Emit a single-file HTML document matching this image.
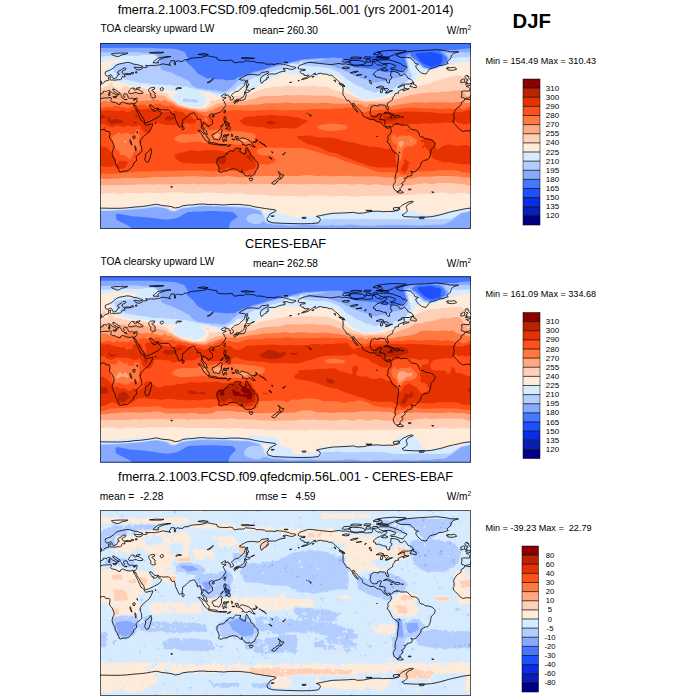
<!DOCTYPE html><html><head><meta charset="utf-8"><title>DJF TOA clearsky upward LW</title><style>html,body{margin:0;padding:0;background:#fff}svg{display:block}</style></head><body><svg width="700" height="700" viewBox="0 0 700 700" font-family="'Liberation Sans', sans-serif" fill="#000"><rect width="700" height="700" fill="#fff"/><defs><clipPath id="c0"><rect x="100" y="43.0" width="371" height="186.0"/></clipPath><clipPath id="c1"><rect x="100" y="276.3" width="371" height="186.4"/></clipPath><clipPath id="c2"><rect x="100" y="510.0" width="371" height="186.0"/></clipPath></defs><g clip-path="url(#c0)"><rect x="99" y="42.0" width="373" height="188.0" fill="#1e50ff"/><path fill="#4678ff" fill-rule="evenodd" d="M96.0,39.0 96.0,233.0 475.0,233.0 475.0,39.0ZM370.4,57.9 371.4,56.6 373.0,56.0 378.4,55.3 382.2,55.5 383.5,56.0 387.1,56.0 389.2,56.6 390.0,57.3 390.0,58.4 388.9,59.4 386.1,60.4 375.3,60.4 371.4,59.4 370.4,58.4ZM415.7,54.2 416.3,53.5 417.5,52.9 429.9,51.9 433.0,52.2 439.7,54.0 441.8,55.0 442.5,56.0 441.8,62.8 440.7,64.1 433.5,66.6 430.9,66.9 423.0,63.5 418.1,58.6Z"/><path fill="#87aaff" fill-rule="evenodd" d="M96.0,48.6 96.0,233.0 131.6,233.0 131.8,228.9 131.0,227.8 126.4,224.7 117.9,220.6 116.1,219.1 115.8,214.7 116.9,213.6 132.6,216.2 146.5,217.2 164.8,219.6 168.7,219.6 177.7,217.8 187.7,212.1 191.8,212.1 193.9,211.6 205.0,211.6 207.6,211.0 216.3,211.0 218.4,211.6 227.1,211.6 229.7,212.1 232.8,212.1 237.5,216.2 237.5,217.0 231.8,221.1 230.2,222.7 228.9,227.8 228.9,233.0 475.0,233.0 475.0,48.0 470.4,48.0 468.0,48.6 460.6,49.1 455.2,50.1 444.8,50.1 440.5,50.9 440.5,51.4 447.2,57.9 447.2,59.4 446.1,62.0 444.8,63.3 441.0,65.1 432.0,68.2 428.1,68.2 426.0,67.7 423.5,66.4 418.6,61.7 412.6,57.6 410.8,55.8 410.3,54.8 410.6,52.9 408.0,54.0 405.7,55.8 404.9,57.1 405.4,61.0 406.7,65.1 405.4,67.9 401.8,71.8 392.8,71.8 390.7,72.3 386.1,72.3 376.3,69.5 367.3,68.7 365.5,68.2 362.1,68.2 360.3,67.7 357.0,67.7 350.6,65.6 348.8,64.6 345.4,62.0 343.9,59.9 341.5,57.9 337.2,57.9 333.3,57.3 328.4,57.9 320.9,57.9 301.9,59.4 289.5,62.5 281.0,63.5 260.9,70.3 253.9,71.8 247.5,74.4 244.4,74.9 240.0,77.0 237.5,77.5 234.1,80.1 229.7,79.8 228.2,80.3 225.6,80.3 222.8,79.3 219.7,79.6 213.2,79.0 210.9,78.0 207.6,78.5 205.8,78.0 199.8,74.4 198.3,73.9 196.2,72.1 196.0,71.3 192.4,67.2 185.7,61.5 185.9,60.4 187.5,59.1 187.7,58.1 185.1,52.7 184.1,51.7 175.9,49.1 169.2,48.6 159.1,48.6 154.0,48.0 139.8,47.8 99.4,48.0Z"/><path fill="#b4cdff" fill-rule="evenodd" d="M96.0,52.4 96.0,212.3 100.1,211.0 114.3,211.0 116.6,210.5 130.0,210.0 131.8,209.5 141.9,209.0 156.0,206.9 165.6,208.5 171.8,211.6 175.4,211.6 178.2,210.0 182.3,208.5 202.9,206.1 219.4,206.4 221.7,206.9 233.1,206.9 235.4,207.4 243.9,207.4 246.0,207.9 249.8,207.9 259.3,210.8 260.6,211.8 261.7,214.4 261.4,215.2 256.5,213.4 253.4,213.4 249.8,214.4 248.3,215.4 246.7,217.2 246.5,219.8 248.3,221.9 253.7,224.0 258.3,224.0 260.9,222.9 263.5,220.9 265.0,222.9 266.3,223.4 274.0,224.7 281.2,224.7 289.0,225.8 305.5,225.0 314.7,225.0 316.5,225.5 328.4,225.5 330.5,225.0 333.0,225.0 335.9,225.5 340.2,225.5 349.8,224.5 365.0,225.8 372.5,225.8 384.3,225.0 408.5,225.0 417.8,225.5 444.6,224.5 451.0,220.9 460.8,213.6 468.6,212.1 471.1,211.0 475.0,211.0 475.0,52.4 457.2,52.2 446.4,52.7 445.6,53.5 448.5,57.3 448.5,58.9 446.7,63.0 445.9,63.8 441.8,65.6 430.9,69.2 428.6,69.2 423.5,67.7 416.5,61.5 409.0,56.3 407.7,56.3 406.5,56.8 405.9,57.6 406.5,61.0 407.7,64.3 408.0,68.2 407.7,71.0 406.7,72.8 403.9,74.4 400.5,77.0 398.5,77.7 393.3,78.5 388.7,80.6 385.6,81.1 384.8,81.6 380.2,81.6 377.1,82.7 372.7,82.4 366.3,79.6 361.6,78.5 357.8,76.5 354.4,75.9 349.5,72.8 345.1,71.3 342.6,69.7 336.1,67.7 330.2,65.1 323.5,64.1 319.6,64.1 308.3,63.0 307.5,62.5 308.3,61.7 323.8,59.7 324.5,59.4 324.3,59.1 318.6,58.9 315.8,59.4 305.0,59.9 300.3,61.0 297.7,62.5 293.6,62.5 288.7,63.5 283.3,64.1 278.2,66.1 273.8,67.2 249.8,74.9 238.5,80.1 230.5,88.3 227.1,89.9 225.3,91.2 223.3,91.7 221.5,91.7 216.1,90.4 211.9,90.4 209.9,89.6 206.8,89.6 204.2,88.9 196.7,88.1 192.1,85.5 189.3,81.6 187.5,80.1 184.1,79.0 182.1,77.5 175.4,74.9 170.7,72.3 167.9,71.8 161.7,69.5 160.4,67.4 159.9,57.9 157.3,55.5 153.2,53.5 141.4,52.7 137.5,51.9Z"/><path fill="#d7ebff" fill-rule="evenodd" d="M96.0,57.1 96.0,211.6 100.1,210.3 110.7,210.3 125.4,209.5 134.7,208.5 141.4,208.2 156.0,206.1 166.9,207.9 171.2,210.3 173.0,210.8 174.8,210.8 183.1,207.4 185.4,207.4 201.4,205.4 211.2,205.4 213.5,205.9 228.4,205.9 233.3,206.4 248.8,206.9 259.3,209.8 260.9,210.5 261.7,211.3 264.2,216.5 265.3,219.8 266.0,220.6 267.3,220.9 268.9,221.9 270.2,221.9 273.8,222.9 303.7,223.7 318.1,222.9 322.0,219.3 330.5,219.3 333.3,218.8 341.5,218.8 343.1,219.3 358.0,219.3 361.6,218.8 378.9,219.3 408.5,219.3 410.3,218.8 415.5,218.8 418.6,219.3 421.9,218.8 426.0,218.8 428.6,219.3 443.8,219.3 446.7,218.8 450.5,219.1 455.2,216.7 461.1,212.6 467.0,211.6 471.1,210.3 475.0,210.3 475.0,56.6 465.2,57.3 458.8,57.3 455.9,57.9 451.0,57.9 450.3,58.4 448.2,62.2 446.4,64.6 430.9,70.0 428.6,70.0 424.0,69.0 422.4,68.2 413.9,61.2 407.5,58.4 407.2,60.2 408.5,63.8 409.0,67.7 410.1,71.3 411.9,74.6 411.9,76.5 409.0,79.6 406.2,81.9 403.1,83.2 399.5,85.5 396.2,86.8 394.1,88.3 387.1,90.9 378.9,91.4 376.1,92.5 374.3,92.5 372.2,91.2 366.3,89.9 361.4,87.3 357.0,85.8 355.2,84.2 348.5,80.6 345.7,78.5 340.8,73.4 336.9,71.3 334.8,70.8 330.2,68.7 326.3,67.7 316.3,66.6 311.9,66.6 303.7,65.6 302.6,64.1 302.9,62.0 302.1,61.5 300.8,62.0 297.5,64.8 294.6,63.8 291.0,63.8 287.7,64.6 285.9,64.6 284.9,65.1 284.3,67.2 281.2,69.2 272.0,71.5 267.9,73.4 264.0,75.9 261.9,76.5 255.2,77.0 245.4,82.4 243.1,84.2 238.7,85.5 234.4,89.9 231.8,90.7 228.2,92.5 223.0,94.0 216.6,93.5 215.8,93.0 211.9,92.5 208.9,91.2 205.0,90.9 201.4,89.9 196.5,89.4 193.9,88.3 190.8,88.3 186.7,86.5 182.3,86.5 179.5,85.8 171.8,85.8 169.7,84.7 165.6,85.0 163.8,84.7 163.0,84.2 161.2,84.2 160.2,84.7 156.3,84.2 151.9,84.5 147.3,83.2 140.6,82.9 139.3,82.4 135.9,82.1 133.1,81.1 129.8,80.8 128.0,80.1 126.7,80.1 125.1,79.6 123.8,78.5 121.8,78.0 117.4,74.9 113.5,70.5 113.0,69.5 113.0,67.9 115.1,64.8 115.8,64.3 127.7,63.3 135.7,64.3 140.1,66.4 142.1,66.9 150.6,64.3 158.4,60.2 158.9,59.1 158.6,58.4 156.3,56.3 153.2,54.8 141.1,55.3 138.3,56.0 117.9,55.3 113.5,56.0 107.1,56.0 101.7,56.8ZM182.8,100.0 183.9,98.4 185.4,98.4 189.5,99.4 193.7,98.9 196.5,99.4 198.5,101.5 197.5,102.8 195.7,102.8 194.9,102.3 192.6,102.3 191.3,101.8 184.4,102.0 183.1,101.3ZM178.5,96.6 179.7,96.3 180.3,97.1 179.7,97.6 179.0,97.6Z"/><path fill="#ffebda" fill-rule="evenodd" d="M410.3,64.1 410.1,64.8 410.6,66.9 411.6,67.7 411.9,66.1 411.1,64.6ZM96.0,61.7 96.0,209.0 109.7,209.0 111.7,208.5 116.6,208.5 121.3,207.4 123.1,207.9 128.0,207.9 131.0,207.4 136.5,205.4 139.0,205.9 142.1,205.9 144.7,205.1 151.1,205.6 157.1,204.8 165.8,206.4 168.1,207.4 171.0,209.5 174.3,210.3 183.1,205.1 189.0,205.4 193.1,204.3 201.1,204.3 208.3,203.3 209.1,203.8 213.5,204.6 224.6,204.1 235.6,205.1 246.0,205.4 250.6,205.9 261.2,209.0 262.2,209.8 263.2,212.3 264.0,213.1 265.3,213.1 267.6,212.3 268.1,211.8 268.1,210.3 268.9,209.5 273.8,209.5 275.6,210.3 275.8,212.1 276.6,212.6 284.1,215.2 290.3,215.7 295.7,218.0 299.0,217.8 306.5,216.2 315.0,216.5 316.8,215.2 322.0,213.6 328.4,213.1 330.5,212.6 349.8,212.1 363.4,212.9 368.3,211.0 379.4,210.8 383.0,211.6 387.7,211.6 393.3,210.8 399.2,208.2 400.8,208.7 401.6,212.1 405.2,212.1 408.0,210.0 411.1,210.0 415.0,211.0 419.1,213.1 429.6,215.2 431.5,215.2 435.8,214.1 439.7,214.1 442.3,213.6 446.7,211.6 452.1,210.3 459.3,210.0 463.4,209.0 475.0,209.0 475.0,62.0 467.0,61.7 454.1,63.5 453.1,64.1 449.5,64.6 442.8,67.7 438.4,68.7 432.0,71.3 426.0,71.3 423.5,72.8 417.3,75.2 416.5,75.9 416.3,77.2 414.7,79.8 412.1,82.1 411.6,83.9 409.8,85.8 402.1,89.9 399.2,90.4 394.4,93.5 390.0,94.5 386.1,96.6 378.6,98.2 376.8,98.9 370.6,98.7 367.8,99.2 361.9,98.7 359.6,97.1 356.0,95.6 349.8,91.4 345.9,87.6 345.4,86.5 341.5,82.4 339.2,77.5 336.1,75.7 333.0,75.4 329.7,73.9 327.9,74.4 322.5,74.1 317.1,75.2 302.1,75.2 297.7,74.4 294.1,74.4 290.3,73.6 286.1,73.6 282.3,74.4 278.4,75.9 272.2,77.5 267.6,80.8 256.3,87.8 250.1,89.4 248.3,89.4 245.2,87.8 243.6,87.8 241.6,88.9 238.2,89.4 236.2,91.4 234.1,92.5 233.1,92.5 221.2,96.6 218.6,96.6 216.3,96.1 213.7,94.5 208.9,92.5 200.4,92.0 199.8,92.5 201.9,93.8 206.0,98.2 206.5,99.2 206.0,102.0 204.0,105.6 203.2,106.2 198.8,106.9 192.9,107.2 180.3,103.8 175.1,100.2 173.8,98.7 173.3,97.1 173.3,95.1 176.4,93.0 177.4,91.7 177.2,91.4 169.2,90.9 166.9,90.1 162.2,89.9 159.6,89.1 157.1,89.1 153.2,87.8 148.0,87.3 143.7,86.3 140.1,86.5 136.5,85.5 130.8,85.5 126.9,84.2 123.8,83.7 120.2,81.9 115.8,81.6 114.3,80.6 110.9,80.1 109.1,79.0 106.8,77.0 106.8,74.9 106.1,72.3 106.3,69.7 108.1,67.9 111.2,65.9 114.3,62.8 123.6,61.2 123.8,60.7 120.5,59.9 115.6,59.9 113.8,60.4 107.6,60.4 105.5,61.0 104.0,62.0Z"/><path fill="#ffd0b8" fill-rule="evenodd" d="M170.7,207.9 171.5,209.0 172.3,209.2 174.1,209.0 174.1,208.2 173.0,207.4 171.5,207.4ZM475.0,87.0 473.2,88.3 471.4,88.3 470.1,86.8 470.1,85.5 466.0,81.9 464.2,79.3 463.7,77.7 462.4,76.5 458.8,75.4 454.4,75.4 451.8,76.5 443.6,78.5 438.2,80.6 435.3,81.1 429.4,83.7 423.0,84.7 420.4,85.8 415.7,86.8 413.4,87.8 409.6,88.6 404.1,91.4 399.5,93.0 393.8,96.1 389.2,97.1 386.1,98.9 383.5,99.4 379.9,99.4 377.6,100.2 365.5,100.5 362.1,100.0 357.0,97.6 353.4,96.6 350.3,95.1 348.2,93.5 344.6,93.2 339.5,91.4 335.1,90.7 327.6,87.3 325.3,86.8 317.6,86.8 314.2,85.8 311.1,85.8 307.8,86.5 296.7,86.5 286.4,85.5 284.6,85.8 282.0,86.8 274.8,86.8 270.4,87.8 265.3,88.3 262.4,89.4 259.1,89.9 244.9,96.3 242.1,96.1 241.1,95.6 236.9,95.6 235.9,96.1 233.3,96.1 231.3,95.6 229.2,96.6 225.3,97.1 219.7,99.2 217.9,99.2 215.8,100.7 210.9,100.5 210.1,101.3 210.1,103.6 208.9,104.9 207.3,105.4 205.2,107.5 204.0,108.0 197.5,108.2 191.8,108.0 180.3,104.9 174.6,101.3 171.8,98.4 169.9,97.6 168.1,95.3 168.1,93.5 165.8,93.5 164.5,92.7 160.9,92.5 158.6,90.9 155.0,90.9 152.2,89.4 147.5,89.9 143.2,88.1 138.0,88.3 134.9,87.3 133.6,87.3 131.6,88.1 125.9,86.3 123.1,86.5 121.8,88.9 120.2,89.4 117.9,89.4 117.1,88.6 117.1,87.3 115.8,87.8 114.3,87.3 112.5,85.5 112.8,83.2 112.2,82.7 111.2,82.7 107.9,86.0 104.5,86.8 102.2,88.3 100.4,88.3 99.1,86.8 99.1,85.5 96.0,83.2 96.0,193.7 97.8,194.3 100.6,194.3 103.2,193.5 105.5,193.5 107.6,193.0 113.3,193.0 117.1,194.0 122.0,194.0 126.7,193.0 137.2,193.0 139.8,193.5 144.2,193.5 147.5,192.4 163.0,193.2 166.9,192.4 173.6,192.2 183.6,192.4 185.4,193.0 191.1,193.5 194.7,193.0 199.8,193.2 205.0,192.4 210.4,192.4 211.9,193.0 220.4,193.0 225.3,193.7 242.3,193.5 248.3,194.5 261.7,194.5 270.9,195.8 290.5,195.8 305.0,196.8 308.8,195.8 326.9,195.5 330.7,196.6 333.8,196.6 337.9,195.8 346.4,195.8 351.8,196.6 358.3,196.8 360.6,196.1 363.4,195.8 392.3,195.8 398.2,195.5 400.3,195.0 408.8,195.0 412.6,194.3 418.6,194.5 423.0,193.7 432.7,194.0 440.5,192.4 444.8,192.4 449.7,194.0 459.8,192.7 464.7,193.0 468.8,194.3 471.6,194.3 475.0,193.5Z"/><path fill="#ffa882" fill-rule="evenodd" d="M475.0,92.5 472.9,92.5 472.4,93.8 470.1,95.8 466.7,96.1 465.5,94.8 464.9,93.0 460.8,90.4 452.3,90.7 449.0,91.4 441.2,91.7 437.4,92.5 429.1,92.2 426.0,93.0 419.3,93.5 415.2,94.5 409.6,95.1 399.0,98.7 394.9,99.7 390.2,101.8 379.4,102.5 372.5,101.8 364.2,102.3 361.6,101.3 356.7,100.2 352.9,100.2 351.1,99.4 343.9,99.2 336.4,97.1 328.7,95.6 318.9,95.8 301.1,95.1 289.8,95.6 288.2,95.1 284.3,95.1 280.2,96.1 263.0,96.1 258.8,97.1 253.4,99.2 249.6,99.7 244.4,101.3 238.7,101.0 225.3,101.5 221.7,103.3 216.3,103.8 212.5,106.4 210.7,106.9 205.8,109.5 199.3,109.8 196.7,109.0 190.3,108.5 180.5,105.9 175.6,103.3 171.0,100.2 168.1,99.2 164.3,96.1 155.5,94.5 152.7,92.2 151.1,92.5 148.0,94.0 145.5,93.8 144.7,94.3 143.9,94.3 142.9,93.0 141.6,93.0 140.3,92.0 138.0,91.2 133.9,91.4 132.8,92.0 131.8,93.5 129.5,94.0 127.2,94.0 124.3,92.5 122.3,93.0 116.4,93.2 112.0,92.2 108.4,92.7 105.5,92.7 103.0,92.2 101.9,92.5 101.4,93.8 99.6,95.6 98.1,96.1 96.0,96.1 96.0,185.2 119.7,185.2 143.7,184.2 155.0,184.4 159.1,183.9 165.8,184.4 173.0,184.4 176.6,183.9 189.5,184.2 191.1,183.7 194.7,183.7 198.5,184.4 203.7,183.9 222.2,184.4 228.2,183.4 233.8,183.7 236.2,184.2 247.0,184.2 252.4,183.7 255.5,184.2 268.6,183.9 274.6,184.4 278.4,183.9 288.7,184.2 290.8,183.7 293.1,183.7 298.0,184.4 314.0,183.9 325.8,184.2 329.2,184.7 343.3,183.7 350.8,184.4 354.7,184.4 360.1,183.7 367.3,185.0 369.9,185.0 373.7,184.2 377.1,184.2 384.6,185.5 394.6,185.2 395.4,185.7 398.7,186.0 400.3,185.5 402.1,185.7 403.1,185.2 412.4,185.2 416.3,184.2 420.9,183.9 424.8,183.1 430.9,183.9 434.5,183.9 437.9,183.1 451.8,182.9 456.4,183.7 463.1,183.9 468.3,185.5 475.0,185.2Z"/><path fill="#ff7840" fill-rule="evenodd" d="M96.0,103.1 96.0,177.5 104.5,179.0 119.2,178.5 124.3,177.7 139.5,178.0 149.3,177.7 152.4,176.9 164.0,177.2 168.1,176.7 182.6,176.7 185.9,176.2 197.5,176.2 200.4,176.7 205.5,176.4 208.3,176.9 214.0,176.9 215.6,176.4 223.8,176.4 225.6,175.9 229.5,175.9 238.2,177.2 251.1,177.2 255.5,175.9 258.3,175.9 260.1,176.4 264.8,175.9 279.4,175.9 280.5,176.7 281.2,176.7 282.8,175.7 300.6,175.9 301.9,175.4 310.9,175.1 316.0,176.2 322.2,175.7 326.1,175.7 328.4,176.2 349.3,175.7 353.1,176.4 372.2,176.2 380.4,176.7 384.8,177.5 393.6,177.5 396.2,179.0 399.5,176.9 402.9,176.9 406.7,178.5 410.8,178.5 420.1,176.4 427.6,176.7 437.4,175.9 451.0,175.9 458.5,176.4 463.1,177.5 467.5,177.5 471.9,178.5 475.0,178.8 475.0,100.7 474.2,100.7 471.6,102.8 469.8,102.8 468.3,103.3 464.4,102.8 463.9,102.3 458.2,102.0 452.8,102.8 450.3,102.8 448.5,102.3 428.4,102.3 426.6,102.8 423.2,102.8 421.1,102.3 413.9,102.3 408.5,103.3 399.2,104.4 390.2,106.2 386.1,105.6 378.1,105.9 374.5,104.4 369.6,104.1 368.8,104.4 367.8,106.2 366.8,106.9 364.2,106.4 361.6,104.4 358.3,104.1 356.0,105.1 353.9,103.8 352.6,103.6 335.4,103.8 325.0,102.8 322.0,102.8 316.0,103.6 311.1,103.1 292.3,103.3 288.2,102.5 283.6,102.5 280.0,103.3 264.8,103.3 259.9,104.4 250.6,104.4 243.9,105.4 231.3,105.1 227.1,105.6 224.8,106.4 223.3,105.9 221.5,105.9 218.6,106.9 217.1,108.0 214.8,108.5 212.5,110.6 209.6,110.3 206.3,112.1 199.3,111.6 195.2,110.0 189.8,109.5 187.0,108.5 182.8,108.0 182.1,107.5 177.7,106.4 170.7,102.3 167.6,101.8 165.6,100.2 164.0,99.7 161.7,101.3 159.4,101.3 158.1,99.7 155.0,100.2 152.9,98.2 151.9,98.7 151.1,100.2 149.6,101.0 147.3,100.2 145.7,100.2 145.0,100.7 141.9,100.7 141.1,101.3 137.2,100.7 136.5,101.3 132.3,101.8 116.1,102.3 114.8,101.8 109.1,101.8 106.6,101.3 105.8,100.7 103.2,100.7 100.6,102.8 98.8,102.8 97.3,103.3ZM401.6,140.8 403.1,141.3 403.9,142.1 403.9,143.1 402.9,145.4 400.5,147.2 400.0,147.2 398.7,144.1 398.7,143.1 400.0,141.0ZM125.1,140.3 126.4,141.6 125.9,142.6 124.6,142.3 123.8,141.6ZM411.4,139.7 411.6,140.8 410.8,141.6 410.3,141.6 410.3,140.0ZM238.0,140.3 239.0,139.2 241.8,139.0 246.2,139.2 247.5,140.5 246.7,141.6 245.4,142.1 241.1,142.1 239.0,141.6ZM224.3,136.6 225.1,136.6 225.9,137.4 225.3,139.0 224.1,138.7 223.5,137.9 223.5,137.4ZM204.5,134.1 205.0,134.1 206.0,135.1 206.0,136.1 205.2,136.6 204.5,136.4 204.0,135.6ZM216.3,133.0 218.1,133.3 219.4,134.8 219.4,135.6 217.6,138.5 216.1,138.5 214.8,137.9 213.5,136.1 213.7,135.1Z"/><path fill="#ff501a" fill-rule="evenodd" d="M96.0,107.7 96.0,172.6 101.9,173.8 112.0,173.8 124.3,173.1 129.2,172.3 132.8,172.3 137.2,171.3 145.7,171.8 154.5,171.0 162.0,171.3 164.5,170.7 170.7,171.0 180.8,170.5 203.4,170.5 207.6,171.3 216.6,171.0 219.4,172.6 221.5,172.6 227.7,171.0 234.1,171.0 236.2,171.3 240.5,172.8 241.8,172.8 244.9,174.4 248.5,174.4 249.8,174.9 251.4,174.9 254.2,173.3 257.8,168.7 260.1,164.3 263.2,164.0 265.3,164.5 268.6,164.5 273.5,162.5 275.6,160.7 275.3,158.9 273.3,156.5 271.5,155.5 263.0,155.5 259.1,154.5 257.8,153.7 257.0,152.1 257.0,151.1 258.6,149.0 265.8,147.2 276.4,147.8 282.8,147.5 284.6,148.0 300.8,148.0 311.4,150.1 320.7,153.2 321.7,153.2 328.1,155.8 336.1,157.3 345.4,161.4 348.8,162.5 350.0,162.5 355.7,164.5 361.9,166.1 375.3,171.3 380.4,172.3 393.3,172.3 394.9,172.8 398.7,172.3 401.3,174.4 402.9,174.9 405.9,174.9 407.0,174.4 410.1,174.4 415.2,171.5 431.7,171.3 438.2,170.2 449.7,170.0 457.7,170.7 463.4,172.6 467.3,172.6 472.9,173.8 475.0,173.8 475.0,107.5 473.2,108.0 470.4,106.9 468.3,106.9 464.7,109.0 462.4,109.0 459.3,107.2 458.5,107.2 456.4,108.5 453.1,109.0 449.7,108.5 446.1,108.5 444.8,109.0 439.2,109.0 435.3,108.5 420.9,108.2 410.6,107.5 394.1,109.5 374.5,110.0 371.2,111.1 368.1,111.1 365.5,112.6 364.2,112.6 363.4,112.1 360.1,112.1 356.2,110.6 352.4,108.0 350.0,107.5 345.7,107.5 341.0,108.5 335.6,108.5 331.7,109.3 311.7,109.0 304.7,110.3 285.9,110.0 280.7,110.6 275.3,109.8 268.6,109.8 266.6,110.3 257.0,110.0 255.5,110.6 242.3,110.6 240.5,110.0 232.8,110.0 228.7,111.1 224.1,111.1 221.5,111.6 218.1,113.7 215.8,113.7 214.8,114.2 212.2,114.4 209.6,113.9 207.0,116.8 202.4,115.2 201.6,114.2 200.6,113.7 198.0,113.1 194.7,111.6 188.0,110.6 185.7,109.5 182.3,109.5 180.8,108.7 178.2,108.5 171.2,105.4 165.8,106.2 164.5,105.4 162.0,105.1 159.9,103.8 156.0,103.8 154.7,104.4 153.7,105.4 150.1,104.9 148.0,105.9 146.5,105.9 144.2,104.6 138.5,104.9 135.7,106.4 131.6,106.4 127.4,108.0 124.1,106.9 121.0,106.9 117.9,105.9 114.0,105.9 112.0,107.5 110.9,107.5 108.9,106.4 107.1,107.2 104.5,106.9 103.0,108.0 99.4,106.9 97.3,106.9ZM409.6,135.1 416.8,139.7 416.8,142.6 416.0,143.9 413.7,144.9 411.9,146.5 406.7,146.2 405.4,146.7 403.1,149.0 402.3,152.4 402.3,156.3 401.3,158.1 400.8,160.4 399.8,161.7 398.0,157.8 397.7,154.2 396.4,151.4 396.4,149.8 396.9,148.5 396.9,146.2 396.4,144.7 395.6,143.6 394.1,143.4 391.8,140.3 391.5,137.2 393.8,134.8 394.9,135.1 396.9,137.4 397.7,137.4 399.8,135.6 404.1,135.6 404.9,136.1 407.2,136.1 407.7,135.6ZM138.0,129.2 138.8,129.4 139.3,130.2 139.3,131.7 138.5,133.8 140.3,135.9 138.8,139.2 139.0,141.8 139.8,143.1 139.3,145.7 140.3,148.0 140.1,149.8 138.8,150.6 135.9,150.9 134.9,151.4 132.3,155.0 131.3,158.1 130.3,158.9 126.7,157.3 124.6,155.0 122.0,155.0 120.2,154.5 119.7,154.0 119.5,151.9 118.2,149.8 116.4,149.6 115.6,149.0 115.1,146.7 113.5,144.1 113.5,143.1 112.0,141.0 111.5,138.7 113.0,135.9 113.8,135.1 115.1,135.1 117.9,132.5 118.9,132.5 121.0,134.1 126.2,132.8 129.2,133.5 131.0,135.1 131.8,135.1 133.1,134.1 134.7,133.5 135.7,132.0 135.9,130.2 136.7,129.4ZM174.6,139.5 174.8,137.9 176.1,136.6 179.2,135.1 183.1,134.1 185.9,134.6 194.9,134.1 199.3,132.5 201.4,130.2 202.7,129.4 203.7,129.4 205.0,128.4 206.0,128.4 209.6,130.4 211.9,130.4 216.3,129.4 221.7,129.4 223.5,130.4 228.7,132.0 230.0,132.0 233.3,131.0 241.8,131.2 246.5,132.5 252.4,133.0 254.2,133.8 255.7,135.9 255.7,138.7 255.0,140.8 251.1,144.4 245.7,144.1 244.7,144.7 236.9,144.7 230.0,143.9 222.8,144.1 220.2,143.1 215.3,143.1 214.0,142.6 210.4,142.6 209.4,143.1 203.2,143.1 200.6,142.1 192.1,141.8 185.4,142.8 181.0,142.8 176.4,141.3ZM317.8,126.8 319.9,125.3 323.5,124.2 332.5,123.5 343.9,124.8 346.4,125.8 347.7,127.1 347.7,127.9 345.9,129.2 343.9,129.7 337.9,130.2 336.4,130.7 329.9,131.0 326.9,130.7 319.6,129.2 317.8,127.9ZM204.5,118.0 206.3,117.8 207.0,118.6 207.6,119.9 207.3,121.9 206.3,121.9 204.2,119.1Z"/><path fill="#e63200" fill-rule="evenodd" d="M405.2,159.1 404.4,159.1 403.9,159.6 404.1,162.5 402.9,164.3 402.3,166.6 400.8,168.4 400.8,169.5 401.3,170.2 404.1,172.3 405.2,172.0 407.2,170.0 407.2,169.2 408.8,166.6 408.3,165.3 408.3,163.8 409.0,163.3 410.3,163.5 410.8,163.0 410.8,162.5 410.3,162.2 408.8,162.2ZM255.7,166.6 255.7,161.2 253.7,157.1 251.1,154.2 250.1,151.4 247.2,148.3 245.7,148.8 244.9,151.4 244.1,152.4 242.6,152.4 241.1,151.1 240.5,149.3 239.0,148.5 235.4,148.8 232.6,150.6 228.9,150.9 226.4,152.1 225.1,152.1 223.3,151.4 217.6,150.3 203.2,150.3 200.4,151.1 194.9,150.9 193.4,150.3 189.5,150.3 184.6,152.1 177.9,153.2 176.4,154.0 175.1,155.2 174.6,156.5 175.6,158.6 178.7,160.9 181.8,162.5 196.7,163.8 215.0,163.5 218.4,166.4 219.7,170.2 223.5,169.7 225.1,169.2 227.4,167.6 229.2,167.4 230.5,168.2 236.4,168.2 240.0,170.2 241.8,170.2 243.9,171.8 244.9,171.8 245.4,171.3 247.5,170.7 249.8,169.2 252.9,169.2 254.7,168.2ZM96.0,145.2 96.0,164.3 98.3,164.5 104.8,167.1 109.4,167.1 112.2,166.1 113.8,166.1 118.2,168.7 124.1,168.4 127.4,164.3 128.0,163.3 127.7,162.5 126.9,161.7 125.1,161.2 124.6,160.7 119.2,160.7 118.2,161.4 117.9,163.3 117.4,163.8 116.6,163.8 116.1,163.3 116.4,160.7 115.6,158.6 113.5,155.2 111.7,153.7 110.4,150.9 108.1,148.3 104.8,146.7 100.1,146.5ZM420.6,141.0 421.4,142.6 423.5,142.6 424.2,143.4 423.7,145.4 421.9,147.0 421.9,147.8 423.7,148.0 424.2,147.0 425.3,146.5 426.6,149.0 428.4,150.6 429.1,152.9 430.7,152.9 431.2,153.4 431.2,156.5 433.5,158.9 437.4,159.9 443.0,162.5 449.0,162.2 452.3,163.0 458.2,163.5 460.6,164.3 468.3,164.3 475.0,166.9 475.0,146.7 471.1,146.5 465.7,144.9 463.1,144.9 460.1,145.7 455.9,145.9 451.0,144.4 448.2,144.4 443.6,145.7 441.0,147.2 438.7,149.3 436.9,149.6 436.1,148.5 436.1,147.5 435.3,145.7 435.3,142.6 434.8,141.6 432.2,139.5 430.7,139.0 423.7,138.5 421.9,139.5ZM297.2,136.4 297.2,137.4 298.0,138.2 305.2,142.8 309.1,144.4 317.3,146.5 327.1,151.1 331.7,152.7 337.2,153.7 344.9,157.3 351.6,159.4 357.5,162.0 363.2,163.5 369.9,166.1 378.6,167.4 395.1,167.6 396.7,167.1 397.2,166.4 395.9,161.7 395.4,154.5 394.4,151.4 393.1,149.8 391.3,148.8 385.1,148.8 377.6,147.0 370.6,146.7 364.7,145.2 360.3,144.7 354.2,142.6 348.2,142.1 347.5,141.6 342.1,140.5 337.2,138.7 332.5,137.7 316.8,137.2 310.4,135.4 298.0,135.9ZM406.7,130.2 406.7,130.7 407.7,131.2 408.8,131.2 409.6,130.4 409.0,129.4 408.0,129.4ZM105.5,127.3 105.0,126.8 104.3,127.1 103.0,128.4 103.0,128.9 103.7,129.4 105.3,129.4 105.8,128.9ZM240.0,120.4 240.0,121.1 242.1,123.7 244.9,125.3 255.2,127.1 263.5,127.3 269.1,128.9 284.6,128.1 292.3,128.4 296.4,127.9 299.0,126.8 303.1,123.7 307.0,122.4 308.0,121.1 307.8,120.4 307.0,119.9 302.6,119.6 299.5,117.8 297.7,117.3 294.6,117.3 285.9,115.7 277.6,115.7 272.0,114.7 268.4,114.7 264.8,115.5 257.0,115.7 253.7,116.5 248.5,116.5 244.1,117.8ZM475.0,110.8 473.7,110.8 471.6,110.0 469.1,110.0 467.8,110.8 464.7,111.1 463.1,111.8 461.9,111.8 459.8,112.6 455.2,112.1 453.6,112.9 444.8,113.4 436.3,113.1 433.5,112.6 417.0,111.6 405.4,111.6 399.2,112.1 397.4,112.6 386.6,112.6 382.5,113.4 378.6,113.4 372.2,115.5 370.6,115.2 368.6,116.8 366.8,116.8 366.8,118.0 367.6,119.1 369.9,120.1 373.2,120.6 376.1,121.7 379.7,121.7 384.3,124.5 385.3,124.0 398.7,124.2 402.1,126.1 403.1,125.8 402.6,124.5 404.4,123.7 407.0,123.7 407.7,124.2 410.6,124.2 411.9,123.7 420.4,124.0 423.0,123.2 427.3,123.2 430.9,123.7 434.5,123.2 441.0,123.2 444.3,122.4 453.1,122.7 455.4,121.7 456.7,121.9 458.5,123.7 461.1,123.2 463.1,124.2 465.7,124.5 470.6,123.0 473.2,123.7 475.0,123.7ZM196.0,120.1 193.7,118.8 188.8,114.4 187.7,114.4 186.7,115.2 185.9,115.2 183.6,112.6 182.6,112.6 180.5,111.6 178.2,111.6 175.4,110.6 174.3,110.6 172.8,111.6 162.0,112.1 160.2,111.6 157.3,109.3 155.3,109.8 152.7,109.8 149.3,108.5 142.6,109.3 138.5,109.0 137.2,109.8 132.3,109.8 130.8,110.6 129.5,111.8 126.7,112.6 124.9,110.6 124.1,110.3 121.0,110.6 119.7,111.3 113.5,111.1 110.4,110.0 102.7,110.8 100.6,110.0 98.1,110.0 97.6,110.6 96.0,110.8 96.0,124.0 99.6,123.0 102.2,123.7 104.3,123.7 105.5,125.5 107.6,125.8 111.7,127.6 113.0,127.3 114.0,126.3 117.9,125.5 120.0,125.8 122.8,127.3 124.9,126.8 126.9,125.5 128.5,125.5 131.8,126.8 136.7,126.6 139.3,125.5 140.6,126.6 142.6,130.2 146.2,133.0 149.1,133.0 150.1,132.3 151.1,130.2 151.1,124.5 151.7,123.5 153.5,122.2 158.1,122.7 166.3,125.0 176.4,125.0 179.0,126.8 182.8,126.6 183.6,124.5 185.4,123.2 187.7,123.2 189.3,123.7 193.9,123.5 196.0,122.2ZM150.4,119.3 151.1,118.6 151.9,119.1 151.7,119.9 150.9,119.9Z"/><path fill="#bb2200" fill-rule="evenodd" d="M226.4,155.5 223.8,156.5 220.4,157.1 218.4,158.1 217.6,159.1 217.6,159.9 218.6,162.5 221.0,163.5 222.2,164.8 224.8,163.5 225.9,162.0ZM246.7,155.2 246.7,157.3 250.3,160.2 250.8,162.0 251.6,161.7 252.1,160.7 250.1,156.5 248.0,154.7ZM133.6,122.2 133.9,123.2 134.7,124.0 135.7,124.0 136.5,123.2 136.5,122.2 135.9,121.7 134.7,121.4ZM266.0,122.4 266.8,123.5 269.1,124.2 273.0,124.2 274.8,123.7 276.1,122.7 274.3,121.4 270.2,120.6 268.1,120.9ZM384.0,118.0 384.3,119.1 387.4,120.6 393.8,120.6 396.4,119.6 396.9,118.8 395.1,116.5 388.4,116.2 385.9,116.8ZM107.6,116.5 107.9,117.5 107.1,118.8 106.8,120.6 107.6,121.7 108.9,122.2 110.2,123.7 111.2,124.2 113.0,123.7 121.0,123.2 122.5,122.4 124.3,122.2 123.3,120.9 121.5,120.6 119.2,119.3 114.6,119.1 113.0,120.1 111.7,120.1 110.9,119.6 109.9,117.3 108.9,116.2ZM175.4,116.8 170.5,116.0 167.6,116.2 165.8,117.0 165.1,117.8 165.1,119.1 166.9,120.4 170.2,120.6 173.3,119.6 174.8,118.0ZM471.6,115.5 471.9,117.3 472.7,118.0 475.0,118.3 475.0,115.5 473.7,114.9 472.4,114.9ZM100.6,115.5 100.9,117.3 101.7,118.0 104.3,118.3 105.3,117.5 105.5,116.8 104.5,115.7 102.7,114.9 101.4,114.9ZM135.7,113.7 135.2,115.2 135.4,116.5 137.5,118.3 138.0,118.3 138.3,117.0 136.7,115.2 136.5,113.7Z"/><path d="M133.5,103.8L131.9,103.5L129.9,104.1L125.8,103.3L123.7,102.3L122.2,102.0L120.6,103.0L120.1,104.6L118.0,104.1L115.8,102.6L112.9,102.1L111.3,101.6L110.5,100.6L111.3,99.3L111.3,97.8L110.3,97.5L108.2,97.9L105.2,98.0L103.1,98.0L100.0,99.0L97.9,99.7L94.5,98.9L93.8,99.0L93.0,100.9L90.4,102.4L89.9,105.0L88.7,106.3L86.6,107.4L85.1,109.1L83.5,111.4L82.5,114.3L83.2,116.4L83.0,119.5L82.0,120.8L82.7,123.1L84.5,124.8L86.3,126.7L88.1,128.8L90.7,130.8L92.3,131.5L95.4,130.6L97.9,131.0L101.0,129.9L102.6,129.5L104.6,129.5L105.7,131.4L107.2,131.5L109.1,131.4L110.0,132.9L109.8,135.0L109.3,137.0L110.3,139.1L112.2,141.0L112.6,142.2L113.7,144.8L114.2,147.4L112.9,150.0L112.2,152.5L112.2,154.6L113.4,157.7L114.9,159.8L115.5,163.4L117.0,165.6L118.0,168.0L118.9,169.8L119.0,171.3L120.6,172.0L123.2,171.1L126.3,171.1L128.3,170.4L130.9,168.0L133.0,165.8L133.9,162.9L136.4,160.8L136.6,158.7L135.9,156.7L137.6,155.1L140.2,153.1L141.9,151.5L141.7,148.9L141.6,146.9L140.5,144.3L140.0,142.4L140.5,140.7L141.7,138.6L143.3,136.8L145.3,135.0L147.4,133.4L149.5,131.4L151.3,128.2L152.6,125.2L152.8,123.8L150.5,124.3L147.9,124.8L145.9,125.3L144.5,124.1L144.3,122.9L142.3,121.0L140.9,120.2L139.8,117.4L138.4,114.8L138.1,113.3L136.8,111.3L135.6,108.6L134.5,107.1L133.6,105.1ZM504.5,103.8L502.9,103.5L500.9,104.1L496.8,103.3L494.7,102.3L493.2,102.0L491.6,103.0L491.1,104.6L489.0,104.1L486.8,102.6L483.9,102.1L482.3,101.6L481.5,100.6L482.3,99.3L482.3,97.8L481.3,97.5L479.2,97.9L476.2,98.0L474.1,98.0L471.0,99.0L468.9,99.7L465.5,98.9L464.8,99.0L464.0,100.9L461.4,102.4L460.9,105.0L459.7,106.3L457.6,107.4L456.1,109.1L454.5,111.4L453.5,114.3L454.2,116.4L454.0,119.5L453.0,120.8L453.7,123.1L455.5,124.8L457.3,126.7L459.1,128.8L461.7,130.8L463.3,131.5L466.4,130.6L468.9,131.0L472.0,129.9L473.6,129.5L475.6,129.5L476.7,131.4L478.2,131.5L480.1,131.4L481.0,132.9L480.8,135.0L480.3,137.0L481.3,139.1L483.2,141.0L483.6,142.2L484.7,144.8L485.2,147.4L483.9,150.0L483.2,152.5L483.2,154.6L484.4,157.7L485.9,159.8L486.5,163.4L488.0,165.6L489.0,168.0L489.9,169.8L490.0,171.3L491.6,172.0L494.2,171.1L497.3,171.1L499.3,170.4L501.9,168.0L504.0,165.8L504.9,162.9L507.4,160.8L507.6,158.7L506.9,156.7L508.6,155.1L511.2,153.1L512.9,151.5L512.7,148.9L512.6,146.9L511.5,144.3L511.0,142.4L511.5,140.7L512.7,138.6L514.3,136.8L516.3,135.0L518.4,133.4L520.5,131.4L522.3,128.2L523.6,125.2L523.8,123.8L521.5,124.3L518.9,124.8L516.9,125.3L515.5,124.1L515.3,122.9L513.3,121.0L511.9,120.2L510.8,117.4L509.4,114.8L509.1,113.3L507.8,111.3L506.6,108.6L505.5,107.1L504.6,105.1ZM150.8,148.4L151.8,152.0L151.0,154.1L150.3,157.2L148.6,161.7L146.6,162.4L145.0,160.3L144.8,158.2L145.7,156.2L145.6,153.6L147.7,152.2L149.5,150.3ZM133.6,105.1L136.0,105.5L136.1,107.1L138.1,110.2L139.7,112.8L140.4,114.3L142.3,116.9L144.0,119.5L144.6,122.3L145.9,122.9L149.5,121.5L153.6,119.5L156.7,117.9L159.3,116.4L160.5,114.8L161.6,112.8L160.3,111.5L158.2,110.7L158.0,108.9L155.6,111.0L153.4,111.2L153.1,109.3L152.4,110.2L151.5,108.4L150.3,107.1L149.5,105.0L151.5,104.8L152.6,106.6L154.6,108.3L156.4,108.5L158.2,108.0L159.1,109.4L161.8,109.9L163.9,110.0L167.0,109.9L168.6,109.8L169.4,110.6L170.3,111.5L171.0,113.0L172.4,114.5L174.3,114.1L175.0,116.4L175.5,119.5L176.7,122.1L177.8,124.1L178.8,126.7L179.9,127.6L180.6,126.8L181.4,126.4L182.2,125.4L182.3,123.6L182.7,122.1L182.7,120.2L184.5,119.0L186.1,117.6L187.6,115.9L189.5,114.6L189.9,113.8L191.7,113.5L193.3,112.8L194.6,113.0L195.1,114.5L196.6,116.1L197.3,117.9L197.2,119.5L198.3,119.7L200.0,118.6L200.7,120.0L201.2,122.1L201.6,124.6L201.3,126.7L201.3,127.9L203.1,129.3L203.5,130.8L204.4,133.0L206.6,134.6L207.4,134.6L206.6,132.4L206.5,130.8L205.3,129.6L204.1,128.9L203.2,127.2L202.3,126.4L203.0,124.6L203.1,122.2L204.1,122.9L205.6,123.6L206.1,124.9L208.0,125.3L208.1,127.0L210.0,125.4L211.3,124.8L212.5,123.8L212.6,122.1L212.1,120.0L210.8,118.6L209.8,117.4L209.0,116.1L210.0,114.5L211.3,113.8L212.8,113.8L213.7,115.0L213.9,114.0L215.4,113.5L217.7,113.0L220.1,112.2L221.6,110.8L223.3,109.3L224.2,107.6L225.5,105.7L225.7,104.2L224.7,103.1L224.0,101.4L222.8,100.0L224.0,98.8L226.2,97.8L224.7,97.1L222.6,97.5L221.4,96.2L221.6,95.5L223.2,94.8L224.7,93.8L225.9,94.2L224.9,95.7L225.7,95.6L228.1,94.8L229.1,96.1L228.6,96.7L230.5,97.0L230.3,98.3L230.3,100.1L231.4,100.1L233.1,99.5L233.5,97.8L232.3,96.0L231.3,95.2L232.4,94.2L233.8,93.1L234.7,92.3L236.5,91.4L238.1,91.3L239.6,90.0L241.2,88.5L242.9,86.9L244.5,85.4L244.8,83.3L245.7,81.0L244.1,80.0L241.7,80.2L239.3,79.4L241.7,77.6L244.8,75.9L247.4,74.7L250.5,74.6L253.6,74.4L257.0,75.0L259.7,74.6L261.6,72.3L264.9,72.1L268.2,71.4L268.3,73.2L266.8,73.8L264.7,74.8L262.8,76.1L261.3,77.1L260.4,79.2L260.5,81.2L261.5,83.3L263.1,82.1L263.4,81.2L264.9,80.2L266.9,79.4L266.7,77.8L268.3,77.9L268.3,76.3L267.5,75.8L268.7,74.2L271.1,74.0L275.5,74.0L277.8,73.0L279.8,72.1L282.9,71.4L284.8,71.5L285.1,69.7L282.9,69.1L284.0,68.2L287.0,68.3L289.6,69.2L292.7,69.5L296.1,67.7L294.8,66.9L291.7,66.8L289.6,65.9L285.5,64.8L283.4,64.3L279.3,63.8L275.7,63.7L275.2,64.7L272.1,64.1L265.9,64.2L264.7,63.2L259.7,62.6L256.6,62.7L254.6,61.6L250.5,61.2L245.3,60.8L243.8,62.1L239.1,62.0L235.0,62.8L233.5,62.3L232.7,60.6L229.8,60.0L227.1,60.6L222.6,60.5L217.5,59.8L216.8,58.0L217.0,57.5L210.3,56.4L207.5,55.7L203.1,57.0L200.0,57.5L193.8,57.9L189.7,58.5L189.1,59.5L184.0,59.9L182.8,61.4L179.9,61.3L177.3,60.8L175.2,62.1L175.7,64.7L174.7,65.0L174.2,62.3L174.9,60.8L171.1,60.6L170.6,62.1L169.0,64.2L170.6,65.4L167.0,64.5L162.3,63.9L158.7,65.1L155.6,65.4L154.6,65.7L151.5,65.5L147.9,65.7L145.6,65.2L147.4,67.0L145.3,67.6L143.8,67.3L141.2,69.2L139.0,70.0L135.9,69.3L134.0,67.1L139.7,67.7L142.3,67.1L142.6,65.9L141.2,65.9L137.1,64.5L134.0,64.2L131.9,63.4L129.4,62.6L126.5,62.5L122.7,63.4L119.6,63.9L116.5,65.1L114.9,66.5L113.4,67.8L111.9,69.0L109.8,70.3L107.2,71.1L105.4,71.9L105.2,73.5L105.5,74.7L106.2,75.7L107.7,76.1L109.8,75.1L110.9,74.5L111.5,75.1L112.2,76.4L113.0,77.8L113.3,78.7L114.7,78.7L114.9,78.0L116.5,77.8L117.1,76.6L117.3,75.4L119.1,74.5L119.5,74.0L117.8,73.3L117.7,71.9L119.1,70.9L121.1,70.1L122.2,69.0L123.0,68.1L124.9,68.0L126.1,68.6L125.4,69.7L123.2,70.7L122.0,71.6L122.2,73.0L123.4,74.0L125.8,73.8L128.3,73.5L129.9,74.0L131.1,74.1L128.9,74.5L125.2,74.6L124.2,75.2L125.0,75.8L125.0,76.8L123.7,76.9L122.5,76.5L121.6,77.6L121.7,78.9L120.6,79.6L119.2,79.7L117.0,79.8L114.6,80.3L112.9,79.9L111.3,80.2L110.3,79.7L110.0,78.7L110.8,77.6L110.8,76.6L109.8,77.0L108.5,77.1L108.5,78.7L109.0,80.2L107.2,80.6L105.2,81.0L104.6,82.1L103.6,82.9L102.6,83.3L101.6,83.7L101.5,84.3L100.1,84.8L98.8,85.0L98.4,85.7L96.9,85.7L95.2,86.0L95.6,86.6L97.4,87.1L98.8,88.5L98.7,90.0L98.1,91.2L95.9,91.1L92.8,90.9L90.5,91.5L90.9,93.1L90.8,95.2L90.2,96.0L90.9,97.7L92.8,97.7L93.6,98.4L94.3,98.7L95.4,98.1L97.7,98.0L99.3,97.0L100.0,96.0L99.7,95.2L100.8,93.8L103.3,92.7L103.2,91.4L104.6,91.2L106.7,91.5L107.7,90.7L109.3,90.2L110.6,91.1L111.3,92.2L112.9,93.2L114.4,93.8L116.1,94.7L116.5,95.9L116.2,96.7L117.0,96.5L117.6,95.7L117.0,95.0L117.5,94.2L119.0,94.7L119.0,94.3L117.5,93.6L116.5,93.1L116.0,92.7L114.9,92.3L114.0,91.1L112.8,90.2L112.7,89.2L114.0,88.8L114.2,89.5L115.5,90.0L117.0,91.1L118.5,92.0L120.0,92.9L120.0,94.4L120.9,95.4L122.0,96.4L121.8,97.4L122.7,98.2L123.5,98.4L123.9,97.5L124.7,97.0L124.0,96.3L123.6,95.4L123.7,94.4L124.7,93.9L126.8,93.8L127.3,94.3L127.0,95.2L127.8,96.0L128.1,97.6L129.1,98.1L130.4,98.6L131.5,98.0L133.5,98.7L135.0,98.5L137.1,98.1L137.0,99.8L136.7,101.4L136.1,102.4L135.3,103.6L133.5,103.8ZM504.6,105.1L507.0,105.5L507.1,107.1L509.1,110.2L510.7,112.8L511.4,114.3L513.3,116.9L515.0,119.5L515.6,122.3L516.9,122.9L520.5,121.5L524.6,119.5L527.7,117.9L530.3,116.4L531.5,114.8L532.6,112.8L531.3,111.5L529.2,110.7L529.0,108.9L526.6,111.0L524.4,111.2L524.1,109.3L523.4,110.2L522.5,108.4L521.3,107.1L520.5,105.0L522.5,104.8L523.6,106.6L525.6,108.3L527.4,108.5L529.2,108.0L530.1,109.4L532.8,109.9L534.9,110.0L538.0,109.9L539.6,109.8L540.4,110.6L541.3,111.5L542.0,113.0L543.4,114.5L545.3,114.1L546.0,116.4L546.5,119.5L547.7,122.1L548.8,124.1L549.8,126.7L550.9,127.6L551.6,126.8L552.4,126.4L553.2,125.4L553.3,123.6L553.7,122.1L553.7,120.2L555.5,119.0L557.1,117.6L558.6,115.9L560.5,114.6L560.9,113.8L562.7,113.5L564.3,112.8L565.6,113.0L566.1,114.5L567.6,116.1L568.3,117.9L568.2,119.5L569.3,119.7L571.0,118.6L571.7,120.0L572.2,122.1L572.6,124.6L572.3,126.7L572.3,127.9L574.1,129.3L574.5,130.8L575.4,133.0L577.6,134.6L578.4,134.6L577.6,132.4L577.5,130.8L576.3,129.6L575.1,128.9L574.2,127.2L573.3,126.4L574.0,124.6L574.1,122.2L575.1,122.9L576.6,123.6L577.1,124.9L579.0,125.3L579.1,127.0L581.0,125.4L582.3,124.8L583.5,123.8L583.6,122.1L583.1,120.0L581.8,118.6L580.8,117.4L580.0,116.1L581.0,114.5L582.3,113.8L583.8,113.8L584.7,115.0L584.9,114.0L586.4,113.5L588.7,113.0L591.1,112.2L592.6,110.8L594.3,109.3L595.2,107.6L596.5,105.7L596.7,104.2L595.7,103.1L595.0,101.4L593.8,100.0L595.0,98.8L597.2,97.8L595.7,97.1L593.6,97.5L592.4,96.2L592.6,95.5L594.2,94.8L595.7,93.8L596.9,94.2L595.9,95.7L596.7,95.6L599.1,94.8L600.1,96.1L599.6,96.7L601.5,97.0L601.3,98.3L601.3,100.1L602.4,100.1L604.1,99.5L604.5,97.8L603.3,96.0L602.3,95.2L603.4,94.2L604.8,93.1L605.7,92.3L607.5,91.4L609.1,91.3L610.6,90.0L612.2,88.5L613.9,86.9L615.5,85.4L615.8,83.3L616.7,81.0L615.1,80.0L612.7,80.2L610.3,79.4L612.7,77.6L615.8,75.9L618.4,74.7L621.5,74.6L624.6,74.4L628.0,75.0L630.7,74.6L632.6,72.3L635.9,72.1L639.2,71.4L639.3,73.2L637.8,73.8L635.7,74.8L633.8,76.1L632.3,77.1L631.4,79.2L631.5,81.2L632.5,83.3L634.1,82.1L634.4,81.2L635.9,80.2L637.9,79.4L637.7,77.8L639.3,77.9L639.3,76.3L638.5,75.8L639.7,74.2L642.1,74.0L646.5,74.0L648.8,73.0L650.8,72.1L653.9,71.4L655.8,71.5L656.1,69.7L653.9,69.1L655.0,68.2L658.0,68.3L660.6,69.2L663.7,69.5L667.1,67.7L665.8,66.9L662.7,66.8L660.6,65.9L656.5,64.8L654.4,64.3L650.3,63.8L646.7,63.7L646.2,64.7L643.1,64.1L636.9,64.2L635.7,63.2L630.7,62.6L627.6,62.7L625.6,61.6L621.5,61.2L616.3,60.8L614.8,62.1L610.1,62.0L606.0,62.8L604.5,62.3L603.7,60.6L600.8,60.0L598.1,60.6L593.6,60.5L588.5,59.8L587.8,58.0L588.0,57.5L581.3,56.4L578.5,55.7L574.1,57.0L571.0,57.5L564.8,57.9L560.7,58.5L560.1,59.5L555.0,59.9L553.8,61.4L550.9,61.3L548.3,60.8L546.2,62.1L546.7,64.7L545.7,65.0L545.2,62.3L545.9,60.8L542.1,60.6L541.6,62.1L540.0,64.2L541.6,65.4L538.0,64.5L533.3,63.9L529.7,65.1L526.6,65.4L525.6,65.7L522.5,65.5L518.9,65.7L516.6,65.2L518.4,67.0L516.3,67.6L514.8,67.3L512.2,69.2L510.0,70.0L506.9,69.3L505.0,67.1L510.7,67.7L513.3,67.1L513.6,65.9L512.2,65.9L508.1,64.5L505.0,64.2L502.9,63.4L500.4,62.6L497.5,62.5L493.7,63.4L490.6,63.9L487.5,65.1L485.9,66.5L484.4,67.8L482.9,69.0L480.8,70.3L478.2,71.1L476.4,71.9L476.2,73.5L476.5,74.7L477.2,75.7L478.7,76.1L480.8,75.1L481.9,74.5L482.5,75.1L483.2,76.4L484.0,77.8L484.3,78.7L485.7,78.7L485.9,78.0L487.5,77.8L488.1,76.6L488.3,75.4L490.1,74.5L490.5,74.0L488.8,73.3L488.7,71.9L490.1,70.9L492.1,70.1L493.2,69.0L494.0,68.1L495.9,68.0L497.1,68.6L496.4,69.7L494.2,70.7L493.0,71.6L493.2,73.0L494.4,74.0L496.8,73.8L499.3,73.5L500.9,74.0L502.1,74.1L499.9,74.5L496.2,74.6L495.2,75.2L496.0,75.8L496.0,76.8L494.7,76.9L493.5,76.5L492.6,77.6L492.7,78.9L491.6,79.6L490.2,79.7L488.0,79.8L485.6,80.3L483.9,79.9L482.3,80.2L481.3,79.7L481.0,78.7L481.8,77.6L481.8,76.6L480.8,77.0L479.5,77.1L479.5,78.7L480.0,80.2L478.2,80.6L476.2,81.0L475.6,82.1L474.6,82.9L473.6,83.3L472.6,83.7L472.5,84.3L471.1,84.8L469.8,85.0L469.4,85.7L467.9,85.7L466.2,86.0L466.6,86.6L468.4,87.1L469.8,88.5L469.7,90.0L469.1,91.2L466.9,91.1L463.8,90.9L461.5,91.5L461.9,93.1L461.8,95.2L461.2,96.0L461.9,97.7L463.8,97.7L464.6,98.4L465.3,98.7L466.4,98.1L468.7,98.0L470.3,97.0L471.0,96.0L470.7,95.2L471.8,93.8L474.3,92.7L474.2,91.4L475.6,91.2L477.7,91.5L478.7,90.7L480.3,90.2L481.6,91.1L482.3,92.2L483.9,93.2L485.4,93.8L487.1,94.7L487.5,95.9L487.2,96.7L488.0,96.5L488.6,95.7L488.0,95.0L488.5,94.2L490.0,94.7L490.0,94.3L488.5,93.6L487.5,93.1L487.0,92.7L485.9,92.3L485.0,91.1L483.8,90.2L483.7,89.2L485.0,88.8L485.2,89.5L486.5,90.0L488.0,91.1L489.5,92.0L491.0,92.9L491.0,94.4L491.9,95.4L493.0,96.4L492.8,97.4L493.7,98.2L494.5,98.4L494.9,97.5L495.7,97.0L495.0,96.3L494.6,95.4L494.7,94.4L495.7,93.9L497.8,93.8L498.3,94.3L498.0,95.2L498.8,96.0L499.1,97.6L500.1,98.1L501.4,98.6L502.5,98.0L504.5,98.7L506.0,98.5L508.1,98.1L508.0,99.8L507.7,101.4L507.1,102.4L506.3,103.6L504.5,103.8ZM128.9,93.1L129.9,93.4L132.5,93.4L134.5,92.6L136.3,92.6L137.6,93.3L139.7,93.6L142.3,93.4L143.0,93.0L142.8,92.0L141.2,91.1L139.7,90.2L138.1,89.5L139.2,88.5L140.2,87.3L138.6,87.6L136.3,88.2L136.1,89.0L137.6,89.2L136.4,89.6L134.7,90.1L133.6,89.2L134.5,88.5L132.8,88.0L131.6,88.1L130.6,89.2L129.7,90.0L128.9,91.3L128.5,92.1ZM150.5,88.0L152.6,87.4L154.6,87.6L154.6,89.2L152.8,89.5L151.8,90.1L152.8,91.4L154.1,91.9L154.4,93.1L155.6,93.6L154.6,94.7L155.1,95.5L155.4,97.5L153.6,98.0L151.8,97.5L150.5,96.4L150.8,95.2L151.0,94.2L150.0,92.8L149.1,91.6L148.7,90.3L148.2,89.8L149.2,88.9ZM160.3,88.7L161.3,87.7L162.9,87.8L163.6,89.0L162.9,90.2L161.3,90.8L160.2,90.0ZM175.7,89.2L177.3,87.6L181.4,87.8L181.4,88.3L177.8,88.5L176.5,89.6ZM207.2,82.7L209.8,81.2L212.3,79.2L213.2,78.3L212.8,79.7L211.3,81.2L208.7,82.8ZM94.3,84.2L96.4,84.0L99.0,83.6L101.3,83.1L101.8,81.5L100.3,81.2L99.8,80.2L98.5,79.2L97.7,78.1L97.9,76.6L96.1,76.4L96.7,75.4L94.8,75.4L94.0,76.6L94.3,77.9L95.1,79.0L96.7,79.3L96.9,80.4L95.4,80.9L95.6,81.8L94.6,82.5L96.6,82.9L95.4,83.2ZM465.3,84.2L467.4,84.0L470.0,83.6L472.3,83.1L472.8,81.5L471.3,81.2L470.8,80.2L469.5,79.2L468.7,78.1L468.9,76.6L467.1,76.4L467.7,75.4L465.8,75.4L465.0,76.6L465.3,77.9L466.1,79.0L467.7,79.3L467.9,80.4L466.4,80.9L466.6,81.8L465.6,82.5L467.6,82.9L466.4,83.2ZM464.8,82.1L464.6,80.7L465.0,79.4L463.5,78.9L462.2,79.7L460.7,80.2L461.2,81.2L460.4,82.3L461.2,82.8L463.3,82.3ZM447.8,67.4L450.4,67.8L454.5,67.3L456.1,68.3L456.6,69.3L452.4,70.4L449.4,70.1L447.6,69.9L448.3,68.8L446.3,68.3ZM111.3,53.9L114.4,53.3L120.6,53.0L127.8,53.1L124.7,54.4L121.6,54.9L119.6,56.1L117.5,56.7L114.9,55.9L112.4,54.9ZM153.1,62.6L155.1,62.8L158.7,62.9L157.7,61.1L159.8,59.5L162.9,58.2L167.0,57.3L170.9,56.6L168.0,56.4L161.8,57.3L157.7,58.3L155.6,60.0L153.6,61.6ZM197.9,54.4L203.1,53.5L208.2,54.4L206.1,55.2L201.0,54.9ZM241.2,58.0L246.3,57.5L250.5,58.0L254.6,58.3L249.4,58.7L244.3,58.7ZM284.0,62.4L287.0,62.1L288.1,62.6L285.5,62.8ZM149.5,52.8L156.7,52.1L163.9,52.3L161.8,53.0L153.6,53.2ZM234.9,100.9L236.0,100.7L237.6,100.6L239.1,100.2L241.0,100.4L242.9,100.1L244.1,99.8L245.1,99.1L245.3,97.8L245.8,96.2L246.3,95.2L245.8,93.3L244.6,93.4L244.3,94.9L243.8,96.2L242.2,97.6L241.2,97.8L240.9,98.5L240.2,99.1L239.1,99.2L237.1,99.3L235.5,100.2ZM234.0,101.4L235.0,101.1L235.8,101.9L235.5,103.1L234.7,103.9L234.2,102.9L233.7,101.9ZM236.5,101.0L238.6,100.7L238.3,101.3L237.1,102.1L236.3,101.6ZM244.5,93.1L245.3,92.1L247.6,92.6L249.9,91.4L249.4,90.3L247.4,90.2L246.1,89.1L245.9,90.5L245.6,91.4L244.6,91.8ZM246.3,88.5L247.7,87.6L247.4,85.4L248.9,85.2L247.6,82.8L247.7,80.9L247.1,79.9L246.3,80.9L246.3,83.3L246.5,85.4L246.3,86.9ZM224.7,110.0L225.7,110.2L225.1,112.2L224.5,113.3L223.8,112.2L224.0,111.0ZM212.0,116.1L213.7,115.2L214.4,115.7L213.7,117.0L212.3,117.1ZM182.2,126.0L183.3,126.5L184.3,128.2L183.7,129.5L182.7,129.8L182.1,128.2ZM224.2,116.9L225.9,117.0L226.0,119.0L225.3,120.0L225.7,121.3L227.8,122.6L227.8,123.0L226.2,121.9L224.7,121.8L224.3,121.0L223.7,120.0L224.0,119.0ZM225.7,128.8L227.3,127.1L229.3,126.0L230.4,127.7L230.1,129.5L229.3,130.1L228.0,129.3L227.3,128.2ZM228.1,123.1L229.3,123.4L229.5,124.6L228.8,125.7L228.3,124.8ZM225.7,123.8L227.0,124.1L227.1,125.7L226.2,126.2L225.7,125.2ZM220.8,127.4L222.1,126.4L223.3,124.4L222.8,124.2L221.6,125.7L220.6,126.9ZM224.1,122.2L225.1,122.3L225.1,123.3L224.5,123.2ZM212.3,134.4L212.8,133.9L214.4,134.2L214.8,133.2L216.5,132.7L217.5,131.4L219.0,130.3L220.4,128.8L221.3,129.5L222.8,130.6L221.6,131.6L221.4,133.1L221.6,135.0L221.1,136.8L220.1,137.9L219.8,139.6L218.2,140.1L216.5,139.3L214.9,139.4L213.6,138.9L213.4,137.3L212.3,136.5ZM198.2,130.2L200.5,130.6L203.1,133.1L204.6,134.1L206.7,136.0L207.7,137.9L209.2,139.1L209.0,142.0L207.7,142.0L205.4,140.1L204.1,138.6L202.8,136.5L201.7,134.2L200.2,132.6L198.4,130.8ZM208.4,143.0L209.8,142.2L211.8,142.9L213.9,142.7L214.4,143.0L216.1,143.2L218.0,144.1L217.9,144.9L215.4,144.7L212.3,144.1L209.8,143.6ZM223.7,135.0L224.7,134.8L226.8,135.1L228.8,134.3L228.3,135.5L225.7,135.6L224.2,136.0L224.0,137.0L225.2,137.0L227.1,136.8L225.7,138.1L226.2,139.6L226.8,140.7L226.0,141.2L225.0,140.1L224.5,138.9L224.0,139.6L224.1,141.7L223.2,141.7L222.9,139.6L222.4,138.8L223.4,136.5ZM235.0,136.8L236.5,136.4L238.1,136.8L238.4,138.6L239.3,139.4L241.0,138.3L242.2,137.7L245.3,138.7L248.9,139.9L250.3,141.5L252.0,142.2L251.7,142.9L253.0,144.9L254.6,146.5L255.3,147.0L252.5,146.5L251.0,145.1L248.9,144.0L247.9,145.1L245.8,145.5L243.8,144.4L242.2,144.6L242.9,143.4L242.0,141.7L239.6,140.5L237.6,140.0L236.9,140.1L236.0,139.0L237.3,138.5L236.0,138.1L235.0,137.4ZM253.0,141.8L254.6,141.7L256.6,140.3L257.0,141.2L255.1,142.5L253.6,142.5ZM227.4,146.5L228.8,145.3L230.9,144.7L230.4,145.4L228.3,146.4ZM218.5,144.5L222.6,144.5L226.8,144.6L226.6,145.1L222.6,145.2L218.7,145.1ZM231.4,134.1L232.4,134.4L232.6,136.0L231.9,136.8L231.5,135.5ZM231.9,139.1L234.8,139.4L234.5,139.9L232.1,139.6ZM217.2,159.2L217.7,158.5L219.5,157.5L221.6,157.0L223.7,156.6L225.9,154.6L226.0,153.6L227.4,153.9L227.8,152.8L229.3,151.0L230.9,150.5L232.2,151.4L233.5,151.4L234.0,149.7L235.0,148.6L236.7,147.9L237.6,148.3L239.6,148.4L241.0,148.6L240.2,150.0L239.6,151.3L241.2,152.3L243.6,153.9L245.1,154.1L245.9,151.5L245.8,149.4L246.5,147.2L247.9,148.9L248.2,150.8L249.7,151.5L250.5,154.1L250.8,155.5L252.3,156.4L253.6,157.2L254.3,159.0L255.4,160.3L257.5,162.0L257.9,163.9L258.3,165.7L257.7,168.0L257.0,169.6L255.9,170.9L255.1,172.7L254.6,174.4L252.8,175.1L251.0,176.3L249.2,175.5L247.9,176.1L245.8,175.6L244.3,174.8L243.8,173.2L242.4,172.7L242.2,171.1L241.9,170.1L241.2,171.1L241.7,172.4L240.2,172.0L239.6,171.8L238.3,170.1L236.0,169.1L232.9,168.7L229.8,169.4L227.8,170.1L227.3,171.0L223.7,171.0L221.6,172.2L219.5,172.0L218.5,171.4L219.2,169.1L219.1,168.0L218.5,166.5L217.7,164.4L216.8,162.9L217.0,161.3ZM249.1,178.1L251.0,178.4L252.8,178.3L252.7,179.6L252.0,180.7L250.5,181.0L249.6,179.7ZM278.0,171.5L279.6,172.7L280.9,173.7L281.4,174.9L283.4,174.9L284.0,175.0L283.2,176.5L282.4,176.8L282.2,177.9L280.7,179.0L280.0,178.7L280.6,177.3L279.1,176.6L280.0,175.3L279.6,173.7L278.3,172.2ZM278.0,177.9L279.6,179.1L278.3,180.4L278.0,181.3L276.4,181.9L275.9,183.3L274.7,184.2L273.1,184.1L271.6,183.3L273.1,181.7L275.2,180.6L276.7,179.4L277.5,178.2ZM297.9,68.2L299.4,65.4L303.0,64.2L306.1,63.0L309.7,62.3L314.4,62.8L319.5,63.5L325.7,64.1L330.8,64.7L333.9,64.2L339.1,63.4L342.2,64.2L345.3,63.9L349.4,64.7L352.5,65.4L354.5,65.9L358.7,65.9L359.7,65.2L362.8,65.5L366.4,66.0L370.0,65.7L372.1,65.4L372.6,64.2L372.1,62.1L374.1,61.8L375.7,63.7L376.7,64.2L377.7,65.2L380.3,64.9L381.3,66.2L382.9,64.7L386.5,64.2L387.0,65.2L386.0,66.8L383.4,67.8L381.3,68.8L379.3,69.9L377.2,70.4L375.7,71.9L373.6,73.5L373.4,75.0L375.2,75.3L375.7,77.1L379.3,77.3L383.4,78.9L386.2,79.1L386.5,81.2L388.0,83.0L389.6,82.8L389.6,80.2L391.6,78.1L392.0,76.6L390.1,75.3L391.1,73.5L390.6,71.6L394.7,71.6L398.9,73.0L399.4,75.0L402.0,75.8L403.5,74.2L404.5,73.7L407.1,76.6L408.1,78.3L411.2,79.4L412.3,80.7L413.6,82.3L412.3,82.9L409.2,84.1L405.0,84.1L402.5,84.1L399.9,85.9L397.8,87.5L399.9,86.9L403.0,85.3L404.7,85.6L404.0,86.9L404.5,88.3L407.6,88.8L409.2,88.5L408.1,89.3L405.6,90.0L403.3,91.1L403.0,90.0L404.5,89.0L402.0,89.5L399.9,90.5L398.3,91.4L398.1,92.6L398.9,92.9L397.3,93.2L394.9,93.8L394.7,95.2L393.7,96.2L392.7,97.8L393.0,99.3L391.6,100.4L389.6,101.7L387.5,103.2L387.2,105.0L388.0,107.1L388.5,109.1L388.0,110.0L387.0,109.3L385.8,107.3L385.7,105.8L384.4,105.0L382.9,105.2L380.8,104.7L378.8,104.8L379.0,105.8L377.2,105.8L374.6,105.3L373.1,105.8L371.0,107.3L370.7,109.1L370.3,111.7L370.2,113.3L371.6,115.9L373.1,116.8L375.7,116.8L377.2,116.4L377.7,114.5L380.3,113.8L381.5,114.0L380.8,115.9L380.3,117.4L379.8,119.0L379.6,119.7L382.4,119.6L384.9,120.2L385.2,122.6L384.7,124.6L386.0,126.4L387.5,126.9L388.9,126.2L390.6,126.4L391.3,127.2L392.7,126.2L393.5,124.8L395.8,124.1L397.1,123.2L397.3,124.6L398.9,123.8L400.4,124.9L403.0,125.0L405.6,124.9L407.1,124.9L408.1,126.0L409.2,127.2L411.7,129.5L415.3,130.0L417.7,131.2L419.2,133.9L419.5,135.7L421.0,137.0L423.6,137.2L425.1,138.8L428.2,139.0L431.3,139.9L433.4,141.2L434.9,142.7L435.1,144.3L434.4,146.3L432.4,148.4L431.0,150.0L430.8,152.5L430.3,155.1L429.0,158.2L427.7,159.8L425.1,160.1L423.1,161.1L421.0,162.9L420.8,165.2L419.0,168.0L417.1,169.6L415.6,171.7L413.3,172.1L410.9,171.2L412.3,173.2L411.7,175.3L409.2,176.2L407.1,176.3L406.8,178.1L404.0,178.4L405.4,179.9L403.8,182.0L401.4,183.5L403.2,184.8L401.4,187.2L399.9,188.7L400.5,190.0L399.4,190.3L397.8,191.6L396.3,191.1L394.7,190.0L393.7,188.2L393.2,185.6L394.2,183.5L395.5,181.5L394.9,179.4L395.3,176.8L395.6,174.4L396.8,172.2L397.3,169.6L397.4,167.0L397.8,163.9L398.4,160.3L398.7,156.7L398.4,154.9L396.8,153.6L393.7,151.9L392.4,150.3L391.1,147.9L389.9,145.3L388.8,143.2L387.3,142.2L387.3,140.4L388.6,139.3L387.7,138.3L388.0,136.5L388.6,135.2L389.8,134.4L391.1,132.4L391.2,129.8L390.7,128.5L390.1,127.2L388.6,128.4L387.0,128.0L385.5,127.4L383.4,125.7L382.6,124.6L380.8,122.6L378.8,122.1L376.7,121.5L374.6,119.7L373.1,119.3L371.0,119.6L368.5,118.7L365.9,117.4L363.3,116.2L362.3,114.8L362.5,113.3L361.2,111.7L359.2,109.9L358.2,108.6L356.6,107.1L355.1,105.5L354.5,103.8L352.8,103.2L352.8,104.8L354.5,107.1L356.1,109.1L357.3,111.0L358.2,112.0L357.4,112.2L355.6,110.4L354.0,108.4L353.0,107.3L352.5,105.5L351.5,104.2L350.3,102.4L348.9,100.9L346.7,100.4L345.5,98.3L344.8,96.9L343.5,95.7L342.9,94.2L343.0,91.6L343.2,88.5L342.5,86.0L344.2,86.1L344.8,86.9L344.4,85.4L342.7,84.3L340.1,83.3L339.1,81.8L337.0,79.7L335.5,78.7L333.4,76.6L331.4,75.2L329.3,75.3L326.7,74.2L323.1,74.0L320.5,73.2L318.0,73.7L316.4,74.7L314.7,74.7L315.4,73.0L312.8,74.5L311.8,75.6L309.2,77.1L307.1,78.3L304.0,79.1L301.5,79.6L303.0,78.5L305.6,77.8L308.2,76.1L309.2,75.2L307.1,75.4L304.0,75.3L304.0,74.1L301.5,73.5L300.4,72.5L299.9,71.6L301.5,70.7L305.1,70.4L305.1,69.3L303.0,69.3L299.4,69.1ZM395.8,55.2L400.9,53.3L406.1,51.8L414.3,51.0L424.6,50.4L437.0,49.7L446.3,50.8L450.4,51.8L458.6,51.8L453.5,53.3L451.4,55.4L450.9,57.5L450.4,59.0L448.3,60.6L446.8,62.1L448.3,63.4L445.8,64.2L443.2,65.2L439.1,65.6L436.0,67.3L432.4,68.1L429.8,68.8L428.7,70.4L427.2,72.5L426.2,74.0L424.1,73.8L421.5,73.0L419.5,71.4L417.9,69.9L416.4,67.8L415.6,65.7L418.4,64.2L414.8,63.2L414.3,61.6L412.3,59.5L410.2,57.7L406.1,57.3L400.9,57.5L397.8,56.2ZM388.6,59.8L392.7,60.8L397.8,62.6L400.9,63.7L402.0,65.2L407.1,67.0L405.6,68.8L404.0,70.4L403.0,71.9L400.4,71.4L397.3,70.4L394.7,69.3L391.1,69.6L390.6,68.3L394.7,67.5L395.8,65.7L391.6,64.0L389.6,63.4L383.4,63.7L379.8,62.6L378.2,61.1L379.3,59.8L383.4,59.8ZM350.4,62.3L348.4,62.1L349.9,60.6L353.5,60.3L359.7,60.6L362.8,61.1L365.9,63.2L362.8,64.7L357.6,65.1L354.0,65.1L350.9,64.2L350.4,63.2ZM342.2,61.6L343.7,59.7L348.4,59.3L351.5,60.3L348.4,61.9L344.2,62.4ZM378.2,57.0L382.4,55.4L381.3,53.3L377.2,52.1L383.4,51.0L393.7,50.2L406.1,50.8L404.0,52.0L398.9,53.0L394.7,54.1L392.7,55.4L389.6,56.4L387.5,57.2ZM373.1,54.1L376.2,52.3L380.3,53.3L378.2,54.9ZM376.2,57.2L379.3,58.0L388.6,58.9L388.6,57.8L384.4,57.1L378.2,56.6ZM350.4,58.3L354.5,59.0L361.2,58.5L361.8,57.5L357.6,57.0L351.5,57.2ZM365.9,62.1L371.0,61.9L371.0,60.0L366.4,59.7ZM372.6,61.6L377.7,60.9L377.7,59.5L373.1,59.4ZM363.8,58.3L370.0,58.5L371.0,57.0L364.9,56.7ZM381.3,70.4L384.4,68.3L388.0,69.9L386.5,70.9L382.9,70.7ZM409.9,86.7L412.3,82.9L413.8,82.7L413.3,84.3L415.9,85.1L416.4,86.9L416.2,87.7L413.8,87.5L412.3,86.8ZM338.8,83.6L342.2,84.3L343.7,85.9L341.7,85.6L339.6,84.3ZM383.4,113.5L386.0,112.1L388.6,112.1L391.1,113.6L393.2,114.5L394.5,115.1L391.1,115.4L390.6,114.6L388.6,113.6L386.5,112.9L384.9,113.3ZM394.3,117.0L395.8,115.4L398.9,115.5L400.5,116.8L398.9,117.2L397.3,117.7L396.3,117.2ZM390.3,117.0L392.4,117.2L391.6,117.6L390.4,117.4ZM401.7,116.9L403.3,117.0L403.2,117.4L401.8,117.4ZM310.2,115.1L311.3,115.5L310.7,116.4L310.2,115.9ZM308.0,113.7L308.5,113.9L308.2,114.1ZM306.4,113.1L306.8,113.2L306.6,113.4ZM309.5,114.4L310.2,114.5L309.8,114.7ZM376.7,136.3L377.4,136.5L376.9,137.0ZM408.1,189.2L411.2,189.1L410.7,189.9L408.7,189.9ZM431.8,191.8L433.9,192.3L433.6,192.6L431.8,192.1ZM400.4,190.5L403.5,192.4L402.0,193.0L398.9,193.0L396.8,192.1L398.3,191.3ZM170.9,186.6L172.4,186.7L172.1,187.4L171.1,187.3ZM282.7,154.1L284.0,154.2L283.7,154.8L282.8,154.7ZM284.3,153.1L285.5,152.7L285.0,153.4ZM269.0,156.9L270.6,157.7L272.1,159.0L271.6,159.1L270.0,158.3L269.0,157.3ZM271.7,151.5L272.3,151.8L272.6,153.1L272.3,152.8ZM261.3,143.0L262.8,143.8L264.7,144.7L264.4,144.9L262.3,144.1ZM264.7,145.6L265.7,146.0L266.4,146.7L265.4,146.3ZM259.4,141.7L260.5,142.4L260.7,143.0L259.7,142.5ZM255.4,138.7L256.6,139.4L257.7,140.7L257.3,140.7L256.1,139.4ZM124.2,99.3L127.1,99.5L126.8,99.8L124.3,99.6ZM133.3,99.8L135.6,99.2L135.0,99.9L133.7,100.2ZM112.9,96.7L116.0,96.5L115.7,98.1L113.0,97.2ZM108.5,93.6L110.0,93.6L109.9,95.5L108.8,95.7ZM109.0,92.0L109.8,91.6L109.7,93.1L109.1,93.0ZM154.9,123.0L156.2,123.0L156.0,123.3L155.0,123.2ZM140.4,142.0L140.7,142.2L140.6,142.6ZM250.5,90.0L252.5,89.2L254.6,88.3L254.4,88.1L252.3,88.9ZM297.9,80.9L299.4,80.3L299.1,80.7ZM289.6,82.5L291.7,82.1L291.2,82.3ZM311.8,76.9L313.8,76.1L314.0,76.7L312.5,77.3ZM333.9,80.2L335.2,80.2L335.8,82.0L334.8,81.4ZM393.7,207.8L398.9,207.3L399.9,209.4L396.8,210.9L393.2,209.9ZM365.9,210.3L372.1,210.4L371.0,211.0L366.9,210.9ZM302.0,217.4L306.1,217.3L305.6,218.5L302.5,218.5ZM271.1,215.8L274.2,215.9L273.6,216.4L271.4,216.4ZM419.5,217.2L424.6,217.1L423.6,218.7L419.5,218.7ZM376.2,87.7L380.3,85.9L383.4,86.6L383.7,87.8L381.3,88.0L378.2,87.7ZM380.5,92.6L382.1,92.6L382.9,89.5L383.4,88.7L381.3,89.0L380.5,90.5ZM383.9,88.5L387.5,88.5L388.6,89.7L386.8,91.4L386.0,91.4L384.9,90.0ZM385.2,92.8L389.6,91.8L389.6,92.1L387.5,93.0L385.5,93.1ZM388.9,91.3L392.4,90.5L392.4,91.1L389.6,91.4ZM369.2,80.5L370.5,80.4L371.8,83.8L371.0,84.0L369.5,82.3ZM350.4,73.0L353.5,71.6L358.2,71.1L356.6,72.1L353.5,73.0ZM342.2,68.0L345.3,67.0L349.4,67.3L348.9,68.5L345.3,68.8ZM132.8,136.3L135.0,135.8L135.0,138.1L134.0,138.9L133.0,138.4ZM130.2,139.6L130.7,140.7L131.7,144.3L132.2,145.0L131.4,144.8L130.2,142.2L129.9,140.1ZM135.0,145.8L135.9,147.4L136.1,150.7L135.7,150.7L135.2,148.4L134.9,146.9ZM137.1,131.4L137.4,132.4L137.6,133.4L137.1,132.9ZM131.4,74.0L133.5,73.5L133.8,72.7L131.9,72.3L130.9,73.0ZM135.6,73.0L137.1,72.7L136.6,71.4L135.6,71.7ZM398.9,151.9L399.9,152.5L400.1,153.1L399.1,152.5ZM356.1,75.4L359.7,74.8L361.8,74.6L358.7,75.1ZM364.9,77.8L366.4,76.6L365.9,76.1L364.9,76.8ZM100.0,208.1L110.3,208.3L120.6,208.3L127.8,207.8L134.0,207.1L141.2,206.6L147.4,205.8L151.5,205.0L156.7,204.2L161.8,205.5L168.0,206.1L172.1,206.8L175.2,208.0L179.4,207.3L182.4,205.9L188.6,205.0L192.8,204.9L197.9,204.2L203.1,204.0L208.2,204.5L213.4,204.4L218.5,204.7L223.7,205.0L228.8,204.5L234.0,204.4L239.1,204.4L244.3,205.0L249.4,205.4L254.6,206.8L259.7,207.6L264.9,208.5L270.0,209.2L275.2,209.8L276.2,210.9L273.1,212.5L270.0,214.0L268.5,216.6L266.9,218.7L268.0,221.3L273.1,222.8L285.5,223.4L301.0,223.8L311.3,223.6L318.5,222.8L320.5,219.7L319.5,217.6L316.4,216.4L320.5,215.6L326.7,214.3L332.9,213.3L339.1,213.1L347.3,212.8L353.5,212.3L357.6,213.3L363.8,213.0L367.9,212.0L372.1,211.4L378.2,211.2L383.4,211.7L388.6,211.4L393.7,211.6L396.8,209.9L399.9,207.3L402.0,205.2L405.0,203.7L408.1,202.1L411.2,201.3L413.3,201.6L412.3,202.7L409.2,203.7L407.1,205.2L406.1,207.3L407.1,209.4L407.1,211.4L405.0,213.5L402.0,215.1L404.0,216.6L414.3,217.1L424.6,217.2L431.8,216.6L437.0,215.6L442.1,214.3L448.3,212.5L453.5,211.2L458.6,210.2L462.8,209.2L466.9,208.5L471.0,208.1" fill="none" stroke="#000" stroke-width="0.8" stroke-linejoin="round"/></g><rect x="100.5" y="43.5" width="370" height="185.0" fill="none" stroke="#000" stroke-opacity="0.62" stroke-width="1"/><g clip-path="url(#c1)"><rect x="99" y="275.3" width="373" height="188.4" fill="#1e50ff"/><path fill="#4678ff" fill-rule="evenodd" d="M96.0,272.3 96.0,466.7 475.0,466.7 475.0,272.3ZM374.3,291.4 374.8,290.9 377.9,290.9 378.4,291.7 377.6,292.2 375.5,292.2ZM417.3,288.1 418.1,287.3 426.3,286.8 427.6,286.3 432.5,286.3 436.3,287.8 438.9,288.3 441.2,289.6 440.7,292.5 440.7,295.8 440.0,296.9 432.2,299.2 430.7,299.0 424.0,296.1 419.1,290.9Z"/><path fill="#87aaff" fill-rule="evenodd" d="M96.0,281.3 96.0,466.7 132.1,466.7 132.1,462.3 131.0,461.3 127.4,458.9 117.4,454.3 115.8,453.0 115.6,448.1 117.1,447.0 130.0,449.4 143.9,450.4 163.8,453.5 169.2,453.5 177.4,452.0 188.2,446.0 205.8,445.2 217.4,445.2 222.5,445.7 232.0,446.0 233.6,446.8 236.2,450.1 234.1,451.7 229.7,456.4 228.7,461.0 228.7,466.7 475.0,466.7 475.0,280.8 461.6,281.9 455.9,282.9 445.4,282.9 441.5,283.4 428.4,283.2 423.0,283.9 416.3,283.9 411.4,284.5 409.6,285.0 406.7,286.5 404.4,286.5 403.4,288.3 403.9,291.7 405.9,296.9 405.9,299.2 403.1,303.4 401.1,304.9 393.1,304.6 391.5,305.2 385.6,305.2 375.8,302.3 356.0,300.8 351.3,299.0 348.0,296.9 344.4,293.5 342.6,291.2 341.5,290.7 328.4,290.7 303.9,292.2 296.7,293.8 289.8,295.8 281.2,296.9 276.9,298.4 267.1,301.0 260.1,303.6 256.0,304.6 254.5,304.6 248.3,307.2 243.4,308.3 241.3,309.8 239.3,310.9 238.0,310.9 234.1,313.2 230.0,312.9 228.9,313.5 225.1,313.5 224.1,312.9 215.8,312.4 213.7,311.9 212.2,310.9 206.8,311.4 204.5,310.3 199.8,307.2 198.3,306.7 196.5,304.9 193.4,300.5 187.2,295.6 186.7,294.3 188.0,292.7 188.0,291.4 185.4,286.5 184.1,285.0 174.8,281.9 155.5,281.3 152.9,280.8 100.6,280.8ZM412.1,288.1 415.7,285.7 419.9,284.7 430.7,284.2 434.3,284.7 435.3,285.2 439.4,285.5 443.0,288.1 445.1,291.4 445.6,291.7 445.6,293.5 445.1,295.1 444.3,295.8 440.2,298.4 432.0,301.0 429.6,301.0 425.3,299.5 422.7,297.9 416.0,291.7 413.4,290.2 412.1,288.9Z"/><path fill="#b4cdff" fill-rule="evenodd" d="M96.0,285.0 96.0,445.7 98.1,445.5 99.6,444.7 110.4,444.7 141.1,442.6 146.8,441.6 156.6,440.6 166.6,442.6 170.2,445.2 173.6,445.7 175.9,445.2 178.7,443.7 182.8,442.1 199.8,440.0 229.5,440.6 234.4,441.1 249.3,441.6 259.3,444.7 260.1,445.5 259.9,446.3 257.8,445.7 252.9,445.7 249.3,446.5 247.2,447.8 245.4,449.6 244.1,451.7 244.1,454.5 245.7,456.1 250.8,458.2 255.2,459.2 259.1,459.2 260.9,458.7 263.5,457.1 265.3,457.1 272.5,458.7 279.7,458.9 290.3,460.5 310.1,459.5 314.7,459.7 316.5,460.2 341.0,460.2 347.5,459.2 352.1,459.2 364.0,460.8 371.7,460.8 373.5,460.2 390.2,460.2 392.8,459.7 417.0,460.5 419.6,460.0 430.4,459.7 435.6,458.9 443.8,458.7 446.7,457.7 451.5,454.5 461.1,447.3 466.2,446.3 470.6,444.7 475.0,444.7 475.0,286.0 472.9,286.0 468.6,285.0 444.1,285.2 443.6,285.5 443.6,286.0 447.9,291.2 447.7,293.5 446.1,296.6 441.2,299.0 431.5,302.1 428.1,302.1 424.2,301.0 417.3,294.8 411.9,291.2 409.3,288.3 408.5,288.3 406.2,289.6 405.7,290.4 405.9,293.5 407.5,297.1 407.7,298.7 407.5,303.9 407.0,305.2 405.7,306.5 403.6,307.5 399.0,310.9 393.6,311.6 387.9,314.0 386.6,314.0 384.8,314.7 379.9,315.0 376.6,316.3 372.5,316.0 370.6,315.0 368.3,314.5 365.5,312.9 364.0,312.9 360.9,311.9 357.0,309.8 355.2,309.8 353.6,309.3 350.8,307.2 345.7,305.2 342.1,303.1 339.5,302.6 329.2,298.4 326.3,297.9 318.6,297.9 316.3,297.4 308.3,296.9 307.0,296.1 308.0,295.1 326.3,292.7 325.8,292.2 317.3,292.2 304.4,293.3 301.3,293.8 297.7,295.8 294.1,295.8 282.8,297.7 279.7,299.0 266.6,302.6 263.0,304.1 254.7,306.2 246.7,309.3 240.5,313.5 238.2,314.0 234.9,317.1 233.1,318.1 230.5,321.2 226.1,323.8 224.1,324.6 221.0,324.6 217.1,323.5 211.7,323.8 210.4,323.3 207.0,323.3 204.2,322.5 197.0,321.7 192.1,318.6 188.8,314.5 184.1,312.4 182.3,310.9 174.3,307.8 170.5,305.4 168.4,305.2 162.0,302.6 161.2,301.8 160.7,300.2 160.4,291.4 159.9,290.7 157.3,288.9 153.7,287.0 151.7,286.5 142.4,286.3 138.8,285.5 118.9,285.2 115.1,285.7 101.9,286.0 99.1,285.2Z"/><path fill="#d7ebff" fill-rule="evenodd" d="M175.1,312.4 174.3,312.9 174.6,314.5 175.1,314.5 175.6,313.5ZM96.0,289.6 96.0,445.0 98.1,444.7 99.6,443.9 115.6,443.7 140.6,441.9 156.0,439.8 166.6,441.6 168.1,442.1 171.5,444.2 173.6,444.7 175.4,444.4 182.3,441.3 201.4,439.0 211.2,439.0 213.5,439.5 228.2,439.5 230.8,440.0 238.2,440.0 240.5,440.6 248.0,440.6 251.1,441.1 260.1,443.7 260.9,444.2 263.7,449.6 264.5,453.0 265.5,455.1 266.8,455.6 268.4,455.6 272.7,456.6 301.1,457.7 317.8,456.9 318.6,456.6 322.7,452.5 324.8,452.0 333.5,452.0 336.9,451.4 339.7,451.4 343.9,452.2 358.0,452.2 363.7,451.7 378.9,452.0 386.6,452.5 393.1,453.8 407.5,454.0 410.1,453.5 426.8,453.5 430.4,454.0 450.0,453.5 453.1,452.0 460.8,446.5 469.1,444.7 470.6,443.9 475.0,443.9 475.0,289.6 462.1,289.6 456.7,290.2 452.6,289.1 450.0,289.1 449.2,289.6 449.2,292.2 447.7,296.1 446.7,297.4 444.8,298.4 430.4,303.1 426.6,302.6 423.0,301.3 413.9,293.8 411.4,292.2 407.2,290.7 406.5,291.7 408.5,297.7 408.5,299.5 409.6,303.1 409.6,304.4 411.1,307.8 411.1,309.3 405.4,317.1 401.6,319.1 397.2,320.2 390.5,323.5 386.1,324.6 379.7,324.8 376.3,325.9 373.7,325.9 372.2,324.8 371.2,324.8 368.6,323.8 365.8,323.5 360.6,320.7 357.0,319.4 352.1,316.0 348.8,314.5 344.6,311.4 341.5,307.8 337.4,305.2 329.4,302.1 324.8,301.0 320.4,301.3 310.9,300.8 304.2,299.5 302.6,298.4 302.9,295.1 301.9,294.8 300.8,295.3 297.7,298.4 296.7,298.4 295.2,297.4 291.8,297.1 285.9,298.2 284.9,299.0 284.9,300.0 283.6,301.3 281.5,302.3 274.3,304.1 273.0,304.1 268.6,306.2 264.5,310.9 258.8,309.8 255.7,309.8 254.2,310.3 246.7,314.7 243.4,317.9 241.3,318.6 239.0,318.6 237.2,319.1 235.6,320.2 235.1,321.5 233.8,322.8 227.1,325.9 222.8,327.2 218.4,326.9 214.8,325.9 212.2,325.9 209.6,324.8 204.5,324.3 200.9,323.3 198.8,323.3 196.2,322.8 193.9,321.7 191.1,321.7 187.0,320.2 182.8,320.2 178.7,318.9 172.3,319.1 170.2,318.4 164.8,318.6 163.5,318.1 151.7,318.1 146.5,316.6 142.1,316.3 139.5,315.5 136.7,315.5 132.3,314.5 129.5,314.5 127.7,313.7 125.6,313.5 121.3,311.4 119.5,310.1 115.6,305.9 114.6,303.6 114.6,301.8 115.3,301.0 120.0,300.0 123.8,300.2 126.4,299.2 131.6,299.2 133.1,298.7 135.9,298.7 137.0,299.2 140.3,299.7 141.1,300.2 142.9,300.2 148.3,298.7 158.1,294.6 159.1,293.0 158.9,291.7 157.8,290.7 155.5,289.1 152.9,288.1 147.5,288.1 144.4,288.6 140.8,288.6 139.3,289.1 118.4,288.6 113.5,289.4 106.8,289.4 102.4,289.9Z"/><path fill="#ffebda" fill-rule="evenodd" d="M269.9,450.1 267.9,452.0 267.9,452.7 268.9,453.8 269.9,453.8 270.4,452.7 270.4,450.9ZM262.4,443.9 263.2,446.5 265.3,449.4 269.1,446.3 269.1,445.7 268.1,445.0 264.0,443.9ZM409.3,295.3 410.1,300.2 411.1,302.3 411.9,303.1 412.4,303.1 412.9,302.3 412.6,299.0 411.4,296.6 409.8,295.3ZM96.0,294.3 96.0,441.6 97.0,441.1 102.2,440.6 105.0,439.8 112.8,440.0 114.3,439.5 117.6,439.5 121.0,438.8 124.3,438.8 128.5,439.5 134.4,437.7 141.4,438.0 143.4,437.5 147.3,437.5 150.6,438.5 158.4,438.5 159.1,439.0 165.3,440.0 167.9,441.1 172.0,443.7 174.8,443.9 181.8,440.0 180.8,438.2 182.8,437.2 189.5,437.7 193.4,436.9 202.7,436.9 206.0,435.9 210.1,435.9 212.5,436.7 213.2,437.5 216.1,437.5 216.3,436.9 218.4,436.4 225.3,435.9 232.0,436.4 236.4,437.2 240.8,437.2 246.0,438.2 251.9,435.4 254.7,435.4 259.6,435.9 261.2,436.4 272.5,436.9 276.9,438.0 279.2,440.3 279.4,443.7 280.0,445.2 282.8,446.8 287.9,447.8 289.8,448.6 291.0,449.6 293.1,452.7 295.2,454.0 300.6,454.0 308.6,452.0 315.0,453.5 316.3,452.5 316.3,449.6 319.4,447.8 322.5,447.0 327.9,446.8 329.9,446.3 346.9,445.5 363.7,446.0 368.6,444.7 376.6,444.7 383.3,445.7 389.2,445.7 393.8,446.8 400.0,446.5 400.5,446.0 398.7,445.0 397.2,443.4 396.2,441.1 396.2,439.3 396.7,438.2 399.2,436.9 402.3,436.4 407.0,434.9 411.4,434.6 412.9,435.1 413.9,436.9 416.0,438.8 416.8,440.0 421.4,444.2 421.9,445.2 421.4,447.8 422.7,448.8 426.0,449.6 430.9,449.9 435.8,448.8 441.2,448.3 449.5,446.3 457.7,446.5 464.7,444.2 464.9,443.4 466.7,441.6 468.0,441.1 475.0,440.0 475.0,293.5 469.3,293.8 454.1,295.8 452.6,296.4 450.5,296.4 448.7,297.1 447.4,298.4 445.4,299.5 431.2,303.9 421.9,303.1 421.1,304.1 417.5,305.7 415.5,305.9 414.4,306.7 414.2,308.8 413.2,311.1 410.6,314.2 410.8,317.3 410.3,318.4 406.7,321.5 403.6,323.0 398.7,324.3 393.3,327.4 388.4,328.5 384.8,330.0 383.0,330.0 379.4,331.1 376.3,332.3 364.5,332.6 361.4,332.1 359.1,330.5 357.3,330.0 350.0,325.4 346.4,321.7 342.1,316.3 339.7,311.4 336.4,309.3 333.5,309.0 330.7,307.8 318.9,307.5 316.3,308.0 301.6,307.8 294.9,306.5 286.9,305.9 282.3,306.7 272.5,309.3 271.2,310.3 270.2,312.2 268.1,314.2 259.3,318.6 256.3,320.7 249.6,322.3 245.4,320.4 244.4,320.4 241.8,321.5 239.0,321.2 237.7,321.7 235.1,324.6 233.6,325.4 232.8,325.4 231.3,326.4 222.0,329.5 219.4,329.8 216.8,329.2 214.5,327.9 212.2,327.4 208.9,325.9 200.4,325.6 199.8,325.9 203.4,329.0 205.8,332.1 206.0,333.6 205.0,335.5 201.6,338.3 196.2,339.1 194.9,339.9 192.4,339.9 190.8,338.8 191.1,338.0 193.1,337.3 191.8,336.5 189.5,336.2 188.8,336.8 182.8,337.3 179.7,336.2 174.6,332.6 173.8,331.3 173.3,329.0 174.1,327.7 175.4,327.2 176.4,326.1 176.4,325.1 175.9,324.8 169.7,324.6 167.1,323.8 164.3,323.8 160.7,323.3 159.9,322.8 157.1,322.8 152.2,321.2 150.1,321.2 144.4,319.7 139.8,319.7 137.0,318.6 129.8,318.6 126.4,317.6 124.1,317.3 120.7,315.5 117.6,315.3 115.3,314.5 112.0,311.1 112.0,310.1 113.3,308.3 112.0,307.0 112.0,305.2 110.9,303.6 110.9,302.3 113.0,299.0 114.8,297.1 115.8,296.6 118.4,296.6 125.1,295.6 135.7,296.1 137.0,295.6 138.3,294.3 138.3,293.8 137.2,293.3 131.0,292.5 115.1,292.2 113.0,292.7 107.3,292.7 102.2,293.8 98.3,293.8Z"/><path fill="#ffd0b8" fill-rule="evenodd" d="M170.5,441.6 171.0,442.4 172.5,443.2 174.1,443.2 174.6,442.4 173.8,441.3 172.8,440.8 171.5,440.8ZM206.0,327.9 206.0,328.5 206.8,329.2 208.9,329.2 208.9,328.5 207.8,327.9ZM475.0,310.1 474.2,310.1 473.4,310.9 472.7,314.2 470.6,316.6 468.3,316.6 466.0,314.2 464.2,309.6 462.9,308.3 460.8,307.2 458.2,306.7 449.2,307.2 447.4,307.8 440.5,308.3 435.8,309.3 430.7,309.3 428.1,309.8 416.8,314.0 413.2,316.8 412.1,319.4 408.5,322.8 405.7,324.3 399.8,326.4 393.3,330.0 391.3,330.5 390.0,330.3 385.9,332.1 383.3,332.6 380.2,332.6 377.1,333.6 369.6,333.9 362.7,333.6 357.8,331.6 350.8,329.5 348.5,327.4 345.7,325.9 343.6,322.8 328.1,317.1 312.9,316.3 297.7,316.6 294.4,317.1 285.1,316.6 280.7,318.1 277.6,318.1 272.0,319.7 267.3,320.2 263.5,321.2 261.7,321.2 259.6,321.7 256.8,323.3 251.4,324.8 248.3,324.8 246.7,325.4 246.0,323.8 244.7,323.0 243.6,323.0 239.3,324.3 236.9,325.9 230.5,328.5 228.9,329.5 225.9,330.0 220.2,332.1 217.1,331.8 215.6,332.6 210.4,332.3 208.9,331.6 208.6,336.0 206.3,337.8 205.8,339.1 204.5,340.4 199.8,341.2 192.1,341.2 181.0,338.3 174.6,334.4 172.0,332.1 169.4,331.1 167.1,327.9 163.5,326.4 161.2,326.4 158.4,324.6 155.8,324.8 152.2,323.0 147.5,323.0 143.4,321.2 137.7,321.2 135.7,320.4 130.0,320.7 125.9,319.7 122.5,319.7 120.7,318.1 116.4,318.1 114.8,318.6 113.3,315.5 112.5,315.0 109.7,314.7 108.1,314.0 106.1,312.4 103.7,309.8 102.2,311.4 101.4,314.7 99.6,316.6 97.3,316.6 96.0,315.5 96.0,428.4 100.1,428.7 107.9,427.6 112.8,427.6 114.6,428.1 120.7,428.7 127.7,427.6 144.2,427.9 147.3,427.1 152.4,427.1 155.5,427.6 166.1,427.6 168.4,427.1 175.6,427.1 188.0,428.1 201.9,428.1 208.1,427.4 212.7,428.1 218.9,427.9 223.3,428.4 240.5,428.1 245.2,428.9 262.4,429.2 264.5,429.7 268.6,429.7 271.5,430.2 289.5,429.7 292.6,430.2 305.2,430.5 310.4,429.7 326.9,429.7 329.2,430.2 335.1,430.2 339.7,429.7 358.3,430.5 363.2,429.7 394.6,429.7 399.8,429.2 408.5,429.2 411.1,428.7 434.5,428.7 441.8,427.4 445.4,427.6 448.7,428.7 453.4,428.7 460.6,427.6 462.9,427.6 468.8,428.7 475.0,428.1ZM119.7,320.2 120.2,319.7 120.7,320.4 120.0,320.7ZM474.2,318.9 474.2,319.4 472.9,320.7 471.6,321.0 471.1,320.4 472.7,318.9ZM103.2,318.9 103.2,319.4 101.9,320.7 100.6,321.0 100.1,320.4 101.7,318.9ZM104.3,316.6 105.3,315.3 107.9,315.3 108.6,316.0 108.1,317.6 107.1,318.4 104.8,318.1 104.3,317.6Z"/><path fill="#ffa882" fill-rule="evenodd" d="M475.0,324.6 471.4,324.8 470.4,324.3 465.5,324.3 462.9,321.5 461.9,319.7 459.8,317.6 458.2,317.1 451.5,317.6 449.0,318.4 443.0,318.1 432.7,321.2 428.1,321.5 420.6,323.3 416.3,323.8 413.4,324.8 408.3,327.9 401.8,330.0 390.2,334.9 385.1,335.5 379.4,335.2 373.7,335.7 369.9,335.2 365.0,336.0 360.3,334.7 353.9,334.2 351.1,333.1 349.8,333.1 346.9,332.1 340.2,328.5 327.4,324.8 318.3,324.8 312.9,324.1 299.3,324.6 286.1,324.3 280.0,326.4 269.9,326.7 263.2,327.4 258.6,328.5 252.9,330.5 249.3,331.1 246.0,332.1 244.4,332.1 242.1,333.1 238.5,333.1 237.7,333.6 224.6,334.2 221.2,336.2 217.9,336.2 215.6,336.8 204.7,342.2 198.0,342.4 196.2,341.9 191.6,341.9 181.3,339.3 170.7,333.6 168.4,333.1 164.3,330.0 162.7,329.5 160.2,329.5 157.6,328.5 156.0,328.5 152.7,325.9 148.0,326.7 144.7,326.1 142.4,324.6 138.8,324.1 132.3,324.3 129.0,325.6 127.4,325.6 124.9,324.6 115.1,325.1 111.5,323.8 109.1,324.6 100.4,324.8 99.4,324.3 96.0,324.3 96.0,326.7 96.8,326.4 98.3,327.2 97.6,328.2 96.0,328.5 96.0,420.1 130.5,419.9 133.4,419.3 137.7,419.3 140.8,419.9 144.2,419.3 155.5,419.3 157.8,418.8 166.9,419.6 172.8,419.6 176.6,419.1 184.6,419.3 187.5,419.9 190.6,419.3 200.1,419.6 203.4,419.1 213.7,419.6 216.3,419.1 223.8,419.3 227.9,418.3 231.0,418.3 237.7,419.3 253.2,419.6 260.6,420.6 269.9,420.4 272.0,420.9 275.8,420.9 277.9,420.4 295.4,420.6 302.1,419.3 305.5,419.9 314.0,419.3 316.8,419.9 324.0,419.9 328.1,420.4 336.1,420.4 341.0,419.6 345.9,419.6 350.8,420.4 354.2,420.4 357.8,419.3 361.1,419.3 364.5,420.4 370.1,420.4 371.4,419.9 376.1,419.3 383.3,420.6 390.0,420.4 394.4,422.4 395.9,422.2 397.4,422.7 399.2,422.2 403.1,421.9 407.7,420.6 411.6,420.4 416.3,419.3 420.9,419.1 424.8,418.3 430.2,419.1 435.1,419.1 437.6,418.6 456.2,418.6 462.4,418.8 467.5,420.4 475.0,420.4ZM466.5,326.9 467.8,326.4 469.1,326.9 469.3,327.4 468.6,328.2 467.3,328.5 466.5,327.7Z"/><path fill="#ff7840" fill-rule="evenodd" d="M475.0,333.4 472.7,333.9 470.6,336.2 467.3,336.5 466.5,336.2 464.7,334.2 461.9,334.7 457.5,333.6 455.9,332.9 453.1,330.5 450.8,330.5 449.0,331.1 445.1,330.5 441.5,330.5 438.2,331.1 434.3,331.1 430.9,330.5 423.2,330.5 420.1,331.3 415.0,334.2 404.7,336.2 399.2,336.8 392.8,338.3 387.1,338.6 385.6,338.0 383.0,338.0 381.2,338.6 378.6,338.6 375.8,337.8 369.4,337.5 366.8,339.3 365.2,339.3 361.9,337.8 358.5,337.8 356.5,339.1 355.7,339.1 352.6,337.3 349.0,336.8 346.9,335.7 343.3,334.7 335.6,333.6 332.8,333.6 326.9,332.6 319.4,333.1 310.6,333.1 304.2,332.3 297.0,332.3 293.9,332.9 290.5,332.9 285.1,332.1 278.9,333.1 262.7,333.4 257.5,334.7 250.6,335.2 238.5,337.8 226.4,337.5 223.8,338.3 222.2,338.3 217.6,339.9 216.3,339.9 212.2,341.9 209.1,342.4 207.6,343.5 204.7,344.3 198.5,344.0 194.9,343.0 191.8,343.0 186.2,341.4 183.3,341.2 174.8,338.3 171.5,336.2 169.9,335.7 167.4,335.7 164.5,333.6 164.0,333.6 162.5,335.2 159.6,335.5 157.6,334.2 154.7,334.2 152.7,331.6 151.9,331.6 149.9,333.6 148.6,333.6 147.3,332.9 145.7,332.9 144.4,333.6 140.6,333.4 139.3,332.6 135.2,333.4 133.6,333.4 131.6,332.6 125.6,332.9 125.1,333.1 125.1,334.4 124.6,334.9 117.9,336.8 114.3,335.5 109.9,335.2 106.3,333.4 102.2,333.6 99.6,336.2 96.0,336.5 96.0,413.6 99.1,414.2 106.6,414.2 109.7,413.4 119.2,413.1 125.6,412.3 139.8,412.6 149.6,412.3 153.5,411.6 157.1,411.6 160.9,412.1 165.1,413.4 186.2,413.6 189.0,413.1 195.5,413.1 199.1,413.9 211.4,413.6 215.6,411.6 218.1,411.1 226.4,410.8 233.8,411.3 238.2,412.1 244.1,412.1 247.2,413.1 250.1,413.4 259.3,413.1 264.0,413.6 266.8,413.1 276.9,413.1 277.9,413.6 280.7,413.6 282.8,413.1 295.4,412.6 301.6,410.5 310.6,410.3 316.8,412.3 326.3,412.3 328.7,412.9 341.3,412.3 354.9,412.6 361.1,411.1 373.2,411.6 378.6,411.3 383.5,412.1 389.7,412.1 392.8,413.1 396.2,414.9 398.0,414.7 400.8,412.9 402.9,412.3 404.7,412.6 405.4,413.1 411.4,413.1 414.7,412.3 432.0,412.9 443.6,412.9 450.5,412.3 455.7,413.1 462.4,413.1 470.1,414.2 475.0,414.2ZM236.7,373.5 237.5,372.7 239.5,372.0 246.5,372.2 248.3,373.5 248.3,374.3 246.7,375.6 241.8,376.1 238.2,375.3 236.7,374.0ZM116.1,376.1 116.9,375.1 118.2,374.3 118.9,372.5 120.5,371.4 121.0,372.2 121.0,373.3 121.8,374.0 123.1,373.8 124.9,372.5 126.2,372.5 128.7,375.8 128.7,376.6 127.7,377.7 126.4,377.7 124.3,376.6 122.5,376.6 120.0,377.1 117.9,378.7 116.9,378.7 116.4,377.9ZM398.7,382.1 398.5,380.0 397.4,377.7 397.4,375.1 398.2,373.0 400.3,371.2 403.1,371.2 406.5,372.2 408.0,373.5 409.0,373.5 410.3,372.5 411.4,372.5 412.1,373.0 412.4,374.8 411.1,376.6 409.6,376.6 408.3,376.1 407.5,376.4 400.0,382.6 399.2,382.6ZM222.5,370.4 223.8,369.4 225.1,369.4 226.6,370.9 226.6,372.0 225.9,373.0 223.8,373.0 222.8,372.0ZM204.2,367.3 205.8,367.6 206.5,368.6 206.5,369.6 206.0,370.4 204.7,370.7 203.7,369.6 203.7,367.8ZM215.8,366.5 218.1,366.5 220.2,368.3 219.9,370.4 218.9,372.5 218.1,373.0 217.1,373.0 214.3,372.0 213.0,370.1 213.0,368.6Z"/><path fill="#ff501a" fill-rule="evenodd" d="M96.0,341.9 96.0,409.8 104.0,410.8 110.4,408.5 126.2,407.9 137.7,406.4 146.5,406.9 157.6,406.1 161.4,406.9 165.3,408.5 180.0,408.5 183.6,407.9 194.4,408.2 198.5,407.4 210.1,407.9 215.6,405.9 217.1,405.9 219.2,406.7 222.5,406.7 226.1,405.9 235.4,406.1 241.6,407.4 246.0,409.5 251.1,410.0 254.2,409.0 257.8,406.7 257.8,404.3 258.3,403.3 260.9,400.7 269.9,401.2 272.5,400.4 275.6,400.2 278.2,400.7 283.3,400.7 286.4,401.7 287.9,401.7 291.6,399.7 293.1,399.4 299.0,399.7 302.9,398.6 309.8,398.6 317.6,399.1 323.0,401.2 337.9,401.2 343.3,402.8 345.9,402.8 349.5,401.7 354.9,401.7 358.3,400.2 360.3,400.2 368.1,402.8 374.5,405.9 384.8,407.4 390.7,407.4 394.1,409.0 396.2,410.5 397.2,410.5 399.0,409.5 404.9,409.8 406.5,409.0 410.1,408.7 412.1,407.7 416.3,407.7 419.9,408.5 424.0,408.5 427.1,409.0 436.6,408.2 457.0,408.5 462.6,409.8 467.5,409.8 471.1,410.5 475.0,410.8 475.0,341.9 472.9,341.9 470.1,340.9 467.8,341.4 466.2,342.4 463.4,343.2 461.1,342.4 459.3,341.2 458.5,341.2 457.2,341.9 455.4,341.9 447.9,340.1 445.1,340.4 443.8,340.9 441.0,340.9 436.1,340.1 415.5,340.4 412.4,339.9 407.5,340.1 401.1,341.2 370.9,340.9 369.1,342.7 365.5,344.5 364.7,344.5 363.2,343.5 360.1,343.5 357.8,342.7 354.7,342.4 352.4,340.9 347.7,338.8 344.1,338.0 331.7,338.3 328.4,337.8 319.4,337.8 317.3,338.3 309.6,337.8 307.3,338.3 292.3,338.3 290.8,337.8 284.9,337.5 281.0,338.3 265.0,338.3 263.5,338.8 258.6,339.3 249.3,339.3 245.2,339.9 239.0,341.9 236.9,342.2 233.6,341.9 230.0,340.9 223.8,340.9 223.3,340.4 221.2,340.4 219.7,340.9 217.4,342.4 215.0,343.0 213.2,344.8 209.4,344.5 206.3,346.1 199.3,345.6 196.5,344.5 190.6,344.0 188.0,343.5 185.7,342.4 182.6,342.4 180.5,341.7 177.4,341.4 173.0,339.9 167.9,339.9 166.9,340.4 164.5,340.4 159.1,337.5 155.3,337.5 154.0,338.0 149.6,337.8 147.0,339.3 143.7,337.8 143.4,338.3 141.6,339.1 138.8,338.8 134.7,340.9 131.0,340.6 128.5,341.9 126.2,341.9 125.1,341.4 122.0,341.4 119.2,341.9 117.6,340.6 116.1,340.9 114.8,342.7 111.5,341.9 109.1,340.6 108.4,340.6 107.1,341.4 104.8,341.4 104.0,341.9 101.9,341.9 101.2,341.4 98.3,340.9ZM391.3,370.7 392.8,368.3 394.4,367.0 394.9,367.0 396.9,369.4 398.5,369.1 400.0,368.1 404.9,367.8 406.7,368.3 409.8,367.0 412.4,368.9 414.7,371.7 416.8,373.0 417.0,375.6 416.3,377.4 413.7,378.9 412.9,380.0 411.6,380.5 407.7,380.5 405.2,381.3 402.9,382.8 402.3,384.1 400.8,385.9 399.2,386.2 397.4,384.6 396.9,383.6 396.9,381.5 395.9,378.7 394.9,377.9 393.6,377.7 392.8,376.6 391.5,373.8ZM172.3,373.3 172.3,372.2 172.8,371.4 175.9,369.6 181.8,368.1 190.0,368.3 197.8,367.6 200.1,366.5 201.9,364.5 203.2,363.9 209.1,365.5 210.9,365.5 215.8,364.2 221.2,364.2 225.9,365.2 229.2,365.2 233.8,363.9 242.1,364.2 247.8,365.2 254.2,365.5 257.8,366.5 262.4,367.0 263.7,367.6 265.0,369.1 264.8,371.7 262.4,373.5 259.9,374.3 258.3,374.3 256.8,373.5 255.0,375.6 251.4,377.9 223.0,377.9 218.9,376.9 205.5,376.6 202.2,375.6 200.9,375.6 198.0,376.6 193.1,376.4 187.2,377.1 179.5,377.1 174.1,375.3 172.8,374.3ZM110.2,364.5 110.7,363.9 112.8,364.5 115.1,364.5 116.4,363.4 118.2,363.4 118.4,362.9 117.6,361.3 118.7,360.3 119.5,360.3 121.5,361.9 123.1,362.4 124.1,363.7 124.6,363.7 126.2,362.4 126.9,362.4 127.4,363.2 127.4,364.7 128.5,365.7 130.3,366.3 131.8,365.5 134.1,365.5 134.7,365.0 134.7,363.2 135.2,362.6 138.0,362.4 139.0,363.2 139.3,363.9 139.0,365.7 138.5,366.5 138.5,367.3 139.5,368.9 139.5,370.9 138.8,373.0 139.5,376.1 139.5,377.7 139.0,378.7 139.0,382.1 137.5,382.3 135.7,381.3 134.7,381.3 132.8,382.3 130.0,382.8 128.5,384.4 127.7,384.6 123.8,384.6 119.7,382.8 115.3,382.8 114.0,381.5 112.0,378.2 110.9,373.5 109.9,371.4 109.9,370.7 110.9,369.9 111.2,369.1 110.4,367.6 109.7,368.6 109.1,368.1 109.1,367.6 109.9,367.0ZM324.8,361.1 326.3,359.8 330.7,358.8 335.1,358.8 340.0,359.8 342.8,359.8 344.9,360.8 345.1,361.9 344.1,362.6 342.1,363.2 330.7,363.4 326.1,362.6 324.8,361.6Z"/><path fill="#e63200" fill-rule="evenodd" d="M261.4,393.2 262.7,394.0 267.1,394.2 268.1,393.4 267.1,392.7 262.2,392.7ZM96.0,375.6 96.0,404.8 97.6,404.8 100.9,405.9 103.5,405.9 105.0,405.4 107.6,403.8 111.5,402.2 113.0,402.2 118.2,404.3 125.1,404.8 128.0,403.0 132.1,402.8 138.3,398.4 145.0,398.1 149.1,399.1 157.1,399.1 160.7,399.9 166.3,399.1 173.8,399.1 175.6,399.7 181.5,399.7 186.4,400.4 192.6,399.9 201.1,400.2 202.7,399.7 213.5,398.9 216.1,399.7 217.9,401.5 218.9,404.1 219.7,404.8 225.3,403.8 227.9,402.8 235.6,403.0 240.0,404.8 242.3,405.4 244.7,406.7 248.5,406.7 250.1,406.1 252.1,406.1 253.2,405.6 253.7,404.6 256.0,402.8 257.8,399.7 258.6,395.3 258.3,393.2 253.7,387.8 251.6,384.1 250.1,382.6 247.5,381.0 246.0,381.0 244.4,381.8 242.3,381.8 241.3,381.3 235.4,381.3 232.0,382.6 226.6,383.1 222.5,383.1 217.4,381.8 214.8,381.8 213.0,382.3 203.4,382.1 200.1,382.8 196.2,382.8 194.4,382.3 190.0,382.1 185.7,383.4 176.1,384.4 172.8,385.4 165.1,385.4 160.7,387.5 158.4,387.5 155.3,386.5 151.1,382.3 148.8,381.3 146.5,381.3 144.7,382.8 142.9,387.2 140.8,389.0 139.3,389.6 136.2,389.6 134.9,388.5 133.6,388.5 132.3,389.0 131.0,390.6 129.8,391.1 127.4,390.1 125.4,388.3 119.5,388.5 117.9,387.0 114.3,387.0 112.2,385.4 112.0,384.4 109.9,381.8 106.8,378.9 103.0,377.1 99.1,376.6ZM96.0,345.3 96.0,356.2 100.1,355.6 101.7,356.4 104.5,356.4 106.1,358.0 109.9,359.8 112.0,359.8 114.3,358.2 115.8,358.2 117.1,357.7 127.2,357.7 131.0,358.8 132.3,359.8 136.2,359.8 137.7,359.3 139.0,358.2 139.8,358.2 140.6,359.3 140.6,360.1 141.6,362.1 142.1,365.5 143.4,366.0 144.2,367.0 145.7,367.6 147.0,369.1 150.1,368.1 152.4,366.0 153.5,362.1 154.2,360.6 155.3,359.8 161.4,359.5 164.0,360.3 169.2,360.6 170.7,361.1 172.3,362.4 174.3,362.6 177.2,361.6 183.9,361.9 185.9,360.8 187.5,360.6 193.4,360.6 200.6,356.9 202.2,357.7 204.5,357.7 207.3,359.8 210.7,361.3 216.8,361.3 221.7,360.8 224.6,361.9 228.2,361.9 231.5,359.8 234.1,357.2 236.2,357.2 241.1,359.3 247.8,360.8 264.8,361.9 270.7,363.2 289.2,362.9 291.6,363.4 296.7,363.4 302.6,362.4 306.2,360.8 311.9,359.8 317.1,357.7 324.0,356.2 331.7,355.4 349.5,355.6 352.6,354.1 354.7,353.8 359.3,356.7 367.6,358.8 368.6,359.3 371.4,362.4 375.5,363.4 377.9,364.7 379.9,366.5 385.1,367.8 387.4,367.8 388.7,367.0 390.2,365.5 390.7,363.9 392.3,362.4 393.1,360.8 397.7,359.3 402.1,359.5 405.2,358.0 407.2,358.0 409.6,358.5 413.9,358.5 418.3,359.8 421.1,360.1 424.8,358.8 427.6,359.8 429.1,361.3 429.1,362.6 427.3,364.2 423.5,364.5 422.4,365.0 421.9,365.7 421.1,368.6 421.1,369.6 421.9,371.2 419.9,372.7 419.9,375.6 421.1,377.9 420.4,380.2 420.4,381.5 421.4,382.6 424.2,382.8 425.8,383.6 427.1,384.9 428.1,387.8 429.1,388.8 429.1,389.6 426.3,391.9 424.5,391.9 421.7,392.9 420.6,392.7 419.9,391.9 417.5,388.3 414.4,385.9 411.6,384.9 409.6,383.4 408.8,383.4 406.2,384.9 404.7,385.2 403.4,386.7 401.8,390.6 400.8,391.6 398.7,392.2 398.0,391.1 397.7,388.5 396.9,387.0 395.9,386.2 394.6,383.6 391.3,381.3 385.6,380.2 381.2,377.7 376.6,378.7 372.7,378.9 369.6,378.2 366.5,376.4 360.9,376.6 357.5,375.6 356.0,374.0 356.0,373.3 357.3,371.2 357.8,369.4 357.8,366.5 356.5,365.5 353.9,365.7 352.4,367.3 352.1,369.9 352.9,372.7 351.8,373.8 349.3,373.8 344.9,372.0 341.0,371.4 336.1,368.9 334.3,368.3 329.2,368.3 325.6,368.9 316.5,368.9 314.0,369.6 302.1,369.9 299.3,370.4 298.5,370.9 298.3,372.7 294.1,376.1 294.1,377.1 294.6,377.9 298.5,379.5 306.0,380.5 313.2,382.1 328.7,387.2 337.2,388.8 342.6,391.4 343.3,391.4 348.2,393.4 350.8,394.0 357.5,396.6 360.3,397.1 371.9,401.2 375.0,401.2 380.2,402.0 390.7,401.7 392.8,402.2 397.7,404.8 399.2,405.1 402.6,407.4 405.2,407.4 408.3,405.4 412.6,404.3 414.7,402.5 416.5,402.5 417.5,403.0 432.7,403.3 439.4,402.2 443.6,402.5 446.4,402.0 450.5,402.0 457.7,402.8 463.1,404.6 468.6,404.8 471.9,405.9 475.0,405.6 475.0,377.7 474.0,377.1 466.2,375.6 460.6,373.0 456.7,373.0 455.7,372.2 454.6,368.1 453.6,367.0 452.3,367.3 450.3,370.1 450.8,372.5 449.5,373.5 448.5,373.8 446.7,373.5 446.1,372.7 446.1,371.4 445.6,370.9 443.8,370.4 434.3,370.4 432.5,369.9 430.9,368.6 430.2,367.0 430.4,363.2 432.5,361.1 434.8,359.8 445.9,358.0 451.5,358.8 453.6,356.2 455.7,354.6 456.7,354.6 458.5,356.2 462.9,355.6 464.7,356.4 466.5,356.4 471.1,355.6 472.7,356.4 475.0,356.4 475.0,344.5 469.8,344.0 468.6,345.0 465.2,345.3 462.9,346.8 458.0,346.6 455.9,345.6 439.2,345.6 426.0,344.5 411.9,344.0 401.6,344.3 387.4,343.7 383.5,344.3 375.0,344.5 371.9,345.6 369.4,345.6 367.3,346.8 358.5,347.4 355.2,348.7 353.4,348.9 351.6,348.1 348.0,343.7 346.7,343.0 345.1,342.7 340.8,343.7 336.1,343.5 332.0,344.3 325.0,344.0 323.2,344.5 319.1,344.5 317.6,344.0 312.4,344.0 306.0,345.3 293.4,345.3 289.5,344.8 285.4,345.3 280.0,345.3 274.8,344.5 268.9,344.5 264.8,345.3 256.8,345.0 255.2,345.6 248.8,345.6 246.2,346.1 244.7,346.8 243.4,348.1 241.3,349.2 239.0,349.7 235.1,349.7 233.3,348.7 231.8,346.8 229.7,346.1 223.5,346.1 218.4,348.1 216.1,348.7 210.4,348.7 209.9,348.1 208.6,348.1 206.5,349.4 201.9,349.2 200.6,348.1 199.6,347.9 197.5,348.1 196.0,349.2 194.4,348.4 190.3,347.6 188.2,346.6 186.4,347.1 185.1,345.6 182.1,345.3 180.5,344.5 177.7,344.5 176.1,346.1 174.1,347.1 170.5,347.1 166.9,346.1 164.0,346.1 160.7,345.0 157.3,341.9 157.1,341.2 156.6,341.2 154.7,342.4 147.8,342.4 146.5,343.0 144.7,344.5 144.7,345.6 146.2,348.4 146.2,352.5 145.7,353.1 142.9,349.7 141.4,345.0 139.8,343.7 138.8,343.7 137.5,344.5 133.4,344.3 132.8,344.8 132.3,347.9 131.6,348.9 128.7,348.7 127.4,350.0 126.7,350.0 124.3,347.4 124.1,346.1 122.8,347.4 121.3,347.4 112.5,345.8 109.7,344.3 101.4,344.5 100.4,344.0 98.8,344.0 97.6,345.0Z"/><path fill="#bb2200" fill-rule="evenodd" d="M411.6,391.6 410.3,391.6 409.8,392.2 410.1,392.9 411.6,393.7 411.1,394.2 407.2,394.2 405.9,393.4 404.4,393.7 404.7,396.6 402.9,397.8 402.1,400.2 400.8,401.5 400.8,402.8 401.8,403.8 403.1,404.3 404.1,404.3 404.9,403.8 407.2,400.7 407.7,398.6 408.5,397.8 410.3,398.1 411.4,397.6 413.9,395.0ZM122.5,391.6 121.3,392.7 120.0,392.9 117.9,394.2 117.9,399.9 119.7,401.5 124.6,401.7 128.0,398.6 130.0,397.8 127.7,394.2 124.9,391.9ZM187.0,391.6 188.8,393.4 191.6,394.2 198.8,393.7 203.4,394.5 205.2,393.7 205.2,392.9 204.0,391.6 201.9,391.6 198.8,392.9 196.7,392.7 193.1,391.1 190.8,390.6 188.5,390.6ZM468.0,388.5 467.8,389.8 469.3,391.9 472.4,393.4 475.0,393.7 475.0,387.0 470.4,387.5ZM96.8,389.0 97.3,390.9 98.3,391.9 102.4,393.7 106.3,393.4 107.9,392.2 108.4,390.9 107.3,388.5 106.3,387.5 105.0,387.0 99.4,387.5 97.8,388.0ZM216.3,392.2 216.3,394.0 217.4,396.8 218.4,397.8 219.7,398.4 221.0,400.7 222.8,402.0 223.8,402.0 226.4,400.2 229.5,398.6 230.5,398.6 233.3,400.7 236.9,401.2 239.5,402.8 242.6,403.0 244.1,403.8 247.5,403.5 248.8,402.8 251.6,402.5 253.2,401.7 254.5,400.2 254.7,396.8 255.2,396.0 255.2,394.5 253.2,390.6 250.6,388.3 249.0,385.4 247.2,383.6 246.5,383.6 245.2,385.7 244.4,386.2 243.4,386.2 241.1,385.2 239.8,383.6 238.5,383.1 235.4,383.6 232.3,385.4 228.2,386.2 223.5,388.5 219.7,389.0 217.9,390.1ZM326.1,379.7 326.6,381.5 327.6,382.6 329.9,383.6 333.5,383.6 334.6,382.6 334.6,381.0 333.0,379.7 329.9,378.7 327.1,378.7ZM144.2,359.5 143.9,360.6 145.2,362.1 146.8,362.4 147.3,361.9 147.3,360.8 146.2,358.8ZM117.6,354.6 118.7,354.9 118.9,354.4 118.2,354.1ZM289.5,353.6 289.5,354.1 292.6,355.1 297.0,355.1 297.7,354.4 297.5,353.3 296.4,352.8 292.1,352.8ZM107.9,353.6 108.6,354.9 111.5,356.9 114.0,355.9 115.8,355.6 116.4,355.1 116.1,354.4 115.1,353.8 113.3,354.6 111.7,354.6 110.7,354.1 109.4,352.5 108.1,352.8ZM259.6,355.9 261.4,357.2 264.5,358.2 269.9,359.3 276.9,358.8 282.3,357.2 283.6,356.4 286.1,353.8 286.1,353.1 284.9,352.0 283.1,352.0 281.2,352.8 279.2,352.8 272.7,350.2 268.9,349.7 267.1,350.2 263.7,352.8 260.9,353.8 259.6,354.9ZM181.5,348.1 180.5,347.6 179.0,347.6 176.6,349.4 174.6,350.2 165.8,349.7 163.8,350.5 163.0,351.5 163.0,352.5 164.5,354.1 167.4,355.1 172.5,354.6 175.9,353.6 176.4,353.1 176.9,351.2 177.7,350.5 180.8,349.7 181.5,348.9ZM373.0,352.5 376.6,354.4 379.9,354.4 384.0,356.7 394.4,356.7 402.6,355.1 405.7,354.1 407.7,353.1 408.8,351.5 408.3,350.0 407.5,349.2 403.4,347.6 400.5,347.1 393.8,347.1 389.5,346.6 384.3,347.6 379.2,347.6 374.0,350.0 373.0,351.2Z"/><path fill="#8b0000" fill-rule="evenodd" d="M224.1,391.1 222.2,391.1 221.2,391.6 219.4,394.0 219.7,395.0 221.2,395.8 222.5,395.8 224.3,395.0ZM232.3,390.6 232.6,392.4 233.8,395.0 234.9,396.0 239.8,396.0 240.5,396.6 243.4,396.3 244.4,397.1 246.0,397.3 247.8,399.1 250.3,399.4 251.6,398.6 251.6,397.3 252.7,395.5 252.7,394.0 251.9,392.2 249.0,389.0 247.5,388.3 242.1,388.0 241.3,388.5 241.1,391.1 242.3,391.9 243.9,392.2 244.4,392.9 242.6,395.0 240.0,393.7 239.3,392.2 238.2,391.6 236.2,391.9 235.6,391.4 235.6,390.1 235.1,389.6 232.8,389.8ZM245.2,393.7 246.2,393.2 247.2,394.0 247.2,394.5 246.5,395.3 246.0,395.3 245.2,394.5ZM238.0,387.2 236.7,387.0 235.9,388.5 236.9,388.8 237.7,388.3ZM387.1,352.0 387.4,352.5 389.2,353.1 392.3,353.1 393.6,352.5 393.6,351.8 392.5,351.2 388.2,351.2Z"/><path d="M133.5,337.2L131.9,336.9L129.9,337.5L125.8,336.8L123.7,335.7L122.2,335.4L120.6,336.5L120.1,338.0L118.0,337.5L115.8,336.1L112.9,335.5L111.3,335.0L110.5,334.0L111.3,332.7L111.3,331.2L110.3,330.9L108.2,331.3L105.2,331.4L103.1,331.4L100.0,332.4L97.9,333.2L94.5,332.3L93.8,332.4L93.0,334.3L90.4,335.8L89.9,338.4L88.7,339.8L86.6,340.8L85.1,342.6L83.5,344.9L82.5,347.8L83.2,349.8L83.0,352.9L82.0,354.3L82.7,356.6L84.5,358.3L86.3,360.2L88.1,362.3L90.7,364.3L92.3,364.9L95.4,364.1L97.9,364.5L101.0,363.4L102.6,363.0L104.6,363.0L105.7,364.8L107.2,364.9L109.1,364.8L110.0,366.4L109.8,368.5L109.3,370.5L110.3,372.6L112.2,374.5L112.6,375.7L113.7,378.3L114.2,380.9L112.9,383.5L112.2,386.1L112.2,388.1L113.4,391.2L114.9,393.3L115.5,396.9L117.0,399.1L118.0,401.6L118.9,403.4L119.0,404.9L120.6,405.5L123.2,404.7L126.3,404.7L128.3,404.0L130.9,401.6L133.0,399.3L133.9,396.4L136.4,394.4L136.6,392.3L135.9,390.2L137.6,388.7L140.2,386.6L141.9,385.0L141.7,382.4L141.6,380.4L140.5,377.8L140.0,375.9L140.5,374.2L141.7,372.1L143.3,370.3L145.3,368.5L147.4,366.9L149.5,364.8L151.3,361.7L152.6,358.6L152.8,357.3L150.5,357.8L147.9,358.3L145.9,358.7L144.5,357.6L144.3,356.3L142.3,354.5L140.9,353.7L139.8,350.9L138.4,348.3L138.1,346.7L136.8,344.8L135.6,342.1L134.5,340.5L133.6,338.5ZM504.5,337.2L502.9,336.9L500.9,337.5L496.8,336.8L494.7,335.7L493.2,335.4L491.6,336.5L491.1,338.0L489.0,337.5L486.8,336.1L483.9,335.5L482.3,335.0L481.5,334.0L482.3,332.7L482.3,331.2L481.3,330.9L479.2,331.3L476.2,331.4L474.1,331.4L471.0,332.4L468.9,333.2L465.5,332.3L464.8,332.4L464.0,334.3L461.4,335.8L460.9,338.4L459.7,339.8L457.6,340.8L456.1,342.6L454.5,344.9L453.5,347.8L454.2,349.8L454.0,352.9L453.0,354.3L453.7,356.6L455.5,358.3L457.3,360.2L459.1,362.3L461.7,364.3L463.3,364.9L466.4,364.1L468.9,364.5L472.0,363.4L473.6,363.0L475.6,363.0L476.7,364.8L478.2,364.9L480.1,364.8L481.0,366.4L480.8,368.5L480.3,370.5L481.3,372.6L483.2,374.5L483.6,375.7L484.7,378.3L485.2,380.9L483.9,383.5L483.2,386.1L483.2,388.1L484.4,391.2L485.9,393.3L486.5,396.9L488.0,399.1L489.0,401.6L489.9,403.4L490.0,404.9L491.6,405.5L494.2,404.7L497.3,404.7L499.3,404.0L501.9,401.6L504.0,399.3L504.9,396.4L507.4,394.4L507.6,392.3L506.9,390.2L508.6,388.7L511.2,386.6L512.9,385.0L512.7,382.4L512.6,380.4L511.5,377.8L511.0,375.9L511.5,374.2L512.7,372.1L514.3,370.3L516.3,368.5L518.4,366.9L520.5,364.8L522.3,361.7L523.6,358.6L523.8,357.3L521.5,357.8L518.9,358.3L516.9,358.7L515.5,357.6L515.3,356.3L513.3,354.5L511.9,353.7L510.8,350.9L509.4,348.3L509.1,346.7L507.8,344.8L506.6,342.1L505.5,340.5L504.6,338.5ZM150.8,381.9L151.8,385.6L151.0,387.6L150.3,390.7L148.6,395.3L146.6,395.9L145.0,393.8L144.8,391.8L145.7,389.7L145.6,387.1L147.7,385.8L149.5,383.8ZM133.6,338.5L136.0,339.0L136.1,340.5L138.1,343.6L139.7,346.2L140.4,347.8L142.3,350.3L144.0,352.9L144.6,355.7L145.9,356.3L149.5,355.0L153.6,352.9L156.7,351.4L159.3,349.8L160.5,348.3L161.6,346.2L160.3,345.0L158.2,344.1L158.0,342.4L155.6,344.4L153.4,344.6L153.1,342.8L152.4,343.6L151.5,341.9L150.3,340.5L149.5,338.4L151.5,338.2L152.6,340.0L154.6,341.7L156.4,342.0L158.2,341.4L159.1,342.9L161.8,343.3L163.9,343.4L167.0,343.3L168.6,343.2L169.4,344.0L170.3,345.0L171.0,346.4L172.4,348.0L174.3,347.5L175.0,349.8L175.5,352.9L176.7,355.5L177.8,357.6L178.8,360.2L179.9,361.1L180.6,360.3L181.4,359.9L182.2,358.8L182.3,357.1L182.7,355.5L182.7,353.7L184.5,352.4L186.1,351.1L187.6,349.3L189.5,348.1L189.9,347.2L191.7,346.9L193.3,346.2L194.6,346.4L195.1,348.0L196.6,349.5L197.3,351.4L197.2,352.9L198.3,353.1L200.0,352.1L200.7,353.4L201.2,355.5L201.6,358.1L201.3,360.2L201.3,361.4L203.1,362.8L203.5,364.3L204.4,366.5L206.6,368.1L207.4,368.1L206.6,365.9L206.5,364.3L205.3,363.1L204.1,362.4L203.2,360.7L202.3,359.9L203.0,358.1L203.1,355.6L204.1,356.3L205.6,357.1L206.1,358.4L208.0,358.7L208.1,360.5L210.0,358.8L211.3,358.3L212.5,357.3L212.6,355.5L212.1,353.4L210.8,352.1L209.8,350.9L209.0,349.5L210.0,348.0L211.3,347.2L212.8,347.2L213.7,348.5L213.9,347.4L215.4,346.9L217.7,346.4L220.1,345.7L221.6,344.2L223.3,342.8L224.2,341.0L225.5,339.2L225.7,337.6L224.7,336.6L224.0,334.8L222.8,333.5L224.0,332.2L226.2,331.2L224.7,330.6L222.6,330.9L221.4,329.6L221.6,328.9L223.2,328.2L224.7,327.2L225.9,327.6L224.9,329.1L225.7,329.0L228.1,328.2L229.1,329.5L228.6,330.1L230.5,330.5L230.3,331.7L230.3,333.6L231.4,333.6L233.1,332.9L233.5,331.2L232.3,329.4L231.3,328.6L232.4,327.6L233.8,326.5L234.7,325.7L236.5,324.8L238.1,324.7L239.6,323.4L241.2,321.9L242.9,320.3L244.5,318.8L244.8,316.7L245.7,314.4L244.1,313.4L241.7,313.6L239.3,312.8L241.7,311.0L244.8,309.2L247.4,308.1L250.5,308.0L253.6,307.8L257.0,308.4L259.7,308.0L261.6,305.7L264.9,305.5L268.2,304.8L268.3,306.5L266.8,307.2L264.7,308.2L262.8,309.4L261.3,310.5L260.4,312.5L260.5,314.6L261.5,316.7L263.1,315.4L263.4,314.6L264.9,313.6L266.9,312.8L266.7,311.2L268.3,311.3L268.3,309.6L267.5,309.1L268.7,307.6L271.1,307.4L275.5,307.4L277.8,306.3L279.8,305.5L282.9,304.8L284.8,304.9L285.1,303.0L282.9,302.5L284.0,301.6L287.0,301.7L289.6,302.6L292.7,302.8L296.1,301.0L294.8,300.2L291.7,300.1L289.6,299.3L285.5,298.2L283.4,297.6L279.3,297.1L275.7,297.0L275.2,298.0L272.1,297.4L265.9,297.5L264.7,296.5L259.7,296.0L256.6,296.1L254.6,294.9L250.5,294.5L245.3,294.1L243.8,295.5L239.1,295.4L235.0,296.2L233.5,295.7L232.7,293.9L229.8,293.4L227.1,293.9L222.6,293.8L217.5,293.2L216.8,291.3L217.0,290.8L210.3,289.8L207.5,289.0L203.1,290.3L200.0,290.8L193.8,291.2L189.7,291.8L189.1,292.9L184.0,293.3L182.8,294.7L179.9,294.6L177.3,294.1L175.2,295.5L175.7,298.0L174.7,298.4L174.2,295.7L174.9,294.1L171.1,293.9L170.6,295.5L169.0,297.5L170.6,298.8L167.0,297.8L162.3,297.2L158.7,298.5L155.6,298.8L154.6,299.1L151.5,298.9L147.9,299.1L145.6,298.6L147.4,300.3L145.3,300.9L143.8,300.6L141.2,302.6L139.0,303.3L135.9,302.7L134.0,300.4L139.7,301.0L142.3,300.4L142.6,299.3L141.2,299.3L137.1,297.8L134.0,297.5L131.9,296.7L129.4,296.0L126.5,295.9L122.7,296.7L119.6,297.2L116.5,298.5L114.9,299.8L113.4,301.2L111.9,302.4L109.8,303.6L107.2,304.5L105.4,305.3L105.2,306.8L105.5,308.1L106.2,309.0L107.7,309.4L109.8,308.5L110.9,307.9L111.5,308.5L112.2,309.7L113.0,311.2L113.3,312.0L114.7,312.0L114.9,311.4L116.5,311.2L117.1,310.0L117.3,308.8L119.1,307.9L119.5,307.4L117.8,306.6L117.7,305.3L119.1,304.3L121.1,303.4L122.2,302.4L123.0,301.5L124.9,301.4L126.1,302.0L125.4,303.0L123.2,304.1L122.0,305.0L122.2,306.3L123.4,307.4L125.8,307.2L128.3,306.8L129.9,307.4L131.1,307.5L128.9,307.9L125.2,308.0L124.2,308.6L125.0,309.1L125.0,310.2L123.7,310.3L122.5,309.9L121.6,311.0L121.7,312.2L120.6,313.0L119.2,313.1L117.0,313.2L114.6,313.7L112.9,313.3L111.3,313.6L110.3,313.1L110.0,312.0L110.8,311.0L110.8,310.0L109.8,310.4L108.5,310.5L108.5,312.0L109.0,313.6L107.2,314.0L105.2,314.4L104.6,315.4L103.6,316.3L102.6,316.7L101.6,317.1L101.5,317.7L100.1,318.2L98.8,318.3L98.4,319.1L96.9,319.1L95.2,319.4L95.6,320.0L97.4,320.5L98.8,321.9L98.7,323.4L98.1,324.6L95.9,324.5L92.8,324.3L90.5,324.9L90.9,326.5L90.8,328.6L90.2,329.4L90.9,331.1L92.8,331.1L93.6,331.8L94.3,332.1L95.4,331.5L97.7,331.4L99.3,330.5L100.0,329.4L99.7,328.6L100.8,327.2L103.3,326.1L103.2,324.8L104.6,324.6L106.7,324.9L107.7,324.1L109.3,323.6L110.6,324.5L111.3,325.6L112.9,326.6L114.4,327.2L116.1,328.1L116.5,329.3L116.2,330.1L117.0,329.9L117.6,329.1L117.0,328.4L117.5,327.6L119.0,328.1L119.0,327.7L117.5,327.0L116.5,326.5L116.0,326.1L114.9,325.7L114.0,324.5L112.8,323.6L112.7,322.6L114.0,322.2L114.2,322.9L115.5,323.4L117.0,324.5L118.5,325.4L120.0,326.3L120.0,327.8L120.9,328.8L122.0,329.8L121.8,330.8L122.7,331.6L123.5,331.8L123.9,330.9L124.7,330.5L124.0,329.7L123.6,328.8L123.7,327.8L124.7,327.4L126.8,327.2L127.3,327.7L127.0,328.6L127.8,329.4L128.1,331.0L129.1,331.5L130.4,332.0L131.5,331.4L133.5,332.1L135.0,331.9L137.1,331.5L137.0,333.3L136.7,334.8L136.1,335.8L135.3,337.0L133.5,337.2ZM504.6,338.5L507.0,339.0L507.1,340.5L509.1,343.6L510.7,346.2L511.4,347.8L513.3,350.3L515.0,352.9L515.6,355.7L516.9,356.3L520.5,355.0L524.6,352.9L527.7,351.4L530.3,349.8L531.5,348.3L532.6,346.2L531.3,345.0L529.2,344.1L529.0,342.4L526.6,344.4L524.4,344.6L524.1,342.8L523.4,343.6L522.5,341.9L521.3,340.5L520.5,338.4L522.5,338.2L523.6,340.0L525.6,341.7L527.4,342.0L529.2,341.4L530.1,342.9L532.8,343.3L534.9,343.4L538.0,343.3L539.6,343.2L540.4,344.0L541.3,345.0L542.0,346.4L543.4,348.0L545.3,347.5L546.0,349.8L546.5,352.9L547.7,355.5L548.8,357.6L549.8,360.2L550.9,361.1L551.6,360.3L552.4,359.9L553.2,358.8L553.3,357.1L553.7,355.5L553.7,353.7L555.5,352.4L557.1,351.1L558.6,349.3L560.5,348.1L560.9,347.2L562.7,346.9L564.3,346.2L565.6,346.4L566.1,348.0L567.6,349.5L568.3,351.4L568.2,352.9L569.3,353.1L571.0,352.1L571.7,353.4L572.2,355.5L572.6,358.1L572.3,360.2L572.3,361.4L574.1,362.8L574.5,364.3L575.4,366.5L577.6,368.1L578.4,368.1L577.6,365.9L577.5,364.3L576.3,363.1L575.1,362.4L574.2,360.7L573.3,359.9L574.0,358.1L574.1,355.6L575.1,356.3L576.6,357.1L577.1,358.4L579.0,358.7L579.1,360.5L581.0,358.8L582.3,358.3L583.5,357.3L583.6,355.5L583.1,353.4L581.8,352.1L580.8,350.9L580.0,349.5L581.0,348.0L582.3,347.2L583.8,347.2L584.7,348.5L584.9,347.4L586.4,346.9L588.7,346.4L591.1,345.7L592.6,344.2L594.3,342.8L595.2,341.0L596.5,339.2L596.7,337.6L595.7,336.6L595.0,334.8L593.8,333.5L595.0,332.2L597.2,331.2L595.7,330.6L593.6,330.9L592.4,329.6L592.6,328.9L594.2,328.2L595.7,327.2L596.9,327.6L595.9,329.1L596.7,329.0L599.1,328.2L600.1,329.5L599.6,330.1L601.5,330.5L601.3,331.7L601.3,333.6L602.4,333.6L604.1,332.9L604.5,331.2L603.3,329.4L602.3,328.6L603.4,327.6L604.8,326.5L605.7,325.7L607.5,324.8L609.1,324.7L610.6,323.4L612.2,321.9L613.9,320.3L615.5,318.8L615.8,316.7L616.7,314.4L615.1,313.4L612.7,313.6L610.3,312.8L612.7,311.0L615.8,309.2L618.4,308.1L621.5,308.0L624.6,307.8L628.0,308.4L630.7,308.0L632.6,305.7L635.9,305.5L639.2,304.8L639.3,306.5L637.8,307.2L635.7,308.2L633.8,309.4L632.3,310.5L631.4,312.5L631.5,314.6L632.5,316.7L634.1,315.4L634.4,314.6L635.9,313.6L637.9,312.8L637.7,311.2L639.3,311.3L639.3,309.6L638.5,309.1L639.7,307.6L642.1,307.4L646.5,307.4L648.8,306.3L650.8,305.5L653.9,304.8L655.8,304.9L656.1,303.0L653.9,302.5L655.0,301.6L658.0,301.7L660.6,302.6L663.7,302.8L667.1,301.0L665.8,300.2L662.7,300.1L660.6,299.3L656.5,298.2L654.4,297.6L650.3,297.1L646.7,297.0L646.2,298.0L643.1,297.4L636.9,297.5L635.7,296.5L630.7,296.0L627.6,296.1L625.6,294.9L621.5,294.5L616.3,294.1L614.8,295.5L610.1,295.4L606.0,296.2L604.5,295.7L603.7,293.9L600.8,293.4L598.1,293.9L593.6,293.8L588.5,293.2L587.8,291.3L588.0,290.8L581.3,289.8L578.5,289.0L574.1,290.3L571.0,290.8L564.8,291.2L560.7,291.8L560.1,292.9L555.0,293.3L553.8,294.7L550.9,294.6L548.3,294.1L546.2,295.5L546.7,298.0L545.7,298.4L545.2,295.7L545.9,294.1L542.1,293.9L541.6,295.5L540.0,297.5L541.6,298.8L538.0,297.8L533.3,297.2L529.7,298.5L526.6,298.8L525.6,299.1L522.5,298.9L518.9,299.1L516.6,298.6L518.4,300.3L516.3,300.9L514.8,300.6L512.2,302.6L510.0,303.3L506.9,302.7L505.0,300.4L510.7,301.0L513.3,300.4L513.6,299.3L512.2,299.3L508.1,297.8L505.0,297.5L502.9,296.7L500.4,296.0L497.5,295.9L493.7,296.7L490.6,297.2L487.5,298.5L485.9,299.8L484.4,301.2L482.9,302.4L480.8,303.6L478.2,304.5L476.4,305.3L476.2,306.8L476.5,308.1L477.2,309.0L478.7,309.4L480.8,308.5L481.9,307.9L482.5,308.5L483.2,309.7L484.0,311.2L484.3,312.0L485.7,312.0L485.9,311.4L487.5,311.2L488.1,310.0L488.3,308.8L490.1,307.9L490.5,307.4L488.8,306.6L488.7,305.3L490.1,304.3L492.1,303.4L493.2,302.4L494.0,301.5L495.9,301.4L497.1,302.0L496.4,303.0L494.2,304.1L493.0,305.0L493.2,306.3L494.4,307.4L496.8,307.2L499.3,306.8L500.9,307.4L502.1,307.5L499.9,307.9L496.2,308.0L495.2,308.6L496.0,309.1L496.0,310.2L494.7,310.3L493.5,309.9L492.6,311.0L492.7,312.2L491.6,313.0L490.2,313.1L488.0,313.2L485.6,313.7L483.9,313.3L482.3,313.6L481.3,313.1L481.0,312.0L481.8,311.0L481.8,310.0L480.8,310.4L479.5,310.5L479.5,312.0L480.0,313.6L478.2,314.0L476.2,314.4L475.6,315.4L474.6,316.3L473.6,316.7L472.6,317.1L472.5,317.7L471.1,318.2L469.8,318.3L469.4,319.1L467.9,319.1L466.2,319.4L466.6,320.0L468.4,320.5L469.8,321.9L469.7,323.4L469.1,324.6L466.9,324.5L463.8,324.3L461.5,324.9L461.9,326.5L461.8,328.6L461.2,329.4L461.9,331.1L463.8,331.1L464.6,331.8L465.3,332.1L466.4,331.5L468.7,331.4L470.3,330.5L471.0,329.4L470.7,328.6L471.8,327.2L474.3,326.1L474.2,324.8L475.6,324.6L477.7,324.9L478.7,324.1L480.3,323.6L481.6,324.5L482.3,325.6L483.9,326.6L485.4,327.2L487.1,328.1L487.5,329.3L487.2,330.1L488.0,329.9L488.6,329.1L488.0,328.4L488.5,327.6L490.0,328.1L490.0,327.7L488.5,327.0L487.5,326.5L487.0,326.1L485.9,325.7L485.0,324.5L483.8,323.6L483.7,322.6L485.0,322.2L485.2,322.9L486.5,323.4L488.0,324.5L489.5,325.4L491.0,326.3L491.0,327.8L491.9,328.8L493.0,329.8L492.8,330.8L493.7,331.6L494.5,331.8L494.9,330.9L495.7,330.5L495.0,329.7L494.6,328.8L494.7,327.8L495.7,327.4L497.8,327.2L498.3,327.7L498.0,328.6L498.8,329.4L499.1,331.0L500.1,331.5L501.4,332.0L502.5,331.4L504.5,332.1L506.0,331.9L508.1,331.5L508.0,333.3L507.7,334.8L507.1,335.8L506.3,337.0L504.5,337.2ZM128.9,326.5L129.9,326.8L132.5,326.8L134.5,326.0L136.3,326.0L137.6,326.7L139.7,327.0L142.3,326.8L143.0,326.4L142.8,325.4L141.2,324.5L139.7,323.6L138.1,322.9L139.2,321.9L140.2,320.7L138.6,321.0L136.3,321.6L136.1,322.4L137.6,322.6L136.4,323.0L134.7,323.5L133.6,322.6L134.5,321.9L132.8,321.3L131.6,321.5L130.6,322.6L129.7,323.4L128.9,324.7L128.5,325.5ZM150.5,321.3L152.6,320.8L154.6,321.0L154.6,322.6L152.8,322.9L151.8,323.5L152.8,324.8L154.1,325.3L154.4,326.5L155.6,327.0L154.6,328.1L155.1,328.9L155.4,330.9L153.6,331.4L151.8,330.9L150.5,329.8L150.8,328.6L151.0,327.6L150.0,326.2L149.1,325.0L148.7,323.7L148.2,323.2L149.2,322.3ZM160.3,322.1L161.3,321.1L162.9,321.2L163.6,322.4L162.9,323.6L161.3,324.2L160.2,323.4ZM175.7,322.6L177.3,321.0L181.4,321.2L181.4,321.7L177.8,321.9L176.5,323.0ZM207.2,316.1L209.8,314.6L212.3,312.5L213.2,311.7L212.8,313.1L211.3,314.6L208.7,316.2ZM94.3,317.6L96.4,317.4L99.0,317.0L101.3,316.5L101.8,314.9L100.3,314.6L99.8,313.6L98.5,312.5L97.7,311.5L97.9,310.0L96.1,309.7L96.7,308.8L94.8,308.8L94.0,310.0L94.3,311.3L95.1,312.3L96.7,312.6L96.9,313.8L95.4,314.3L95.6,315.1L94.6,315.9L96.6,316.3L95.4,316.6ZM465.3,317.6L467.4,317.4L470.0,317.0L472.3,316.5L472.8,314.9L471.3,314.6L470.8,313.6L469.5,312.5L468.7,311.5L468.9,310.0L467.1,309.7L467.7,308.8L465.8,308.8L465.0,310.0L465.3,311.3L466.1,312.3L467.7,312.6L467.9,313.8L466.4,314.3L466.6,315.1L465.6,315.9L467.6,316.3L466.4,316.6ZM464.8,315.4L464.6,314.1L465.0,312.8L463.5,312.2L462.2,313.1L460.7,313.6L461.2,314.6L460.4,315.7L461.2,316.2L463.3,315.7ZM447.8,300.7L450.4,301.2L454.5,300.6L456.1,301.7L456.6,302.7L452.4,303.7L449.4,303.4L447.6,303.2L448.3,302.2L446.3,301.7ZM111.3,287.2L114.4,286.7L120.6,286.3L127.8,286.4L124.7,287.7L121.6,288.2L119.6,289.5L117.5,290.1L114.9,289.2L112.4,288.2ZM153.1,296.0L155.1,296.2L158.7,296.3L157.7,294.4L159.8,292.9L162.9,291.5L167.0,290.6L170.9,290.0L168.0,289.8L161.8,290.6L157.7,291.6L155.6,293.4L153.6,294.9ZM197.9,287.7L203.1,286.9L208.2,287.7L206.1,288.5L201.0,288.2ZM241.2,291.3L246.3,290.8L250.5,291.3L254.6,291.6L249.4,292.0L244.3,292.0ZM284.0,295.8L287.0,295.5L288.1,296.0L285.5,296.2ZM149.5,286.1L156.7,285.4L163.9,285.6L161.8,286.3L153.6,286.6ZM234.9,334.3L236.0,334.1L237.6,334.0L239.1,333.7L241.0,333.8L242.9,333.6L244.1,333.3L245.1,332.5L245.3,331.2L245.8,329.6L246.3,328.6L245.8,326.7L244.6,326.8L244.3,328.3L243.8,329.6L242.2,331.0L241.2,331.2L240.9,331.9L240.2,332.5L239.1,332.6L237.1,332.7L235.5,333.7ZM234.0,334.8L235.0,334.5L235.8,335.3L235.5,336.6L234.7,337.3L234.2,336.4L233.7,335.3ZM236.5,334.4L238.6,334.1L238.3,334.7L237.1,335.5L236.3,335.0ZM244.5,326.5L245.3,325.5L247.6,326.0L249.9,324.8L249.4,323.7L247.4,323.6L246.1,322.5L245.9,323.9L245.6,324.8L244.6,325.2ZM246.3,321.9L247.7,321.0L247.4,318.8L248.9,318.6L247.6,316.2L247.7,314.3L247.1,313.3L246.3,314.3L246.3,316.7L246.5,318.8L246.3,320.3ZM224.7,343.4L225.7,343.6L225.1,345.7L224.5,346.7L223.8,345.7L224.0,344.4ZM212.0,349.5L213.7,348.7L214.4,349.2L213.7,350.4L212.3,350.5ZM182.2,359.5L183.3,360.0L184.3,361.7L183.7,363.0L182.7,363.3L182.1,361.7ZM224.2,350.3L225.9,350.4L226.0,352.4L225.3,353.4L225.7,354.8L227.8,356.0L227.8,356.5L226.2,355.4L224.7,355.3L224.3,354.5L223.7,353.4L224.0,352.4ZM225.7,362.3L227.3,360.6L229.3,359.5L230.4,361.2L230.1,363.0L229.3,363.6L228.0,362.8L227.3,361.7ZM228.1,356.6L229.3,356.9L229.5,358.1L228.8,359.1L228.3,358.3ZM225.7,357.3L227.0,357.6L227.1,359.1L226.2,359.7L225.7,358.6ZM220.8,360.9L222.1,359.9L223.3,357.9L222.8,357.7L221.6,359.1L220.6,360.4ZM224.1,355.6L225.1,355.7L225.1,356.8L224.5,356.7ZM212.3,367.9L212.8,367.4L214.4,367.7L214.8,366.7L216.5,366.2L217.5,364.8L219.0,363.8L220.4,362.3L221.3,363.0L222.8,364.1L221.6,365.0L221.4,366.6L221.6,368.5L221.1,370.3L220.1,371.4L219.8,373.1L218.2,373.6L216.5,372.8L214.9,372.9L213.6,372.4L213.4,370.8L212.3,370.0ZM198.2,363.7L200.5,364.1L203.1,366.6L204.6,367.6L206.7,369.5L207.7,371.4L209.2,372.6L209.0,375.5L207.7,375.5L205.4,373.6L204.1,372.1L202.8,370.0L201.7,367.7L200.2,366.1L198.4,364.3ZM208.4,376.5L209.8,375.7L211.8,376.4L213.9,376.2L214.4,376.5L216.1,376.7L218.0,377.6L217.9,378.4L215.4,378.2L212.3,377.6L209.8,377.2ZM223.7,368.5L224.7,368.3L226.8,368.6L228.8,367.8L228.3,369.0L225.7,369.1L224.2,369.5L224.0,370.5L225.2,370.5L227.1,370.3L225.7,371.6L226.2,373.1L226.8,374.2L226.0,374.7L225.0,373.6L224.5,372.4L224.0,373.1L224.1,375.2L223.2,375.2L222.9,373.1L222.4,372.3L223.4,370.0ZM235.0,370.3L236.5,369.9L238.1,370.3L238.4,372.1L239.3,372.9L241.0,371.8L242.2,371.2L245.3,372.2L248.9,373.4L250.3,375.0L252.0,375.7L251.7,376.4L253.0,378.4L254.6,380.1L255.3,380.5L252.5,380.1L251.0,378.6L248.9,377.5L247.9,378.6L245.8,379.0L243.8,377.9L242.2,378.1L242.9,377.0L242.0,375.2L239.6,374.1L237.6,373.5L236.9,373.6L236.0,372.5L237.3,372.0L236.0,371.6L235.0,370.9ZM253.0,375.3L254.6,375.2L256.6,373.8L257.0,374.7L255.1,376.0L253.6,376.0ZM227.4,380.1L228.8,378.8L230.9,378.2L230.4,378.9L228.3,380.0ZM218.5,378.0L222.6,378.0L226.8,378.1L226.6,378.6L222.6,378.7L218.7,378.6ZM231.4,367.6L232.4,367.9L232.6,369.5L231.9,370.3L231.5,369.0ZM231.9,372.6L234.8,372.9L234.5,373.4L232.1,373.1ZM217.2,392.8L217.7,392.1L219.5,391.0L221.6,390.5L223.7,390.1L225.9,388.1L226.0,387.1L227.4,387.4L227.8,386.4L229.3,384.5L230.9,384.0L232.2,384.9L233.5,384.9L234.0,383.3L235.0,382.1L236.7,381.4L237.6,381.8L239.6,381.9L241.0,382.1L240.2,383.5L239.6,384.8L241.2,385.9L243.6,387.4L245.1,387.6L245.9,385.0L245.8,383.0L246.5,380.7L247.9,382.4L248.2,384.3L249.7,385.0L250.5,387.6L250.8,389.1L252.3,389.9L253.6,390.7L254.3,392.6L255.4,393.8L257.5,395.6L257.9,397.5L258.3,399.2L257.7,401.6L257.0,403.2L255.9,404.5L255.1,406.3L254.6,408.0L252.8,408.6L251.0,409.9L249.2,409.1L247.9,409.7L245.8,409.2L244.3,408.3L243.8,406.8L242.4,406.3L242.2,404.7L241.9,403.7L241.2,404.7L241.7,406.0L240.2,405.5L239.6,405.3L238.3,403.7L236.0,402.6L232.9,402.2L229.8,402.9L227.8,403.7L227.3,404.6L223.7,404.6L221.6,405.7L219.5,405.5L218.5,405.0L219.2,402.6L219.1,401.6L218.5,400.0L217.7,398.0L216.8,396.4L217.0,394.9ZM249.1,411.6L251.0,412.0L252.8,411.9L252.7,413.2L252.0,414.3L250.5,414.5L249.6,413.3ZM278.0,405.1L279.6,406.3L280.9,407.3L281.4,408.4L283.4,408.4L284.0,408.5L283.2,410.1L282.4,410.4L282.2,411.4L280.7,412.6L280.0,412.3L280.6,410.9L279.1,410.2L280.0,408.9L279.6,407.3L278.3,405.7ZM278.0,411.4L279.6,412.7L278.3,414.0L278.0,414.9L276.4,415.5L275.9,416.9L274.7,417.8L273.1,417.7L271.6,416.9L273.1,415.3L275.2,414.2L276.7,413.0L277.5,411.8ZM297.9,301.6L299.4,298.8L303.0,297.5L306.1,296.4L309.7,295.7L314.4,296.2L319.5,296.8L325.7,297.4L330.8,298.0L333.9,297.5L339.1,296.7L342.2,297.5L345.3,297.2L349.4,298.0L352.5,298.8L354.5,299.3L358.7,299.3L359.7,298.6L362.8,298.9L366.4,299.4L370.0,299.1L372.1,298.8L372.6,297.5L372.1,295.5L374.1,295.1L375.7,297.0L376.7,297.5L377.7,298.6L380.3,298.3L381.3,299.6L382.9,298.0L386.5,297.5L387.0,298.6L386.0,300.1L383.4,301.2L381.3,302.2L379.3,303.2L377.2,303.7L375.7,305.3L373.6,306.8L373.4,308.4L375.2,308.7L375.7,310.5L379.3,310.7L383.4,312.2L386.2,312.4L386.5,314.6L388.0,316.4L389.6,316.2L389.6,313.6L391.6,311.5L392.0,310.0L390.1,308.7L391.1,306.8L390.6,305.0L394.7,305.0L398.9,306.3L399.4,308.4L402.0,309.1L403.5,307.6L404.5,307.1L407.1,310.0L408.1,311.7L411.2,312.8L412.3,314.1L413.6,315.7L412.3,316.3L409.2,317.5L405.0,317.5L402.5,317.5L399.9,319.3L397.8,320.9L399.9,320.3L403.0,318.7L404.7,319.0L404.0,320.3L404.5,321.7L407.6,322.2L409.2,321.9L408.1,322.7L405.6,323.4L403.3,324.5L403.0,323.4L404.5,322.4L402.0,322.9L399.9,323.9L398.3,324.8L398.1,326.0L398.9,326.3L397.3,326.6L394.9,327.2L394.7,328.6L393.7,329.6L392.7,331.2L393.0,332.7L391.6,333.8L389.6,335.1L387.5,336.7L387.2,338.4L388.0,340.5L388.5,342.6L388.0,343.4L387.0,342.8L385.8,340.7L385.7,339.3L384.4,338.4L382.9,338.6L380.8,338.1L378.8,338.2L379.0,339.3L377.2,339.3L374.6,338.7L373.1,339.3L371.0,340.7L370.7,342.6L370.3,345.2L370.2,346.7L371.6,349.3L373.1,350.2L375.7,350.2L377.2,349.8L377.7,348.0L380.3,347.2L381.5,347.4L380.8,349.3L380.3,350.9L379.8,352.4L379.6,353.1L382.4,353.0L384.9,353.7L385.2,356.0L384.7,358.1L386.0,359.9L387.5,360.4L388.9,359.7L390.6,359.9L391.3,360.7L392.7,359.7L393.5,358.3L395.8,357.6L397.1,356.7L397.3,358.1L398.9,357.3L400.4,358.4L403.0,358.5L405.6,358.4L407.1,358.4L408.1,359.5L409.2,360.7L411.7,363.0L415.3,363.5L417.7,364.7L419.2,367.4L419.5,369.2L421.0,370.5L423.6,370.7L425.1,372.3L428.2,372.5L431.3,373.4L433.4,374.7L434.9,376.2L435.1,377.8L434.4,379.9L432.4,381.9L431.0,383.5L430.8,386.1L430.3,388.7L429.0,391.8L427.7,393.3L425.1,393.6L423.1,394.7L421.0,396.4L420.8,398.8L419.0,401.6L417.1,403.2L415.6,405.2L413.3,405.6L410.9,404.8L412.3,406.8L411.7,408.9L409.2,409.8L407.1,409.9L406.8,411.6L404.0,412.0L405.4,413.5L403.8,415.6L401.4,417.1L403.2,418.4L401.4,420.8L399.9,422.3L400.5,423.7L399.4,423.9L397.8,425.2L396.3,424.7L394.7,423.7L393.7,421.8L393.2,419.2L394.2,417.1L395.5,415.1L394.9,413.0L395.3,410.4L395.6,408.0L396.8,405.7L397.3,403.2L397.4,400.6L397.8,397.5L398.4,393.8L398.7,390.2L398.4,388.5L396.8,387.1L393.7,385.4L392.4,383.8L391.1,381.4L389.9,378.8L388.8,376.7L387.3,375.7L387.3,374.0L388.6,372.8L387.7,371.8L388.0,370.0L388.6,368.7L389.8,367.9L391.1,365.9L391.2,363.3L390.7,361.9L390.1,360.7L388.6,361.8L387.0,361.5L385.5,360.9L383.4,359.1L382.6,358.1L380.8,356.0L378.8,355.5L376.7,355.0L374.6,353.1L373.1,352.7L371.0,353.0L368.5,352.2L365.9,350.9L363.3,349.6L362.3,348.3L362.5,346.7L361.2,345.2L359.2,343.3L358.2,342.1L356.6,340.5L355.1,339.0L354.5,337.2L352.8,336.7L352.8,338.2L354.5,340.5L356.1,342.6L357.3,344.4L358.2,345.5L357.4,345.7L355.6,343.8L354.0,341.9L353.0,340.7L352.5,339.0L351.5,337.6L350.3,335.8L348.9,334.3L346.7,333.8L345.5,331.7L344.8,330.4L343.5,329.1L342.9,327.6L343.0,325.0L343.2,321.9L342.5,319.4L344.2,319.5L344.8,320.3L344.4,318.8L342.7,317.7L340.1,316.7L339.1,315.1L337.0,313.1L335.5,312.0L333.4,310.0L331.4,308.6L329.3,308.7L326.7,307.6L323.1,307.4L320.5,306.5L318.0,307.1L316.4,308.1L314.7,308.1L315.4,306.3L312.8,307.9L311.8,308.9L309.2,310.5L307.1,311.7L304.0,312.4L301.5,313.0L303.0,311.9L305.6,311.2L308.2,309.4L309.2,308.6L307.1,308.8L304.0,308.7L304.0,307.5L301.5,306.8L300.4,305.8L299.9,305.0L301.5,304.1L305.1,303.7L305.1,302.7L303.0,302.7L299.4,302.5ZM395.8,288.5L400.9,286.7L406.1,285.1L414.3,284.3L424.6,283.8L437.0,283.0L446.3,284.1L450.4,285.1L458.6,285.1L453.5,286.7L451.4,288.7L450.9,290.8L450.4,292.4L448.3,293.9L446.8,295.5L448.3,296.7L445.8,297.5L443.2,298.6L439.1,299.0L436.0,300.6L432.4,301.5L429.8,302.2L428.7,303.7L427.2,305.8L426.2,307.4L424.1,307.2L421.5,306.3L419.5,304.8L417.9,303.2L416.4,301.2L415.6,299.1L418.4,297.5L414.8,296.5L414.3,294.9L412.3,292.9L410.2,291.0L406.1,290.6L400.9,290.8L397.8,289.6ZM388.6,293.2L392.7,294.1L397.8,296.0L400.9,297.0L402.0,298.6L407.1,300.3L405.6,302.2L404.0,303.7L403.0,305.3L400.4,304.8L397.3,303.7L394.7,302.7L391.1,302.9L390.6,301.7L394.7,300.8L395.8,299.1L391.6,297.3L389.6,296.7L383.4,297.0L379.8,296.0L378.2,294.4L379.3,293.2L383.4,293.2ZM350.4,295.7L348.4,295.5L349.9,293.9L353.5,293.6L359.7,293.9L362.8,294.4L365.9,296.5L362.8,298.0L357.6,298.5L354.0,298.5L350.9,297.5L350.4,296.5ZM342.2,294.9L343.7,293.1L348.4,292.7L351.5,293.6L348.4,295.3L344.2,295.8ZM378.2,290.3L382.4,288.7L381.3,286.7L377.2,285.4L383.4,284.3L393.7,283.5L406.1,284.1L404.0,285.3L398.9,286.3L394.7,287.4L392.7,288.7L389.6,289.8L387.5,290.5ZM373.1,287.4L376.2,285.6L380.3,286.7L378.2,288.2ZM376.2,290.5L379.3,291.3L388.6,292.2L388.6,291.1L384.4,290.4L378.2,290.0ZM350.4,291.6L354.5,292.4L361.2,291.8L361.8,290.8L357.6,290.3L351.5,290.5ZM365.9,295.5L371.0,295.3L371.0,293.4L366.4,293.1ZM372.6,294.9L377.7,294.2L377.7,292.9L373.1,292.8ZM363.8,291.6L370.0,291.8L371.0,290.3L364.9,290.1ZM381.3,303.7L384.4,301.7L388.0,303.2L386.5,304.3L382.9,304.1ZM409.9,320.1L412.3,316.3L413.8,316.1L413.3,317.7L415.9,318.4L416.4,320.3L416.2,321.1L413.8,320.9L412.3,320.2ZM338.8,317.0L342.2,317.7L343.7,319.3L341.7,319.0L339.6,317.7ZM383.4,346.9L386.0,345.6L388.6,345.6L391.1,347.0L393.2,348.0L394.5,348.6L391.1,348.9L390.6,348.1L388.6,347.0L386.5,346.3L384.9,346.7ZM394.3,350.4L395.8,348.9L398.9,349.0L400.5,350.2L398.9,350.7L397.3,351.2L396.3,350.7ZM390.3,350.4L392.4,350.7L391.6,351.1L390.4,350.9ZM401.7,350.3L403.3,350.4L403.2,350.9L401.8,350.9ZM310.2,348.6L311.3,349.0L310.7,349.8L310.2,349.3ZM308.0,347.1L308.5,347.3L308.2,347.5ZM306.4,346.5L306.8,346.6L306.6,346.8ZM309.5,347.9L310.2,348.0L309.8,348.2ZM376.7,369.8L377.4,370.0L376.9,370.5ZM408.1,422.8L411.2,422.7L410.7,423.6L408.7,423.6ZM431.8,425.4L433.9,425.9L433.6,426.2L431.8,425.7ZM400.4,424.1L403.5,426.0L402.0,426.7L398.9,426.7L396.8,425.7L398.3,424.9ZM170.9,420.2L172.4,420.3L172.1,421.0L171.1,420.9ZM282.7,387.6L284.0,387.7L283.7,388.3L282.8,388.2ZM284.3,386.6L285.5,386.3L285.0,386.9ZM269.0,390.4L270.6,391.2L272.1,392.6L271.6,392.7L270.0,391.9L269.0,390.8ZM271.7,385.0L272.3,385.3L272.6,386.6L272.3,386.4ZM261.3,376.5L262.8,377.3L264.7,378.2L264.4,378.4L262.3,377.6ZM264.7,379.1L265.7,379.5L266.4,380.3L265.4,379.9ZM259.4,375.2L260.5,375.9L260.7,376.5L259.7,376.0ZM255.4,372.2L256.6,372.9L257.7,374.2L257.3,374.2L256.1,372.9ZM124.2,332.7L127.1,332.9L126.8,333.3L124.3,333.0ZM133.3,333.3L135.6,332.6L135.0,333.4L133.7,333.7ZM112.9,330.1L116.0,329.9L115.7,331.5L113.0,330.7ZM108.5,327.0L110.0,327.0L109.9,328.9L108.8,329.1ZM109.0,325.4L109.8,325.0L109.7,326.5L109.1,326.4ZM154.9,356.5L156.2,356.5L156.0,356.8L155.0,356.7ZM140.4,375.5L140.7,375.7L140.6,376.1ZM250.5,323.4L252.5,322.6L254.6,321.7L254.4,321.5L252.3,322.3ZM297.9,314.3L299.4,313.7L299.1,314.1ZM289.6,315.9L291.7,315.4L291.2,315.7ZM311.8,310.3L313.8,309.4L314.0,310.1L312.5,310.7ZM333.9,313.6L335.2,313.6L335.8,315.3L334.8,314.8ZM393.7,441.5L398.9,441.0L399.9,443.0L396.8,444.6L393.2,443.5ZM365.9,444.0L372.1,444.1L371.0,444.7L366.9,444.6ZM302.0,451.1L306.1,451.0L305.6,452.1L302.5,452.1ZM271.1,449.4L274.2,449.5L273.6,450.1L271.4,450.1ZM419.5,450.9L424.6,450.8L423.6,452.3L419.5,452.3ZM376.2,321.1L380.3,319.3L383.4,320.0L383.7,321.2L381.3,321.3L378.2,321.1ZM380.5,326.0L382.1,326.0L382.9,322.9L383.4,322.1L381.3,322.4L380.5,323.9ZM383.9,321.9L387.5,321.9L388.6,323.1L386.8,324.8L386.0,324.8L384.9,323.4ZM385.2,326.2L389.6,325.2L389.6,325.5L387.5,326.4L385.5,326.5ZM388.9,324.7L392.4,323.9L392.4,324.5L389.6,324.8ZM369.2,313.9L370.5,313.8L371.8,317.2L371.0,317.4L369.5,315.7ZM350.4,306.3L353.5,305.0L358.2,304.5L356.6,305.5L353.5,306.3ZM342.2,301.4L345.3,300.3L349.4,300.6L348.9,301.9L345.3,302.2ZM132.8,369.8L135.0,369.3L135.0,371.6L134.0,372.4L133.0,371.9ZM130.2,373.1L130.7,374.2L131.7,377.8L132.2,378.5L131.4,378.3L130.2,375.7L129.9,373.6ZM135.0,379.3L135.9,380.9L136.1,384.2L135.7,384.2L135.2,381.9L134.9,380.4ZM137.1,364.8L137.4,365.9L137.6,366.9L137.1,366.4ZM131.4,307.4L133.5,306.8L133.8,306.0L131.9,305.7L130.9,306.3ZM135.6,306.3L137.1,306.0L136.6,304.8L135.6,305.1ZM398.9,385.4L399.9,386.1L400.1,386.6L399.1,386.1ZM356.1,308.8L359.7,308.2L361.8,308.0L358.7,308.5ZM364.9,311.2L366.4,310.0L365.9,309.4L364.9,310.2ZM100.0,441.8L110.3,442.0L120.6,442.0L127.8,441.5L134.0,440.7L141.2,440.2L147.4,439.4L151.5,438.7L156.7,437.8L161.8,439.2L168.0,439.7L172.1,440.4L175.2,441.7L179.4,441.0L182.4,439.5L188.6,438.7L192.8,438.6L197.9,437.8L203.1,437.6L208.2,438.2L213.4,438.1L218.5,438.4L223.7,438.7L228.8,438.2L234.0,438.1L239.1,438.1L244.3,438.7L249.4,439.1L254.6,440.4L259.7,441.3L264.9,442.2L270.0,442.8L275.2,443.4L276.2,444.6L273.1,446.1L270.0,447.7L268.5,450.3L266.9,452.3L268.0,454.9L273.1,456.5L285.5,457.1L301.0,457.5L311.3,457.3L318.5,456.5L320.5,453.4L319.5,451.3L316.4,450.1L320.5,449.2L326.7,448.0L332.9,447.0L339.1,446.8L347.3,446.4L353.5,445.9L357.6,447.0L363.8,446.6L367.9,445.6L372.1,445.1L378.2,444.9L383.4,445.4L388.6,445.1L393.7,445.3L396.8,443.5L399.9,441.0L402.0,438.9L405.0,437.3L408.1,435.8L411.2,434.9L413.3,435.3L412.3,436.3L409.2,437.3L407.1,438.9L406.1,441.0L407.1,443.0L407.1,445.1L405.0,447.2L402.0,448.7L404.0,450.3L414.3,450.8L424.6,450.9L431.8,450.3L437.0,449.2L442.1,448.0L448.3,446.1L453.5,444.9L458.6,443.9L462.8,442.8L466.9,442.2L471.0,441.8" fill="none" stroke="#000" stroke-width="0.8" stroke-linejoin="round"/></g><rect x="100.5" y="276.8" width="370" height="185.4" fill="none" stroke="#000" stroke-opacity="0.62" stroke-width="1"/><g clip-path="url(#c2)"><rect x="99" y="509.0" width="373" height="188.0" fill="#87aaff"/><path fill="#b4cdff" fill-rule="evenodd" d="M96.0,506.0 96.0,700.0 475.0,700.0 475.0,506.0ZM454.6,646.3 455.7,645.8 455.9,646.8 454.9,647.0ZM459.5,645.2 460.6,646.0 460.6,646.8 459.8,647.3 459.3,647.3 458.5,646.5ZM395.4,645.5 396.2,645.0 397.4,645.5 397.7,646.3 396.7,646.5ZM464.2,644.7 464.7,644.2 465.2,644.5 466.0,645.8 465.2,645.8ZM470.1,643.4 470.1,646.8 469.1,647.3 468.6,646.5 468.3,644.2 469.3,643.4ZM435.6,643.4 435.8,644.2 435.1,644.7 435.1,645.5 434.5,645.8 434.5,644.2ZM99.1,643.4 99.1,646.8 98.1,647.3 97.6,646.5 97.3,644.2 98.3,643.4ZM347.2,636.2 347.7,636.7 347.7,637.5 346.7,638.3 346.2,637.7ZM464.9,635.4 465.7,635.2 466.0,635.9 465.5,636.5ZM460.1,634.4 460.8,634.1 461.1,634.6 460.3,634.9ZM435.1,630.8 435.6,630.3 436.1,630.5 435.6,631.3ZM300.8,628.7 301.1,628.4 301.9,629.0 301.1,629.2ZM289.0,624.8 289.5,623.8 290.0,623.8 290.8,624.6 289.5,625.3ZM305.2,623.5 306.0,623.0 306.5,624.1 305.7,624.3ZM417.5,622.8 417.8,625.6 418.8,627.4 418.6,629.5 414.7,631.8 411.9,632.6 411.1,633.4 409.0,633.1 407.5,631.0 407.2,629.0 406.7,628.2 406.7,625.6 406.2,625.1 406.2,623.8 406.7,623.3ZM116.1,622.8 118.7,621.7 123.3,621.5 123.8,620.4 125.1,621.0 127.7,620.7 130.5,621.5 133.6,623.3 135.7,623.8 136.2,624.8 135.2,626.9 133.9,627.9 134.1,629.0 133.4,629.5 134.1,631.0 131.8,633.9 129.8,634.4 128.7,635.2 127.4,635.2 125.9,636.5 124.3,636.5 123.6,635.9 122.3,635.9 120.2,634.4 118.2,633.6 117.9,631.8 117.1,630.3 117.1,628.7 116.4,626.4 115.3,624.8 115.6,623.3ZM396.9,618.6 401.1,619.4 402.1,620.2 401.8,621.7 403.6,637.0 403.1,637.5 399.0,637.2 398.2,636.2 397.7,633.4 398.0,627.7 397.2,624.8 397.2,623.3 396.4,621.7 396.4,619.1ZM228.4,622.5 230.8,621.0 236.2,619.1 237.2,619.1 237.7,618.6 241.6,618.1 242.6,619.1 244.4,619.1 245.4,620.7 246.2,621.2 247.2,621.2 248.3,622.2 250.6,623.3 252.4,625.3 253.2,625.3 253.9,626.1 254.2,628.2 253.4,630.3 253.9,631.8 253.2,633.9 251.4,635.4 247.8,635.4 246.7,636.2 242.3,636.5 241.3,635.2 240.0,634.9 238.2,632.8 237.5,632.8 236.2,631.8 234.9,631.5 232.3,629.5 231.5,628.4 231.5,627.7 230.0,626.1 229.5,624.1 228.4,623.3ZM397.2,590.2 397.2,591.8 396.4,592.5 395.9,592.5 395.1,591.5 395.4,590.7 396.2,590.2ZM382.8,590.7 383.3,590.0 385.1,590.0 386.9,591.2 387.7,592.5 387.1,593.1 384.8,593.1 384.0,592.0 382.8,591.2ZM382.8,588.7 383.3,588.1 384.0,588.4 383.5,589.2ZM393.8,585.8 394.1,586.9 393.6,587.1 393.6,587.9 393.1,588.4 392.3,588.4 391.8,587.9 391.8,586.6ZM382.0,585.3 382.8,585.6 383.3,586.6 382.5,587.4 381.5,586.9 381.5,585.8ZM376.3,584.0 376.8,584.5 376.6,585.6 375.8,585.0ZM313.2,584.3 313.5,584.0 314.2,584.5 313.7,585.0ZM321.2,583.8 322.0,584.5 321.4,585.6 320.7,585.6 320.4,584.5ZM226.1,583.8 227.7,584.5 228.7,584.3 229.2,584.8 230.5,590.0 230.0,591.5 230.2,594.9 229.7,595.4 226.6,596.4 225.1,596.4 224.8,594.1 224.1,593.1 223.8,590.0 224.8,589.2 224.8,587.9 225.3,586.9 224.1,587.4 223.3,586.1 223.3,585.0 223.8,584.5 225.1,584.5ZM398.0,583.2 398.2,582.5 399.0,582.5 399.5,583.0 399.0,583.5ZM273.3,582.5 274.0,582.2 274.6,582.7 273.5,583.0ZM199.1,581.9 199.8,581.4 200.6,582.5 199.8,582.7ZM208.9,580.4 209.9,581.7 210.9,586.1 211.7,587.4 208.1,591.0 206.3,592.0 205.8,591.5 205.8,590.5 205.2,589.7 205.2,588.1 204.2,587.4 204.2,585.6 202.7,585.0 202.2,583.2 203.4,581.9 207.3,581.2ZM226.1,580.7 226.6,580.1 227.1,580.4 226.9,580.9ZM224.1,580.7 224.6,579.9 225.3,579.9 225.9,580.4 225.3,580.9ZM359.3,578.8 360.3,579.4 360.3,579.9 359.6,580.7 359.1,580.7 358.5,579.9ZM258.8,579.1 259.6,578.8 260.1,579.4 259.1,579.6ZM254.2,579.1 254.5,578.8 255.2,579.6 254.7,580.1ZM309.6,578.6 310.1,579.6 309.1,580.4 308.6,579.9 308.6,579.1ZM200.1,578.3 200.4,579.1 198.5,580.7 198.3,579.6 199.6,578.3ZM389.2,577.8 389.7,577.6 390.0,578.1 389.5,578.3ZM314.2,577.0 315.0,577.6 314.5,579.1 313.7,579.1 313.5,577.8ZM396.7,576.8 397.2,577.3 397.2,578.1 395.6,579.1 395.4,577.3ZM299.0,576.3 298.8,577.3 297.7,577.0 297.0,578.1 296.2,577.8 297.0,576.0 298.5,575.7ZM312.2,575.5 312.9,575.7 312.9,576.5 312.4,577.0 311.7,576.8 311.7,576.0ZM244.9,576.8 244.9,576.0 245.4,575.5 247.2,576.0 245.4,577.0ZM229.5,575.2 230.2,574.7 230.8,575.5 230.2,576.0ZM317.1,574.7 317.8,574.2 318.6,575.2 317.6,575.5ZM293.1,572.9 293.6,573.9 292.3,574.7 292.3,573.4ZM225.1,572.9 226.1,573.2 227.9,575.7 227.9,576.3 226.1,578.6 224.3,578.6 223.8,578.1 223.5,576.0 223.0,575.2 223.0,574.5 224.1,574.2 224.6,574.7 225.1,576.5 225.6,577.0 226.4,577.0 226.1,575.2 224.6,573.4ZM285.9,571.6 286.9,571.6 287.4,572.6 286.4,572.9 285.9,572.4ZM259.3,571.1 259.9,571.6 259.3,572.4ZM247.0,569.5 247.8,569.3 248.0,569.8 247.5,570.1ZM427.6,569.5 428.4,569.0 428.9,569.8 428.1,570.3ZM328.7,568.8 329.2,567.7 329.9,568.3 329.4,569.0ZM256.5,567.2 257.3,567.0 257.5,567.5 256.8,567.7ZM286.7,566.7 287.2,567.2 285.9,568.5 285.6,569.5 284.9,569.8 284.6,568.5 285.6,568.0ZM434.8,566.2 435.1,567.0 433.8,567.7 433.5,567.2ZM264.0,565.9 264.0,567.0 263.2,567.2 263.0,567.0ZM444.8,566.2 445.4,565.7 445.9,565.9 445.4,566.7ZM309.1,566.7 309.6,565.7 310.6,566.2 309.8,567.0ZM269.4,565.4 269.7,566.2 268.6,567.5 268.1,566.7ZM180.5,566.2 182.6,565.4 186.4,565.4 187.7,565.9 192.4,565.7 194.4,566.7 196.0,568.3 197.3,568.5 198.0,569.8 196.7,570.6 192.9,570.8 192.1,571.6 190.8,571.1 189.5,571.9 187.2,571.6 185.9,570.1 181.3,567.7 180.5,567.0ZM285.9,565.7 286.4,565.2 286.9,565.4 286.7,566.2ZM420.6,565.7 420.9,564.9 421.7,565.4 421.1,565.9ZM264.5,564.6 265.3,564.9 265.0,566.2 264.2,565.7ZM272.5,563.9 273.0,564.4 273.0,565.2 272.2,566.2 271.7,566.2 270.9,565.2 271.5,564.4ZM426.8,563.6 427.1,564.4 425.0,566.7 424.0,564.6 425.5,564.6 426.3,563.6ZM339.2,563.1 339.7,562.8 340.0,563.3 339.5,563.9ZM450.5,562.3 450.8,562.8 450.3,563.3 450.0,562.8ZM453.9,561.3 454.6,562.1 454.1,563.6 453.4,563.6 452.8,563.1 452.8,562.3ZM424.5,561.3 425.0,561.0 425.5,561.8 424.8,562.1ZM450.8,560.8 451.8,560.5 452.1,561.5 451.3,561.8ZM414.7,560.8 415.2,560.5 415.5,561.0 415.0,561.3ZM338.7,559.7 339.5,559.2 340.5,559.2 341.3,559.7 341.3,560.2 340.2,561.3 339.5,561.3 338.7,560.5ZM452.3,559.7 452.8,559.2 454.1,559.0 454.6,559.5 454.6,560.2 454.1,561.0 453.6,561.0ZM294.9,558.2 295.4,557.7 296.2,557.9 295.7,558.7ZM419.3,556.4 419.9,555.3 420.9,555.6 419.9,556.9ZM424.5,554.0 425.8,554.3 426.6,556.1 426.3,556.9 425.3,556.9 424.0,555.1ZM430.2,554.0 430.7,553.5 431.2,553.8 430.9,554.6ZM316.8,553.5 317.3,554.0 317.1,555.1 316.3,554.0ZM437.4,553.5 437.9,553.3 438.2,553.8 437.6,554.0ZM442.5,553.3 442.5,554.0 440.2,555.3 439.4,555.1 442.0,552.8ZM418.6,552.0 419.3,552.5 419.3,553.3 418.3,554.3 417.5,552.8ZM428.9,550.9 429.4,550.7 430.2,551.7 429.4,552.2 428.9,551.7ZM452.1,550.4 452.6,550.2 452.8,550.7 452.3,551.2ZM442.3,550.7 442.8,550.2 443.3,550.4 443.0,551.2 442.5,551.2ZM441.5,549.9 442.0,550.4 441.8,552.0 439.4,553.3 439.2,552.0 440.0,551.5 440.0,550.9 438.9,550.4 439.4,549.9 440.0,550.4ZM415.7,549.9 417.3,551.2 417.3,553.0 416.8,553.5 416.3,553.5 414.2,552.0ZM427.6,549.7 427.8,548.9 428.6,549.1 428.1,549.9ZM411.9,547.6 411.9,547.1 412.6,546.3 413.4,546.3 413.9,546.8 412.6,547.8ZM453.9,544.7 454.6,545.8 453.6,546.6 453.4,545.3ZM413.7,543.2 414.7,543.5 414.4,545.0 413.9,545.0 413.4,544.2ZM420.4,542.7 421.4,542.4 421.9,542.9 420.9,543.5ZM418.8,542.7 419.6,542.4 419.9,542.9 419.1,543.2ZM450.0,542.2 451.0,543.5 451.0,544.5 450.5,545.0 449.5,544.2 449.2,542.9ZM433.8,531.6 434.0,533.1 433.5,533.9 433.0,533.9 432.5,532.9ZM439.2,527.4 439.7,526.7 440.7,526.7 441.5,527.2 440.5,528.2 439.7,528.2ZM441.2,523.6 443.3,523.3 443.8,524.1 442.0,524.3ZM449.7,522.3 451.0,523.0 451.3,524.9 450.8,525.4 450.3,525.1 450.3,523.6 449.2,522.8ZM377.3,522.3 377.9,522.0 378.4,522.8 377.9,523.0ZM423.7,521.8 424.0,521.5 424.8,522.5 424.2,522.8ZM414.2,521.5 415.2,521.2 415.7,521.8 415.0,522.3ZM424.5,518.7 424.8,519.2 423.5,521.5 422.7,521.0 422.7,520.2 423.5,518.9Z"/><path fill="#d7ebff" fill-rule="evenodd" d="M220.2,685.0 220.4,685.5 221.7,685.3 221.5,684.5 220.7,684.5ZM286.9,650.7 287.4,651.2 288.5,651.2 287.9,650.1ZM194.4,646.5 194.2,647.0 194.9,648.1ZM350.8,645.0 351.1,645.5 352.1,645.2ZM266.0,644.2 266.8,646.0 266.0,647.0 264.2,645.8 263.5,646.5 262.4,646.8 262.4,647.3 263.0,647.6 263.5,647.0 264.2,647.6 263.5,648.6 264.0,651.4 267.3,652.0 267.6,650.9 268.4,650.1 268.1,647.8 267.6,647.6 268.1,645.2 266.8,644.2ZM264.5,649.4 264.8,648.3 266.6,648.3 266.6,648.9 265.5,649.9ZM347.5,643.7 347.5,645.5 348.8,645.8 349.0,645.2 348.2,645.0ZM209.9,643.2 208.3,643.7 208.9,645.0 209.4,645.0 210.1,644.2ZM193.4,643.2 193.1,643.9 193.9,644.2 194.2,643.2ZM182.3,642.4 181.0,642.7 181.5,644.2 182.6,643.4ZM249.3,642.1 250.1,643.7 251.1,643.2 250.6,642.1ZM329.4,641.4 329.2,641.9 329.9,642.1 329.9,641.6ZM166.6,640.8 166.3,641.6 167.4,643.4 167.9,642.1ZM282.0,640.6 282.3,641.1 283.1,641.1ZM258.6,640.3 258.3,640.8 260.1,642.9 258.8,644.2 256.8,645.2 256.5,645.8 257.5,647.0 258.1,646.0 259.3,646.0 259.3,645.2 260.4,644.5 260.4,643.2 261.2,642.7 261.2,641.9 259.9,642.1ZM348.5,638.5 349.8,639.3 350.6,640.8 351.3,640.8 351.6,639.0 351.1,638.5ZM102.2,638.3 101.7,638.3 101.2,639.3ZM247.0,638.0 247.8,638.8 247.5,640.6 248.0,640.8 248.5,638.8 247.8,637.7ZM456.2,635.7 455.9,636.5 456.7,636.7 456.7,635.7ZM345.4,635.4 344.1,635.9 343.1,637.2 342.1,636.5 340.0,636.7 339.2,637.2 336.9,637.0 336.9,638.8 338.4,638.5 339.5,639.0 340.8,637.7 342.3,637.2 344.4,637.2 345.4,636.5ZM280.5,634.9 280.5,635.4 281.2,636.2 281.2,635.4ZM282.8,633.1 281.2,634.1 282.0,634.9 283.1,634.6ZM450.0,632.8 450.0,634.1 451.0,634.1 451.5,635.2 452.6,635.4 452.6,634.6 451.8,633.9 452.1,633.4 451.3,633.9ZM235.1,632.8 234.9,633.6 235.6,633.6 235.6,633.1ZM219.9,632.8 220.4,633.4 221.2,633.4 220.7,632.8ZM406.5,629.7 404.9,631.3 404.4,632.3 404.7,632.6 406.7,631.5ZM279.2,634.9 277.9,634.1 274.8,633.4 272.7,633.6 272.0,633.1 271.7,631.8 270.4,631.3 270.2,630.8 268.9,630.8 267.6,629.7 266.6,630.8 265.8,630.8 265.3,630.3 264.0,631.8 262.7,631.8 261.2,631.0 257.8,631.0 257.0,631.3 257.3,632.3 256.5,633.4 257.0,635.2 256.0,637.2 255.0,637.7 254.2,637.0 255.0,634.6 255.0,633.9 254.5,633.6 253.4,637.7 252.4,638.5 251.4,638.3 250.1,638.8 250.3,641.1 250.8,641.6 252.4,639.8 253.9,638.8 255.7,639.8 256.5,638.5 257.3,638.5 258.6,639.6 259.6,638.3 259.9,639.0 261.2,639.6 262.7,641.6 262.7,642.4 261.9,643.4 262.2,643.9 263.2,643.9 264.8,642.4 264.5,641.6 263.5,641.4 263.5,640.1 265.0,640.1 265.0,638.8 266.8,637.5 268.1,637.2 268.9,638.0 270.2,637.7 271.2,638.3 271.7,637.2 274.3,637.5 275.8,636.5 277.6,636.7 279.2,635.7ZM260.4,633.1 261.2,632.8 261.7,633.9 260.6,634.4ZM268.1,631.3 268.9,631.8 269.4,633.1 268.6,634.1 267.9,634.1 267.3,633.6 267.6,631.8ZM307.0,628.7 306.8,629.2 307.5,629.5 307.8,629.2ZM145.5,628.4 145.5,629.0 146.0,629.2 146.2,628.7ZM176.1,628.4 175.4,628.2 173.8,630.0 173.0,630.0 172.5,630.5 173.0,630.8 174.1,629.7 175.4,629.7ZM218.6,627.9 218.9,629.7 219.7,630.5 220.2,630.5 220.7,630.0 219.4,627.9ZM403.4,627.9 403.9,629.2 405.2,628.4 404.4,627.7ZM229.5,627.4 229.5,627.9 230.0,628.2 230.2,627.7ZM170.5,627.4 169.9,627.9 170.5,629.5 171.0,629.7 171.8,628.4 171.2,627.7ZM282.3,627.2 281.5,627.9 282.0,628.7 282.5,628.4ZM332.5,626.6 332.0,627.4 332.8,627.9 333.0,626.9ZM275.8,626.6 277.4,627.2 277.6,626.1 276.6,626.1ZM155.0,626.6 154.2,626.1 153.2,626.1 152.4,626.6 150.9,626.4 150.6,627.2 151.4,627.9 152.9,627.7 154.0,628.7 155.0,627.4ZM177.2,625.9 177.4,626.4 179.2,626.4 178.7,625.3ZM162.2,625.6 160.2,625.3 160.4,627.2 159.4,627.9 159.6,629.0 160.2,628.4 160.4,627.2 162.5,627.4 162.7,626.4ZM186.7,624.8 185.9,626.1 184.6,627.2 184.9,627.4 186.7,627.2ZM147.3,624.6 146.8,624.6 146.5,625.3 145.2,626.4 145.5,627.4 146.8,626.6 146.8,625.3ZM326.6,625.3 327.9,625.3 328.4,624.6 326.9,624.3ZM227.9,624.3 227.9,625.1 228.7,625.3ZM262.4,624.1 261.7,624.8 261.9,625.3 262.4,625.3ZM175.4,623.5 174.8,624.3 174.8,624.8 175.4,625.1 175.9,624.6 175.9,623.8ZM155.5,622.8 155.5,625.1 156.3,625.3 157.3,624.3 156.6,623.8 156.0,622.8ZM286.1,622.5 286.4,623.8 286.9,623.0ZM315.5,622.0 314.5,623.5 313.2,624.1 313.2,624.8 312.2,625.6 312.4,625.9 315.5,623.0ZM284.6,621.2 283.6,621.2 283.3,622.5 284.1,622.5 284.6,622.0ZM324.3,621.5 325.0,622.5 325.8,622.0 327.6,622.2 328.4,623.3 330.2,623.3 330.7,622.8 329.4,622.8 328.9,622.0 326.3,621.5 325.6,620.7 324.8,620.7ZM402.9,620.4 402.6,621.2 403.4,622.2 403.1,623.5 403.9,623.5 404.4,624.1 404.4,624.8 405.2,625.3 404.7,623.8 404.7,621.2ZM322.2,620.7 322.0,620.4 321.2,621.0 319.9,621.0 319.6,621.7 320.7,622.2ZM261.2,620.4 260.9,621.2 261.4,621.5 261.7,620.7ZM126.9,618.9 126.4,618.9 125.6,619.7 126.9,619.7ZM312.4,618.6 311.9,619.9 313.7,621.2 314.5,621.2 315.0,619.4ZM125.6,617.3 124.6,617.3 124.1,618.6 125.1,618.9 125.9,617.9ZM308.0,618.9 306.8,618.4 305.5,617.1 304.4,618.6 303.4,618.9 303.4,619.4 303.9,619.7 304.7,618.4 307.3,619.4ZM311.9,616.6 312.2,617.9 312.7,617.1ZM318.6,615.8 317.6,615.8 317.1,616.3 317.1,617.9 316.5,618.6 317.1,620.2 316.0,621.0 316.0,621.5 317.1,622.2 317.8,622.2 318.3,621.2 318.1,619.9 320.2,618.6 319.1,617.9 318.3,617.9 318.9,616.6ZM318.9,614.0 318.9,614.8 319.4,615.3 320.2,615.3 321.4,616.8 321.4,615.8 320.2,614.8 319.9,614.0ZM324.3,613.5 323.5,614.0 323.5,614.5 324.3,614.2ZM300.8,611.9 301.6,612.9 301.6,612.2ZM301.1,614.0 301.3,614.5 303.1,614.0 305.2,616.0 305.7,615.5 305.7,614.8 306.5,614.2 306.2,613.2 306.8,612.7 306.8,611.9 306.0,612.2 306.0,613.5 305.5,614.0 304.4,613.5 305.2,612.7 304.7,611.7 303.4,612.4 302.6,613.7ZM324.8,610.9 324.0,611.1 324.0,611.7 324.5,611.7ZM311.7,610.4 310.6,611.4 310.6,612.4 311.7,611.4ZM313.2,590.5 312.2,591.2 312.4,592.0 313.5,591.8ZM202.9,589.4 203.4,590.0 204.2,590.0 204.2,588.9ZM305.2,588.7 305.0,589.7 305.7,590.7 306.2,590.7 306.0,588.7ZM202.7,586.3 201.4,587.9 201.6,588.1 202.7,588.1 203.2,587.6 203.2,586.9ZM211.9,584.5 212.2,585.3 213.5,585.8 215.8,585.6 216.6,585.0 216.6,584.5 215.0,585.0 213.7,585.0 212.7,584.3ZM346.2,583.8 346.9,585.3 347.5,584.8 347.5,584.0ZM230.0,582.2 230.0,583.0 230.8,583.2 230.8,582.5ZM363.4,581.4 363.4,583.8 364.2,583.8 364.2,583.0 363.7,582.5 364.0,581.7ZM370.6,581.2 370.4,581.9 371.4,582.2ZM290.5,578.6 290.0,578.3 289.5,579.4 290.3,579.4ZM201.9,577.8 202.2,578.6 202.7,578.1ZM333.5,577.6 333.5,578.3 334.3,577.8ZM342.3,572.1 342.3,572.9 342.8,573.2 343.1,572.4ZM262.4,572.1 261.9,572.9 262.7,573.9 263.2,573.9 263.7,573.4 263.7,572.6ZM317.6,570.1 317.1,571.1 317.6,571.1ZM183.1,569.8 183.1,570.3 183.9,571.1 184.4,570.3 183.9,569.8ZM258.8,568.3 258.3,568.3 257.8,569.0 258.6,569.3ZM343.3,567.2 343.6,567.7 344.4,567.7 344.1,567.2ZM316.0,567.5 316.0,568.3 317.3,569.3 317.6,568.8 319.6,569.0 319.6,568.3 319.1,567.7 318.6,567.7 317.6,568.8 316.3,567.2ZM303.1,565.9 300.3,565.9 300.8,566.7 300.3,567.7 302.6,567.5ZM316.8,564.4 316.3,564.6 316.3,565.9 317.3,565.4ZM115.1,561.0 113.8,561.5 114.6,561.8 115.1,561.5ZM310.6,560.5 310.1,560.5 309.6,561.3 310.4,561.3ZM301.3,559.0 300.3,560.0 299.3,559.7 298.5,562.6 299.8,563.9 300.6,562.3 300.6,561.0ZM288.7,556.9 289.8,557.1 289.5,556.6ZM238.7,555.6 238.2,557.1 239.3,557.9 239.5,555.9ZM448.2,555.1 447.7,555.3 447.7,556.4 448.7,557.7 449.0,555.6ZM424.2,542.7 424.0,545.3 425.5,546.8 426.3,546.8 426.8,545.8 425.0,544.2 424.8,542.9ZM425.5,538.8 425.5,539.3 427.3,539.3 427.8,539.8 429.9,539.6 429.6,538.8 428.1,538.8 427.3,539.3 426.0,538.5ZM105.8,538.5 105.3,538.5 105.8,539.6 104.5,540.4 104.5,541.1 105.0,541.4 106.3,539.8 105.8,539.3ZM103.2,537.5 102.4,538.0 102.7,538.5 103.2,538.5ZM105.5,536.7 106.1,537.8 107.1,537.5 107.9,538.3 108.1,539.6 108.9,540.4 110.9,540.1 111.5,539.6 111.5,538.8 110.7,538.8 109.9,539.6 109.1,539.6 108.1,538.8 109.1,537.5 109.1,536.2ZM424.8,525.6 423.5,526.7 423.5,527.4 425.0,528.0 425.3,525.9ZM380.7,523.3 380.4,523.8 381.5,524.3 381.5,523.8ZM259.1,506.0 259.1,510.1 260.1,510.6 260.4,506.0ZM96.0,506.0 96.0,534.2 96.8,534.7 96.5,535.2 96.0,534.9 96.0,614.5 97.0,613.5 97.6,613.5 98.6,616.0 98.3,616.6 97.6,616.6 96.0,615.8 96.0,631.0 98.1,631.5 99.6,632.6 102.7,632.6 103.7,632.3 104.3,631.5 105.3,631.5 106.6,632.8 107.3,632.8 107.9,633.4 107.9,634.1 106.1,636.7 106.1,637.7 107.3,638.5 107.3,639.3 108.1,640.1 107.6,640.6 106.3,640.6 105.5,641.9 106.8,644.7 106.8,645.8 104.5,647.8 103.5,647.8 102.4,646.8 101.4,646.8 99.9,647.3 98.6,648.3 96.8,648.3 96.0,649.1 96.0,700.0 103.5,700.0 103.7,695.1 105.3,695.9 105.0,700.0 152.4,700.0 152.7,695.6 153.2,695.9 153.2,700.0 204.2,700.0 204.0,695.9 204.7,695.4 205.8,695.9 205.5,700.0 221.5,700.0 221.5,695.9 220.7,695.1 221.2,694.3 222.8,695.6 222.8,700.0 239.8,700.0 239.8,695.9 240.5,694.1 241.3,694.1 242.3,695.4 242.3,700.0 251.1,700.0 251.4,695.6 252.4,695.9 252.1,700.0 255.7,700.0 255.5,695.9 256.3,695.4 256.8,695.9 256.8,700.0 258.1,700.0 258.1,695.9 258.6,695.4 259.6,695.9 259.6,700.0 282.3,700.0 282.3,695.6 283.1,695.1 284.1,695.9 284.1,700.0 285.4,700.0 285.6,695.6 286.1,695.9 286.1,700.0 332.3,700.0 332.3,695.9 333.0,695.1 333.5,695.6 333.5,700.0 349.5,700.0 349.5,695.6 350.8,694.1 351.6,694.1 352.4,695.1 352.9,695.1 353.6,695.9 353.6,700.0 376.3,700.0 376.6,695.4 377.6,695.4 378.1,695.9 378.1,700.0 414.2,700.0 414.2,695.9 414.7,695.4 415.5,695.9 415.2,700.0 421.9,700.0 421.9,695.9 422.4,695.4 423.2,695.9 423.2,700.0 474.5,700.0 474.5,695.4 475.0,694.8 475.0,647.8 474.0,647.6 473.4,646.8 472.4,646.8 470.9,647.3 469.6,648.3 467.8,648.3 467.3,648.9 466.7,648.9 466.0,647.8 462.1,647.8 461.3,648.6 461.3,649.9 460.6,649.6 460.8,648.3 460.3,648.1 458.2,648.3 457.5,649.4 457.0,649.4 456.2,648.6 452.8,648.3 452.1,647.3 451.3,647.3 451.0,648.1 450.0,648.9 448.5,648.3 447.7,649.1 443.3,649.4 442.0,649.1 440.7,648.1 438.9,647.8 437.9,648.3 436.6,647.8 435.6,648.9 434.5,648.9 433.5,647.8 430.7,647.8 428.4,646.5 426.3,647.0 424.8,646.5 423.7,645.5 423.0,646.0 422.2,646.0 421.7,645.5 419.9,646.0 417.3,643.7 417.5,642.4 416.0,640.3 416.0,638.5 415.0,638.3 414.4,637.7 414.4,637.0 413.7,636.5 412.6,636.5 411.1,638.0 407.7,637.2 406.7,638.3 405.7,638.5 405.4,640.1 404.4,640.8 404.9,641.6 404.9,642.7 403.4,643.7 404.4,644.7 404.4,646.5 404.9,647.6 404.9,648.3 404.1,649.4 405.2,650.1 403.6,650.4 403.6,653.2 402.1,655.1 401.3,655.1 401.3,656.3 400.8,656.9 398.2,657.6 393.6,657.6 393.1,655.8 393.1,653.0 393.8,651.7 394.4,651.7 395.4,652.7 395.4,651.7 394.6,651.2 393.3,651.4 392.8,650.9 392.8,647.8 392.3,646.8 392.5,641.9 392.3,640.1 391.8,639.6 391.3,637.7 391.8,637.0 393.3,637.7 394.4,636.5 395.6,636.7 396.4,635.7 396.4,635.2 395.4,634.4 395.4,633.6 396.4,632.3 395.9,629.5 396.9,627.9 396.9,627.2 396.4,626.6 395.9,623.5 394.9,622.8 394.9,619.9 396.7,618.1 401.3,618.9 402.1,619.4 402.9,619.4 403.6,618.6 405.4,620.2 406.2,622.5 408.3,622.2 409.3,620.7 410.6,621.0 410.8,619.9 412.6,619.7 413.4,618.1 414.7,619.1 416.0,618.9 417.3,619.4 418.6,618.9 421.7,622.0 421.7,623.0 423.2,623.8 425.0,625.6 425.0,627.7 424.2,628.4 423.7,628.4 423.0,627.7 422.4,627.9 422.4,628.4 423.5,629.5 423.0,630.5 424.2,631.5 425.3,630.8 427.1,631.0 427.8,630.5 429.4,630.5 430.2,629.7 430.9,630.0 432.5,628.4 433.5,629.7 435.8,629.0 437.6,630.0 441.0,630.0 442.0,630.8 443.3,630.8 445.9,629.2 447.4,631.5 448.2,631.3 449.7,632.3 450.8,631.3 452.3,631.5 452.8,630.5 453.6,630.5 454.1,631.0 454.6,632.8 455.9,631.5 459.0,630.5 460.1,631.0 460.3,632.3 461.3,632.1 461.3,631.0 461.9,630.5 462.9,631.5 463.7,630.8 464.4,631.8 465.7,631.0 467.0,631.0 469.1,631.5 470.6,632.6 475.0,632.3 475.0,549.1 472.7,547.1 472.4,546.0 471.1,545.0 471.1,542.7 470.6,542.2 471.1,539.1 470.9,537.0 471.4,535.4 470.4,534.7 471.9,533.6 471.4,532.3 471.9,531.8 473.7,531.6 474.2,530.8 474.0,530.0 475.0,529.2 475.0,506.0 466.7,506.0 466.7,511.9 466.2,511.9 465.2,510.4 465.2,506.0 463.9,506.0 463.7,510.4 463.4,506.0 442.8,506.0 442.8,510.4 442.3,510.9 440.7,510.4 440.7,506.0 437.1,506.0 437.1,510.1 436.6,510.6 433.5,510.9 432.5,510.1 432.7,506.0 432.2,506.0 432.2,510.6 430.7,511.9 429.6,511.4 429.4,510.1 429.6,506.0 428.9,506.0 429.1,510.6 428.1,511.9 427.3,511.7 427.6,506.0 425.3,506.0 425.0,510.9 424.2,510.4 424.2,506.0 422.4,506.0 422.4,510.4 421.9,510.9 420.9,510.9 419.6,510.1 419.9,506.0 399.8,506.0 399.8,510.4 399.5,511.9 399.0,512.5 398.2,512.5 397.4,511.7 398.2,510.4 398.2,506.0 390.7,506.0 390.5,510.4 390.0,510.1 390.0,506.0 385.1,506.0 384.8,510.4 384.0,510.1 384.0,506.0 345.4,506.0 345.4,510.1 345.1,510.9 344.4,511.4 342.3,510.6 342.3,506.0 334.1,506.0 334.1,510.4 333.5,510.1 333.5,506.0 328.7,506.0 328.4,510.4 327.9,510.1 327.9,506.0 315.0,506.0 315.0,510.6 315.8,511.7 315.5,512.5 314.7,512.5 314.2,511.4 314.2,506.0 313.2,506.0 313.2,511.2 312.7,511.7 311.7,511.2 311.9,506.0 261.9,506.0 261.9,510.1 261.4,510.9 259.6,511.7 258.8,511.2 257.0,511.7 256.0,510.9 253.7,510.6 253.4,506.0 246.0,506.0 246.0,510.4 246.7,511.4 246.2,511.9 245.2,510.9 244.4,511.4 243.6,510.9 243.9,506.0 206.8,506.0 206.8,510.1 205.0,511.7 204.0,511.2 204.0,506.0 175.9,506.0 175.9,510.1 176.9,512.2 175.4,513.2 174.3,513.2 173.8,512.2 173.0,511.7 173.3,511.2 174.6,510.9 174.3,506.0 116.6,506.0 116.6,510.4 117.1,510.9 115.8,511.4 115.1,510.9 115.3,506.0ZM325.3,694.8 326.1,694.6 326.6,695.1 325.8,695.4ZM425.0,694.3 425.8,694.1 426.0,694.8 425.5,695.4ZM367.6,694.8 368.3,694.1 369.1,694.3 368.8,695.4 367.8,695.4ZM155.8,694.3 156.8,693.8 157.6,695.1 156.8,695.6 155.8,694.8ZM304.4,693.8 305.2,693.5 305.5,694.1 304.7,694.3ZM256.3,693.8 256.8,693.5 257.3,694.1 256.8,694.6ZM154.5,693.5 155.0,694.1 155.0,694.8 154.5,695.4 154.0,694.6ZM429.4,693.8 430.7,693.3 431.2,694.1 430.2,694.6ZM308.0,693.0 308.6,692.5 309.1,692.8 308.8,693.5 308.3,693.5ZM236.7,691.7 237.5,691.5 238.0,692.3 236.9,692.8ZM206.3,691.2 206.5,692.3 205.5,692.8 205.2,691.7ZM156.0,691.2 156.8,690.7 157.6,691.2 157.6,692.0 157.1,692.3ZM368.1,690.7 368.6,690.4 369.1,691.0 368.3,691.2ZM266.3,690.4 266.3,691.5 265.8,691.0ZM237.2,689.7 238.0,689.4 238.5,690.2 237.7,690.7ZM433.8,689.7 434.8,689.2 435.3,690.4 434.3,690.7ZM401.6,688.9 402.9,689.4 402.6,691.0 401.6,690.4 401.1,689.4ZM190.3,688.9 191.1,689.9 190.8,690.4 189.8,689.4ZM176.4,688.6 177.2,689.2 176.9,691.0 176.4,690.7ZM440.7,688.6 441.5,688.4 442.0,689.2 441.2,689.7ZM400.0,687.9 400.5,687.3 401.3,687.6 400.8,688.6ZM309.1,687.9 310.6,687.1 311.1,687.6 310.6,688.9 309.6,688.6ZM192.1,686.8 190.8,688.9 190.3,688.6 190.3,688.1 188.8,688.1 188.8,687.6 189.5,686.8ZM443.3,686.8 445.6,686.1 446.1,686.6 445.6,688.1 446.4,688.9 445.9,689.2ZM247.0,686.6 247.5,686.1 248.0,686.8 247.5,687.1ZM398.7,685.3 399.5,684.8 400.0,685.8 399.2,686.1ZM399.8,684.0 400.5,683.5 401.3,684.0 401.3,684.5 400.3,684.8ZM443.3,683.0 443.6,684.2 443.0,684.5 442.8,683.5ZM164.8,683.2 164.8,683.7 164.0,684.5 162.2,684.5 163.8,683.0ZM271.5,687.6 270.7,688.1 264.8,687.6 263.0,687.9 262.2,688.6 258.8,688.6 257.8,687.9 257.5,686.1 257.0,685.8 257.0,687.3 255.2,688.4 253.9,687.3 253.2,687.6 251.9,686.3 251.4,683.7 251.9,683.2 252.9,683.7 255.5,683.2 258.1,683.7 260.9,683.7 261.9,683.2 264.2,683.2 265.3,682.7 266.0,683.0 266.8,681.9 267.9,683.2 269.7,683.0 270.4,683.5 270.4,685.0ZM399.5,680.9 400.5,680.6 401.8,681.7 400.0,682.4ZM172.0,681.1 172.5,680.6 173.0,681.1 172.5,681.7ZM443.8,679.9 444.3,680.9 442.8,682.2 442.5,680.1ZM208.1,680.9 209.4,679.6 209.9,679.6 212.2,682.4 213.2,682.7 214.0,683.5 214.3,684.2 215.0,684.2 216.3,682.7 217.1,682.7 217.9,683.5 218.9,683.0 221.2,683.5 222.2,682.4 226.6,683.2 228.9,683.2 229.5,682.7 232.3,683.0 235.1,682.7 235.9,682.2 236.9,683.0 238.5,683.0 239.0,684.2 239.3,683.5 240.0,684.2 239.3,684.8 239.0,686.3 238.2,687.1 236.4,687.1 235.9,686.6 236.2,685.0 235.4,685.0 234.9,687.3 233.3,686.6 232.3,685.3 232.3,686.6 231.8,687.1 230.5,686.8 229.2,687.6 226.1,687.9 225.1,688.6 224.6,687.6 220.2,687.6 218.6,685.5 218.1,686.1 216.8,686.1 216.3,686.8 214.8,686.6 214.8,687.3 214.3,687.9 213.2,687.9 213.0,686.8 213.7,686.1 213.2,685.5 211.9,685.5 211.7,684.0 210.4,681.9 209.4,681.4 208.3,681.7ZM190.6,679.9 191.3,679.3 191.8,680.4 191.1,680.6ZM454.4,678.3 454.9,678.8 454.9,679.6 454.1,680.1 453.6,679.3ZM322.5,678.3 323.2,677.5 324.0,678.0 323.5,678.8ZM292.3,677.5 292.8,677.3 293.1,677.8 292.6,678.0ZM222.8,674.4 222.8,676.0 221.2,676.2 220.7,675.7 220.7,675.2 221.5,674.4ZM250.8,662.3 251.4,662.0 251.9,663.1 251.1,663.3ZM199.1,662.0 199.6,662.3 199.3,663.3 198.8,663.1ZM290.3,661.5 290.5,662.3 290.0,662.5 289.8,662.0ZM155.8,661.8 156.6,661.5 156.8,662.0 156.0,662.3ZM171.5,661.3 172.0,661.0 172.5,661.5 172.0,662.0ZM201.4,660.5 202.2,661.0 202.2,661.8 201.6,662.3 200.9,661.8 200.9,661.0ZM276.6,660.2 277.6,660.0 278.2,660.7 277.4,661.3ZM247.2,660.7 247.5,660.0 248.3,660.2 247.8,661.0ZM457.0,658.9 457.7,658.7 458.2,659.2 458.2,660.0 457.5,660.2 457.0,659.7ZM172.8,658.7 173.6,658.9 173.3,660.2 172.3,659.2ZM109.7,658.4 110.7,658.9 110.7,659.7 109.9,660.5 109.1,660.0 109.1,658.9ZM471.6,658.4 472.2,658.2 472.7,659.2 471.9,659.2ZM129.2,658.4 130.0,658.2 130.5,658.9 129.8,659.2ZM100.6,658.4 101.2,658.2 101.7,659.2 100.9,659.2ZM267.9,658.2 268.9,657.6 269.4,658.4 268.4,658.9ZM459.3,657.6 460.3,657.4 460.6,657.9 459.8,658.4ZM264.5,657.4 265.3,656.6 267.1,658.2 266.6,658.7 265.8,658.7ZM113.0,656.6 113.5,656.3 113.8,656.9 113.3,657.4ZM252.7,656.3 253.4,656.1 254.2,656.6 254.2,657.1 252.9,657.6ZM239.0,656.1 239.8,656.3 239.5,657.9 238.7,657.1ZM360.1,655.6 360.9,655.3 361.1,656.1 360.3,656.6ZM129.5,655.6 130.5,655.3 130.8,656.1 129.8,656.6ZM120.0,655.8 120.5,655.1 121.3,655.6 120.7,656.3ZM365.0,655.1 365.8,654.8 366.3,655.3 366.3,656.1 365.5,656.3 365.0,655.8ZM208.1,654.0 208.9,653.8 209.1,654.3 208.3,654.5ZM107.6,653.8 108.1,654.3 107.9,655.1 107.1,654.5ZM316.0,653.8 316.5,653.5 316.8,654.0 316.3,654.3ZM388.2,653.8 389.2,653.2 389.7,654.0 388.7,654.5ZM129.2,652.7 129.8,652.5 130.5,653.2 129.8,653.8ZM332.5,652.2 333.0,652.0 333.3,652.5 332.8,653.0ZM369.1,652.0 370.4,652.0 369.6,652.5ZM197.5,651.7 198.0,652.0 197.8,653.5 196.7,653.0ZM194.2,651.7 194.9,651.4 195.5,652.2 194.9,652.5ZM238.5,651.2 239.3,652.2 238.7,652.7 238.0,652.7 237.7,652.0ZM342.6,650.1 343.3,650.4 343.3,651.2 342.8,651.7 342.1,651.2ZM252.1,650.7 252.7,650.1 253.4,650.7ZM139.8,650.1 141.1,651.7 140.1,652.7 139.3,652.7 138.8,652.2 138.8,651.2ZM218.1,650.7 218.9,649.9 219.7,649.9 220.4,650.9 219.9,651.4 218.9,651.4ZM338.4,648.6 339.2,649.1 338.7,650.1 337.9,649.4ZM235.6,648.9 236.7,648.3 237.5,648.9 238.2,648.6 238.7,649.1 237.7,649.9 236.9,649.4 235.9,649.4ZM333.5,648.9 335.1,648.1 336.1,649.1 336.1,649.6 335.1,649.9 333.8,649.4ZM159.4,648.1 158.9,648.9 157.3,649.6 156.6,649.4 157.1,648.3 158.4,648.3 158.9,647.8ZM415.7,648.3 416.3,647.6 416.8,647.8 416.0,648.6ZM412.6,647.6 413.4,648.6 414.4,649.1 413.7,650.4 412.9,650.4 411.6,649.1 411.6,648.6ZM339.0,646.5 339.5,646.0 340.0,646.8 339.5,647.0ZM144.7,645.8 145.2,646.3 144.4,647.3 143.9,647.3 143.4,646.8 143.9,646.0ZM223.5,646.8 223.0,647.3 222.2,647.3 221.5,648.3 221.0,648.3 219.7,646.5 218.4,647.3 217.6,646.5 217.6,646.0 219.2,646.0 220.2,645.5 220.7,646.3 221.7,646.3 221.7,645.5 222.5,645.2ZM370.6,644.7 371.9,645.5 371.9,646.3 371.4,647.6 369.9,648.3 369.9,645.5ZM367.6,643.9 368.3,644.5 368.6,645.8 369.6,646.5 369.1,647.6 368.1,646.8 368.1,645.8 367.3,645.8 366.8,645.2 366.8,644.7ZM217.4,643.9 217.4,645.5 215.8,646.3 215.0,645.2 216.6,643.9ZM386.4,643.4 387.1,642.9 387.4,643.2 387.1,643.7ZM365.8,642.9 366.0,642.4 366.8,642.7 366.3,643.2ZM242.6,642.4 243.4,642.7 242.9,643.7 242.3,643.2ZM379.9,642.7 380.7,642.1 381.2,642.9 380.4,643.4ZM387.4,641.9 387.9,641.4 388.7,641.6 388.2,642.7ZM384.8,641.1 385.6,641.6 385.6,642.4 386.1,642.9 386.1,643.4 385.3,643.9 384.8,643.4 384.6,642.1ZM121.0,641.4 121.8,641.1 122.0,641.6 121.3,641.9ZM356.7,639.8 357.3,640.3 357.0,641.1 356.5,640.3ZM115.8,639.8 116.6,640.6 116.6,641.6 116.1,642.1 114.6,641.9 115.1,643.7 114.6,645.5 114.0,644.7 113.0,645.2 112.8,643.2 112.0,642.1 113.8,641.6 114.0,640.6ZM112.5,640.1 113.3,639.8 113.8,640.3 113.0,640.6ZM326.9,645.2 326.6,646.3 325.6,647.3 325.6,647.8 326.9,648.6 324.5,649.9 323.5,649.1 322.7,646.8 321.2,647.0 320.7,647.8 319.9,647.8 318.6,646.5 317.8,647.0 316.8,647.0 315.8,648.3 315.0,648.3 314.5,646.8 314.7,645.5 314.0,644.7 314.0,642.4 314.7,641.4 315.3,641.4 315.5,641.9 318.1,641.9 318.3,641.4 318.6,641.9 319.1,641.9 319.6,640.3 321.2,640.3 322.2,639.3 322.7,639.3 323.0,640.6 324.5,641.4 324.5,643.2 323.5,643.7 323.5,644.2 324.3,645.0 326.3,644.7ZM221.5,639.6 222.0,639.0 222.5,639.3 222.0,639.8ZM365.2,639.6 365.8,638.8 366.3,639.0 365.8,639.8ZM315.0,638.5 315.5,638.0 316.5,638.0 317.3,638.5 317.6,639.6 317.1,640.1 315.5,640.1 315.0,639.6ZM223.3,637.7 223.8,638.5 222.5,639.3 222.2,638.5ZM318.6,637.5 318.9,638.3 318.3,638.8 317.8,638.0ZM234.6,637.2 235.9,638.3 235.9,639.3 235.4,639.8 234.4,639.6 233.6,638.8ZM162.7,641.4 164.0,640.6 164.5,641.1 164.5,641.9 165.3,641.9 165.3,640.6 166.6,640.3 168.1,638.8 169.2,639.0 170.2,638.3 171.5,638.0 173.8,638.8 174.8,638.3 175.4,637.2 177.2,638.3 179.0,638.0 179.2,638.8 180.8,640.3 182.1,640.3 183.1,641.4 183.6,641.1 183.6,640.6 182.6,639.8 182.6,639.0 183.1,638.5 184.4,638.3 185.4,639.3 185.9,638.5 187.5,638.3 189.3,639.6 189.8,638.5 192.1,637.7 192.9,638.5 193.1,640.1 193.7,639.8 192.9,638.8 193.1,638.3 195.5,638.3 196.0,638.8 199.1,638.5 200.1,640.6 200.1,641.9 200.9,639.6 202.7,639.8 206.3,639.3 208.1,640.6 210.9,640.3 211.4,640.8 211.2,642.1 213.0,643.7 212.5,645.5 213.7,646.0 215.0,647.6 214.5,650.1 214.0,650.7 213.0,649.9 209.6,649.9 207.6,652.2 206.8,651.7 207.3,650.9 207.0,650.7 204.7,650.4 202.9,651.2 201.9,650.7 199.6,651.2 198.5,650.4 196.2,650.9 194.2,650.4 193.7,651.2 192.1,651.4 190.8,650.7 187.0,650.9 185.9,650.4 183.6,650.4 181.8,651.4 179.7,649.9 177.2,649.6 176.6,648.9 175.4,649.1 174.8,648.6 174.6,647.0 173.3,648.3 172.5,649.9 171.2,649.4 167.9,649.1 166.3,650.1 165.1,648.6 164.0,649.1 163.3,648.6 164.0,647.0 162.5,645.0ZM391.8,635.4 392.0,636.2 391.3,636.7 391.0,635.9ZM213.2,635.9 213.7,635.4 214.3,636.2 213.5,636.5ZM186.4,634.9 186.7,634.4 187.5,634.6 187.0,635.2ZM307.5,634.1 307.8,633.9 308.3,634.6 307.8,634.9ZM211.9,632.8 212.5,633.9 211.4,634.6 210.7,634.6 210.4,634.1 210.9,633.4ZM211.4,631.8 212.2,631.5 212.5,632.3 211.9,632.6ZM107.9,629.7 108.6,629.2 109.1,630.0 108.1,630.3ZM456.2,628.4 456.7,627.7 457.2,627.9 457.0,628.7ZM436.1,626.6 436.3,627.2 435.8,627.7 435.3,627.2ZM471.4,623.5 471.6,624.3 471.1,624.8 470.6,624.1ZM100.4,623.5 100.6,624.3 100.1,624.8 99.6,624.1ZM368.6,623.3 369.6,623.0 370.4,624.1 369.9,624.6 368.8,624.6ZM364.5,623.0 365.5,622.8 366.0,623.5 364.7,623.8ZM336.4,622.8 337.4,622.2 337.9,623.0 336.9,623.5ZM168.4,621.7 169.4,622.2 169.2,623.5 167.9,622.5ZM196.2,621.0 197.5,619.9 198.3,620.2 197.8,621.5 196.7,621.5ZM198.8,619.7 199.3,619.1 199.8,619.4 199.6,620.2ZM280.0,619.7 280.5,618.9 281.0,618.9 281.8,619.9 281.2,620.4 280.5,620.4ZM175.6,618.9 176.1,619.1 175.9,620.2 175.4,619.7ZM427.8,617.9 428.9,618.1 428.9,619.1 428.4,619.7 427.3,619.1 427.3,618.4ZM192.4,617.1 193.1,617.9 192.9,618.9 192.4,618.9 191.6,618.1ZM139.5,617.3 140.1,617.1 140.3,617.6 139.8,617.9ZM282.3,616.3 283.3,617.1 283.1,618.1 281.8,617.1ZM188.0,616.6 188.8,616.3 189.3,617.1 188.5,617.6ZM234.6,616.6 235.1,616.0 236.9,616.3 236.4,617.3 235.4,617.3ZM290.3,615.5 290.8,616.0 290.8,617.1 290.0,617.6 289.5,616.6ZM427.8,615.3 428.9,615.8 428.6,617.1 428.1,617.1 427.3,616.0ZM112.2,618.1 112.8,617.6 114.8,617.6 115.6,616.8 117.6,616.8 121.0,615.5 123.8,616.0 124.9,615.0 126.2,615.8 127.4,615.5 128.2,616.8 127.4,617.6 126.4,617.6 126.9,618.1 127.4,618.1 128.2,617.1 130.5,615.8 132.8,616.0 135.4,617.3 137.0,617.3 137.5,617.9 139.0,621.5 139.0,622.5 138.5,623.3 139.0,624.1 140.1,624.3 141.9,622.5 145.0,622.2 143.7,620.4 143.4,617.3 143.9,616.8 145.0,617.1 147.5,615.3 149.3,615.5 150.4,615.0 151.7,615.0 152.2,620.2 151.9,621.2 153.5,622.0 155.0,621.5 158.4,621.5 161.2,622.0 162.2,621.5 163.8,621.5 165.1,622.0 165.6,621.2 166.3,621.0 168.1,623.8 169.2,623.5 169.9,624.1 171.2,624.1 172.8,622.0 173.8,622.8 174.6,622.8 174.6,621.5 175.1,621.0 176.6,621.0 177.7,622.5 179.2,622.8 180.3,624.3 180.3,623.3 179.2,622.5 180.0,621.7 180.8,621.7 182.8,622.8 185.1,622.5 185.9,623.8 190.0,622.2 191.1,623.3 192.1,622.5 193.4,622.2 195.5,622.5 196.7,623.5 198.8,623.5 200.1,623.0 200.9,624.1 200.9,625.6 202.2,626.1 202.9,625.9 201.9,624.8 202.7,624.1 204.5,624.3 205.0,625.1 206.5,624.8 206.8,626.1 205.8,627.9 207.0,628.7 207.0,631.5 206.3,632.3 203.7,631.8 203.2,632.6 201.9,632.6 201.4,631.8 202.4,630.8 201.6,630.8 199.6,632.6 198.8,632.1 197.3,632.6 196.0,631.8 195.2,631.8 194.4,630.8 193.9,630.8 192.6,632.3 190.0,632.3 188.0,633.1 187.2,633.1 186.7,632.3 185.7,632.3 184.6,632.8 182.1,632.8 181.5,633.4 180.3,633.6 176.9,632.3 175.6,632.3 174.8,633.6 173.0,633.1 172.5,633.4 171.2,632.3 168.9,632.3 167.9,633.4 167.1,633.4 166.1,632.3 164.0,632.3 163.3,631.0 159.6,631.0 159.1,631.8 156.6,631.3 155.5,632.3 154.0,631.8 152.2,631.8 150.4,632.6 147.8,632.3 147.0,631.5 144.7,631.5 142.6,630.3 140.3,630.8 139.8,630.3 139.8,628.7 140.3,627.4 139.5,626.6 138.3,627.9 137.5,629.5 137.0,629.2 136.2,627.7 135.4,627.7 137.0,632.1 134.9,633.4 134.7,635.2 133.9,635.2 132.8,635.9 131.8,635.9 129.0,638.8 128.0,638.8 127.2,637.7 126.4,637.5 126.4,638.3 127.2,639.0 126.7,639.8 125.9,639.8 124.3,638.8 121.8,639.0 121.3,638.5 119.5,638.5 118.4,638.0 117.6,635.9 116.1,634.6 115.6,632.3 114.0,631.0 114.0,630.3 113.5,630.0 113.0,627.2 112.2,625.6 112.8,624.8 112.8,622.5 112.0,621.5 112.0,620.4 112.5,619.7ZM351.1,615.0 351.6,614.8 351.8,615.3 351.3,615.5ZM462.4,614.8 462.9,613.7 463.9,614.0 463.4,614.8ZM468.0,613.5 468.6,613.5 469.1,614.2 469.6,616.0 469.3,616.6 468.6,616.6 466.5,615.3ZM429.9,614.0 430.7,613.5 431.2,614.2 430.4,614.5ZM224.6,614.0 225.3,613.5 226.6,614.2 226.6,615.0 225.3,615.3 224.6,614.5ZM285.6,612.2 287.7,613.7 287.9,614.8 287.4,615.3 286.4,615.0 286.4,613.5 285.4,612.7ZM466.2,612.4 466.5,611.9 467.3,612.2 466.7,612.7ZM353.9,612.7 354.4,611.9 355.2,611.9 356.7,612.9 356.2,613.7 355.4,613.7 355.2,613.2ZM427.1,609.6 427.8,609.1 428.4,610.1 427.6,610.4ZM314.5,609.3 315.0,608.8 315.5,609.1 315.3,609.8ZM438.9,608.3 440.0,609.1 439.4,610.1 438.7,609.3ZM455.2,608.3 455.9,607.8 457.5,607.8 458.2,608.6 458.2,609.1 459.5,608.3 460.1,608.3 460.6,609.1 459.3,610.6 457.7,610.1 456.4,611.1 455.4,610.4 455.7,609.3ZM357.5,644.5 355.4,644.7 356.5,647.6 356.5,648.6 355.7,649.4 354.9,649.1 355.4,647.6 354.2,646.5 353.1,646.3 352.6,647.6 351.6,647.8 350.8,646.3 349.8,646.0 349.0,647.8 351.1,650.4 351.1,651.4 350.3,652.0 349.8,650.9 349.0,650.7 348.5,651.2 348.8,652.5 347.7,653.0 347.5,652.5 345.1,651.2 343.9,649.6 344.6,648.9 345.9,648.6 346.7,649.9 347.5,649.9 347.5,648.3 345.9,647.6 345.1,647.6 344.4,648.3 343.3,648.3 342.8,647.6 343.1,647.0 344.4,646.5 344.6,646.0 343.9,645.5 341.3,645.0 340.8,644.5 341.0,642.9 340.5,642.4 339.2,642.7 338.4,641.6 337.7,641.6 337.4,642.4 337.9,642.9 339.2,642.9 340.5,643.9 339.5,644.7 337.9,645.0 337.2,644.2 335.6,644.2 334.3,643.4 333.0,643.4 332.0,642.4 332.3,640.8 331.5,640.6 331.5,642.1 331.0,643.2 332.0,643.4 332.3,643.9 330.7,645.5 330.7,646.3 331.7,646.5 333.0,645.0 334.1,644.7 334.8,645.5 334.8,646.0 333.8,646.8 333.3,647.8 333.5,648.9 333.0,649.4 331.5,648.9 331.2,648.3 330.5,648.3 329.4,649.9 328.7,649.9 327.9,649.4 327.9,646.5 329.4,645.8 329.7,644.2 328.9,643.2 327.6,643.2 327.1,642.7 327.4,640.6 325.0,639.3 324.8,638.3 325.3,637.2 327.1,637.5 328.7,636.7 330.2,636.7 328.9,636.7 327.4,635.4 325.8,635.4 324.8,635.9 323.5,634.6 323.5,634.1 324.3,633.6 322.2,634.9 320.9,634.9 318.6,633.4 318.3,632.1 317.1,633.6 316.0,633.9 315.0,632.6 313.5,631.5 313.7,631.0 313.2,631.0 311.7,633.1 310.6,632.6 310.1,631.0 308.0,631.3 306.8,633.4 305.2,632.6 303.7,633.4 302.4,632.8 301.6,632.8 301.1,633.4 300.3,632.8 299.3,633.1 298.8,632.6 298.5,631.3 296.4,632.8 295.7,632.8 294.9,631.5 291.8,632.6 290.8,632.6 290.0,631.5 289.2,632.8 286.9,632.8 285.1,632.3 284.3,634.9 285.4,634.4 289.2,634.6 290.0,635.2 295.7,634.6 297.0,636.5 295.9,638.0 298.3,639.0 297.2,640.8 297.2,645.0 296.7,647.6 295.4,648.6 297.5,650.7 297.5,651.4 295.4,653.5 295.7,654.5 295.2,655.1 293.1,653.8 292.8,652.5 290.8,652.7 290.3,652.2 290.3,651.4 289.0,651.7 288.5,652.7 286.7,651.7 285.9,651.7 285.6,651.2 286.4,650.4 285.9,649.9 285.1,649.9 284.3,650.4 283.8,652.2 283.3,652.7 279.7,652.5 278.9,653.0 277.1,653.0 275.1,652.2 273.3,653.8 272.5,653.8 271.5,653.0 269.9,653.0 269.1,653.5 267.1,653.2 266.3,655.1 265.5,655.1 264.8,653.5 263.7,653.2 263.0,654.0 262.7,656.1 261.9,656.6 261.4,655.8 261.4,653.0 257.5,653.0 255.5,652.5 254.2,651.4 253.4,650.1 253.7,646.8 253.2,646.3 252.9,647.3 249.8,649.6 248.3,650.1 247.2,649.9 244.9,647.8 244.9,644.7 244.4,643.7 245.4,642.9 245.4,642.4 244.4,642.7 243.9,641.6 245.2,640.8 245.7,639.8 244.7,638.8 244.1,637.2 243.1,638.5 242.6,638.5 238.7,636.5 237.7,636.5 236.9,635.9 233.6,635.9 233.1,636.5 230.8,636.7 228.9,637.7 224.3,637.7 223.5,636.7 222.5,636.7 220.7,635.9 219.9,634.6 217.9,634.6 217.4,634.1 218.4,633.4 218.4,631.8 216.8,631.5 216.6,629.5 215.0,627.9 215.0,627.2 217.1,625.1 217.9,624.8 217.6,624.1 218.9,622.5 221.5,622.0 223.8,620.4 224.8,620.2 225.6,617.9 228.7,617.3 231.5,617.6 232.3,616.8 233.3,617.6 232.0,618.1 232.3,618.9 233.1,619.1 235.6,618.4 236.4,617.3 238.7,617.6 238.7,616.3 239.3,615.8 239.8,615.8 241.3,617.1 242.1,617.1 242.1,616.6 242.9,616.0 242.9,617.3 243.4,617.9 243.6,616.8 244.7,616.0 246.0,616.8 246.0,617.9 247.5,616.3 248.3,616.3 249.8,618.4 251.9,619.1 251.9,620.2 256.0,624.3 256.3,623.0 255.5,622.2 255.5,621.5 256.5,621.0 256.5,620.4 255.0,619.9 255.0,618.1 254.5,618.1 254.2,617.3 257.0,617.3 257.5,617.9 258.1,620.2 258.6,620.4 258.8,619.9 258.1,618.6 258.1,617.3 259.6,616.6 261.7,616.8 262.7,615.8 264.2,616.0 263.2,617.1 263.5,617.6 264.2,617.6 266.3,616.3 268.4,618.4 268.1,619.1 267.3,618.4 266.3,618.6 266.3,619.1 267.3,619.7 267.1,620.4 266.3,620.4 264.0,618.9 262.4,620.2 262.4,620.7 264.0,621.7 263.7,623.8 264.5,624.1 266.6,623.0 267.1,623.8 268.1,624.1 268.9,624.8 270.2,624.8 270.4,624.3 270.4,622.2 269.7,621.7 267.9,621.7 269.4,617.3 270.2,616.6 270.9,616.6 271.2,617.9 271.7,618.4 272.5,617.6 274.8,617.6 275.3,616.6 274.6,615.5 275.1,615.0 275.8,616.0 277.6,616.0 278.7,617.6 280.0,617.9 280.0,618.4 278.9,619.4 279.2,621.0 280.7,621.7 282.5,621.0 283.3,619.4 284.9,620.4 284.1,618.4 285.6,617.3 286.7,618.1 286.4,620.2 288.2,620.4 288.2,619.1 288.7,618.6 292.1,618.6 292.8,619.4 294.4,619.7 295.2,620.7 295.9,620.7 295.9,618.6 296.7,618.1 297.2,618.6 297.2,620.2 301.1,621.2 301.9,620.4 301.9,619.1 302.6,618.6 302.6,618.1 301.6,617.3 300.3,618.4 299.0,617.9 299.3,618.1 298.5,618.6 297.2,617.6 297.2,617.1 298.5,616.6 298.8,615.3 296.2,614.8 294.4,612.9 293.9,610.1 295.2,607.3 296.7,607.3 297.7,608.0 300.8,607.5 301.9,608.3 303.1,608.3 303.7,608.8 304.4,608.8 305.2,608.0 309.1,607.8 309.8,608.8 310.9,608.3 312.4,608.8 313.7,608.3 314.5,609.3 313.7,610.4 314.0,611.1 314.7,610.6 315.8,610.6 316.3,609.3 319.4,609.3 320.2,610.4 320.7,610.4 320.7,609.1 321.7,608.3 322.5,608.3 323.5,609.3 325.0,609.8 325.6,609.3 326.9,609.3 327.4,610.4 329.4,609.8 330.2,610.1 331.2,611.4 335.6,611.9 337.2,614.0 337.2,612.9 338.2,611.9 339.2,613.7 340.8,612.4 341.3,612.7 341.3,613.7 340.8,614.2 337.9,615.0 337.9,616.6 334.8,618.4 335.1,618.9 336.4,619.1 337.2,619.9 337.2,620.4 336.1,621.0 335.4,619.9 334.8,619.9 333.5,621.0 331.7,621.2 331.7,623.0 334.6,624.8 334.8,624.1 335.9,623.3 336.4,624.6 338.4,625.9 339.2,625.3 340.2,625.3 340.8,625.9 340.8,626.6 340.0,627.4 340.5,627.4 341.5,626.4 342.3,626.4 343.3,627.4 345.1,627.4 346.2,628.4 346.2,629.5 344.9,630.8 342.3,631.3 343.6,633.4 344.1,633.4 344.4,632.1 345.1,631.5 346.4,632.1 346.7,633.4 347.7,633.1 346.7,631.0 346.9,629.0 347.7,627.9 348.2,627.9 349.0,628.7 350.3,628.4 350.6,629.0 351.8,629.0 353.6,630.0 354.4,632.1 353.4,632.8 353.4,633.4 354.7,634.1 356.5,633.9 357.8,634.4 358.0,635.2 357.3,635.9 358.0,637.2 358.0,638.0 357.5,638.5 356.7,638.0 355.7,638.0 355.2,639.0 353.6,638.8 352.4,640.1 352.4,640.8 352.9,641.9 354.4,642.9 356.0,642.7 356.7,643.4 357.3,643.2ZM363.7,607.0 364.5,606.7 364.7,607.8 364.2,608.0ZM319.9,606.5 320.7,606.2 321.2,606.7 321.2,607.5 320.4,607.8 319.9,607.3ZM144.4,604.9 144.7,605.7 143.2,606.5 143.2,605.7 143.9,604.9ZM321.7,601.8 322.2,600.8 323.2,601.3 322.5,602.4ZM162.0,600.8 162.5,600.3 163.3,600.5 162.7,601.6ZM338.2,599.8 338.7,599.8 339.5,600.5 339.2,602.1 337.9,600.3ZM141.1,598.7 142.1,598.5 142.6,599.0 142.9,600.8 142.4,601.3 140.8,600.3 140.6,599.3ZM323.0,598.0 322.5,598.7 320.7,599.8 319.6,599.0 319.9,598.0ZM324.0,596.9 324.5,597.2 324.3,599.3 323.8,599.0 323.2,597.7ZM196.2,596.9 196.7,598.0 196.0,598.7 195.5,598.7 194.9,598.0ZM160.7,596.2 162.0,595.4 163.0,595.6 163.0,596.4 162.2,596.9 161.2,596.9ZM301.9,595.6 302.4,595.1 302.9,595.4 302.6,596.2ZM321.7,594.3 322.2,593.8 322.7,594.1 322.2,594.9ZM235.4,590.7 235.4,591.8 234.4,592.3 233.8,591.8 234.1,591.2ZM157.8,590.7 159.4,591.5 159.6,592.3 159.1,593.1 158.6,593.1 157.6,592.0ZM263.0,590.0 263.0,591.0 262.4,590.5ZM265.3,589.7 265.8,590.2 265.8,591.0 264.8,591.5 264.2,590.7ZM342.8,589.7 343.6,589.4 344.4,590.7 343.9,591.2ZM442.8,588.4 443.3,589.2 442.8,590.0 442.0,590.2 441.5,589.7 441.8,588.9ZM256.0,588.4 256.8,589.2 255.2,591.0 254.7,590.5 255.7,589.7ZM410.1,587.9 410.6,587.6 410.8,588.1 410.3,588.4ZM234.4,586.9 235.1,587.9 233.6,588.4 233.3,587.4ZM438.7,587.1 439.2,586.6 440.2,586.6 441.0,587.6 439.7,588.7 438.9,588.1ZM414.4,586.3 415.0,586.1 415.2,586.6 414.7,586.9ZM181.5,586.1 182.1,585.6 182.6,586.3 182.1,586.6ZM437.1,582.7 438.2,582.5 438.4,583.2 437.4,583.5ZM413.2,583.5 413.7,582.5 414.4,582.5 415.2,583.2 414.4,584.3 413.7,584.3ZM181.3,580.9 182.1,580.4 182.6,581.2 182.1,581.7ZM450.5,577.8 451.5,577.3 452.8,577.6 453.4,578.3 452.6,579.1 451.5,578.3 450.8,578.3ZM436.1,577.3 434.5,578.6 433.8,578.3 435.3,576.8ZM365.5,576.5 366.0,576.3 366.3,577.0 365.8,577.3ZM416.0,574.5 416.5,574.2 416.8,574.7 416.3,575.0ZM415.2,573.7 415.7,573.4 416.3,574.2 415.7,574.5ZM357.3,577.0 358.0,575.7 358.8,576.5 360.9,577.3 363.7,577.3 365.5,577.8 367.0,579.4 367.8,579.4 368.8,577.6 368.6,575.5 368.1,574.7 368.1,573.9 368.6,573.4 370.9,573.7 371.9,572.6 375.3,573.4 378.4,572.4 380.4,573.2 382.2,571.6 384.0,571.6 384.6,572.1 386.4,572.4 387.7,573.2 388.7,572.9 392.3,573.7 393.1,574.7 394.6,575.0 395.4,575.7 399.2,576.3 400.5,578.3 402.1,578.6 403.4,579.9 404.7,579.6 405.7,581.7 408.0,584.3 408.0,584.8 406.5,586.3 406.2,587.6 404.1,591.0 403.1,591.5 400.5,591.5 399.0,592.5 397.7,592.8 396.2,594.1 394.4,593.8 391.3,594.6 390.5,595.1 390.5,595.6 392.5,597.4 392.5,598.2 391.5,599.3 390.7,599.3 389.7,600.0 386.4,600.0 384.3,600.5 381.5,598.2 382.0,596.7 381.5,596.2 381.0,596.2 380.2,597.7 379.7,598.0 378.9,597.2 376.6,597.2 375.3,596.4 374.5,596.7 373.0,595.4 368.6,594.6 367.6,593.3 366.3,594.6 365.5,593.8 365.5,593.1 364.7,592.0 362.7,591.5 360.3,590.0 359.3,590.0 358.0,588.4 358.0,587.1 357.5,586.3 357.8,584.8 356.5,582.5 357.3,580.9ZM408.8,570.3 409.6,571.1 408.5,572.1 408.0,572.1 407.7,571.4ZM402.6,568.0 403.4,568.8 403.4,569.8 402.1,570.6 401.1,569.5ZM457.7,567.5 458.8,567.5 459.3,568.5 459.0,568.8ZM135.2,567.2 135.9,567.0 136.5,567.7 135.4,568.0ZM410.1,564.6 410.3,565.4 409.8,565.7 409.6,565.2ZM408.0,563.9 408.0,565.2 407.5,565.7 406.7,565.7 406.5,565.2ZM146.5,564.1 147.0,563.9 147.3,564.4 146.8,564.9ZM174.6,563.1 175.1,563.1 175.9,563.9 175.9,564.6 175.4,565.2 174.6,564.6 174.1,563.6ZM378.1,562.8 378.4,564.4 377.9,564.9 377.3,564.1ZM176.9,563.1 177.7,562.8 177.9,563.6 177.2,564.1ZM175.9,566.7 177.7,564.6 178.5,564.6 178.7,563.1 190.8,562.3 192.6,563.9 194.2,563.6 194.9,564.6 194.9,565.9 195.5,566.4 196.0,566.4 195.2,564.6 196.0,563.9 197.3,563.6 198.3,564.9 200.6,564.9 201.4,565.7 200.9,566.4 201.1,567.0 202.7,567.0 205.5,569.5 205.0,571.4 203.2,573.2 201.9,572.9 202.4,573.9 204.7,573.7 205.2,574.2 206.0,574.2 207.0,573.2 209.4,573.7 210.1,572.9 211.9,573.2 213.0,573.9 215.3,573.4 217.4,574.2 218.4,573.4 218.4,572.4 218.9,571.6 219.7,571.6 219.9,572.1 220.4,572.1 221.5,571.1 224.8,571.1 225.9,571.6 226.9,570.1 227.7,570.1 228.2,571.4 231.3,573.7 232.8,576.5 232.8,580.4 232.0,582.7 230.8,584.3 230.2,585.8 231.3,587.1 230.8,588.7 231.8,589.4 231.8,590.2 230.8,591.0 230.8,595.1 230.0,595.9 228.2,596.2 225.6,597.2 223.3,596.9 220.2,597.4 218.6,597.2 218.1,596.7 218.1,595.4 216.6,594.6 216.3,595.6 217.1,596.4 215.0,597.4 213.0,597.2 211.4,598.2 206.3,598.2 204.2,595.9 204.7,594.9 202.7,592.3 202.7,591.5 201.9,591.2 199.8,589.2 199.6,587.9 197.3,587.1 194.9,585.3 195.7,583.8 195.5,582.5 194.9,581.9 195.7,580.1 194.7,578.6 194.7,577.3 196.7,575.2 193.7,574.7 192.9,574.2 191.1,574.7 190.0,573.7 188.2,574.5 186.4,574.5 185.9,573.9 185.9,572.6 183.9,572.1 182.3,572.4 181.3,571.6 179.5,572.6 178.5,570.8 177.9,571.1 178.2,572.6 177.7,572.9 176.6,571.9 176.6,570.8 176.1,570.3 176.4,568.5 175.9,567.7ZM242.1,560.2 242.6,561.0 241.1,562.6 240.8,561.5ZM143.2,560.8 143.7,560.2 145.5,560.2 146.0,561.3 144.2,561.5ZM219.7,560.0 220.2,561.3 219.2,562.1 218.4,561.3ZM269.4,559.5 270.4,559.2 270.7,560.0 269.9,560.2ZM146.0,559.5 146.2,558.7 146.8,559.2 146.2,559.7ZM136.2,558.4 136.5,559.2 135.9,560.8 135.4,561.0 134.9,559.0 135.4,558.4ZM120.2,556.9 120.7,556.6 121.0,557.1 120.5,557.4ZM104.8,561.5 105.8,560.2 105.3,559.2 105.8,558.4 106.6,558.4 107.6,559.7 108.9,560.2 109.9,559.5 109.9,557.9 110.7,557.1 111.5,557.4 112.5,556.6 114.3,556.6 115.3,557.4 117.1,556.6 118.4,558.7 119.5,558.2 120.7,558.2 122.0,559.2 123.1,557.9 124.1,557.7 124.9,558.7 126.2,559.2 128.0,559.2 128.7,560.0 128.7,560.8 130.0,561.3 131.0,562.3 131.3,561.3 132.6,560.2 133.1,559.2 134.9,562.1 134.7,563.6 135.7,565.7 134.9,566.7 132.1,566.7 131.3,565.9 129.8,567.7 127.7,567.2 124.9,567.5 121.5,565.2 121.8,564.4 121.0,563.3 122.5,561.8 122.0,561.0 121.5,561.0 121.5,562.1 120.0,563.1 120.0,565.4 119.5,565.9 118.2,565.4 117.6,563.1 117.9,562.1 118.9,561.3 116.9,561.5 116.9,562.1 117.6,562.8 117.6,564.1 116.9,564.6 115.1,563.9 113.0,564.4 112.0,563.6 112.0,562.8 112.0,563.9 110.4,564.6 109.7,563.9 109.9,562.3 107.9,563.9 105.8,563.9 105.0,563.1ZM262.2,556.4 264.0,556.1 264.8,556.6 262.7,556.9ZM135.7,554.8 136.2,554.3 137.0,555.1 136.2,555.6ZM175.9,551.7 176.4,551.5 176.9,552.2 176.4,552.8ZM283.6,552.0 283.8,551.2 284.6,551.7 284.1,552.2ZM220.2,551.2 220.4,552.5 219.7,553.3 219.4,551.7ZM247.2,552.2 248.5,555.1 248.3,555.6 247.5,555.6 246.0,556.9 245.2,556.9 243.4,559.2 242.6,558.7 242.9,557.4 241.3,557.1 241.1,557.9 242.1,558.7 242.1,559.5 241.6,560.0 240.0,560.0 240.5,561.3 240.0,561.8 239.0,561.8 236.7,559.7 235.6,560.0 234.9,561.5 236.7,561.0 237.5,562.6 237.2,563.6 234.4,562.8 233.8,562.3 233.3,561.0 233.6,559.0 233.1,558.4 232.8,556.4 233.6,554.6 232.6,553.5 232.6,552.5 233.8,552.5 235.1,553.5 236.2,553.5 238.0,552.8 239.0,553.5 239.8,553.3 242.3,554.6 243.4,554.6 244.1,554.0 244.1,552.2 244.7,550.9 245.4,550.9ZM336.4,550.9 336.9,550.7 337.2,551.2 336.6,551.5ZM224.3,551.2 224.8,550.7 225.3,551.5 224.8,551.7ZM226.4,551.2 226.9,550.4 227.4,550.4 228.2,551.5 226.9,551.7ZM348.5,586.3 347.5,588.7 346.2,590.2 345.1,589.2 343.3,588.4 342.8,588.9 341.8,588.9 341.0,590.5 340.2,590.0 339.7,588.7 337.4,589.2 335.6,590.5 335.1,590.0 335.1,588.7 334.3,588.4 334.1,589.7 332.8,590.5 329.2,590.5 327.9,592.0 325.3,592.3 324.5,592.8 322.7,591.2 320.4,592.8 319.6,592.8 318.9,591.5 317.8,593.6 315.5,593.1 313.5,594.3 312.4,593.1 310.1,593.3 309.6,592.5 308.3,593.1 307.5,591.8 306.8,592.5 305.7,592.0 303.7,592.8 300.6,592.3 299.0,593.8 299.0,592.3 298.5,591.5 295.9,591.5 295.4,591.0 296.2,589.4 295.9,588.7 294.9,589.7 294.4,589.7 293.6,588.9 292.1,589.2 291.3,588.7 291.0,587.9 290.3,587.9 289.5,587.1 286.1,585.8 276.4,585.8 275.3,585.3 273.3,585.8 270.9,585.3 270.4,585.8 269.7,585.8 269.1,585.0 267.3,584.5 266.0,584.5 265.3,585.0 264.0,583.8 262.7,583.2 261.7,584.0 260.9,583.8 260.1,582.7 251.9,582.7 250.8,581.9 249.6,582.7 248.5,582.2 247.5,582.7 245.7,582.7 244.7,580.7 242.9,579.4 242.9,577.6 242.1,576.8 242.1,575.7 241.3,574.5 240.5,574.5 239.8,573.7 239.8,572.6 240.3,572.1 240.3,571.1 241.3,569.0 243.4,566.2 243.1,564.1 243.6,563.3 246.0,563.3 246.2,562.8 247.2,562.8 249.0,563.9 250.1,563.9 251.4,562.8 253.2,562.8 253.7,563.3 256.8,562.8 257.8,564.4 258.6,564.4 259.3,563.6 261.2,563.9 261.2,562.1 263.0,561.8 263.7,561.0 264.8,562.3 265.3,562.3 266.0,561.5 266.8,561.5 268.4,562.6 269.4,562.6 270.4,561.5 271.5,561.5 272.2,562.1 271.7,561.3 272.0,559.7 272.7,559.7 274.3,561.5 276.4,560.8 278.7,560.8 279.7,559.5 280.2,559.5 281.5,557.7 283.3,557.7 285.1,558.4 284.6,557.4 284.9,556.4 287.2,555.9 289.0,554.3 290.5,554.3 293.4,552.5 295.9,552.5 297.0,552.0 298.0,552.8 298.5,551.7 299.3,551.2 301.1,551.5 302.6,550.9 303.4,550.2 304.2,550.7 304.2,551.2 305.7,551.5 307.3,550.7 308.8,550.9 308.3,549.9 308.6,549.1 309.6,549.1 311.1,550.4 312.7,549.7 314.2,550.9 316.0,550.9 317.8,550.2 319.9,551.2 321.2,550.9 322.5,552.0 322.5,552.5 322.5,551.5 323.5,550.9 325.3,552.8 327.6,551.7 328.7,552.5 328.9,553.5 331.0,553.8 331.7,554.6 334.6,554.0 335.4,554.8 335.4,555.6 333.8,556.1 334.1,557.1 335.4,556.4 336.4,556.9 337.2,556.9 337.7,556.1 339.7,556.4 340.2,555.3 341.0,555.3 342.1,556.4 341.5,556.6 341.8,557.1 342.6,557.1 342.6,556.6 342.1,556.4 342.3,556.1 344.1,556.1 343.9,557.1 344.6,558.4 344.9,560.0 344.6,562.1 345.9,563.9 345.9,565.2 347.5,566.4 347.7,567.5 349.0,568.8 348.5,570.3 348.8,572.1 347.5,575.0 348.5,575.7 348.0,578.6 349.0,579.4 349.0,580.4 348.5,580.9 348.8,582.5 348.2,583.8ZM294.4,550.4 294.9,549.1 295.7,549.1 296.2,549.7 296.2,550.2 295.4,550.9ZM329.4,549.1 329.4,548.6 330.2,548.1 331.0,548.9 330.5,549.4ZM225.1,547.8 225.3,548.9 224.6,549.7 224.3,548.1ZM331.2,548.9 331.7,547.6 332.5,547.6 333.0,548.1 332.5,549.1ZM209.6,546.8 210.4,546.6 210.7,547.1 209.9,547.3ZM465.2,546.0 465.7,545.8 466.2,546.8 465.7,547.1ZM273.8,545.3 274.8,545.0 275.6,545.5 275.6,546.0 275.1,546.6 274.3,546.6 273.8,546.0ZM298.8,544.2 299.3,545.3 298.3,546.6 297.5,546.6 297.2,545.5 297.7,544.5ZM270.4,543.2 271.2,542.2 272.2,542.7 271.2,543.5ZM147.3,542.7 148.0,542.2 149.1,542.9 147.8,543.2ZM379.9,541.6 380.2,542.4 379.2,543.2 378.9,542.2ZM152.2,540.6 152.4,541.6 151.7,542.4 151.1,542.4 151.1,541.4ZM268.1,539.8 268.9,539.8 269.7,540.9 268.9,542.2 268.1,541.6ZM412.9,538.3 413.2,537.8 413.9,538.0 413.4,538.5ZM445.4,537.5 445.9,537.3 446.1,537.8 445.6,538.0ZM283.1,537.5 282.5,538.5 281.0,539.3 280.0,539.1 281.5,537.8 281.8,537.0ZM278.2,536.5 278.7,536.2 278.9,536.7 278.4,537.3ZM451.0,535.7 451.8,536.2 451.5,537.5 450.5,536.5ZM268.1,535.4 268.6,534.9 269.1,535.2 268.9,536.0ZM466.5,534.4 467.0,534.2 467.8,534.9 466.7,534.9ZM400.0,533.9 400.3,534.9 399.5,535.4 399.0,534.7ZM128.5,534.4 129.0,533.9 129.5,534.2 129.2,534.7ZM217.1,533.9 217.9,533.4 218.4,534.4 217.4,534.9ZM378.9,531.6 379.7,532.6 379.4,533.4 378.6,532.9ZM235.4,531.6 235.9,531.3 236.2,531.8 235.6,532.1ZM350.0,529.5 350.6,529.0 351.3,529.2 351.1,530.0 350.3,530.0ZM340.8,529.0 341.8,528.5 342.6,530.0 341.3,530.0ZM368.1,527.4 368.8,527.2 369.1,527.7 368.3,528.0ZM348.0,527.7 348.8,527.2 350.0,529.0 349.0,529.2 348.0,528.5ZM184.6,527.4 185.1,527.2 185.4,528.0 184.9,528.2ZM158.4,526.1 159.9,528.2 158.9,529.0 157.6,528.5 157.1,527.7 157.3,526.9ZM298.3,525.9 299.3,525.6 300.1,526.7 299.0,526.9ZM186.7,525.4 187.5,524.6 188.5,525.9 187.0,526.4ZM100.1,545.0 100.1,542.7 99.6,542.2 100.1,539.1 99.9,537.0 100.4,535.4 99.4,534.7 100.9,533.6 100.4,532.3 100.9,531.8 102.7,531.6 103.2,530.8 103.0,530.0 104.5,528.7 106.6,528.7 108.9,527.2 110.4,527.7 112.8,525.9 113.3,524.6 114.3,524.1 114.8,524.3 115.6,526.1 116.1,526.1 115.8,525.1 116.6,524.1 117.6,525.6 118.7,525.9 121.8,524.9 122.5,525.6 123.1,527.4 124.3,528.2 124.9,528.0 124.9,527.2 124.1,525.9 124.6,525.4 125.9,525.9 129.5,524.6 131.6,524.6 131.6,525.9 132.3,526.7 132.8,526.7 133.9,525.9 133.9,524.9 134.9,524.1 136.2,524.9 139.8,524.9 140.8,524.1 142.4,524.1 143.7,525.1 143.7,526.7 144.2,526.7 143.7,525.4 143.9,524.9 147.5,524.3 148.8,524.6 149.9,524.1 151.1,525.1 152.4,524.6 154.7,524.6 156.6,526.1 156.6,528.0 155.5,529.0 152.2,529.0 151.4,529.5 148.3,529.0 147.0,530.0 143.9,529.8 143.4,529.2 143.4,527.4 142.4,527.4 141.9,528.0 141.9,528.7 142.6,529.8 141.9,530.3 139.3,530.0 138.8,529.2 138.8,528.0 138.0,528.0 137.7,528.5 138.3,529.5 134.9,532.6 134.9,534.2 131.0,533.9 131.0,532.9 132.6,532.6 133.6,530.5 132.6,530.5 131.3,531.3 130.5,530.3 128.7,530.5 127.4,529.8 127.7,532.1 127.2,532.6 127.2,533.9 126.7,534.4 125.1,534.7 123.8,535.7 122.0,535.7 121.3,536.2 118.9,535.7 117.9,534.9 116.9,535.7 115.6,535.7 115.3,537.8 114.6,538.8 114.8,541.1 115.3,541.9 114.8,543.5 114.8,545.5 112.5,547.6 110.2,547.8 109.4,548.9 107.6,548.4 106.3,549.7 104.3,549.4 101.7,547.1 101.4,546.0ZM257.8,522.3 258.3,521.8 259.6,522.0 258.8,522.5ZM264.2,521.8 265.0,521.5 265.5,522.3 265.0,522.8ZM253.9,521.2 255.0,521.5 255.0,523.3 254.5,523.8 253.4,523.6 253.4,521.8ZM359.3,520.7 359.8,521.0 359.6,522.0 358.8,521.5ZM236.2,521.0 236.9,520.7 237.5,521.8 236.4,522.0ZM347.7,520.2 348.2,519.9 348.8,520.7 348.2,521.0ZM460.8,519.7 461.6,520.2 461.3,521.2 460.6,521.2 460.1,520.7ZM373.5,520.2 374.0,519.7 377.9,519.2 379.7,519.9 380.4,519.7 382.0,520.2 386.9,519.9 390.2,521.2 391.0,520.7 396.4,520.5 399.0,518.9 401.6,519.4 402.3,518.7 407.2,519.2 408.5,518.1 410.6,518.4 412.1,517.6 413.2,518.1 415.0,517.9 415.7,518.4 417.3,518.4 418.3,519.4 419.1,519.4 419.6,518.4 422.2,518.4 424.5,517.4 425.3,517.4 426.3,518.4 427.6,518.4 428.6,519.2 433.3,518.4 434.5,519.4 436.1,518.7 438.4,519.2 439.4,518.7 443.6,518.9 444.3,519.4 446.1,518.4 446.9,518.4 447.7,519.2 454.4,518.9 455.2,519.7 454.9,520.7 454.1,521.8 453.1,522.3 452.1,525.9 451.0,527.2 449.2,526.7 449.2,527.4 448.5,528.2 447.4,528.2 446.9,529.0 445.9,529.2 445.1,530.0 442.0,531.1 441.2,532.1 440.0,532.1 437.6,534.2 436.6,534.2 434.5,536.7 431.7,538.3 431.5,539.1 433.8,539.3 436.3,540.6 437.1,539.8 438.7,539.3 441.0,541.1 442.3,541.1 443.0,541.6 443.8,541.4 444.8,541.9 445.6,541.9 446.7,540.9 448.7,541.1 449.0,540.6 450.0,540.6 451.8,542.7 454.9,543.7 455.9,545.5 458.0,547.3 459.0,548.9 459.8,549.4 460.3,549.4 460.6,548.9 462.4,549.9 461.6,550.9 461.6,553.0 459.8,555.1 461.1,557.1 459.8,557.4 459.3,558.7 459.5,560.0 458.0,563.3 456.2,564.6 455.4,565.9 453.9,566.2 453.6,567.7 449.7,567.7 449.2,568.3 449.2,569.5 448.2,570.6 446.4,570.6 445.4,571.6 444.1,571.9 443.3,572.9 442.8,572.6 442.8,571.6 443.8,571.4 443.8,570.8 442.0,571.1 441.5,572.1 440.7,572.6 440.0,572.1 438.9,572.1 438.2,571.4 435.6,571.4 433.8,571.9 432.2,571.6 428.1,572.4 427.3,571.9 426.0,571.9 423.7,570.6 422.7,570.6 421.4,569.3 419.3,568.8 418.8,567.5 417.0,566.7 416.0,565.2 413.4,563.9 413.2,563.3 413.9,562.6 413.9,562.1 412.6,560.0 412.9,559.2 411.4,558.2 411.4,557.4 411.9,556.9 413.4,557.1 413.7,556.1 412.9,555.9 411.9,556.4 411.1,555.9 409.8,553.0 409.8,546.3 410.6,544.7 410.6,544.0 409.8,543.5 410.1,541.6 411.6,541.6 413.7,539.8 414.7,539.8 416.0,540.6 417.0,539.6 417.0,538.8 418.1,538.8 419.1,540.4 422.7,540.4 423.7,539.3 423.0,538.5 423.0,537.3 421.7,536.7 418.6,533.6 418.6,532.3 417.5,531.3 416.5,529.2 415.2,528.5 410.8,528.0 408.8,526.9 408.0,527.2 407.0,526.1 404.9,526.4 401.8,524.3 399.8,523.8 398.5,522.3 397.2,522.3 395.9,523.0 395.6,522.3 395.1,522.3 395.4,523.0 394.1,524.1 392.3,523.8 391.8,522.5 391.5,523.6 392.3,523.8 392.3,525.1 391.3,526.1 391.3,526.7 391.8,526.9 392.8,526.1 395.4,526.4 397.2,525.6 397.7,524.6 398.7,524.3 399.2,525.1 398.2,527.2 398.2,528.0 399.0,530.3 400.5,530.3 400.5,529.5 401.3,528.7 400.5,526.9 401.8,526.1 403.4,527.4 404.4,530.0 404.4,531.1 405.4,532.3 405.4,533.1 404.7,533.6 401.6,533.1 400.5,534.2 399.2,533.1 396.7,532.6 393.1,533.1 391.8,532.1 390.7,532.1 388.7,530.5 386.9,530.3 385.9,529.0 384.8,529.0 383.8,528.0 383.0,528.0 379.7,525.9 378.4,525.6 374.8,521.8 374.0,521.8 373.5,522.5 373.0,522.5 372.5,522.0 373.5,521.2ZM455.9,517.1 456.7,517.4 457.2,518.7 456.7,519.2 455.7,517.9ZM239.5,516.6 240.3,516.3 240.8,517.1 240.0,517.4ZM300.8,516.1 301.3,517.1 299.5,518.9 298.8,517.9ZM457.2,516.1 457.7,515.8 458.2,516.3 457.5,516.6ZM451.0,516.1 451.5,515.8 452.6,516.3 453.6,515.8 453.9,516.3 452.8,517.4 452.1,517.4ZM398.5,516.1 399.0,515.6 399.5,516.3 399.0,516.6ZM122.3,515.3 123.6,515.8 123.3,516.8 122.5,517.6 121.3,516.6 121.3,515.8ZM399.5,514.5 400.5,514.3 401.1,514.8 399.8,515.0ZM120.7,514.5 121.5,514.3 121.8,515.3 121.3,515.6ZM185.1,514.0 185.9,513.7 186.4,514.3 185.4,514.5ZM440.0,513.5 441.5,513.2 441.8,513.7 441.0,514.3ZM115.8,513.2 116.4,512.7 117.1,513.5 116.4,513.7ZM432.2,513.0 433.3,511.9 434.3,512.2 434.3,512.7 433.0,513.5ZM317.6,512.7 318.1,511.9 318.6,512.5 318.1,513.0ZM454.4,511.9 454.9,511.7 455.2,512.2 454.6,512.5ZM437.9,510.9 438.2,510.6 439.7,511.2 440.0,511.7 438.7,511.9Z"/><path fill="#ffebda" fill-rule="evenodd" d="M381.5,695.9 382.0,700.0 382.0,695.9ZM398.0,695.6 397.7,700.0 398.2,700.0ZM380.4,695.6 380.7,700.0 381.0,695.9ZM319.6,695.6 319.1,695.9 319.4,700.0 319.9,700.0 320.2,696.1ZM313.2,695.6 312.9,696.1 313.5,700.0ZM399.5,695.4 399.2,700.0 400.5,700.0 400.5,695.9ZM391.0,695.4 388.9,695.9 388.9,700.0 391.3,700.0ZM339.0,695.4 337.9,695.6 337.9,700.0 339.0,700.0ZM277.9,695.4 277.6,700.0 280.0,700.0 280.0,695.9ZM121.5,695.9 121.8,700.0 125.9,700.0 125.6,695.4 122.3,695.4ZM466.5,695.1 465.7,695.4 465.7,700.0 466.0,695.9ZM459.0,695.1 459.3,700.0 460.1,700.0 460.3,695.9 460.6,700.0 463.4,700.0 463.4,695.6 462.9,695.1 460.1,695.9ZM289.0,695.1 288.7,700.0 291.8,700.0 291.8,695.9 291.0,695.4ZM186.7,695.1 186.4,700.0 187.5,700.0 187.7,695.9 188.5,696.1 188.5,700.0 190.3,700.0 190.3,695.9 187.5,695.9ZM295.7,695.4 295.4,700.0 299.0,700.0 299.0,695.6 298.0,694.8 296.7,694.8ZM168.4,695.4 168.4,700.0 174.6,700.0 174.3,694.8 171.0,694.8 169.9,695.6ZM148.8,694.6 148.3,695.4 149.1,695.6 149.3,694.8ZM344.6,694.3 344.1,694.3 343.3,695.1 341.5,695.4 341.8,700.0 343.3,700.0 343.3,695.9 343.9,695.4 344.6,695.4ZM201.9,694.3 200.9,694.1 199.6,695.4 198.5,695.6 198.5,700.0 201.4,700.0 201.4,695.6ZM227.7,693.8 226.9,694.1 227.1,694.6 226.6,695.1 226.6,700.0 227.4,700.0 227.1,694.6ZM196.7,695.6 194.2,693.8 193.1,695.1 191.1,695.4 190.8,700.0 196.7,700.0ZM300.1,693.3 299.8,695.1 301.6,694.8 301.6,694.3 300.6,693.3ZM211.4,693.3 210.7,693.3 210.4,693.8 210.7,694.1ZM218.1,692.3 217.9,693.0 218.6,694.6 219.4,692.5ZM280.0,692.0 279.7,692.8 280.2,693.0 280.5,692.3ZM147.5,691.7 146.5,692.3 147.5,692.5ZM413.7,690.4 413.2,691.0 413.2,692.0 414.7,692.8 413.7,691.2ZM321.4,690.4 320.9,691.7 321.4,692.3 322.2,692.3 322.2,690.7ZM164.8,690.2 163.8,691.5 162.0,691.0 162.2,692.3 163.5,692.5 164.0,693.0 163.5,694.8 162.0,694.8 161.2,695.4 159.6,695.1 158.6,695.9 158.6,700.0 165.6,700.0 165.6,695.4 165.1,694.6 165.8,693.8ZM455.9,689.9 454.9,691.0 455.9,691.7ZM457.2,689.9 457.5,690.7 458.5,691.5 459.5,691.5 460.3,691.0 459.5,689.9 458.5,689.9 458.0,689.4 457.5,689.4ZM163.0,689.4 162.5,689.2 162.2,690.2ZM316.5,688.9 316.8,689.4 317.8,689.2 317.6,688.6ZM220.4,688.6 220.4,689.4 221.5,689.2 221.5,688.6ZM301.1,688.4 300.1,688.9 298.8,688.9 298.8,689.4 300.6,689.4ZM416.0,688.1 415.2,688.4 415.2,688.9 417.0,690.7 416.5,691.7 416.8,693.5 417.3,693.0 417.3,691.0 419.1,690.7 419.1,690.2 418.1,688.6ZM231.0,688.9 231.5,688.9 232.0,688.1 231.0,688.1ZM457.2,688.1 456.4,687.9 454.6,688.4 456.2,688.6ZM205.2,687.6 204.5,688.4 205.2,690.2ZM303.1,686.6 302.4,686.6 301.9,687.3 302.9,687.1ZM198.3,685.5 197.8,686.6 198.8,686.8 199.1,686.1ZM297.5,684.2 297.0,684.0 296.7,684.8 297.2,684.8ZM458.5,683.7 458.5,684.5 459.3,684.0ZM179.0,681.9 178.5,681.9 178.2,682.7 179.5,684.0 179.2,685.3 177.9,686.1 178.2,686.8 178.7,686.8 179.0,686.1 180.5,685.0 180.5,684.0ZM176.6,681.7 176.1,682.2 176.9,682.7 177.2,681.9ZM435.3,680.4 434.8,680.6 434.8,681.4 435.6,681.1ZM182.8,681.7 182.1,680.4 180.5,681.4 182.1,681.9ZM446.7,680.1 446.1,680.1 445.4,681.1 445.6,681.9 446.4,681.9 446.9,681.1ZM170.5,679.3 170.2,680.1 170.7,680.4 171.0,679.6ZM176.9,678.8 176.1,680.4 176.6,681.1 177.9,681.1 178.5,679.3 177.4,679.3ZM313.5,680.6 313.7,681.9 315.3,682.2 316.0,683.0 317.3,683.0 318.1,683.5 317.8,686.3 319.6,686.3 322.2,688.1 325.3,688.1 326.1,689.2 326.9,689.4 328.4,687.9 330.2,688.1 331.5,687.1 332.3,687.1 332.5,688.1 331.7,688.9 332.8,688.4 334.3,688.9 335.9,688.6 336.6,689.2 340.0,688.9 341.5,689.7 341.5,691.5 342.3,691.5 342.6,691.0 342.1,690.2 342.8,689.4 346.4,688.9 347.5,689.9 348.0,689.4 350.3,689.7 352.1,688.9 353.1,689.9 354.7,688.4 355.7,689.2 357.5,689.4 357.8,690.4 359.6,691.5 359.6,689.9 362.4,689.9 364.5,688.9 366.5,687.1 366.5,684.2 365.0,683.5 365.5,682.4 366.5,683.2 367.6,685.5 368.6,686.1 368.1,687.6 368.3,688.1 370.1,688.9 369.6,687.1 370.6,686.6 372.2,688.4 376.1,689.2 376.6,689.7 376.6,691.0 377.3,690.7 377.3,689.4 377.9,689.9 377.9,690.7 378.6,691.0 379.4,690.2 380.4,690.4 381.7,689.4 383.5,689.4 384.8,687.9 385.9,687.9 386.6,688.9 387.1,688.9 386.6,687.3 387.7,686.3 387.7,685.5 388.4,684.8 390.0,684.8 389.7,682.2 392.0,681.4 391.8,680.6 390.0,680.6 389.5,681.4 388.9,680.4 387.7,679.9 386.6,678.8 382.5,679.1 381.5,677.8 380.7,678.0 380.7,679.1 379.9,679.9 376.6,679.6 375.8,680.4 374.3,680.4 373.7,680.9 372.7,680.1 371.7,680.4 371.2,679.9 371.2,678.8 369.4,678.8 368.6,678.3 366.0,678.8 363.7,678.6 362.4,679.3 358.3,678.0 356.5,678.3 355.4,677.5 352.6,677.8 351.8,678.8 349.5,678.8 348.2,678.0 345.9,680.1 344.6,679.3 341.3,679.1 340.8,678.3 340.0,679.1 338.2,678.6 336.9,679.9 335.9,680.1 335.1,681.4 334.3,681.4 333.0,680.1 332.3,680.9 331.0,680.9 329.9,681.9 329.4,681.9 329.2,680.9 327.9,680.9 326.6,679.9 325.3,679.9 324.5,680.9 323.0,680.4 322.2,680.9 321.2,680.6 319.9,681.1 318.9,679.9 318.9,678.6 317.6,678.6 317.6,677.3 317.1,676.8 316.3,677.0 316.0,677.8 316.3,678.8 317.3,679.6 316.0,680.9 315.5,680.9 314.5,679.9 313.7,679.9ZM378.9,689.2 379.4,688.9 379.7,689.7 379.2,689.9ZM337.7,687.1 338.2,686.8 338.4,687.3 337.9,687.6ZM329.2,686.8 329.4,686.3 330.2,686.6 329.7,687.1ZM332.5,685.0 333.3,684.8 333.5,685.5 333.0,685.8ZM371.4,685.0 373.0,684.5 373.5,685.3 375.0,685.5 374.3,686.3 373.5,686.1 372.5,686.6 371.4,685.5ZM381.2,684.0 382.0,683.7 382.2,684.5 381.7,684.8ZM361.1,682.7 361.6,683.2 361.1,684.2ZM326.6,681.9 327.9,683.0 327.4,684.0 326.9,684.0 326.1,683.0ZM379.7,681.7 380.2,682.2 379.7,683.0 379.2,683.0 378.4,683.7 377.6,683.2 379.2,681.7ZM343.6,681.7 343.6,682.4 342.3,683.0 341.0,684.2 339.5,683.5 340.5,682.4 342.3,682.2 343.1,681.4ZM359.3,681.4 359.8,680.9 360.3,681.7 359.8,681.9ZM337.9,680.9 338.4,679.9 339.7,680.1 338.7,681.1ZM365.5,679.9 366.5,679.6 366.8,680.4 366.0,680.9ZM315.0,676.8 314.7,676.5 314.2,677.3 314.7,677.3ZM250.8,676.0 250.6,676.8 251.4,677.0 251.4,676.2ZM383.5,675.7 383.0,676.8 383.8,677.8 384.3,677.8 384.6,677.3ZM96.0,662.8 96.0,670.6 96.5,670.8 96.5,671.3 96.0,671.6 96.0,678.0 97.0,677.8 97.6,678.3 97.6,678.8 96.0,679.9 96.0,689.9 97.0,690.7 97.3,691.5 98.3,692.0 100.1,691.7 100.9,692.5 102.7,692.3 103.7,692.8 105.8,692.8 106.6,692.0 108.4,692.3 109.7,691.7 111.5,691.7 112.2,691.0 116.6,691.7 120.2,691.5 120.2,690.7 119.2,690.7 118.4,689.9 118.2,687.9 118.9,687.6 120.0,688.9 121.8,689.7 122.3,689.4 122.3,687.6 123.3,686.3 124.1,686.3 124.9,687.1 124.9,687.9 123.6,689.2 123.6,689.9 124.1,690.2 125.4,689.7 125.6,691.0 126.2,691.5 127.2,691.0 128.7,692.0 130.0,691.7 131.6,693.0 133.1,693.0 134.7,692.3 134.1,691.7 134.7,690.7 135.7,691.2 136.2,692.8 136.7,692.8 137.0,691.5 137.5,691.0 138.5,691.7 139.5,691.0 141.9,690.7 142.4,691.2 142.4,692.3 143.4,692.5 143.4,692.0 142.6,691.2 142.4,689.7 142.9,689.2 145.2,689.4 147.0,688.4 148.3,686.8 149.9,687.1 150.6,685.5 150.6,684.5 151.1,684.0 151.9,685.3 153.2,685.3 154.2,684.8 155.5,683.0 157.3,682.7 157.8,682.2 157.1,679.6 158.6,678.6 159.9,678.6 160.4,678.0 159.9,677.3 158.1,678.3 157.1,677.3 155.8,677.3 154.7,676.8 154.2,675.5 154.2,673.7 154.7,673.1 156.3,673.7 157.8,673.1 159.1,673.7 161.2,673.4 161.2,672.1 162.2,671.6 163.0,672.1 164.3,672.1 165.6,673.7 166.1,673.4 166.1,672.6 164.5,671.8 165.1,670.3 163.8,669.3 164.5,668.5 168.1,669.3 168.7,670.3 167.6,672.9 169.4,673.1 170.7,673.9 172.0,673.9 173.8,672.4 175.4,673.1 177.2,672.6 179.0,672.9 179.5,673.4 180.8,673.4 182.3,671.8 183.1,672.4 185.1,672.4 185.9,671.3 186.4,671.6 186.7,673.1 191.1,672.9 191.8,673.4 192.9,673.1 193.9,673.7 197.0,673.4 200.1,671.1 200.9,671.1 201.4,671.6 201.4,672.4 201.9,672.6 205.2,672.9 205.8,672.4 206.0,670.6 207.8,670.0 208.9,670.8 208.9,671.3 208.1,671.8 206.8,671.8 206.5,672.6 208.6,673.4 214.5,673.4 215.3,671.8 216.1,671.8 218.6,673.1 219.7,671.6 220.4,671.8 220.2,673.4 221.2,673.4 222.0,671.8 224.1,672.1 224.6,671.6 225.3,671.6 226.9,672.4 227.4,670.6 228.4,670.3 229.5,670.8 229.7,672.1 231.0,672.6 235.9,672.1 236.9,673.1 237.7,673.1 238.7,672.4 240.0,672.1 240.0,673.7 243.4,672.4 244.4,673.4 247.0,673.1 247.8,672.4 252.4,673.9 252.9,674.4 252.7,676.0 253.2,676.2 255.2,675.2 256.8,675.2 259.1,676.2 260.6,675.7 262.2,676.0 265.3,677.3 267.3,677.0 268.1,676.5 270.7,677.0 273.0,676.5 274.0,677.0 275.6,677.0 276.1,677.8 275.1,678.6 273.3,678.0 272.2,678.3 271.2,677.8 270.4,678.6 270.4,679.9 271.2,680.9 271.2,682.2 272.2,683.5 271.7,685.0 272.2,686.8 272.7,687.3 274.3,687.3 274.8,687.9 276.9,687.9 278.4,686.8 279.2,687.9 282.5,688.1 284.3,687.1 285.4,688.1 286.1,687.6 287.9,687.6 288.5,685.5 289.5,685.8 290.3,686.6 290.5,687.6 291.6,687.3 292.1,685.8 291.3,684.5 291.3,683.2 290.8,682.2 291.3,681.1 291.3,678.6 290.5,678.3 289.5,679.6 287.9,678.0 286.1,677.8 286.9,677.3 290.8,676.8 292.6,674.9 295.4,675.7 297.2,675.2 300.1,675.2 301.6,676.0 302.6,675.2 307.5,675.2 308.3,674.7 311.4,674.7 311.9,675.7 312.9,674.9 314.0,674.9 314.5,675.5 316.5,675.2 317.3,675.7 320.2,674.9 324.3,675.2 325.3,674.7 331.0,674.9 333.3,675.7 336.6,674.9 340.8,675.2 341.5,676.0 344.1,675.2 346.7,675.2 348.0,675.7 350.0,675.5 351.8,673.9 352.9,673.9 353.6,674.9 353.1,675.7 352.4,675.7 352.1,676.5 353.4,676.5 354.4,677.3 354.7,676.0 356.0,673.9 357.8,673.4 358.3,672.9 360.1,673.7 362.1,673.1 362.9,673.9 363.7,672.9 365.0,672.9 366.0,671.8 366.8,673.4 367.3,673.4 367.8,672.9 367.6,671.8 368.3,670.6 368.8,670.8 369.1,672.4 371.9,672.9 373.7,673.7 375.3,673.7 376.1,674.2 376.1,674.9 376.1,673.7 377.1,673.1 377.9,672.1 378.4,672.1 379.4,673.1 381.0,671.8 381.5,671.8 382.2,672.9 383.5,672.9 384.3,674.4 384.6,673.9 385.6,673.7 386.1,672.9 387.1,672.4 388.9,672.4 387.9,670.8 388.4,670.3 389.5,670.6 390.2,669.8 391.8,671.1 391.8,672.4 393.6,672.4 393.6,672.9 396.4,673.4 397.2,674.9 398.2,674.9 400.8,678.0 401.6,678.0 402.9,679.6 405.7,679.3 407.0,679.9 407.7,679.3 412.1,679.6 413.2,680.4 416.8,679.3 418.8,679.3 419.9,679.9 420.6,679.9 421.1,679.3 426.3,679.3 428.6,679.9 429.6,681.4 428.9,682.2 427.8,681.9 429.1,683.0 428.1,685.5 428.9,685.8 430.4,684.2 432.2,685.3 433.5,685.3 433.5,684.0 432.7,684.0 432.2,683.2 432.5,683.0 430.9,681.9 430.9,681.1 430.2,679.9 430.4,677.8 433.8,674.4 436.9,673.1 437.4,672.1 440.7,673.9 442.3,674.2 442.8,674.9 443.6,673.9 444.8,673.9 446.4,673.1 447.9,673.7 449.2,672.9 452.1,672.9 453.6,672.4 457.5,672.9 458.0,673.7 459.5,673.1 461.9,673.4 462.9,674.7 465.5,674.4 466.2,673.7 466.5,674.4 465.5,675.5 466.7,676.5 466.5,677.8 468.0,677.8 468.6,678.8 466.7,680.1 465.7,680.4 465.5,682.2 466.0,683.2 465.5,683.7 464.2,684.0 463.7,683.5 462.6,683.5 462.9,684.5 463.9,684.2 465.2,686.1 466.2,686.6 466.2,687.1 465.5,687.9 464.7,687.9 464.2,688.4 464.2,689.7 466.0,690.7 467.3,689.9 468.3,691.5 469.3,692.0 471.1,691.7 471.9,692.5 473.7,692.3 475.0,692.8 475.0,662.8 472.2,662.8 471.6,663.3 470.9,663.3 468.8,662.3 467.8,662.3 466.5,663.1 462.9,662.8 461.3,662.3 459.5,662.3 459.3,662.8 456.4,663.1 454.9,662.3 453.6,663.1 451.5,663.6 450.8,662.0 449.2,662.0 447.2,663.1 446.1,662.8 444.8,664.1 443.8,664.1 443.8,664.9 443.0,665.9 442.3,665.4 443.0,663.8 442.0,662.8 441.2,662.8 440.7,663.8 440.2,663.3 436.6,663.6 433.3,662.8 432.2,661.5 431.7,662.5 432.5,663.1 432.5,663.8 431.2,664.6 430.2,663.8 430.4,662.8 429.6,664.1 427.8,663.8 427.1,664.4 426.6,664.4 425.5,662.8 424.5,663.1 423.7,663.8 420.4,663.6 418.8,662.3 418.1,662.3 416.8,663.1 410.3,662.8 409.3,664.1 407.7,663.6 406.7,664.6 405.9,664.6 405.2,663.3 401.1,663.3 399.5,662.5 398.2,662.5 397.2,663.8 395.4,663.8 393.6,662.8 390.0,662.3 389.5,662.8 386.6,662.8 385.3,664.4 385.3,665.1 384.3,666.2 384.0,665.4 384.8,664.1 383.5,662.8 382.2,662.8 381.7,663.6 380.2,663.3 379.4,664.4 378.1,664.9 377.3,664.9 376.3,663.8 372.7,664.1 371.9,663.3 368.8,664.9 368.1,663.3 366.3,663.8 361.6,663.3 360.9,664.1 360.1,664.1 359.8,663.6 360.3,663.1 360.3,662.3 359.6,661.3 358.0,663.6 355.2,663.3 353.6,663.8 353.1,663.3 352.4,664.1 351.1,664.1 350.0,663.1 345.9,663.3 345.9,665.4 345.4,665.9 343.1,663.6 341.8,663.3 338.7,665.9 339.0,667.2 338.2,668.0 336.9,667.7 337.7,666.9 337.2,665.4 336.6,664.9 335.9,665.1 335.1,664.4 333.3,664.6 332.5,663.8 328.7,663.3 327.4,664.6 325.6,663.8 324.5,662.8 323.8,662.8 323.2,663.3 323.2,664.6 322.2,665.1 318.9,662.5 318.1,662.8 317.6,662.0 316.5,662.0 315.3,664.4 314.5,663.3 313.2,663.3 312.7,664.9 311.4,664.4 309.8,664.4 309.3,663.8 307.8,664.4 306.0,664.4 302.6,663.6 302.1,664.1 302.9,664.9 302.9,665.9 302.4,666.4 301.6,666.4 300.3,665.1 300.1,663.8 298.3,663.8 296.7,663.1 295.4,663.8 293.6,663.6 292.1,664.4 291.0,664.4 290.8,664.9 291.3,665.9 290.8,666.4 290.0,666.2 290.0,664.9 288.5,663.1 286.9,664.1 286.1,663.6 285.9,662.8 284.9,662.8 284.6,663.3 283.3,663.8 282.5,663.3 282.3,662.5 281.2,662.8 279.2,664.4 277.9,664.6 276.9,664.1 276.1,664.9 274.8,664.9 274.0,665.6 273.0,665.6 272.0,666.4 271.7,665.1 271.2,664.6 269.4,664.4 268.4,663.6 269.4,662.5 267.9,662.3 267.3,663.3 265.8,663.3 263.5,665.4 262.2,664.6 261.2,663.3 258.1,663.3 257.0,662.8 256.3,664.4 254.5,664.9 253.2,666.4 250.8,665.9 249.3,666.7 248.8,666.2 249.0,664.9 248.0,664.9 246.5,666.2 245.4,664.4 241.8,664.9 240.3,663.6 237.2,664.1 233.6,663.8 232.8,664.1 232.0,665.1 231.5,665.1 228.7,662.8 228.4,665.1 227.9,665.4 226.9,664.6 226.1,665.4 226.4,666.4 228.2,666.2 229.2,667.7 228.4,668.5 227.7,668.5 226.6,667.2 226.1,667.2 225.6,667.7 226.4,668.5 225.9,669.3 224.8,668.2 224.6,666.4 225.1,664.6 224.6,664.1 223.0,663.6 221.7,664.9 221.0,664.9 220.2,664.1 216.8,663.8 216.1,662.8 216.3,661.3 215.8,661.0 214.3,661.3 214.3,661.8 215.0,662.3 214.5,663.3 213.7,662.8 213.7,662.0 212.2,662.3 210.9,665.4 210.1,666.2 209.1,665.4 209.1,664.1 205.2,663.8 201.6,666.4 201.1,666.4 200.1,664.9 198.8,664.9 198.0,666.2 197.0,666.7 194.9,663.8 192.4,663.3 191.1,664.1 190.8,663.3 191.3,662.5 190.6,662.3 189.8,663.3 187.7,664.6 186.7,663.8 185.1,664.4 184.1,663.8 183.9,664.6 184.4,665.1 183.3,665.6 183.1,666.4 184.6,666.4 184.9,667.2 183.6,668.2 183.1,668.2 182.6,666.9 181.8,666.4 181.8,665.9 182.6,665.4 182.3,663.3 183.1,662.5 183.1,662.0 182.3,662.3 182.3,663.1 181.8,663.6 180.3,663.6 179.5,664.1 179.0,664.1 177.9,662.8 177.2,663.8 177.4,664.9 176.9,665.4 175.9,665.4 175.1,663.8 174.6,663.8 173.6,664.9 172.8,663.6 171.0,663.3 169.7,662.5 168.9,662.5 168.1,663.3 167.4,663.3 166.6,662.5 162.7,663.3 160.4,661.3 159.4,662.3 156.6,663.8 156.6,665.1 154.7,666.9 154.0,666.9 154.0,668.7 151.9,667.7 151.1,668.0 150.6,667.5 151.7,666.2 152.2,664.1 153.5,662.8 153.2,662.3 147.8,663.3 147.3,662.3 146.5,661.8 144.7,663.1 142.6,662.0 140.6,662.0 139.8,662.5 138.3,662.5 137.2,663.6 134.7,663.3 133.9,662.5 132.8,662.8 132.3,662.3 130.8,663.1 129.0,662.5 126.4,663.6 125.1,662.8 118.7,663.3 117.9,662.8 116.4,662.8 115.8,662.3 115.1,662.8 112.2,662.5 112.2,663.1 111.5,663.6 110.7,663.6 109.9,662.5 108.6,663.3 106.6,663.3 105.8,662.8 105.0,663.8 104.0,662.8 101.2,662.8 100.6,663.3 99.9,663.3 97.8,662.3 96.8,662.3ZM138.3,689.7 139.0,689.4 139.3,690.2 138.5,690.4ZM102.7,687.9 103.0,688.4 101.7,689.9 101.2,689.4 101.2,688.6ZM133.1,685.5 134.1,686.1 134.1,686.8 133.6,687.3 132.6,686.8ZM280.0,684.0 280.5,684.0 281.2,684.8 281.0,686.1 280.2,685.8 279.7,684.5ZM123.3,684.0 123.6,684.8 123.1,685.0 122.8,684.5ZM283.3,683.5 283.6,682.7 284.3,683.0 283.8,683.7ZM280.0,682.2 281.5,682.2 281.8,683.0 280.5,683.7 280.0,683.2ZM122.3,681.4 122.3,682.2 121.3,684.2 118.7,683.2 118.9,682.7 119.7,683.2 120.5,683.0 121.5,680.9ZM126.7,680.6 127.4,679.9 128.7,680.1 128.7,681.1 128.2,681.7 127.2,681.4ZM279.4,679.6 279.7,679.9 277.9,681.9 277.4,681.4 277.6,680.4ZM153.5,679.1 154.0,678.8 154.5,679.3 154.0,679.9ZM130.3,677.3 131.0,677.3 131.8,678.0 131.6,679.6 129.5,678.3ZM137.2,675.7 138.3,675.5 138.5,676.2 137.7,676.8ZM111.2,675.5 111.7,676.0 111.5,676.8 110.4,676.2ZM116.6,675.5 117.6,674.7 118.4,675.2 117.9,676.0 117.1,676.0ZM113.8,674.7 114.6,675.2 114.6,676.2 113.3,677.8 112.8,676.8 113.0,675.2ZM105.8,674.4 106.6,674.2 107.1,675.2 106.3,675.7 105.8,675.2ZM104.0,673.7 104.8,673.4 105.0,673.9 104.5,674.2ZM117.4,673.7 117.6,672.9 119.7,673.1 119.2,674.2 117.9,674.2ZM471.6,672.6 472.7,673.4 471.9,674.4 471.1,673.7ZM100.6,672.6 101.7,673.4 100.9,674.4 100.1,673.7ZM151.9,672.4 152.4,672.1 152.7,672.9 152.2,673.1ZM122.0,672.9 122.5,671.8 123.3,672.4 122.8,673.1ZM212.2,671.1 212.5,671.3 211.7,672.4 211.2,671.6ZM127.7,670.8 128.5,671.6 128.5,672.6 128.0,672.6 127.4,671.8ZM464.4,671.1 464.9,670.6 467.5,670.8 467.3,671.6 464.9,671.6ZM446.4,671.3 447.2,670.6 447.7,670.8 447.2,671.6ZM231.8,670.8 232.6,670.6 233.1,671.6 232.6,672.1 231.8,671.3ZM107.1,670.3 108.4,671.1 109.7,671.1 108.6,671.6 107.6,673.7 107.1,673.1 106.6,671.3ZM379.7,670.8 380.2,670.0 381.5,670.0 382.0,670.6 381.0,671.8ZM453.1,669.5 453.6,670.3 453.1,671.3 452.3,671.8 451.8,671.1 452.3,669.8ZM243.6,670.0 244.1,669.5 244.9,670.0 244.4,670.6ZM163.5,669.5 163.8,670.3 162.7,671.3 162.2,670.6ZM125.4,670.3 126.2,669.5 126.9,670.0 126.2,670.8ZM150.6,668.7 151.1,669.8 150.6,670.3 149.9,670.3 150.4,671.3 149.1,672.9 148.8,672.4 149.3,669.3ZM148.6,669.3 148.6,670.3 147.8,671.1 145.7,671.1 145.7,670.3 147.0,669.0 147.8,668.7ZM119.5,668.7 119.7,670.0 118.9,670.6 118.7,669.8ZM208.3,668.5 208.9,669.0 208.6,669.8 208.1,669.5ZM376.8,668.5 377.3,668.2 378.1,669.0 378.1,669.5 377.3,669.5ZM196.7,668.5 197.3,668.2 199.3,670.3 198.8,670.8 197.8,670.6 197.0,669.8ZM115.1,668.7 115.6,668.2 116.4,668.2 116.9,668.7 116.9,669.5 115.8,670.0 115.1,669.3ZM235.9,668.5 236.4,668.0 237.2,668.2 236.9,669.0ZM378.6,668.5 378.9,667.7 380.7,668.0 379.7,669.0ZM222.8,667.7 223.3,668.2 223.0,669.0 222.5,668.5ZM127.7,668.2 128.5,667.7 129.0,668.5 128.2,668.7ZM334.1,667.7 334.6,667.5 335.1,668.2 334.6,668.5ZM202.2,667.7 203.4,667.5 204.0,668.5 202.4,668.5ZM426.8,667.7 427.6,667.2 430.2,668.7 429.4,669.8 428.1,669.8 426.8,668.5ZM366.5,667.7 367.0,667.2 368.8,667.5 368.3,668.7 367.0,668.5ZM328.4,667.7 328.9,667.2 329.7,667.5 329.4,668.0ZM391.5,667.2 392.0,666.9 393.3,667.5 394.1,669.0 392.0,669.0 391.3,668.0ZM332.5,666.9 333.0,667.7 332.0,668.2 331.5,667.7ZM205.0,666.9 205.5,666.9 206.0,667.7 205.5,668.5 204.7,668.0ZM230.2,668.0 232.0,666.7 233.8,666.9 233.8,668.7 233.1,669.5 232.3,669.5 231.3,668.2ZM178.7,667.7 179.5,666.7 180.8,666.9 179.5,668.2ZM370.6,666.4 370.9,667.7 370.4,668.2 369.6,667.5ZM147.5,666.9 147.5,667.5 146.8,668.2 145.2,668.2 144.7,668.7 144.2,668.5 146.8,666.4ZM344.4,667.7 344.4,666.9 345.1,666.2 346.4,667.2 345.9,667.7ZM333.3,666.4 333.8,666.2 334.1,666.7 333.5,666.9ZM282.8,666.2 283.6,666.4 283.6,667.2 283.1,667.7 282.0,667.2ZM149.9,666.2 150.1,666.9 149.6,667.5 149.3,668.7 148.3,669.0 148.0,667.5ZM190.6,665.9 190.8,666.9 190.3,667.5 189.8,666.7ZM346.9,665.9 347.5,665.6 347.7,666.2 347.2,666.4ZM327.4,665.9 328.4,665.6 328.9,666.2 328.9,667.2 327.9,667.5 327.1,666.7ZM309.8,665.9 310.4,665.6 310.6,666.2 310.1,666.4ZM395.6,665.6 394.6,666.9 393.6,666.7 394.4,665.6ZM292.8,665.4 293.4,666.4 292.3,667.2 292.1,665.9ZM443.8,665.6 444.8,665.1 447.4,665.4 447.9,665.9 446.9,667.2 444.8,667.2ZM424.8,665.6 423.0,666.2 422.7,665.9 423.0,665.4 424.0,665.1ZM319.9,665.6 320.4,665.1 321.4,665.4 320.9,666.4 320.4,666.4ZM187.5,664.9 188.0,664.6 188.5,665.6 187.7,665.9ZM165.3,664.9 165.6,664.6 166.6,665.4 168.4,665.4 169.2,665.9 170.7,665.1 172.0,666.9 172.0,668.0 171.5,668.5 170.7,668.5 169.2,666.9 165.8,666.9 165.3,666.2ZM132.3,664.9 133.1,664.6 133.4,665.6 132.8,665.9ZM392.3,663.6 392.5,664.1 391.8,664.9 390.7,664.4ZM159.1,663.1 159.9,662.8 160.7,663.8 159.6,664.4ZM274.0,660.7 273.8,661.0 274.6,661.5 274.6,661.0ZM116.4,660.5 116.4,661.5 117.6,661.5 117.4,660.7ZM421.4,659.2 420.4,659.7 421.1,660.0ZM300.3,659.2 300.1,660.0 300.6,660.2 300.8,659.4ZM315.5,658.9 316.0,659.7 317.3,660.2 315.8,658.7ZM388.4,657.9 388.4,658.9 387.9,659.4 388.2,660.5 390.0,659.4 390.5,658.4 391.0,658.7 391.0,659.4 391.5,660.0 392.0,660.0 392.5,658.9 392.5,658.2 392.0,657.6 391.0,657.9 390.2,657.4 388.9,657.4ZM146.0,657.4 146.0,657.9 146.8,658.2 146.8,657.6ZM279.7,657.1 278.7,657.1 278.7,657.9 279.4,657.9ZM308.0,657.1 309.8,656.6 308.3,656.6ZM300.3,656.1 300.3,656.6 300.8,656.9 300.8,656.1ZM160.4,656.3 159.6,656.1 158.4,656.6 157.1,658.2ZM285.9,656.1 286.1,656.9 286.9,656.9 287.9,657.9 287.9,659.2 288.5,659.7 289.2,659.7 290.3,658.9 290.8,659.2 289.2,658.4 288.7,657.4 288.7,655.8 287.4,656.6 286.4,655.8ZM404.9,655.6 402.3,658.2 404.1,658.2 404.7,657.4ZM440.2,655.3 440.2,657.4 440.7,657.6 441.2,656.6 441.0,655.8ZM340.2,655.3 341.0,657.6 341.8,657.6 341.3,655.6ZM427.3,654.3 426.8,654.5 427.1,655.3 427.6,654.8ZM335.6,655.3 336.4,655.8 337.2,655.1 338.7,655.6 339.7,654.8 339.7,654.0 337.2,654.0ZM303.7,654.0 303.4,654.8 304.2,655.1 304.2,654.3ZM341.8,653.2 342.3,654.5 343.3,654.5 344.1,655.1 342.8,653.0ZM190.3,653.2 189.8,653.0 189.3,654.0 190.0,654.0ZM458.5,651.7 458.2,652.5 458.8,653.0ZM247.5,651.7 246.5,651.7 246.0,652.7 246.5,653.0ZM377.3,650.1 378.6,651.4 380.7,651.2 378.1,649.6ZM470.9,649.1 470.6,649.6 470.9,650.1 471.4,650.1 471.6,649.4ZM99.9,649.1 99.6,649.6 99.9,650.1 100.4,650.1 100.6,649.4ZM363.4,648.3 362.4,649.4 362.7,649.9ZM423.0,648.1 422.7,648.6 423.2,649.6 424.0,648.6ZM233.3,645.2 233.3,646.0 233.8,646.0 234.1,645.2ZM230.5,645.0 230.2,644.7 228.9,645.8 227.7,645.8 227.7,646.8 228.9,646.3 230.5,646.5ZM133.9,641.1 133.6,642.9 134.1,643.2 134.9,641.9ZM230.8,640.1 230.0,640.1 229.7,641.1 230.5,641.9 229.7,643.2 230.0,643.9 230.8,643.2 230.5,642.1 231.3,641.6ZM379.2,635.9 379.7,636.5 380.4,636.2ZM265.8,635.2 266.0,636.5 266.6,636.5 266.6,635.4ZM360.1,632.1 359.6,632.1 359.1,633.1ZM366.5,628.7 365.8,629.5 366.3,629.7 366.8,629.2ZM468.6,627.4 467.3,628.4 468.3,628.2ZM369.4,627.4 369.1,627.7 370.1,629.2 370.1,627.7ZM371.9,625.6 371.7,626.9 372.2,627.7 372.2,629.2 373.0,629.2 373.7,628.4 374.3,628.7 374.5,630.3 375.3,631.3 375.3,632.6 377.3,632.1 377.9,633.1 378.6,633.4 379.7,632.1 380.2,632.1 381.0,633.4 384.0,633.6 384.6,634.4 384.3,635.7 385.3,636.5 386.1,636.5 386.4,635.9 385.6,635.4 385.6,634.6 386.1,634.1 387.4,634.1 387.9,635.2 388.7,634.9 388.9,633.6 389.7,633.6 391.0,634.4 392.5,634.1 393.6,632.8 394.4,632.6 395.4,631.0 395.4,626.9 394.4,624.3 392.3,624.1 391.8,623.5 389.2,623.8 387.1,625.1 385.9,623.5 385.3,623.5 384.6,624.6 383.8,624.6 383.0,623.0 382.0,622.5 381.0,624.1 379.2,624.6 378.6,625.6 378.6,627.2 377.9,627.9 377.1,627.9 375.8,627.2 374.3,625.1 373.0,625.1ZM376.1,630.0 376.8,629.7 377.3,630.3 376.6,630.8ZM385.6,628.4 386.1,628.2 386.6,629.0 385.9,629.2ZM386.9,625.6 387.4,626.6 386.9,627.2 386.1,627.2 385.9,626.6ZM389.2,625.9 390.0,625.1 390.5,625.3 390.0,626.1ZM432.2,623.0 433.5,623.3 434.0,622.5 432.5,622.2ZM347.5,621.0 346.9,621.2 346.9,622.0 347.7,621.7ZM375.8,620.7 376.1,622.2 376.6,622.2 377.6,621.2 376.8,620.7ZM215.3,619.4 214.8,621.0 215.6,621.2 216.6,622.5 217.9,621.7 216.1,621.5 215.6,621.0ZM169.7,619.4 169.4,619.9 170.2,620.2 170.5,619.7ZM342.3,618.9 342.3,620.2 343.1,620.4 342.8,618.9ZM164.0,618.9 163.0,619.1 162.7,619.7 163.8,619.9ZM389.5,618.4 390.2,619.1 391.8,619.1 391.5,618.1ZM423.7,617.9 422.7,617.9 422.4,618.6 421.1,619.7 421.1,620.2 423.7,619.1ZM215.8,618.4 215.8,619.1 216.3,619.4 217.6,619.1 217.6,618.4 217.1,617.9ZM109.7,616.8 108.9,617.9 108.1,617.3 106.3,617.3 106.3,618.1 106.8,618.9 108.9,618.6 109.7,618.1ZM448.7,616.3 448.2,617.9 449.2,618.1ZM182.6,614.8 182.6,615.5 183.1,615.5 183.1,614.8ZM103.2,614.5 103.0,615.0 103.7,615.3 104.0,614.8ZM348.5,613.5 346.9,613.2 345.9,613.7 346.9,616.0 347.2,615.3 348.5,614.2ZM385.9,611.1 385.1,611.9 384.8,614.0 386.4,613.5 386.4,612.2ZM380.7,610.4 380.4,611.1 381.5,611.4 381.5,610.6ZM146.5,609.6 147.3,610.1 147.8,609.8 147.0,609.3ZM368.8,606.5 368.8,608.3 369.4,608.3 369.9,607.8 369.6,606.5ZM379.7,605.7 379.4,604.9 378.1,605.7 376.1,605.2 375.8,605.5 377.1,606.2 378.1,605.7ZM369.9,603.1 369.4,603.1 369.1,603.9 369.6,603.9ZM350.0,602.1 349.3,602.4 348.2,605.2 349.3,604.9 350.3,602.6ZM187.5,602.4 188.8,603.4 189.0,604.7 189.8,602.4ZM367.3,601.3 366.3,602.9 367.6,602.1ZM348.2,601.1 347.5,601.1 347.2,601.8 347.7,601.8ZM148.6,607.3 148.6,607.8 150.9,610.1 150.9,611.9 151.7,612.7 151.7,613.5 153.5,615.5 154.7,615.0 155.0,612.9 155.5,612.4 157.1,614.2 159.6,614.2 163.0,612.9 165.1,615.0 165.1,613.5 166.6,610.9 168.1,612.2 168.1,613.2 169.4,612.9 169.7,613.5 170.7,613.5 171.5,612.9 172.5,612.9 173.3,613.7 174.3,613.2 174.1,611.7 175.1,611.1 176.1,612.9 178.7,613.7 179.5,614.5 180.0,614.5 182.1,612.9 182.8,613.7 185.7,614.2 187.5,613.5 190.8,613.7 193.4,613.5 193.9,612.9 195.7,613.5 195.5,611.7 196.0,611.1 197.3,613.5 198.5,613.5 199.1,612.9 200.6,613.5 201.4,612.4 201.1,608.6 200.1,607.5 200.6,606.5 200.4,605.5 201.1,603.6 201.1,602.6 200.4,602.1 198.8,602.4 198.0,601.8 196.2,601.8 194.4,602.9 192.9,602.1 192.6,602.4 192.1,601.8 190.8,602.4 191.1,604.7 190.0,605.5 190.0,606.5 190.6,607.3 189.5,608.0 188.2,607.5 187.2,606.5 187.5,605.7 187.0,605.2 185.4,605.2 185.4,601.8 184.9,601.6 183.9,602.1 181.5,601.6 180.8,603.1 180.3,603.1 179.7,602.4 175.9,602.4 174.8,602.9 172.8,602.9 171.8,602.1 171.8,601.6 172.5,600.8 171.2,600.8 170.7,601.6 168.9,601.3 168.1,602.4 167.4,602.4 166.1,603.1 164.3,602.9 163.8,603.4 163.0,603.4 161.2,602.1 160.2,602.6 156.8,602.1 155.5,603.1 155.3,604.4 154.5,604.2 153.5,602.4 152.7,602.4 151.9,603.4 150.4,603.9 150.6,605.5 149.6,607.0ZM152.7,611.1 153.5,611.7 152.9,612.9 152.2,612.7 152.2,611.7ZM183.3,610.9 184.4,610.4 184.9,611.4 183.9,611.9ZM161.4,610.1 162.2,610.1 162.7,610.6 162.5,611.9 162.0,612.4 161.2,611.9 161.4,611.7 160.9,610.6ZM180.8,609.8 181.5,609.6 181.8,610.1 181.0,610.4ZM169.7,605.7 170.5,606.2 170.7,607.0 170.2,608.3 168.9,609.1 168.1,608.6 168.4,606.5 168.9,605.7ZM162.2,605.7 164.3,607.8 163.8,608.6 163.3,608.6 162.0,607.3ZM192.9,605.5 193.4,606.0 193.4,607.3 192.9,607.8 191.1,607.8 190.6,607.3 191.3,607.0ZM172.0,605.2 172.8,605.2 173.0,606.7 174.3,607.3 175.1,608.6 175.9,608.6 176.4,609.1 175.4,610.4 173.6,609.3 173.0,609.6 172.3,611.1 171.2,610.6 171.2,610.1 172.3,609.3 172.3,607.0 171.5,606.0ZM181.5,603.4 182.3,603.1 182.8,603.9 182.1,604.4ZM420.4,600.3 419.1,600.5 418.6,601.6 419.6,601.6ZM146.8,599.8 146.5,600.8 147.8,601.1 147.5,600.3ZM155.8,599.0 155.5,599.8 156.3,600.5 156.8,599.8ZM314.2,597.2 314.0,597.7 314.7,598.0 315.0,597.4ZM174.1,596.9 174.1,597.7 174.8,598.5 175.1,598.0ZM147.0,596.2 146.5,596.7 146.5,597.4 147.5,597.4 148.6,598.5 148.3,597.4ZM184.4,596.4 185.7,597.2 186.2,596.9 186.2,596.4 185.4,595.9 184.6,595.9ZM450.0,599.8 448.7,597.2 449.0,596.4 447.9,595.6 446.9,596.2 435.8,596.2 434.8,596.7 434.8,598.7 435.3,599.5 435.3,600.5 437.4,601.6 441.8,601.3 442.8,601.8 443.6,601.1 444.8,600.8 447.4,601.1 449.5,600.5ZM350.3,596.9 349.3,596.2 347.7,596.2 346.9,595.1 346.2,595.1 345.7,595.6 344.1,595.6 342.3,596.4 338.4,596.2 338.4,598.0 339.7,598.0 340.8,596.9 341.3,598.0 342.8,599.0 346.7,598.5 347.7,599.0 348.5,598.5 349.8,598.7 350.3,598.2ZM333.3,595.1 333.5,596.4 334.1,596.4 334.3,595.9ZM234.6,593.6 235.1,594.9 235.1,593.6ZM147.0,593.6 148.0,594.9 148.3,595.9 149.3,596.2 149.3,594.1ZM238.2,593.1 236.9,593.8 237.2,594.6 238.0,594.6 238.5,594.1ZM361.9,592.8 361.6,594.3 362.4,594.9 362.9,594.1 362.9,593.1ZM314.7,606.2 313.5,603.4 313.5,600.0 312.7,599.5 310.6,600.0 309.6,599.3 308.8,599.3 307.8,598.0 307.0,599.5 303.9,599.3 303.1,598.2 301.3,599.0 299.3,599.0 298.5,598.5 296.7,598.7 296.2,599.3 294.4,598.7 292.6,599.0 291.8,598.2 291.6,597.2 290.0,597.7 289.5,598.7 287.7,598.7 286.7,597.7 284.6,597.7 284.1,597.2 283.6,595.1 285.4,595.1 284.9,594.3 284.1,594.3 284.3,593.8 285.4,593.6 284.1,592.0 281.0,594.1 281.5,595.6 280.7,596.7 279.7,595.6 278.7,595.9 277.1,597.4 267.9,597.4 266.0,596.4 265.0,597.2 263.5,596.7 261.2,596.9 259.6,595.6 259.1,595.6 258.8,596.4 257.8,597.2 256.5,596.7 255.7,597.2 250.8,597.4 249.6,596.9 248.5,597.4 247.2,596.7 246.2,596.7 244.7,597.4 240.8,597.4 240.3,598.0 240.5,599.8 239.0,601.3 238.2,601.3 238.0,600.3 239.3,598.7 239.3,598.0 237.7,597.2 236.2,595.4 235.6,595.6 235.1,596.9 234.4,596.9 233.3,595.1 232.6,595.1 232.6,595.6 233.3,596.4 232.0,597.7 229.7,596.9 226.6,597.4 226.1,598.0 226.4,599.0 225.3,600.0 224.8,599.8 224.8,598.7 224.3,598.2 223.8,598.2 223.5,599.3 222.8,599.8 221.0,598.2 219.2,598.2 218.4,598.7 215.8,598.2 213.2,598.5 212.5,599.0 209.4,598.7 208.9,599.3 207.3,599.3 206.3,600.0 205.5,600.0 204.0,599.0 202.4,599.0 200.9,600.3 202.4,601.1 202.9,602.1 202.7,603.6 203.2,604.4 204.5,603.9 205.5,604.4 204.2,606.0 204.5,606.7 205.5,606.2 206.5,606.7 206.5,607.3 206.0,607.8 205.2,607.8 205.0,608.3 205.2,610.1 207.6,611.9 209.1,611.7 209.6,613.5 210.1,613.5 210.7,614.2 211.9,614.0 213.7,611.7 214.8,611.9 216.6,609.3 217.6,609.8 218.9,611.4 220.2,611.1 221.0,612.4 223.0,612.4 223.8,611.4 224.8,612.2 226.4,611.7 227.7,612.7 229.7,611.9 232.0,612.4 233.1,611.7 235.4,612.7 236.7,612.4 238.2,614.0 238.2,612.9 238.7,612.4 240.5,612.9 241.1,611.9 241.8,611.9 242.1,611.1 243.6,610.4 244.9,612.7 246.7,612.2 247.8,612.9 249.3,609.1 250.1,610.1 250.6,611.9 251.6,612.4 252.4,611.9 253.9,611.9 254.5,611.4 254.5,610.6 257.5,611.4 258.1,610.6 257.8,609.8 256.3,609.1 257.5,607.8 258.1,607.8 258.6,608.8 259.6,609.6 259.6,610.9 260.1,611.4 260.9,611.4 262.2,609.6 263.0,609.6 263.7,610.9 264.5,610.9 265.8,609.6 267.1,609.6 268.1,610.9 269.7,611.4 271.2,610.9 271.7,610.1 277.4,610.9 279.4,609.1 282.5,610.4 283.1,610.1 282.5,608.3 283.3,607.5 284.1,608.0 284.3,609.6 285.1,609.1 285.9,609.1 286.9,609.8 291.3,609.3 293.1,608.3 292.8,606.7 293.9,606.5 294.6,605.7 297.2,605.7 297.7,606.2 299.3,606.5 301.3,606.0 303.1,606.7 305.0,606.7 305.7,606.2 308.3,606.7 311.9,606.7ZM213.7,609.3 214.3,608.6 214.8,609.1 214.3,609.6ZM287.4,608.0 287.9,607.8 288.2,608.6 287.7,608.8ZM244.9,607.8 245.7,608.8 244.9,609.6 243.6,609.8 243.1,608.8ZM230.8,607.3 230.8,607.8 230.0,608.6 229.5,608.6 228.4,609.8 227.4,609.6 227.4,608.0 228.9,606.7 230.0,606.7ZM225.9,606.7 226.4,606.2 226.9,606.7 226.4,607.3ZM286.7,606.0 287.4,606.5 287.2,607.8 285.9,607.0ZM261.7,606.0 262.4,606.5 261.9,607.5 260.9,607.0 260.9,606.5ZM238.5,605.5 239.0,606.2 238.2,607.0 238.0,606.0ZM249.0,605.7 249.6,605.2 250.1,605.7ZM224.3,604.9 224.6,606.2 225.9,607.3 225.3,608.0 224.1,608.6 223.5,609.6 223.0,609.6 222.0,608.6 222.0,608.0 222.5,607.3 223.8,607.5 223.8,606.7 223.0,606.7 222.2,605.7ZM273.3,604.4 273.5,605.2 273.0,605.5 272.7,605.2ZM244.4,605.5 244.7,604.4 245.7,604.9 245.2,605.7ZM270.2,604.4 271.2,604.2 272.0,605.2 270.9,605.5ZM259.9,604.2 260.9,603.9 261.2,604.9 260.4,605.5 259.9,604.9ZM265.5,604.2 266.0,603.4 266.8,603.6 266.3,604.4ZM263.7,603.4 264.8,603.9 264.2,605.7 262.7,604.7 263.0,603.9ZM255.0,603.1 254.2,603.9 254.2,605.5 253.2,604.9 251.9,605.7 250.8,605.5 251.1,604.7 251.9,603.9 252.7,603.9 253.4,602.9ZM306.0,602.4 306.0,603.6 304.7,604.2 304.4,603.1ZM269.7,602.6 270.2,602.4 270.7,603.1 269.9,603.6ZM240.5,601.6 241.6,602.4 240.8,604.4 242.1,605.5 241.8,606.0 241.3,606.0 239.3,603.6 239.8,602.1ZM308.6,600.8 308.8,601.3 307.5,602.6 307.3,601.8ZM305.7,600.5 306.5,601.1 306.0,602.1 305.2,601.3ZM270.4,599.8 272.5,599.8 273.0,600.3 272.2,601.1 272.2,601.6 273.8,602.6 273.3,603.9 272.5,603.9 271.7,603.1 271.7,601.3 270.2,600.3ZM224.8,599.8 225.1,600.3 224.1,601.8 223.3,601.8 222.8,601.3 223.5,600.0ZM242.1,598.2 242.9,598.7 242.6,599.8 241.8,599.8 241.3,599.3ZM337.7,591.8 337.4,592.3 338.4,592.8 338.4,592.0ZM393.6,594.9 393.1,595.4 393.1,596.2 394.1,597.2 394.1,598.2 393.1,600.0 391.3,601.8 389.7,602.4 389.7,604.4 389.2,605.5 390.2,606.0 390.0,607.5 391.8,610.4 391.5,611.4 394.1,614.0 395.4,614.2 396.9,615.5 399.5,616.0 400.3,617.1 401.3,617.1 402.3,615.0 402.9,615.0 403.9,616.0 403.9,617.1 407.7,616.8 408.5,617.3 410.6,617.1 414.7,615.5 417.3,611.9 418.1,610.4 418.3,608.0 413.9,605.5 414.2,604.2 415.2,603.9 415.7,603.1 416.8,603.1 416.0,601.8 415.0,601.3 416.5,598.7 417.3,599.3 418.6,599.3 418.8,598.7 418.8,596.7 417.5,595.1 416.5,595.1 415.2,594.1 413.7,594.3 412.9,593.6 407.2,592.8 405.9,591.5 405.4,591.5 404.4,593.1 403.4,592.3 399.2,593.1 398.5,593.6 399.2,594.1 399.2,594.6 397.7,595.1 397.7,595.9 396.9,596.7 396.2,596.2 395.9,594.9ZM394.4,606.5 394.4,608.6 394.9,609.6 393.6,610.4 393.1,609.8 393.1,608.3 393.6,607.8 393.6,607.0ZM409.8,603.4 410.3,603.1 410.6,603.9 410.1,604.2ZM394.6,601.8 395.6,601.6 395.9,602.4 395.4,602.9 394.6,602.4ZM404.1,601.3 406.2,601.1 406.5,601.8 405.9,602.4 404.4,602.4ZM246.7,591.5 246.7,592.5 248.0,592.5 248.0,592.0 247.2,591.2ZM199.6,590.5 198.8,590.7 198.8,592.0 199.3,592.3 199.8,591.5ZM188.2,589.7 189.3,590.5 189.3,590.0ZM244.9,589.4 244.4,590.2 244.9,591.2 245.4,591.2 245.7,590.0 245.4,589.4ZM248.0,588.4 247.8,588.9 248.5,589.2 248.8,588.4ZM156.8,586.6 155.3,587.4 155.5,588.1 156.3,588.1ZM167.9,585.8 167.9,586.3 168.7,586.6 169.2,587.6 170.7,587.4 171.2,586.9 169.9,586.9 169.2,585.6ZM190.8,584.3 190.3,584.3 190.0,584.8 190.3,585.0ZM427.8,582.7 427.8,584.5 428.4,584.5 429.1,584.0 429.1,583.2ZM234.6,580.9 234.4,581.7 234.9,582.5 234.9,583.8 235.9,582.7 235.9,581.9ZM238.7,576.5 237.5,576.8 237.5,577.3 238.0,577.8 238.5,577.6ZM350.8,576.0 350.0,576.5 350.0,577.0 351.3,578.1 351.8,577.0ZM237.7,574.5 235.9,575.0 235.1,576.3 234.6,576.0 234.6,575.2 233.8,575.2 233.8,577.8 234.4,579.4 235.1,578.3 235.9,576.0 236.7,575.2 237.7,575.0ZM424.8,572.6 424.0,572.9 424.0,573.7 423.0,575.2 423.2,575.5 424.0,575.0 424.0,573.9 424.8,573.4ZM232.0,570.8 232.0,572.1 232.6,572.6 233.3,572.6 233.6,572.4ZM474.5,569.3 472.7,570.3 470.1,569.8 467.8,571.6 468.3,572.1 469.8,572.4 468.0,574.2 468.0,575.2 468.6,576.0 468.3,576.3 467.3,576.0 466.5,575.2 467.0,573.2 466.5,572.6 464.9,572.9 464.2,572.1 464.9,571.1 466.0,571.4 466.5,570.3 464.4,570.3 463.9,569.5 461.6,570.3 460.3,572.6 459.3,571.4 456.7,571.6 455.9,572.4 455.2,572.4 454.9,573.7 453.9,574.5 453.9,575.0 455.7,575.5 455.9,577.8 454.1,579.9 455.2,581.4 454.9,584.0 453.6,585.0 453.6,586.9 453.1,587.6 452.6,587.6 453.4,587.6 453.9,588.1 453.6,592.0 454.4,593.1 455.4,593.6 456.4,595.1 455.9,596.7 457.5,598.2 457.5,599.5 459.0,600.8 458.8,602.6 460.3,603.9 461.9,603.9 463.1,603.1 464.9,603.1 465.7,604.2 466.7,604.2 468.0,603.4 468.8,603.4 469.8,604.2 470.6,604.2 471.9,603.4 473.2,603.9 475.0,603.6 475.0,577.3 474.5,576.8 474.5,576.3 475.0,576.0 475.0,569.5ZM466.5,599.3 467.8,600.3 467.8,601.1 467.3,601.6 466.2,601.1 466.0,599.8ZM465.5,598.2 465.7,598.0 466.2,598.7 466.0,599.0ZM459.5,594.6 460.3,595.9 459.3,596.7 459.3,598.0 458.8,598.2 458.2,597.7 458.2,596.9ZM462.9,591.0 463.4,590.5 463.9,590.7 463.7,591.5ZM466.0,588.7 467.0,588.1 467.8,589.4 469.1,588.7 469.8,588.7 470.1,589.2 469.1,590.7 468.3,590.7 467.5,590.0 467.0,590.0ZM457.2,581.4 457.5,582.7 457.0,583.2 456.4,582.2ZM463.9,578.8 464.2,579.6 463.1,580.1 462.9,579.6ZM470.4,577.8 471.1,577.6 471.9,578.8 471.1,579.1ZM464.4,575.7 464.7,575.5 466.0,576.3 467.5,578.1 466.0,579.1 464.4,577.3ZM131.8,569.0 130.8,568.8 130.0,570.1 130.8,569.3ZM206.5,568.0 206.3,568.8 207.8,571.1 208.1,572.4 208.6,572.6 209.4,571.9 209.4,571.1 208.6,570.6 209.1,568.8 208.3,568.0ZM141.4,567.2 141.4,567.7 142.1,568.5 142.6,568.5ZM96.8,571.6 97.3,572.1 98.8,572.4 97.0,574.2 97.0,575.2 97.6,576.0 96.8,576.3 96.0,575.7 96.0,577.6 96.5,578.1 96.0,578.6 96.0,588.1 96.8,589.4 98.1,588.7 98.8,588.7 99.1,589.2 98.1,590.7 97.3,590.7 96.5,590.0 96.0,590.0 96.0,599.5 96.8,600.3 96.8,601.1 96.0,601.8 96.0,603.9 97.0,603.4 97.8,603.4 98.8,604.2 99.6,604.2 100.9,603.4 103.0,603.9 104.5,603.6 105.3,602.6 106.1,602.6 106.8,603.6 106.8,604.4 107.6,605.2 107.6,608.3 108.9,609.3 109.9,609.6 110.4,609.1 110.2,607.8 110.7,607.3 111.5,608.0 112.2,610.9 112.5,614.0 113.0,616.0 113.5,616.6 119.7,615.5 121.0,614.5 123.3,614.8 124.1,614.0 125.4,614.0 126.4,614.8 129.5,614.8 130.5,614.0 132.3,614.8 133.4,613.5 134.4,614.0 136.7,614.0 138.3,613.2 139.0,614.0 139.5,614.0 139.5,610.4 139.3,609.6 138.3,608.8 138.3,608.3 139.5,608.0 139.3,606.7 140.3,606.0 140.3,604.9 138.8,603.4 139.3,602.6 139.3,601.3 137.5,599.5 137.5,598.5 139.3,597.2 138.0,596.2 139.8,594.1 141.6,594.3 142.9,592.8 143.9,592.3 144.2,591.2 147.0,592.3 147.5,591.8 147.3,590.5 149.9,588.7 149.9,587.6 151.1,585.6 150.4,583.8 152.2,582.5 152.2,581.7 151.7,581.7 151.1,580.7 152.9,578.8 153.7,576.8 153.7,575.7 152.2,575.0 151.7,573.4 149.3,574.2 146.2,571.6 144.4,571.6 142.9,570.6 141.9,570.6 141.4,571.4 140.8,571.4 140.3,570.1 139.0,570.8 137.2,569.5 135.7,569.5 134.9,570.3 134.4,570.3 133.6,569.3 133.1,570.1 131.3,570.6 130.0,571.6 129.0,571.6 128.5,571.1 128.2,569.5 127.4,570.3 125.6,570.6 124.9,570.1 124.3,568.3 122.8,568.3 118.9,567.2 116.4,568.0 114.6,566.7 113.8,567.2 113.0,568.8 109.7,568.8 108.9,569.3 106.6,569.0 104.8,569.8 103.0,569.3 101.7,570.3 99.1,569.8ZM121.0,610.9 121.5,610.6 121.8,611.1 121.3,611.4ZM128.0,607.0 128.2,607.8 127.7,608.3 126.9,608.3 126.9,607.5ZM131.3,605.5 131.8,605.7 131.8,607.5 131.3,607.3ZM113.5,606.7 114.3,605.2 115.1,605.2 115.3,605.7 117.1,605.2 117.9,606.0 117.9,606.5 116.6,607.5 114.8,607.5ZM131.0,601.8 131.6,601.6 131.8,602.1 131.3,602.4ZM110.7,599.5 112.0,598.0 113.8,599.3 113.3,599.8 112.5,599.5 111.5,600.3ZM133.6,593.8 134.1,593.6 134.4,594.3 133.9,594.6ZM145.5,591.0 146.0,590.5 146.8,590.7 146.2,591.5ZM109.9,589.7 110.2,588.9 110.7,589.4 110.2,590.0ZM126.9,589.2 127.7,588.9 128.7,589.4 129.8,588.1 130.8,588.1 132.6,589.7 132.1,590.2 130.0,590.0 129.5,590.5 127.7,591.0 126.9,590.0ZM130.5,586.9 131.6,586.6 132.1,587.4 131.3,587.6ZM125.6,586.6 126.9,586.9 126.4,588.4 125.9,588.4 125.1,587.6ZM119.5,585.8 120.0,585.3 120.7,585.6 121.5,586.6 120.0,587.1ZM115.3,582.7 116.1,583.5 115.6,584.3 114.6,584.3 114.3,583.5ZM116.1,580.7 117.1,581.2 116.4,582.7 115.6,581.9 115.6,581.2ZM104.5,581.4 105.5,579.6 106.1,579.6 106.8,580.7 106.6,581.4ZM99.4,577.8 100.1,577.6 100.9,578.8 100.1,579.1ZM103.7,576.0 104.8,577.6 104.5,578.1 103.5,576.8ZM144.2,576.3 145.0,575.7 145.7,576.8 144.7,577.0ZM126.2,575.0 126.7,574.7 127.4,576.0 126.4,576.5 125.9,576.0ZM108.9,575.5 109.4,574.7 110.4,575.0 109.4,576.0ZM146.0,573.7 146.5,573.4 147.0,574.2 146.2,574.7ZM123.1,569.0 123.6,569.3 123.3,570.3 122.5,570.1ZM237.2,565.7 236.2,565.9 236.2,566.7 235.4,567.7 236.2,567.0 237.7,567.5ZM232.0,565.7 233.1,566.2 234.4,565.7 234.4,565.2 233.8,564.6 233.1,564.6ZM210.4,564.4 209.6,564.9 209.9,565.4 210.7,564.9ZM460.8,561.8 460.3,562.3 460.6,563.1 461.3,562.8ZM259.3,560.2 258.6,560.5 258.6,561.8 259.6,561.3ZM231.5,559.5 231.5,560.0 232.0,560.2 232.3,559.7ZM461.1,559.5 461.6,560.5 463.1,560.0 461.9,559.2ZM227.7,557.4 227.4,557.9 228.2,558.2 228.2,557.4ZM253.9,556.4 252.4,557.4 252.1,558.7 253.7,557.9ZM112.2,549.1 113.0,549.9 113.8,549.7 113.3,549.1ZM193.4,549.1 193.7,549.9 192.9,550.9 192.9,551.7 193.4,552.8 193.4,554.0 194.4,555.3 194.4,556.6 195.2,557.9 194.9,559.2 196.0,560.8 196.7,560.8 198.0,559.0 200.6,560.2 202.2,559.0 203.2,559.7 207.3,559.2 207.8,558.7 207.6,558.2 205.2,558.7 204.2,557.7 205.2,556.9 205.0,555.9 205.5,555.3 206.5,555.9 206.5,556.9 207.3,557.7 207.8,556.4 208.6,555.9 209.9,557.4 209.1,558.2 209.1,558.7 210.1,559.5 210.9,559.5 211.4,558.7 212.5,559.2 213.7,559.2 214.5,558.2 214.5,557.4 213.7,556.9 213.5,556.1 215.0,554.3 213.0,553.3 213.0,551.5 211.7,549.1 210.1,549.7 209.1,548.9 207.6,548.9 206.5,549.7 204.5,549.9 202.7,549.1 201.9,549.7 200.9,549.7 200.4,549.1 198.8,549.1 197.5,549.7 196.7,548.6 195.2,548.1 194.7,549.1ZM210.7,556.9 211.4,556.6 211.7,557.4 211.2,557.9ZM198.3,556.9 198.8,556.1 199.3,556.1 200.1,557.1 198.8,557.9ZM200.4,552.8 200.9,552.2 201.4,552.8ZM207.0,550.7 207.0,551.7 206.3,552.0 206.0,551.5ZM232.8,547.1 232.6,547.8 233.6,548.1 233.8,547.3ZM194.4,546.0 194.4,546.8 194.9,547.1 195.2,546.0ZM244.4,542.9 244.4,544.0 245.4,544.2 245.4,543.5ZM255.5,540.4 255.7,541.1 256.5,540.9 256.3,540.4ZM399.5,539.1 399.8,540.1 400.3,539.8ZM291.0,538.5 290.8,539.6 291.3,539.6ZM265.8,538.5 264.8,539.3 263.2,539.6 260.6,540.9 259.3,541.9 259.3,542.9 261.2,546.8 261.2,548.1 262.2,549.4 262.4,550.4 263.5,550.4 265.0,549.7 266.0,548.4 268.4,547.3 269.7,546.0 268.6,544.5 266.6,539.3ZM253.7,538.0 252.9,538.8 253.9,539.8 253.7,542.2 252.9,542.9 252.4,542.9 252.4,543.7 253.4,543.7 255.0,542.4 254.5,540.6 255.0,540.4 254.5,538.5ZM247.8,538.0 248.5,539.1 249.3,538.8 249.3,538.3ZM442.5,537.3 442.0,537.3 441.0,538.3 441.0,539.1 442.3,538.5ZM248.5,536.0 247.8,536.5 248.0,537.0 248.5,536.7ZM212.2,536.5 212.7,538.5 214.0,539.1 214.8,539.8 214.8,540.4 215.8,541.1 218.1,539.8 218.9,540.4 218.9,541.4 218.1,542.2 218.6,542.9 218.6,545.0 219.2,546.8 222.8,547.3 224.6,546.3 224.6,544.7 225.1,544.2 225.9,544.2 226.6,546.3 227.9,547.8 228.9,546.8 230.0,547.1 230.8,546.0 233.8,545.8 235.1,545.0 236.7,544.7 237.2,544.0 237.7,544.0 238.0,547.6 238.5,548.4 238.2,550.4 238.7,552.5 242.9,554.0 243.6,553.5 243.6,552.2 244.9,548.4 245.2,546.3 243.9,545.3 242.1,545.0 239.0,542.9 237.7,542.9 236.2,539.8 232.6,536.2 231.0,535.7 230.8,536.2 229.5,535.7 227.1,535.7 225.6,536.5 223.5,536.2 222.5,536.7 221.0,535.7 218.9,537.8 217.9,536.7 216.8,537.3 216.1,536.5 214.5,537.0 213.5,536.2ZM221.2,542.7 222.0,542.4 222.5,543.5 222.0,544.0 221.2,543.2ZM228.4,540.6 229.2,541.4 228.9,542.2 228.2,541.9ZM222.5,539.8 223.5,540.4 223.5,541.9 222.8,541.9 222.2,541.4 222.0,540.4ZM215.0,539.1 215.6,538.3 216.3,538.3 216.8,538.8 216.1,539.3ZM228.2,536.2 229.5,538.3 228.7,538.8 227.4,537.5 227.4,537.0ZM388.2,535.7 387.1,535.4 386.6,537.0 388.2,536.5ZM264.5,535.2 263.2,535.7 263.5,536.7 264.8,536.0ZM190.0,530.3 189.0,530.5 188.8,531.1 189.8,531.3ZM116.4,537.8 116.4,540.6 115.8,541.1 116.4,542.9 115.8,544.0 115.8,546.0 115.3,546.6 115.3,548.9 114.3,549.7 114.6,553.3 115.1,553.0 114.8,551.5 115.3,551.2 115.3,550.2 115.8,549.9 116.4,550.4 115.8,551.7 116.9,552.8 117.6,552.0 117.6,551.2 118.9,550.7 121.8,551.5 124.1,553.0 123.3,551.2 124.3,550.7 126.4,553.8 131.6,552.0 133.6,550.2 134.4,550.2 135.2,551.2 135.7,550.9 136.5,549.7 135.7,548.6 137.5,546.8 141.9,548.4 142.6,549.4 143.9,550.2 144.2,551.5 143.7,552.0 145.2,551.5 145.5,550.7 146.2,550.2 146.8,551.5 145.7,552.2 146.0,552.5 145.5,553.5 146.0,553.5 146.8,552.5 146.8,551.7 147.5,551.5 149.3,554.3 148.6,556.1 151.1,559.0 150.6,560.0 151.1,560.8 150.9,562.3 151.9,563.6 152.2,564.9 153.2,565.2 154.0,565.9 153.7,569.0 154.5,570.6 154.5,572.4 157.1,574.2 156.6,576.8 157.8,577.8 158.9,577.6 160.2,579.1 161.4,579.9 163.0,579.9 164.5,582.2 168.4,582.5 168.7,581.9 169.2,583.0 170.5,583.8 170.2,585.0 170.7,584.8 171.0,583.8 174.8,582.7 175.9,581.9 176.4,580.9 176.4,578.1 177.2,576.5 176.9,575.7 174.3,574.7 173.6,573.2 174.8,572.4 174.8,571.6 173.6,571.4 173.6,568.8 172.8,567.0 169.7,564.4 169.9,563.3 170.7,563.3 171.2,563.9 171.8,563.6 171.2,560.8 172.0,560.2 172.8,561.8 173.3,561.8 173.8,560.0 175.1,559.0 174.8,557.7 175.9,557.4 177.7,560.0 177.7,561.5 178.2,562.1 184.6,562.1 186.7,561.5 191.3,561.3 191.3,559.0 190.8,557.1 188.0,555.9 188.0,555.3 189.0,554.3 188.2,553.0 189.0,551.7 188.0,550.7 188.0,550.2 189.3,548.1 191.3,548.4 191.8,547.8 190.6,546.3 189.3,546.0 188.5,545.3 189.0,544.2 190.0,543.7 191.3,543.7 190.6,542.2 190.6,541.4 191.3,540.6 191.3,540.1 190.8,539.6 190.6,538.0 190.8,536.7 189.5,536.5 187.7,534.4 188.5,533.6 188.2,532.1 187.5,531.3 185.1,531.6 184.6,531.1 183.9,531.1 183.1,532.1 181.5,531.3 180.3,532.1 177.2,532.6 174.8,532.1 173.8,533.1 172.5,532.1 170.7,533.1 168.7,532.9 167.9,533.4 167.4,532.9 167.6,531.8 165.8,531.1 165.1,529.5 164.0,530.0 161.7,529.5 160.4,530.5 159.9,530.5 159.6,530.0 157.1,530.0 155.8,530.5 154.7,530.3 154.0,530.8 151.4,530.0 150.1,531.1 149.3,531.1 148.8,530.5 147.0,531.3 143.2,530.8 141.6,531.6 137.7,531.8 137.5,533.6 137.0,534.2 137.2,535.7 136.7,536.5 136.7,537.8 137.7,539.6 137.2,540.4 135.7,540.1 135.2,539.1 135.4,536.7 134.1,535.4 132.8,535.7 132.3,536.2 132.3,537.3 131.3,538.3 130.5,537.8 131.6,536.0 131.0,535.4 129.0,536.0 127.2,535.7 125.9,536.5 123.1,536.5 121.8,537.3 121.8,538.3 120.7,538.3 118.4,536.5 117.9,536.5ZM167.6,574.2 168.1,573.7 169.7,573.7 170.2,575.2 168.4,575.5ZM169.9,572.6 170.7,571.9 171.8,571.9 173.3,573.2 172.3,574.2 171.5,573.4 170.5,573.4ZM164.3,570.6 164.5,570.1 165.3,570.1 165.8,569.3 166.9,569.3 167.6,568.0 171.2,568.0 171.8,568.8 171.8,569.8 171.2,570.3 170.2,569.8 169.7,570.3 168.9,570.1 167.1,571.4 165.6,570.6ZM164.5,565.9 165.6,566.4 165.6,567.2 164.8,568.0 163.8,567.2 163.8,566.7ZM166.6,565.4 168.4,565.4 168.9,566.7 167.9,567.7 167.4,567.7 166.3,565.7ZM165.8,557.1 166.6,557.9 166.3,558.7 165.3,557.9ZM152.7,555.3 153.5,555.9 153.2,556.9 152.2,556.6 152.2,555.9ZM173.8,555.3 174.3,554.8 175.1,555.1 174.6,556.1ZM157.8,550.2 158.4,550.7 158.1,551.5 157.6,550.9ZM167.4,549.4 167.9,549.4 168.7,550.4 168.4,552.0 168.9,553.5 168.1,554.3 167.4,554.0 167.6,553.0 166.9,550.9 166.9,549.9ZM161.2,548.6 161.2,549.9 160.7,549.4ZM157.8,548.1 158.6,548.4 158.4,549.7 157.3,548.9ZM144.2,547.8 145.0,547.6 146.2,548.4 147.8,547.8 148.0,548.4 146.0,549.4 145.2,549.1ZM167.1,546.8 168.1,546.6 168.4,547.3 167.6,547.6ZM166.1,546.3 166.6,547.1 165.1,548.6 165.1,546.8ZM159.9,545.0 160.9,545.5 160.9,546.3 160.4,546.8 159.9,546.8 159.1,546.0ZM164.5,544.2 166.1,544.2 166.9,545.0 165.3,545.3ZM137.7,543.7 138.5,544.7 137.7,546.0 137.0,546.0 136.7,544.7ZM167.4,542.9 167.9,542.7 168.4,543.5 167.9,543.7ZM185.7,541.6 185.9,542.7 185.1,543.5 184.4,543.5 184.1,542.4ZM178.7,540.1 179.2,541.1 178.5,541.6 177.9,540.9ZM180.8,540.1 181.3,539.6 181.8,539.8 181.5,540.4ZM172.3,538.5 173.0,539.1 172.5,540.1 172.8,541.1 174.1,541.1 174.6,542.9 180.3,542.9 182.1,543.2 182.8,544.0 183.1,547.8 184.4,549.4 184.4,549.9 183.1,551.2 183.3,551.7 181.5,553.0 180.5,552.5 180.3,553.3 179.2,554.0 177.4,553.5 177.2,555.3 176.6,555.3 175.6,553.8 174.1,553.8 172.8,554.8 171.5,555.1 170.2,554.0 170.2,553.3 169.4,552.8 170.5,551.7 170.5,550.7 169.7,549.7 169.7,544.2 171.8,544.0 173.0,543.2 173.0,542.2 172.0,541.1 170.7,540.9 170.2,539.8ZM169.7,537.8 170.2,537.3 171.2,537.3 171.5,538.3 170.2,538.8ZM141.9,536.5 142.9,538.5 142.6,539.8 141.1,539.6 141.6,538.0 140.8,537.3ZM138.3,536.0 138.8,535.7 139.3,536.7 138.5,537.0ZM169.2,535.2 168.9,536.0 167.9,536.7 165.8,535.7 165.8,534.9 166.3,534.4 167.6,534.9 168.4,534.2ZM181.0,534.7 181.5,533.6 182.8,533.9 182.8,534.4 182.1,535.2ZM173.8,533.6 174.3,534.7 172.8,536.0 172.0,536.0 171.8,535.2 172.8,534.9ZM164.8,542.2 163.5,543.2 160.7,543.2 158.9,544.5 156.6,543.7 156.0,544.7 155.5,544.2 153.2,544.7 152.9,545.5 153.5,546.8 152.2,547.1 149.1,544.7 147.5,544.7 146.5,545.5 145.7,545.5 145.0,543.7 145.0,542.9 145.7,542.2 145.7,541.6 143.9,541.6 143.2,540.9 143.2,540.4 145.0,538.8 145.0,536.0 150.6,536.0 151.9,537.3 152.4,536.2 151.7,534.7 153.2,534.7 155.0,533.4 156.0,533.1 156.3,533.9 155.8,534.9 156.8,536.2 157.8,536.2 158.9,535.4 159.9,535.4 160.7,534.9 161.4,535.2 162.2,537.0 162.2,538.0 163.3,539.1 163.3,540.1ZM164.0,532.9 164.5,532.3 165.3,533.1 164.3,533.4ZM147.3,532.1 148.0,531.8 148.8,532.6 148.8,533.4 148.0,533.6ZM157.6,531.3 158.1,531.6 157.8,532.6 157.1,532.1ZM457.2,526.9 456.2,527.4 456.7,528.2 457.5,528.2ZM239.5,526.4 242.3,530.5 243.9,531.1 245.2,530.3 246.0,530.3 246.5,530.8 246.7,532.1 247.5,531.1 249.8,530.8 250.3,529.8 251.9,529.0 252.7,530.8 253.7,530.8 255.0,531.8 256.3,530.8 256.5,530.0 257.8,530.0 258.8,530.8 260.1,530.5 260.6,531.1 260.6,531.8 261.9,531.1 263.5,531.1 264.5,532.1 266.3,532.1 267.3,531.6 268.1,532.1 271.2,532.1 272.2,532.6 274.3,531.3 274.0,529.0 275.3,528.5 275.3,528.0 274.3,528.0 273.8,528.5 272.0,528.2 271.5,528.7 270.9,528.2 271.2,526.1 270.7,526.1 268.6,528.0 267.9,528.0 266.6,526.9 265.8,526.9 265.0,527.7 264.5,527.7 263.2,526.7 263.0,525.9 261.7,525.9 261.2,526.9 259.9,527.4 257.8,526.9 257.8,527.7 257.0,528.5 255.7,527.7 254.5,529.0 253.2,527.2 252.4,527.2 251.1,526.1 249.8,526.7 247.5,525.9 246.2,526.1 244.4,525.4 243.6,525.4 243.1,525.9 240.3,525.4ZM242.9,527.2 244.1,526.1 244.9,526.7 244.4,527.7 243.4,527.7ZM278.4,530.5 278.7,531.8 281.0,532.1 281.5,534.4 283.1,536.0 286.1,535.4 286.9,536.2 288.7,536.0 289.8,536.7 291.3,536.7 292.3,536.0 293.9,536.0 295.2,537.0 297.5,537.0 298.0,536.2 298.5,536.2 299.5,537.5 300.6,537.3 302.9,538.0 307.3,537.5 308.3,538.5 309.8,538.3 310.6,539.1 310.6,539.6 312.4,538.8 314.2,539.1 315.5,540.4 316.0,540.4 317.3,539.3 318.1,540.4 318.1,542.4 318.9,541.9 320.4,542.2 320.9,540.9 322.0,540.4 323.8,541.1 324.5,542.2 327.1,541.4 330.5,542.4 331.0,542.2 331.0,540.4 331.7,540.9 333.0,540.9 334.1,539.1 334.6,539.1 336.1,541.1 335.4,542.2 334.3,541.4 333.8,541.6 335.1,543.7 336.6,542.9 338.7,543.7 342.6,544.0 343.6,542.7 343.3,541.6 344.6,541.4 345.1,541.9 345.4,543.2 346.4,544.0 346.4,544.7 345.9,545.3 344.1,545.8 343.1,547.1 343.1,551.7 344.4,552.8 344.4,554.0 345.7,555.3 345.7,556.4 346.7,555.9 347.7,556.1 346.4,557.9 346.7,559.2 345.9,560.2 346.7,563.9 348.5,564.9 349.3,565.7 349.3,566.4 350.0,565.9 351.3,567.0 351.6,568.0 350.8,569.3 351.3,570.6 350.6,571.4 350.8,573.7 351.8,573.9 353.4,575.7 354.7,575.2 356.5,572.9 358.0,572.9 358.8,573.4 360.9,572.9 362.1,571.9 362.1,571.1 362.7,570.6 362.9,572.1 363.7,572.4 364.0,571.1 365.2,570.1 367.0,570.6 367.6,571.9 368.6,571.9 369.6,571.1 369.9,570.1 372.2,570.6 373.5,571.6 374.8,571.6 375.3,572.1 376.8,572.1 378.1,571.6 380.4,571.9 382.5,570.8 385.3,570.8 386.6,571.6 388.2,571.1 388.7,570.6 388.7,569.5 387.1,568.8 382.8,568.8 381.5,569.3 378.9,569.3 378.4,568.5 377.3,568.0 377.3,566.7 375.3,565.2 375.3,563.9 374.3,562.1 372.5,561.8 372.5,563.6 369.9,563.3 369.6,562.8 370.1,562.3 370.1,561.5 371.2,560.5 372.7,560.5 373.5,559.2 374.0,559.2 374.8,560.0 375.5,560.0 375.8,559.0 377.6,559.7 379.4,559.0 381.0,559.5 381.5,558.7 382.0,558.7 382.8,559.2 387.1,559.7 388.9,558.7 389.5,559.2 389.2,560.2 390.0,560.5 390.0,562.8 390.5,563.6 390.5,564.6 389.5,565.4 389.5,566.7 390.5,567.0 391.0,568.0 392.5,568.0 393.8,568.5 393.3,567.7 392.3,567.2 392.3,565.9 392.8,565.4 394.1,565.7 394.9,564.6 393.3,563.1 392.0,563.6 391.3,562.8 391.3,562.1 392.5,560.5 393.3,561.5 394.9,562.1 395.9,563.1 395.9,563.6 398.0,562.8 397.7,560.8 398.2,560.2 399.5,560.8 399.8,560.2 401.8,560.0 402.6,559.2 404.9,559.5 407.5,556.9 409.3,557.7 410.1,556.6 409.0,553.8 409.3,549.4 408.3,548.1 407.7,548.1 407.0,547.3 404.9,547.3 403.9,546.3 402.1,546.8 400.5,546.0 399.8,546.3 395.9,545.0 395.6,546.3 393.3,548.1 393.6,549.4 393.1,549.9 392.8,551.2 392.3,551.2 391.5,550.2 388.2,548.4 387.1,548.9 386.1,548.4 383.8,548.6 382.2,549.7 381.2,549.4 379.9,549.9 377.3,547.8 377.3,546.8 376.3,545.8 375.0,546.8 374.3,546.0 374.8,545.3 375.5,545.3 376.1,544.7 375.5,541.6 376.3,540.1 374.5,538.3 376.3,537.8 376.8,537.3 376.1,536.7 374.8,536.7 374.0,537.8 371.7,536.2 367.6,537.0 367.0,536.5 367.8,535.4 367.6,534.9 366.5,535.2 366.5,536.2 366.0,536.7 364.5,536.7 363.4,535.2 361.4,536.5 359.6,535.7 357.8,534.2 356.5,534.7 352.9,534.2 352.1,536.0 351.1,535.2 345.7,535.7 342.8,533.1 340.8,532.1 339.5,532.3 338.7,531.1 337.9,531.3 338.2,533.1 337.7,533.6 336.1,533.6 335.6,532.1 333.0,528.2 333.0,527.4 332.3,527.4 331.2,528.5 330.7,528.5 329.9,527.4 327.4,527.2 327.1,528.7 325.3,529.0 326.1,529.5 325.8,531.3 324.8,532.1 323.5,531.1 324.8,529.2 323.5,528.0 322.7,529.8 323.2,530.5 321.7,531.1 320.7,531.1 320.2,530.5 320.2,529.8 320.7,529.2 320.4,528.7 318.6,529.2 317.8,527.7 316.5,527.7 316.0,529.0 312.2,528.2 309.3,528.2 309.1,530.0 308.6,530.5 308.0,530.5 307.5,530.0 307.5,529.0 306.8,528.7 304.2,529.5 301.1,529.2 300.3,530.0 298.5,528.2 297.7,528.2 296.7,529.0 295.4,529.0 294.6,530.0 292.6,530.0 291.8,530.5 290.8,530.5 290.3,529.8 291.8,528.7 292.3,527.2 291.6,526.9 289.8,528.5 289.0,527.4 287.2,527.4 286.4,526.7 286.7,525.4 285.9,525.1 285.6,526.4 285.1,526.9 282.5,527.2 281.2,528.2 279.4,528.0 278.9,528.5 279.2,529.8ZM353.6,571.4 354.4,570.6 355.2,570.6 356.0,571.6 355.4,572.1 354.7,572.1ZM352.9,568.3 353.4,568.5 353.4,569.5 352.4,569.8 352.1,569.0ZM354.2,565.9 354.4,567.0 353.9,567.2 353.6,567.0ZM373.2,564.9 374.0,565.7 374.0,566.7 373.5,567.2 372.7,567.0 372.7,565.4ZM357.0,564.1 357.5,563.6 358.0,563.9 357.8,564.6 357.3,564.6ZM361.6,563.1 363.2,562.3 364.0,563.1 365.2,562.6 366.0,563.6 364.5,564.1 363.4,565.2 362.4,565.2ZM396.2,559.7 396.7,559.0 397.7,559.5 396.7,560.2ZM352.6,559.0 353.1,557.9 353.6,557.9 354.7,559.0 353.9,559.7 353.1,559.7ZM398.5,556.6 399.8,556.1 400.5,556.9 400.5,557.4 399.2,557.7 398.5,557.1ZM356.7,555.6 357.5,555.6 358.0,556.9 358.8,557.4 359.3,560.2 358.8,561.0 358.0,560.8 357.3,557.1 356.2,556.9ZM381.0,555.3 383.0,555.1 383.8,555.9 383.8,556.4 382.8,557.4 382.0,557.4ZM377.3,555.1 378.1,554.3 378.9,554.6 378.4,555.3ZM395.1,553.8 396.2,554.6 396.2,555.6 397.7,556.1 398.2,556.9 397.4,557.7 396.9,557.7 396.2,556.6 395.6,556.6 395.6,557.9 394.1,559.5 394.6,560.5 393.6,561.0 393.1,560.2 393.3,558.4 392.8,557.1 394.4,555.3 394.4,554.3ZM361.1,551.2 361.6,550.9 361.9,551.5 361.4,551.7ZM357.3,550.7 357.8,550.2 358.3,550.9 357.5,551.2ZM362.4,549.1 362.9,548.9 363.7,549.9 362.9,550.2ZM375.5,547.1 376.1,547.8 376.8,548.1 376.8,550.4 374.0,550.7 373.7,550.2ZM362.7,544.7 363.7,545.3 363.7,546.6 363.2,547.1 361.9,546.8ZM340.8,542.9 341.3,542.7 341.5,543.2 341.0,543.5ZM341.5,541.1 342.1,540.6 342.8,540.6 343.3,541.4 341.8,541.6ZM344.1,540.4 344.6,539.8 345.4,540.1 344.9,540.9ZM339.0,539.6 340.0,540.9 339.7,541.9 338.7,541.4ZM358.0,538.8 359.1,539.6 358.5,540.6 357.8,539.8ZM314.0,538.5 314.5,538.0 315.3,538.8 314.2,539.1ZM360.3,537.5 361.1,537.8 361.1,539.1 360.6,539.6 359.6,539.1ZM346.7,537.0 347.5,536.7 348.8,537.8 348.0,538.0ZM337.4,536.5 337.9,536.0 338.4,536.2 338.2,537.0 337.7,537.0ZM300.8,531.3 301.6,531.1 302.4,532.6 301.6,533.1 300.8,532.3ZM303.4,532.3 303.4,531.3 304.2,530.5 305.0,530.5 307.0,531.8 305.0,532.9 303.9,532.9ZM310.4,530.8 310.9,530.3 311.9,530.3 312.4,531.3 311.4,531.8 310.6,531.6ZM315.0,529.5 315.3,529.2 316.8,530.3 317.6,529.5 318.1,529.5 319.1,530.8 317.1,531.8 315.8,531.8 315.0,531.3ZM283.8,530.0 284.3,529.2 285.4,530.0 284.9,530.5ZM280.2,529.5 280.7,529.0 281.2,529.8 280.5,530.0ZM466.2,522.8 465.2,523.3 464.7,524.6 466.0,524.9 466.7,525.9 468.0,524.9 466.5,524.3ZM289.2,522.8 290.3,524.6 292.3,525.1 292.3,522.8 291.3,522.8 290.5,522.3 289.8,522.3ZM189.8,526.1 190.0,527.2 191.8,527.2 192.9,526.1 193.9,527.7 195.7,527.7 196.5,528.2 198.0,527.7 198.5,528.7 199.6,529.2 199.8,530.5 200.6,529.0 202.2,528.2 203.2,528.2 204.0,529.0 203.7,529.5 205.0,530.0 206.3,529.5 207.0,528.0 207.8,528.7 209.1,528.7 210.1,527.7 211.4,527.7 213.2,529.5 215.3,529.2 216.3,529.8 217.6,528.0 219.9,528.2 220.7,527.4 221.2,527.4 221.7,529.0 223.3,529.2 224.6,530.3 228.9,530.3 230.2,529.5 232.8,530.5 233.8,530.5 234.6,530.0 237.2,530.3 239.0,529.0 238.0,528.5 236.9,529.0 235.6,527.7 236.2,526.9 237.7,526.4 237.5,525.6 235.9,525.6 233.3,524.6 231.3,525.1 229.7,524.1 230.0,522.5 228.4,524.1 228.7,524.9 230.0,525.1 230.0,525.6 229.2,526.1 228.7,525.6 225.1,524.6 223.8,523.8 222.2,524.9 221.0,524.9 220.2,524.1 218.4,524.9 217.6,523.3 211.2,523.3 209.4,524.3 207.8,524.3 207.0,523.3 202.9,523.8 201.1,522.5 199.8,523.3 197.0,522.8 196.0,523.8 194.9,522.3 194.2,522.3 192.9,523.3 191.3,523.8ZM200.9,527.2 201.1,528.0 200.4,528.7 199.8,528.7 199.6,528.2ZM221.0,526.4 221.5,526.1 221.7,526.9 221.2,527.2ZM191.3,522.8 190.6,522.3 189.5,523.3 190.6,523.6 191.3,523.3ZM455.2,522.0 455.2,522.5 457.0,522.5 456.4,521.5 455.7,521.5ZM309.8,521.2 309.6,521.8 310.6,523.0 311.4,523.0 311.4,521.8ZM216.6,521.0 217.9,522.5 217.9,521.2ZM271.2,520.7 270.9,521.5 272.0,522.0 272.0,521.2ZM294.9,519.4 292.6,520.2 292.6,520.7 293.1,521.2 294.4,521.5 294.4,519.9ZM301.3,519.7 301.3,520.5 302.9,520.2 304.4,522.0 305.2,521.8 304.7,521.0 303.1,520.2 302.6,519.2 301.9,519.2ZM205.0,518.7 205.0,519.4 205.5,519.4 205.8,518.9ZM468.0,517.4 467.5,518.9 468.6,519.4 469.3,518.4 468.8,517.4ZM383.5,516.6 383.3,517.1 384.3,518.4 384.3,516.8ZM291.8,516.6 291.3,516.6 290.8,517.6 291.6,517.6ZM464.9,516.3 463.7,517.1 464.9,517.4ZM222.8,516.6 223.3,517.6 224.1,517.4 223.8,516.3ZM447.2,515.6 447.2,516.1 449.0,516.1ZM383.5,515.6 383.0,515.3 382.0,515.8 383.0,516.1ZM474.0,515.0 473.4,515.3 472.9,516.8 472.2,517.6 470.9,517.4 470.4,517.9 470.9,520.2 471.6,521.0 471.1,522.5 471.4,523.3 473.7,523.6 474.5,522.8 475.0,522.8 475.0,517.4 474.2,516.8ZM428.1,515.0 427.6,515.6 427.6,516.3 429.1,517.9 429.9,517.9 429.9,516.3 429.1,516.8 428.9,515.0ZM261.4,515.0 260.9,515.8 261.9,516.1 262.4,515.3ZM413.7,514.8 413.7,516.1 414.4,515.8 415.2,516.8 417.0,516.6 418.1,515.8 417.0,515.0 414.7,515.8 414.2,514.8ZM469.3,514.5 468.6,514.8 468.0,516.3 469.1,516.1ZM421.4,514.5 420.4,515.6 420.4,516.1 421.4,515.8ZM99.4,517.9 99.9,520.2 100.6,521.0 100.1,522.5 100.4,523.3 102.7,523.6 103.7,522.8 105.0,523.6 105.8,523.6 106.6,524.6 110.2,523.0 112.2,523.0 113.0,522.3 113.5,522.8 114.6,522.8 115.6,522.0 116.4,522.5 117.4,522.5 118.4,521.2 119.5,520.7 120.2,521.0 120.2,522.5 121.5,522.5 122.5,523.8 124.3,523.8 126.2,523.0 128.7,523.3 129.8,522.8 132.1,522.8 133.1,523.6 134.1,523.6 134.9,523.0 136.2,523.6 137.7,523.6 139.3,522.5 143.2,522.5 145.2,523.6 151.1,523.0 151.9,523.6 155.3,523.3 156.3,524.1 157.3,523.8 158.6,524.3 159.9,522.8 161.7,522.8 162.5,523.6 164.0,523.0 164.8,524.1 166.6,523.0 167.9,523.6 168.4,522.5 168.9,522.5 169.9,523.6 171.0,523.6 172.0,522.0 173.0,523.6 174.8,524.1 175.6,524.9 177.4,524.1 180.0,525.4 180.0,523.6 182.6,523.8 183.9,523.0 184.4,523.6 187.0,523.6 188.8,522.8 187.7,521.2 188.8,520.2 188.0,519.4 188.0,517.1 185.4,517.6 185.1,518.1 183.9,518.1 182.3,515.8 181.0,517.6 175.4,517.6 173.8,516.8 171.8,517.6 169.9,517.6 167.1,518.9 165.8,518.1 163.8,518.4 162.7,517.4 162.0,517.4 161.4,517.9 158.1,517.4 156.8,518.1 154.5,518.1 154.5,519.7 153.7,520.7 153.2,520.5 153.5,518.9 151.4,517.6 148.3,517.6 147.3,518.7 146.0,518.7 145.5,518.1 143.9,517.9 143.4,518.1 143.2,519.7 142.6,519.7 141.4,518.1 138.3,518.1 136.2,518.9 135.2,517.6 132.8,518.4 132.3,517.6 129.2,517.6 128.2,518.1 126.9,517.4 126.4,518.9 124.3,518.1 123.1,518.7 121.5,518.1 119.2,518.7 116.6,516.6 115.3,517.1 114.6,518.1 113.3,518.1 112.2,517.6 111.2,518.4 110.2,518.1 108.4,516.8 106.8,517.1 106.1,516.3 106.8,514.3 105.5,514.5 105.5,516.1 104.5,517.4 103.7,517.4 103.2,516.8 103.0,515.0 102.4,515.3 101.9,516.8 101.2,517.6 99.9,517.4ZM166.9,522.0 167.4,521.5 167.9,522.3 167.4,522.5ZM129.2,520.5 130.0,521.2 129.8,522.5 129.2,522.5 128.5,521.8 128.5,521.2ZM158.1,520.2 158.4,519.4 159.1,519.7 158.6,520.5ZM470.4,514.0 470.6,514.8 471.4,514.8 471.4,514.0ZM99.4,514.0 99.6,514.8 100.4,514.8 100.4,514.0ZM164.3,513.7 164.0,514.5 164.8,514.5 164.8,513.7ZM386.9,513.5 385.9,516.3 387.7,516.6 388.2,516.1 388.2,515.3ZM133.1,513.2 132.6,514.3 133.1,514.3ZM449.2,513.0 449.2,513.5 449.7,513.7 450.0,513.0ZM444.8,513.0 444.1,513.7 444.3,514.5 445.1,513.7ZM158.1,513.0 157.3,513.5 157.6,514.3 158.4,513.5ZM320.9,522.0 322.5,520.5 322.7,519.2 325.6,518.9 326.1,518.4 327.9,518.9 329.7,518.1 332.0,518.7 332.8,518.1 336.4,518.4 337.7,517.9 338.4,518.9 341.3,518.9 342.6,518.1 345.4,518.9 346.4,518.4 347.2,517.4 347.5,518.1 348.8,518.9 350.8,518.7 353.6,519.4 356.0,518.1 356.0,517.6 355.2,517.1 355.2,516.3 356.2,515.6 357.0,516.1 357.0,517.4 357.8,518.1 358.5,517.9 359.3,518.4 359.6,517.9 359.1,517.1 360.9,516.8 361.9,517.4 362.4,518.1 364.2,517.9 365.0,519.4 365.5,519.4 367.3,518.1 368.8,518.4 369.4,517.9 370.1,517.9 370.9,517.1 370.6,515.6 371.2,514.8 370.6,514.0 369.6,513.5 368.3,513.5 368.3,514.3 367.8,514.8 367.3,513.5 365.8,513.0 364.2,513.0 363.4,513.5 360.9,513.0 358.0,513.5 353.9,513.5 351.8,513.0 351.3,513.5 347.7,513.2 343.9,513.7 342.6,513.5 341.5,512.7 339.2,512.7 338.2,513.7 337.2,513.7 335.6,513.2 332.5,513.5 331.7,512.7 331.2,512.7 330.5,513.5 326.3,512.7 325.6,513.5 322.0,513.5 321.4,514.0 320.9,515.3 320.9,517.6 321.7,519.4ZM321.7,515.8 322.7,515.3 323.5,516.3 322.7,516.8ZM470.6,511.9 472.2,513.0 472.9,513.0 473.4,512.5 472.9,511.9ZM99.6,511.9 101.2,513.0 101.9,513.0 102.4,512.5 101.9,511.9ZM297.0,511.4 296.4,512.2 297.5,512.5ZM106.3,511.2 107.1,513.0 107.6,513.0 107.9,512.2ZM470.4,506.0 470.4,510.4 470.9,510.6 471.1,506.0ZM443.6,506.0 443.8,510.6 444.8,510.9 445.6,511.7 446.9,511.4 447.4,511.9 447.4,512.7 447.9,512.7 448.5,511.2 449.7,510.1 449.7,506.0ZM407.7,506.0 407.7,512.7 409.8,511.7 410.8,512.5 411.6,512.5 412.1,513.2 415.5,513.5 414.7,513.5 413.7,512.7 412.4,513.0 411.9,512.5 411.9,510.6 409.8,510.9 409.3,510.4 409.3,506.0ZM404.9,506.0 404.9,510.1 406.2,510.4 406.2,506.0ZM379.9,506.0 379.9,510.1 380.7,510.6 381.0,506.0ZM374.0,506.0 374.3,510.6 377.3,510.6 377.9,510.1 377.9,506.0ZM370.6,506.0 370.6,510.6 371.2,511.7 372.2,511.7 373.2,510.4 373.2,506.0ZM363.7,506.0 363.7,510.1 364.2,510.1ZM358.0,506.0 358.0,510.1 359.3,510.1 360.6,511.2 361.6,510.1 361.6,506.0ZM353.9,506.0 353.6,510.1 356.0,510.4 356.2,506.0ZM319.1,506.0 319.1,510.6 319.6,511.2 319.9,506.0ZM307.3,506.0 307.3,511.2 307.8,511.2 308.3,510.6 308.0,506.0ZM304.4,506.0 304.4,510.4 305.2,511.2 305.2,506.0ZM302.4,506.0 302.1,510.1 302.6,510.4 302.9,510.1ZM294.4,506.0 294.4,510.6 295.2,511.2 295.2,506.0ZM280.7,506.0 280.7,510.4 282.8,510.4 283.1,506.0ZM269.4,506.0 269.4,510.4 270.4,510.9 270.9,510.1 270.9,506.0ZM238.7,506.0 238.7,510.1 241.1,510.6 241.3,506.0ZM236.9,506.0 236.9,510.1 237.5,510.1ZM229.7,506.0 229.7,510.4 230.2,510.4 230.2,506.0ZM227.4,506.0 227.4,510.6 227.9,510.6 227.9,506.0ZM215.0,506.0 214.8,511.2 215.6,511.9 216.3,511.9 216.8,511.4 215.6,510.1 215.6,506.0ZM187.5,506.0 187.7,510.4 191.1,510.4 193.1,511.7 194.7,511.4 196.5,513.0 196.7,514.8 197.8,514.3 198.0,512.2 198.5,511.7 200.9,512.5 201.9,512.5 202.4,511.7 202.4,506.0 201.1,506.0 201.1,510.1 200.6,510.6 199.6,510.1 199.8,506.0 195.7,506.0 195.5,510.9 194.4,510.1 194.4,506.0ZM163.3,506.0 163.3,510.1 163.8,511.4 167.1,511.4 167.4,506.0ZM155.0,506.0 155.0,510.4 156.0,511.2 156.8,511.2 157.6,511.9 158.6,511.4 159.4,511.7 160.2,513.5 160.7,514.0 161.7,514.0 161.7,511.7 160.9,510.9 161.2,506.0 158.6,506.0 158.4,510.6 157.8,510.4 157.8,506.0ZM141.9,506.0 141.9,510.1 143.2,510.4 143.2,506.0ZM108.9,506.0 108.9,510.4 110.9,510.9 111.5,510.4 111.5,506.0ZM104.8,506.0 104.8,510.4 105.5,510.6 105.8,506.0ZM99.4,506.0 99.4,510.4 99.9,510.6 100.1,506.0Z"/><path fill="#ffd0b8" fill-rule="evenodd" d="M141.6,683.5 141.4,684.5 142.1,685.5 142.1,686.8 143.4,687.3 143.7,686.6 142.6,686.1 142.1,685.3 142.1,684.5 143.2,683.5ZM133.9,671.6 133.6,672.4 134.7,672.6 134.7,672.1ZM394.1,670.3 394.1,671.1 395.4,671.8 395.4,671.1 394.6,670.3ZM396.4,671.8 397.7,673.7 398.7,674.2 401.1,676.5 401.3,677.3 403.6,678.6 408.5,678.6 409.0,678.0 409.6,678.0 409.8,678.6 412.4,678.6 413.4,678.0 414.2,678.8 416.5,678.8 417.0,678.6 416.5,676.5 415.5,676.8 415.2,676.0 416.3,676.0 416.8,675.5 418.1,675.7 418.3,678.0 418.8,678.6 421.7,678.0 422.2,677.5 424.0,678.8 429.4,678.6 429.9,676.8 430.7,675.7 432.0,674.9 434.5,672.1 431.7,671.1 431.5,670.6 430.7,670.6 429.9,671.3 428.6,671.1 428.1,672.1 427.3,671.1 425.8,670.6 425.3,671.1 425.5,672.9 424.5,673.1 423.5,671.6 423.5,670.0 422.4,670.8 421.1,670.0 419.1,670.0 417.5,669.0 414.4,669.0 413.7,668.5 409.8,669.0 408.5,668.5 408.3,668.0 406.2,668.7 404.4,668.2 403.9,669.3 401.1,669.5 400.0,670.3 399.2,670.3 399.0,669.3 398.2,669.3 396.7,670.0ZM409.0,677.8 409.3,677.0 410.1,677.3 409.6,678.0ZM411.4,676.5 412.1,676.0 412.9,676.8 411.9,677.3ZM426.6,673.9 428.1,675.2 427.3,676.2 426.3,675.7ZM421.9,673.7 423.0,674.2 422.4,675.5 421.4,674.9ZM424.0,672.9 424.5,673.1 424.2,674.2 423.5,673.7ZM428.6,672.6 429.6,673.7 429.4,674.7 428.9,674.7 428.4,673.9ZM411.6,672.6 412.1,673.4 411.1,674.2 410.8,673.1ZM248.8,668.0 248.8,669.3 250.3,670.6 251.4,672.9 253.7,673.7 258.6,674.4 259.1,674.9 261.7,674.7 264.8,676.0 267.6,676.0 270.2,675.5 272.0,676.0 272.7,674.7 273.8,674.2 274.0,676.0 275.3,676.0 276.4,676.5 279.7,676.2 282.3,676.8 284.3,676.2 287.7,676.2 289.0,675.5 290.5,675.5 291.8,674.2 295.9,674.7 299.8,674.2 301.6,674.7 302.4,673.9 306.2,674.4 308.0,673.7 312.2,673.7 314.2,674.4 319.6,674.4 320.2,673.9 322.5,673.7 323.8,674.4 324.5,674.4 325.0,673.9 328.1,673.9 333.0,674.7 335.4,674.4 336.4,673.7 337.2,673.7 339.0,674.4 341.0,674.2 341.5,674.7 342.6,674.7 343.3,674.2 349.0,674.7 351.1,673.1 351.6,671.8 352.6,670.8 352.1,669.5 351.1,669.3 347.2,670.3 346.2,671.6 345.1,670.8 345.1,670.0 344.4,670.3 341.8,669.3 335.9,669.3 334.8,669.8 334.8,671.1 333.8,672.1 333.3,672.1 330.7,670.0 330.5,668.7 328.4,669.0 326.6,668.2 325.0,668.2 323.2,670.6 322.2,669.5 321.2,669.5 320.4,669.0 311.9,669.0 310.4,668.0 308.8,668.0 308.3,668.5 307.5,668.5 306.0,667.2 303.7,668.7 302.4,668.7 301.1,668.0 298.0,669.0 297.0,669.0 296.2,668.5 294.6,669.3 293.1,668.7 289.5,669.0 288.7,669.5 287.9,669.5 286.7,668.7 285.1,669.5 284.6,669.0 283.6,669.0 283.1,669.5 282.0,669.0 280.7,669.3 280.7,666.9 279.2,667.5 276.6,667.5 275.6,668.0 274.8,668.0 273.5,667.2 272.7,667.5 273.3,668.5 272.7,669.8 272.0,669.3 270.7,669.3 268.6,667.5 266.8,668.0 264.2,668.0 263.0,667.5 261.4,668.2 260.4,668.2 259.6,669.5 256.8,667.7 255.7,668.0 254.7,669.0 254.2,668.5 254.5,667.7 252.9,667.7 251.6,667.2ZM283.6,673.7 285.1,673.4 286.7,674.4 286.9,675.2 286.4,675.7 285.6,675.7 283.8,674.7ZM293.4,672.4 294.1,672.6 293.9,673.9 293.1,673.1ZM271.2,672.9 271.7,672.1 272.2,672.6 271.7,673.1ZM312.7,671.8 312.9,672.6 312.4,673.1 311.9,672.4ZM321.4,671.6 321.7,672.4 321.2,672.9 320.2,672.4 320.4,671.8ZM335.9,671.3 336.9,670.8 337.4,671.8 336.1,672.4ZM296.7,670.8 297.5,671.1 297.5,671.8 297.0,672.4 296.4,671.8ZM283.1,670.8 283.6,670.0 285.4,670.8 286.7,670.3 287.2,670.8 287.2,671.6 286.7,672.1 283.8,672.1 283.1,671.3ZM300.8,670.0 301.3,669.8 302.6,671.3 301.9,671.6ZM280.5,669.3 281.5,671.1 281.2,672.4 280.5,673.1 279.4,671.6 279.4,670.6ZM316.3,669.5 316.8,669.0 317.8,669.3 318.1,670.0 317.6,670.6 316.8,670.6ZM275.8,669.3 276.6,669.0 277.4,670.3 276.6,670.8 275.8,670.0ZM213.5,666.4 213.5,666.9 214.0,667.2 214.3,666.9ZM387.7,631.5 384.8,631.5 384.8,632.3 385.9,632.8 386.4,632.3 387.1,632.3ZM409.3,612.7 410.8,614.0 411.4,614.0 411.4,613.2 410.6,612.7ZM118.4,608.0 115.6,608.8 114.3,608.3 112.8,609.6 112.8,611.1 113.8,612.9 113.8,615.5 115.8,615.3 116.9,614.0 117.4,614.5 117.4,615.3 119.5,615.0 119.5,614.5 118.7,614.0 118.7,613.2 119.2,612.7 119.2,610.1ZM116.4,611.9 116.9,611.7 117.1,612.2 116.6,612.4ZM395.6,605.2 395.6,607.5 396.9,607.5 397.7,608.0 397.4,611.9 398.0,613.2 403.9,613.2 404.7,614.0 405.2,614.0 406.5,612.4 408.3,612.7 407.5,611.4 407.2,609.1 406.2,607.8 406.2,606.0 405.4,604.9 404.7,604.9 403.6,606.7 402.6,605.7 402.6,604.9 401.6,605.5 398.7,604.4 398.0,605.2ZM279.2,600.3 279.2,600.8 280.0,601.1 280.0,600.3ZM449.0,600.0 449.0,599.0 447.9,596.7 446.4,597.4 444.6,596.4 441.0,597.2 435.8,596.9 435.3,597.4 436.3,600.5 442.8,600.8 443.8,600.3ZM400.8,596.2 401.1,599.5 401.8,600.5 403.9,600.0 405.7,600.3 406.5,599.3 407.7,599.3 410.1,600.3 411.4,600.3 412.1,599.5 411.1,596.4 412.4,595.9 412.4,595.4 411.4,595.9 409.8,594.9 409.0,595.9 408.5,595.9 406.5,594.9 404.1,595.1 403.4,596.2 402.9,596.2 402.1,595.4 401.3,595.4ZM112.8,589.4 113.8,591.2 113.5,593.8 114.3,595.1 114.3,598.2 114.8,600.8 118.7,601.1 119.5,600.3 120.5,600.8 122.0,600.8 123.1,600.3 125.4,600.5 126.2,600.0 127.4,600.0 128.0,599.5 127.4,597.7 128.5,596.7 127.7,596.2 126.4,592.5 125.4,592.0 125.4,591.2 126.2,590.2 125.9,590.0 125.4,591.0 124.6,591.0 122.5,589.4 118.7,589.7 117.1,589.2 115.6,590.0 114.0,589.2ZM122.0,596.2 122.5,595.4 123.1,595.6 122.5,596.4ZM121.0,593.3 121.5,592.8 122.5,593.1 122.0,594.1 121.5,594.1ZM469.3,579.6 467.3,579.9 466.2,580.7 464.9,580.1 463.9,581.2 462.9,580.7 460.1,580.9 460.3,583.5 461.1,584.8 461.1,586.6 461.9,588.1 464.2,588.1 466.7,586.6 468.0,587.6 470.4,587.1 469.8,580.4ZM464.2,584.0 464.9,584.5 464.4,585.6 463.7,585.0ZM98.3,579.6 96.0,580.1 96.0,586.9 97.0,587.6 99.4,587.1 98.8,580.4ZM135.9,579.1 133.9,578.8 131.6,580.1 129.2,580.1 128.5,581.2 127.2,581.2 127.2,582.2 129.8,582.5 130.5,583.2 135.2,583.2 136.2,581.4ZM130.3,580.9 130.8,580.4 131.6,580.4 131.8,581.7 130.8,581.9ZM139.8,577.0 139.8,583.8 142.6,585.3 146.2,585.6 146.2,583.2 147.3,581.2 147.0,578.1 143.9,578.1 142.4,577.0ZM143.4,582.7 144.2,582.5 144.7,583.2 143.7,583.8ZM175.9,576.5 174.3,576.3 173.3,577.0 169.9,576.8 169.4,577.3 169.4,579.1 170.5,582.5 172.0,582.7 172.8,582.2 174.1,582.2 175.4,580.9 175.9,579.4ZM111.2,576.0 112.5,579.4 114.6,580.4 117.6,579.6 121.0,579.6 122.0,579.4 122.8,578.6 122.3,576.0 121.3,574.5 115.8,574.2 113.8,575.2 111.5,575.5ZM157.3,564.9 157.1,565.7 157.8,565.9 157.8,564.9ZM190.8,559.5 190.0,557.7 189.3,557.1 187.0,557.1 186.4,558.2 181.5,557.4 179.5,558.4 177.7,557.4 178.5,558.4 178.2,560.0 178.7,561.3 182.1,561.5 188.0,561.0 190.6,560.2ZM204.5,553.8 204.0,554.3 204.2,554.8 205.0,554.3ZM345.7,550.2 346.2,551.2 346.9,550.9 346.9,550.2ZM398.0,547.1 397.7,547.8 398.2,548.6 398.5,551.5 399.0,553.5 399.5,554.0 401.8,555.1 404.4,554.8 404.9,554.3 408.0,555.1 408.3,553.3 407.7,552.0 408.5,550.9 408.3,549.4 407.5,549.4 405.4,548.1 404.4,548.1 403.6,547.6 402.3,547.8 401.6,548.9 400.3,547.1ZM238.5,543.7 238.7,547.6 239.3,548.9 239.0,552.0 239.5,552.5 242.9,553.5 243.4,553.0 243.9,549.1 244.7,547.3 244.4,546.0 242.9,545.5 242.1,546.0 240.8,544.7ZM231.0,540.6 230.5,540.9 230.8,541.6 231.3,541.4ZM266.0,539.6 263.7,540.1 260.1,542.2 260.1,542.9 260.9,543.7 260.9,544.7 261.7,546.0 261.9,548.1 263.2,549.7 264.5,549.1 265.5,547.8 266.0,547.8 268.6,545.8 267.1,541.1ZM331.2,533.4 330.7,533.6 329.7,535.7 329.9,536.5 331.5,534.9ZM322.0,532.1 320.4,532.1 319.1,533.1 317.8,532.9 317.3,533.9 317.3,535.4 316.5,536.5 314.5,535.2 313.2,534.9 313.7,533.9 315.5,533.6 315.5,532.6 314.2,532.6 313.2,533.4 311.1,532.9 308.6,532.9 307.8,533.4 308.3,534.7 307.8,536.5 308.6,537.5 309.3,537.3 310.4,536.0 311.4,537.3 313.7,537.0 314.2,536.5 317.1,536.5 319.1,537.3 321.4,534.7 322.2,534.4Z"/><path fill="#ffa882" fill-rule="evenodd" d="M400.5,552.2 400.3,553.5 401.1,553.5 401.1,552.2Z"/><path d="M133.5,570.8L131.9,570.5L129.9,571.1L125.8,570.3L123.7,569.3L122.2,569.0L120.6,570.0L120.1,571.6L118.0,571.1L115.8,569.6L112.9,569.1L111.3,568.6L110.5,567.6L111.3,566.3L111.3,564.8L110.3,564.5L108.2,564.9L105.2,565.0L103.1,565.0L100.0,566.0L97.9,566.7L94.5,565.9L93.8,566.0L93.0,567.9L90.4,569.4L89.9,572.0L88.7,573.3L86.6,574.4L85.1,576.1L83.5,578.4L82.5,581.3L83.2,583.4L83.0,586.5L82.0,587.8L82.7,590.1L84.5,591.8L86.3,593.7L88.1,595.8L90.7,597.8L92.3,598.5L95.4,597.6L97.9,598.0L101.0,596.9L102.6,596.5L104.6,596.5L105.7,598.4L107.2,598.5L109.1,598.4L110.0,599.9L109.8,602.0L109.3,604.0L110.3,606.1L112.2,608.0L112.6,609.2L113.7,611.8L114.2,614.4L112.9,617.0L112.2,619.5L112.2,621.6L113.4,624.7L114.9,626.8L115.5,630.4L117.0,632.6L118.0,635.0L118.9,636.8L119.0,638.3L120.6,639.0L123.2,638.1L126.3,638.1L128.3,637.4L130.9,635.0L133.0,632.8L133.9,629.9L136.4,627.8L136.6,625.7L135.9,623.7L137.6,622.1L140.2,620.0L141.9,618.5L141.7,615.9L141.6,613.9L140.5,611.3L140.0,609.4L140.5,607.6L141.7,605.6L143.3,603.8L145.3,602.0L147.4,600.4L149.5,598.4L151.3,595.2L152.6,592.1L152.8,590.8L150.5,591.3L147.9,591.8L145.9,592.3L144.5,591.1L144.3,589.9L142.3,588.0L140.9,587.2L139.8,584.4L138.4,581.8L138.1,580.3L136.8,578.3L135.6,575.6L134.5,574.1L133.6,572.1ZM504.5,570.8L502.9,570.5L500.9,571.1L496.8,570.3L494.7,569.3L493.2,569.0L491.6,570.0L491.1,571.6L489.0,571.1L486.8,569.6L483.9,569.1L482.3,568.6L481.5,567.6L482.3,566.3L482.3,564.8L481.3,564.5L479.2,564.9L476.2,565.0L474.1,565.0L471.0,566.0L468.9,566.7L465.5,565.9L464.8,566.0L464.0,567.9L461.4,569.4L460.9,572.0L459.7,573.3L457.6,574.4L456.1,576.1L454.5,578.4L453.5,581.3L454.2,583.4L454.0,586.5L453.0,587.8L453.7,590.1L455.5,591.8L457.3,593.7L459.1,595.8L461.7,597.8L463.3,598.5L466.4,597.6L468.9,598.0L472.0,596.9L473.6,596.5L475.6,596.5L476.7,598.4L478.2,598.5L480.1,598.4L481.0,599.9L480.8,602.0L480.3,604.0L481.3,606.1L483.2,608.0L483.6,609.2L484.7,611.8L485.2,614.4L483.9,617.0L483.2,619.5L483.2,621.6L484.4,624.7L485.9,626.8L486.5,630.4L488.0,632.6L489.0,635.0L489.9,636.8L490.0,638.3L491.6,639.0L494.2,638.1L497.3,638.1L499.3,637.4L501.9,635.0L504.0,632.8L504.9,629.9L507.4,627.8L507.6,625.7L506.9,623.7L508.6,622.1L511.2,620.0L512.9,618.5L512.7,615.9L512.6,613.9L511.5,611.3L511.0,609.4L511.5,607.6L512.7,605.6L514.3,603.8L516.3,602.0L518.4,600.4L520.5,598.4L522.3,595.2L523.6,592.1L523.8,590.8L521.5,591.3L518.9,591.8L516.9,592.3L515.5,591.1L515.3,589.9L513.3,588.0L511.9,587.2L510.8,584.4L509.4,581.8L509.1,580.3L507.8,578.3L506.6,575.6L505.5,574.1L504.6,572.1ZM150.8,615.4L151.8,619.0L151.0,621.1L150.3,624.2L148.6,628.7L146.6,629.4L145.0,627.3L144.8,625.2L145.7,623.1L145.6,620.6L147.7,619.2L149.5,617.3ZM133.6,572.1L136.0,572.5L136.1,574.1L138.1,577.2L139.7,579.8L140.4,581.3L142.3,583.9L144.0,586.5L144.6,589.3L145.9,589.9L149.5,588.5L153.6,586.5L156.7,584.9L159.3,583.4L160.5,581.8L161.6,579.8L160.3,578.5L158.2,577.7L158.0,575.9L155.6,578.0L153.4,578.2L153.1,576.3L152.4,577.2L151.5,575.4L150.3,574.1L149.5,572.0L151.5,571.8L152.6,573.5L154.6,575.3L156.4,575.5L158.2,575.0L159.1,576.4L161.8,576.9L163.9,577.0L167.0,576.9L168.6,576.8L169.4,577.6L170.3,578.5L171.0,580.0L172.4,581.5L174.3,581.1L175.0,583.4L175.5,586.5L176.7,589.0L177.8,591.1L178.8,593.7L179.9,594.6L180.6,593.8L181.4,593.4L182.2,592.4L182.3,590.6L182.7,589.0L182.7,587.2L184.5,586.0L186.1,584.6L187.6,582.9L189.5,581.6L189.9,580.8L191.7,580.5L193.3,579.8L194.6,580.0L195.1,581.5L196.6,583.1L197.3,584.9L197.2,586.5L198.3,586.7L200.0,585.6L200.7,587.0L201.2,589.0L201.6,591.6L201.3,593.7L201.3,594.9L203.1,596.3L203.5,597.8L204.4,600.0L206.6,601.6L207.4,601.6L206.6,599.4L206.5,597.8L205.3,596.6L204.1,595.9L203.2,594.2L202.3,593.4L203.0,591.6L203.1,589.2L204.1,589.9L205.6,590.6L206.1,591.9L208.0,592.3L208.1,594.0L210.0,592.4L211.3,591.8L212.5,590.8L212.6,589.0L212.1,587.0L210.8,585.6L209.8,584.4L209.0,583.1L210.0,581.5L211.3,580.8L212.8,580.8L213.7,582.0L213.9,581.0L215.4,580.5L217.7,580.0L220.1,579.2L221.6,577.8L223.3,576.3L224.2,574.6L225.5,572.7L225.7,571.2L224.7,570.1L224.0,568.4L222.8,567.0L224.0,565.8L226.2,564.8L224.7,564.1L222.6,564.5L221.4,563.2L221.6,562.5L223.2,561.8L224.7,560.8L225.9,561.1L224.9,562.7L225.7,562.6L228.1,561.8L229.1,563.1L228.6,563.7L230.5,564.0L230.3,565.3L230.3,567.1L231.4,567.1L233.1,566.5L233.5,564.8L232.3,563.0L231.3,562.2L232.4,561.1L233.8,560.1L234.7,559.3L236.5,558.4L238.1,558.3L239.6,557.0L241.2,555.5L242.9,553.9L244.5,552.4L244.8,550.3L245.7,548.0L244.1,547.0L241.7,547.2L239.3,546.4L241.7,544.6L244.8,542.9L247.4,541.7L250.5,541.6L253.6,541.4L257.0,542.0L259.7,541.6L261.6,539.3L264.9,539.1L268.2,538.4L268.3,540.2L266.8,540.8L264.7,541.8L262.8,543.1L261.3,544.1L260.4,546.2L260.5,548.2L261.5,550.3L263.1,549.1L263.4,548.2L264.9,547.2L266.9,546.4L266.7,544.8L268.3,544.9L268.3,543.3L267.5,542.8L268.7,541.2L271.1,541.0L275.5,541.0L277.8,540.0L279.8,539.1L282.9,538.4L284.8,538.5L285.1,536.7L282.9,536.1L284.0,535.2L287.0,535.3L289.6,536.2L292.7,536.5L296.1,534.7L294.8,533.9L291.7,533.8L289.6,532.9L285.5,531.8L283.4,531.3L279.3,530.8L275.7,530.7L275.2,531.7L272.1,531.1L265.9,531.2L264.7,530.1L259.7,529.6L256.6,529.7L254.6,528.6L250.5,528.2L245.3,527.8L243.8,529.1L239.1,529.0L235.0,529.8L233.5,529.3L232.7,527.6L229.8,527.0L227.1,527.6L222.6,527.5L217.5,526.8L216.8,525.0L217.0,524.5L210.3,523.4L207.5,522.7L203.1,524.0L200.0,524.5L193.8,524.9L189.7,525.5L189.1,526.5L184.0,526.9L182.8,528.4L179.9,528.3L177.3,527.8L175.2,529.1L175.7,531.7L174.7,532.0L174.2,529.3L174.9,527.8L171.1,527.6L170.6,529.1L169.0,531.2L170.6,532.4L167.0,531.5L162.3,530.9L158.7,532.1L155.6,532.4L154.6,532.7L151.5,532.5L147.9,532.7L145.6,532.2L147.4,534.0L145.3,534.6L143.8,534.3L141.2,536.2L139.0,537.0L135.9,536.4L134.0,534.1L139.7,534.7L142.3,534.1L142.6,532.9L141.2,532.9L137.1,531.5L134.0,531.2L131.9,530.4L129.4,529.6L126.5,529.5L122.7,530.4L119.6,530.9L116.5,532.1L114.9,533.5L113.4,534.8L111.9,536.0L109.8,537.3L107.2,538.1L105.4,538.9L105.2,540.5L105.5,541.7L106.2,542.7L107.7,543.1L109.8,542.1L110.9,541.5L111.5,542.1L112.2,543.4L113.0,544.8L113.3,545.6L114.7,545.6L114.9,545.0L116.5,544.8L117.1,543.6L117.3,542.4L119.1,541.5L119.5,541.0L117.8,540.3L117.7,538.9L119.1,537.9L121.1,537.1L122.2,536.0L123.0,535.1L124.9,535.0L126.1,535.6L125.4,536.7L123.2,537.7L122.0,538.6L122.2,540.0L123.4,541.0L125.8,540.8L128.3,540.5L129.9,541.0L131.1,541.1L128.9,541.5L125.2,541.6L124.2,542.2L125.0,542.8L125.0,543.8L123.7,543.9L122.5,543.5L121.6,544.6L121.7,545.9L120.6,546.6L119.2,546.7L117.0,546.8L114.6,547.3L112.9,546.9L111.3,547.2L110.3,546.7L110.0,545.6L110.8,544.6L110.8,543.6L109.8,544.0L108.5,544.1L108.5,545.6L109.0,547.2L107.2,547.6L105.2,548.0L104.6,549.1L103.6,549.9L102.6,550.3L101.6,550.7L101.5,551.3L100.1,551.9L98.8,552.0L98.4,552.7L96.9,552.7L95.2,553.0L95.6,553.6L97.4,554.1L98.8,555.5L98.7,557.0L98.1,558.2L95.9,558.0L92.8,557.9L90.5,558.5L90.9,560.1L90.8,562.2L90.2,563.0L90.9,564.7L92.8,564.7L93.6,565.4L94.3,565.7L95.4,565.1L97.7,565.0L99.3,564.0L100.0,563.0L99.7,562.2L100.8,560.8L103.3,559.7L103.2,558.4L104.6,558.2L106.7,558.5L107.7,557.7L109.3,557.2L110.6,558.0L111.3,559.2L112.9,560.2L114.4,560.8L116.1,561.7L116.5,562.9L116.2,563.7L117.0,563.5L117.6,562.7L117.0,562.0L117.5,561.1L119.0,561.7L119.0,561.3L117.5,560.6L116.5,560.1L116.0,559.7L114.9,559.3L114.0,558.0L112.8,557.2L112.7,556.2L114.0,555.8L114.2,556.5L115.5,557.0L117.0,558.0L118.5,559.0L120.0,559.9L120.0,561.4L120.9,562.4L122.0,563.4L121.8,564.4L122.7,565.2L123.5,565.4L123.9,564.5L124.7,564.0L124.0,563.3L123.6,562.4L123.7,561.4L124.7,560.9L126.8,560.8L127.3,561.3L127.0,562.2L127.8,563.0L128.1,564.6L129.1,565.1L130.4,565.6L131.5,565.0L133.5,565.7L135.0,565.5L137.1,565.1L137.0,566.8L136.7,568.4L136.1,569.4L135.3,570.6L133.5,570.8ZM504.6,572.1L507.0,572.5L507.1,574.1L509.1,577.2L510.7,579.8L511.4,581.3L513.3,583.9L515.0,586.5L515.6,589.3L516.9,589.9L520.5,588.5L524.6,586.5L527.7,584.9L530.3,583.4L531.5,581.8L532.6,579.8L531.3,578.5L529.2,577.7L529.0,575.9L526.6,578.0L524.4,578.2L524.1,576.3L523.4,577.2L522.5,575.4L521.3,574.1L520.5,572.0L522.5,571.8L523.6,573.5L525.6,575.3L527.4,575.5L529.2,575.0L530.1,576.4L532.8,576.9L534.9,577.0L538.0,576.9L539.6,576.8L540.4,577.6L541.3,578.5L542.0,580.0L543.4,581.5L545.3,581.1L546.0,583.4L546.5,586.5L547.7,589.0L548.8,591.1L549.8,593.7L550.9,594.6L551.6,593.8L552.4,593.4L553.2,592.4L553.3,590.6L553.7,589.0L553.7,587.2L555.5,586.0L557.1,584.6L558.6,582.9L560.5,581.6L560.9,580.8L562.7,580.5L564.3,579.8L565.6,580.0L566.1,581.5L567.6,583.1L568.3,584.9L568.2,586.5L569.3,586.7L571.0,585.6L571.7,587.0L572.2,589.0L572.6,591.6L572.3,593.7L572.3,594.9L574.1,596.3L574.5,597.8L575.4,600.0L577.6,601.6L578.4,601.6L577.6,599.4L577.5,597.8L576.3,596.6L575.1,595.9L574.2,594.2L573.3,593.4L574.0,591.6L574.1,589.2L575.1,589.9L576.6,590.6L577.1,591.9L579.0,592.3L579.1,594.0L581.0,592.4L582.3,591.8L583.5,590.8L583.6,589.0L583.1,587.0L581.8,585.6L580.8,584.4L580.0,583.1L581.0,581.5L582.3,580.8L583.8,580.8L584.7,582.0L584.9,581.0L586.4,580.5L588.7,580.0L591.1,579.2L592.6,577.8L594.3,576.3L595.2,574.6L596.5,572.7L596.7,571.2L595.7,570.1L595.0,568.4L593.8,567.0L595.0,565.8L597.2,564.8L595.7,564.1L593.6,564.5L592.4,563.2L592.6,562.5L594.2,561.8L595.7,560.8L596.9,561.1L595.9,562.7L596.7,562.6L599.1,561.8L600.1,563.1L599.6,563.7L601.5,564.0L601.3,565.3L601.3,567.1L602.4,567.1L604.1,566.5L604.5,564.8L603.3,563.0L602.3,562.2L603.4,561.1L604.8,560.1L605.7,559.3L607.5,558.4L609.1,558.3L610.6,557.0L612.2,555.5L613.9,553.9L615.5,552.4L615.8,550.3L616.7,548.0L615.1,547.0L612.7,547.2L610.3,546.4L612.7,544.6L615.8,542.9L618.4,541.7L621.5,541.6L624.6,541.4L628.0,542.0L630.7,541.6L632.6,539.3L635.9,539.1L639.2,538.4L639.3,540.2L637.8,540.8L635.7,541.8L633.8,543.1L632.3,544.1L631.4,546.2L631.5,548.2L632.5,550.3L634.1,549.1L634.4,548.2L635.9,547.2L637.9,546.4L637.7,544.8L639.3,544.9L639.3,543.3L638.5,542.8L639.7,541.2L642.1,541.0L646.5,541.0L648.8,540.0L650.8,539.1L653.9,538.4L655.8,538.5L656.1,536.7L653.9,536.1L655.0,535.2L658.0,535.3L660.6,536.2L663.7,536.5L667.1,534.7L665.8,533.9L662.7,533.8L660.6,532.9L656.5,531.8L654.4,531.3L650.3,530.8L646.7,530.7L646.2,531.7L643.1,531.1L636.9,531.2L635.7,530.1L630.7,529.6L627.6,529.7L625.6,528.6L621.5,528.2L616.3,527.8L614.8,529.1L610.1,529.0L606.0,529.8L604.5,529.3L603.7,527.6L600.8,527.0L598.1,527.6L593.6,527.5L588.5,526.8L587.8,525.0L588.0,524.5L581.3,523.4L578.5,522.7L574.1,524.0L571.0,524.5L564.8,524.9L560.7,525.5L560.1,526.5L555.0,526.9L553.8,528.4L550.9,528.3L548.3,527.8L546.2,529.1L546.7,531.7L545.7,532.0L545.2,529.3L545.9,527.8L542.1,527.6L541.6,529.1L540.0,531.2L541.6,532.4L538.0,531.5L533.3,530.9L529.7,532.1L526.6,532.4L525.6,532.7L522.5,532.5L518.9,532.7L516.6,532.2L518.4,534.0L516.3,534.6L514.8,534.3L512.2,536.2L510.0,537.0L506.9,536.4L505.0,534.1L510.7,534.7L513.3,534.1L513.6,532.9L512.2,532.9L508.1,531.5L505.0,531.2L502.9,530.4L500.4,529.6L497.5,529.5L493.7,530.4L490.6,530.9L487.5,532.1L485.9,533.5L484.4,534.8L482.9,536.0L480.8,537.3L478.2,538.1L476.4,538.9L476.2,540.5L476.5,541.7L477.2,542.7L478.7,543.1L480.8,542.1L481.9,541.5L482.5,542.1L483.2,543.4L484.0,544.8L484.3,545.6L485.7,545.6L485.9,545.0L487.5,544.8L488.1,543.6L488.3,542.4L490.1,541.5L490.5,541.0L488.8,540.3L488.7,538.9L490.1,537.9L492.1,537.1L493.2,536.0L494.0,535.1L495.9,535.0L497.1,535.6L496.4,536.7L494.2,537.7L493.0,538.6L493.2,540.0L494.4,541.0L496.8,540.8L499.3,540.5L500.9,541.0L502.1,541.1L499.9,541.5L496.2,541.6L495.2,542.2L496.0,542.8L496.0,543.8L494.7,543.9L493.5,543.5L492.6,544.6L492.7,545.9L491.6,546.6L490.2,546.7L488.0,546.8L485.6,547.3L483.9,546.9L482.3,547.2L481.3,546.7L481.0,545.6L481.8,544.6L481.8,543.6L480.8,544.0L479.5,544.1L479.5,545.6L480.0,547.2L478.2,547.6L476.2,548.0L475.6,549.1L474.6,549.9L473.6,550.3L472.6,550.7L472.5,551.3L471.1,551.9L469.8,552.0L469.4,552.7L467.9,552.7L466.2,553.0L466.6,553.6L468.4,554.1L469.8,555.5L469.7,557.0L469.1,558.2L466.9,558.0L463.8,557.9L461.5,558.5L461.9,560.1L461.8,562.2L461.2,563.0L461.9,564.7L463.8,564.7L464.6,565.4L465.3,565.7L466.4,565.1L468.7,565.0L470.3,564.0L471.0,563.0L470.7,562.2L471.8,560.8L474.3,559.7L474.2,558.4L475.6,558.2L477.7,558.5L478.7,557.7L480.3,557.2L481.6,558.0L482.3,559.2L483.9,560.2L485.4,560.8L487.1,561.7L487.5,562.9L487.2,563.7L488.0,563.5L488.6,562.7L488.0,562.0L488.5,561.1L490.0,561.7L490.0,561.3L488.5,560.6L487.5,560.1L487.0,559.7L485.9,559.3L485.0,558.0L483.8,557.2L483.7,556.2L485.0,555.8L485.2,556.5L486.5,557.0L488.0,558.0L489.5,559.0L491.0,559.9L491.0,561.4L491.9,562.4L493.0,563.4L492.8,564.4L493.7,565.2L494.5,565.4L494.9,564.5L495.7,564.0L495.0,563.3L494.6,562.4L494.7,561.4L495.7,560.9L497.8,560.8L498.3,561.3L498.0,562.2L498.8,563.0L499.1,564.6L500.1,565.1L501.4,565.6L502.5,565.0L504.5,565.7L506.0,565.5L508.1,565.1L508.0,566.8L507.7,568.4L507.1,569.4L506.3,570.6L504.5,570.8ZM128.9,560.1L129.9,560.4L132.5,560.4L134.5,559.6L136.3,559.6L137.6,560.3L139.7,560.6L142.3,560.4L143.0,560.0L142.8,559.0L141.2,558.0L139.7,557.2L138.1,556.5L139.2,555.5L140.2,554.3L138.6,554.6L136.3,555.2L136.1,556.0L137.6,556.2L136.4,556.6L134.7,557.1L133.6,556.2L134.5,555.5L132.8,555.0L131.6,555.1L130.6,556.2L129.7,557.0L128.9,558.3L128.5,559.1ZM150.5,555.0L152.6,554.4L154.6,554.6L154.6,556.2L152.8,556.5L151.8,557.1L152.8,558.4L154.1,558.9L154.4,560.1L155.6,560.6L154.6,561.7L155.1,562.5L155.4,564.5L153.6,565.0L151.8,564.5L150.5,563.4L150.8,562.2L151.0,561.1L150.0,559.8L149.1,558.6L148.7,557.3L148.2,556.8L149.2,555.9ZM160.3,555.7L161.3,554.7L162.9,554.8L163.6,556.0L162.9,557.2L161.3,557.8L160.2,557.0ZM175.7,556.2L177.3,554.6L181.4,554.8L181.4,555.3L177.8,555.5L176.5,556.6ZM207.2,549.7L209.8,548.2L212.3,546.2L213.2,545.3L212.8,546.7L211.3,548.2L208.7,549.8ZM94.3,551.2L96.4,551.0L99.0,550.6L101.3,550.1L101.8,548.5L100.3,548.2L99.8,547.2L98.5,546.2L97.7,545.1L97.9,543.6L96.1,543.4L96.7,542.4L94.8,542.4L94.0,543.6L94.3,544.9L95.1,546.0L96.7,546.3L96.9,547.4L95.4,547.9L95.6,548.8L94.6,549.5L96.6,549.9L95.4,550.2ZM465.3,551.2L467.4,551.0L470.0,550.6L472.3,550.1L472.8,548.5L471.3,548.2L470.8,547.2L469.5,546.2L468.7,545.1L468.9,543.6L467.1,543.4L467.7,542.4L465.8,542.4L465.0,543.6L465.3,544.9L466.1,546.0L467.7,546.3L467.9,547.4L466.4,547.9L466.6,548.8L465.6,549.5L467.6,549.9L466.4,550.2ZM464.8,549.1L464.6,547.7L465.0,546.4L463.5,545.9L462.2,546.7L460.7,547.2L461.2,548.2L460.4,549.3L461.2,549.8L463.3,549.3ZM447.8,534.4L450.4,534.8L454.5,534.3L456.1,535.3L456.6,536.4L452.4,537.4L449.4,537.1L447.6,536.9L448.3,535.8L446.3,535.3ZM111.3,520.9L114.4,520.3L120.6,520.0L127.8,520.1L124.7,521.4L121.6,521.9L119.6,523.1L117.5,523.7L114.9,522.9L112.4,521.9ZM153.1,529.6L155.1,529.8L158.7,529.9L157.7,528.1L159.8,526.5L162.9,525.2L167.0,524.3L170.9,523.6L168.0,523.4L161.8,524.3L157.7,525.3L155.6,527.0L153.6,528.6ZM197.9,521.4L203.1,520.5L208.2,521.4L206.1,522.2L201.0,521.9ZM241.2,525.0L246.3,524.5L250.5,525.0L254.6,525.3L249.4,525.7L244.3,525.7ZM284.0,529.4L287.0,529.1L288.1,529.6L285.5,529.8ZM149.5,519.8L156.7,519.1L163.9,519.3L161.8,520.0L153.6,520.2ZM234.9,567.9L236.0,567.7L237.6,567.6L239.1,567.2L241.0,567.4L242.9,567.1L244.1,566.8L245.1,566.1L245.3,564.8L245.8,563.2L246.3,562.2L245.8,560.3L244.6,560.4L244.3,561.9L243.8,563.2L242.2,564.6L241.2,564.8L240.9,565.5L240.2,566.1L239.1,566.2L237.1,566.3L235.5,567.2ZM234.0,568.4L235.0,568.1L235.8,568.9L235.5,570.1L234.7,570.9L234.2,569.9L233.7,568.9ZM236.5,568.0L238.6,567.7L238.3,568.3L237.1,569.1L236.3,568.6ZM244.5,560.1L245.3,559.1L247.6,559.6L249.9,558.4L249.4,557.3L247.4,557.2L246.1,556.1L245.9,557.5L245.6,558.4L244.6,558.8ZM246.3,555.5L247.7,554.6L247.4,552.4L248.9,552.2L247.6,549.8L247.7,547.9L247.1,546.9L246.3,547.9L246.3,550.3L246.5,552.4L246.3,553.9ZM224.7,577.0L225.7,577.2L225.1,579.2L224.5,580.3L223.8,579.2L224.0,578.0ZM212.0,583.1L213.7,582.2L214.4,582.7L213.7,584.0L212.3,584.1ZM182.2,593.0L183.3,593.5L184.3,595.2L183.7,596.5L182.7,596.8L182.1,595.2ZM224.2,583.9L225.9,584.0L226.0,586.0L225.3,587.0L225.7,588.3L227.8,589.6L227.8,590.0L226.2,588.9L224.7,588.8L224.3,588.0L223.7,587.0L224.0,586.0ZM225.7,595.8L227.3,594.1L229.3,593.0L230.4,594.7L230.1,596.5L229.3,597.1L228.0,596.3L227.3,595.2ZM228.1,590.1L229.3,590.4L229.5,591.6L228.8,592.7L228.3,591.8ZM225.7,590.8L227.0,591.1L227.1,592.7L226.2,593.2L225.7,592.1ZM220.8,594.4L222.1,593.4L223.3,591.4L222.8,591.2L221.6,592.7L220.6,593.9ZM224.1,589.2L225.1,589.3L225.1,590.3L224.5,590.2ZM212.3,601.5L212.8,600.9L214.4,601.2L214.8,600.2L216.5,599.7L217.5,598.4L219.0,597.3L220.4,595.8L221.3,596.5L222.8,597.6L221.6,598.6L221.4,600.1L221.6,602.0L221.1,603.8L220.1,604.9L219.8,606.6L218.2,607.1L216.5,606.3L214.9,606.4L213.6,605.9L213.4,604.3L212.3,603.5ZM198.2,597.2L200.5,597.6L203.1,600.1L204.6,601.1L206.7,603.0L207.7,604.9L209.2,606.1L209.0,609.0L207.7,609.0L205.4,607.1L204.1,605.6L202.8,603.5L201.7,601.2L200.2,599.6L198.4,597.8ZM208.4,610.0L209.8,609.2L211.8,609.9L213.9,609.7L214.4,610.0L216.1,610.2L218.0,611.1L217.9,611.9L215.4,611.7L212.3,611.1L209.8,610.6ZM223.7,602.0L224.7,601.8L226.8,602.1L228.8,601.3L228.3,602.5L225.7,602.6L224.2,603.0L224.0,604.0L225.2,604.0L227.1,603.8L225.7,605.1L226.2,606.6L226.8,607.6L226.0,608.2L225.0,607.1L224.5,605.9L224.0,606.6L224.1,608.7L223.2,608.7L222.9,606.6L222.4,605.8L223.4,603.5ZM235.0,603.8L236.5,603.4L238.1,603.8L238.4,605.6L239.3,606.4L241.0,605.3L242.2,604.7L245.3,605.7L248.9,606.9L250.3,608.5L252.0,609.2L251.7,609.9L253.0,611.9L254.6,613.5L255.3,614.0L252.5,613.5L251.0,612.1L248.9,611.0L247.9,612.1L245.8,612.5L243.8,611.4L242.2,611.6L242.9,610.4L242.0,608.7L239.6,607.5L237.6,607.0L236.9,607.1L236.0,606.0L237.3,605.5L236.0,605.1L235.0,604.4ZM253.0,608.8L254.6,608.7L256.6,607.3L257.0,608.2L255.1,609.5L253.6,609.5ZM227.4,613.5L228.8,612.3L230.9,611.7L230.4,612.4L228.3,613.4ZM218.5,611.5L222.6,611.5L226.8,611.6L226.6,612.1L222.6,612.2L218.7,612.1ZM231.4,601.1L232.4,601.5L232.6,603.0L231.9,603.8L231.5,602.5ZM231.9,606.1L234.8,606.4L234.5,606.9L232.1,606.6ZM217.2,626.2L217.7,625.5L219.5,624.5L221.6,624.0L223.7,623.6L225.9,621.6L226.0,620.6L227.4,620.9L227.8,619.8L229.3,618.0L230.9,617.5L232.2,618.4L233.5,618.4L234.0,616.7L235.0,615.6L236.7,614.9L237.6,615.3L239.6,615.4L241.0,615.6L240.2,617.0L239.6,618.3L241.2,619.3L243.6,620.9L245.1,621.1L245.9,618.5L245.8,616.4L246.5,614.2L247.9,615.9L248.2,617.8L249.7,618.5L250.5,621.1L250.8,622.5L252.3,623.4L253.6,624.2L254.3,626.0L255.4,627.3L257.5,629.0L257.9,630.9L258.3,632.7L257.7,635.0L257.0,636.6L255.9,637.9L255.1,639.7L254.6,641.4L252.8,642.1L251.0,643.3L249.2,642.5L247.9,643.1L245.8,642.6L244.3,641.8L243.8,640.2L242.4,639.7L242.2,638.1L241.9,637.1L241.2,638.1L241.7,639.4L240.2,639.0L239.6,638.8L238.3,637.1L236.0,636.1L232.9,635.7L229.8,636.4L227.8,637.1L227.3,638.0L223.7,638.0L221.6,639.2L219.5,639.0L218.5,638.4L219.2,636.1L219.1,635.0L218.5,633.5L217.7,631.4L216.8,629.9L217.0,628.3ZM249.1,645.1L251.0,645.4L252.8,645.3L252.7,646.6L252.0,647.7L250.5,648.0L249.6,646.7ZM278.0,638.5L279.6,639.7L280.9,640.7L281.4,641.9L283.4,641.9L284.0,642.0L283.2,643.5L282.4,643.8L282.2,644.9L280.7,646.0L280.0,645.7L280.6,644.3L279.1,643.6L280.0,642.3L279.6,640.7L278.3,639.2ZM278.0,644.9L279.6,646.1L278.3,647.4L278.0,648.3L276.4,648.9L275.9,650.3L274.7,651.2L273.1,651.0L271.6,650.3L273.1,648.7L275.2,647.6L276.7,646.4L277.5,645.2ZM297.9,535.2L299.4,532.4L303.0,531.2L306.1,530.0L309.7,529.3L314.4,529.8L319.5,530.5L325.7,531.1L330.8,531.7L333.9,531.2L339.1,530.4L342.2,531.2L345.3,530.9L349.4,531.7L352.5,532.4L354.5,532.9L358.7,532.9L359.7,532.2L362.8,532.5L366.4,533.0L370.0,532.7L372.1,532.4L372.6,531.2L372.1,529.1L374.1,528.8L375.7,530.7L376.7,531.2L377.7,532.2L380.3,531.9L381.3,533.2L382.9,531.7L386.5,531.2L387.0,532.2L386.0,533.8L383.4,534.8L381.3,535.8L379.3,536.9L377.2,537.4L375.7,538.9L373.6,540.5L373.4,542.0L375.2,542.3L375.7,544.1L379.3,544.3L383.4,545.9L386.2,546.1L386.5,548.2L388.0,550.0L389.6,549.8L389.6,547.2L391.6,545.1L392.0,543.6L390.1,542.3L391.1,540.5L390.6,538.6L394.7,538.6L398.9,540.0L399.4,542.0L402.0,542.8L403.5,541.2L404.5,540.7L407.1,543.6L408.1,545.3L411.2,546.4L412.3,547.7L413.6,549.3L412.3,549.9L409.2,551.1L405.0,551.1L402.5,551.1L399.9,552.9L397.8,554.5L399.9,553.9L403.0,552.3L404.7,552.6L404.0,553.9L404.5,555.3L407.6,555.8L409.2,555.5L408.1,556.3L405.6,557.0L403.3,558.0L403.0,557.0L404.5,556.0L402.0,556.5L399.9,557.5L398.3,558.4L398.1,559.6L398.9,559.9L397.3,560.2L394.9,560.8L394.7,562.2L393.7,563.2L392.7,564.8L393.0,566.3L391.6,567.4L389.6,568.7L387.5,570.2L387.2,572.0L388.0,574.1L388.5,576.1L388.0,577.0L387.0,576.3L385.8,574.3L385.7,572.8L384.4,572.0L382.9,572.2L380.8,571.7L378.8,571.8L379.0,572.8L377.2,572.8L374.6,572.3L373.1,572.8L371.0,574.3L370.7,576.1L370.3,578.7L370.2,580.3L371.6,582.9L373.1,583.8L375.7,583.8L377.2,583.4L377.7,581.5L380.3,580.8L381.5,581.0L380.8,582.9L380.3,584.4L379.8,586.0L379.6,586.7L382.4,586.6L384.9,587.2L385.2,589.6L384.7,591.6L386.0,593.4L387.5,593.9L388.9,593.2L390.6,593.4L391.3,594.2L392.7,593.2L393.5,591.8L395.8,591.1L397.1,590.2L397.3,591.6L398.9,590.8L400.4,591.9L403.0,592.0L405.6,591.9L407.1,591.9L408.1,593.0L409.2,594.2L411.7,596.5L415.3,597.0L417.7,598.2L419.2,600.9L419.5,602.7L421.0,604.0L423.6,604.2L425.1,605.8L428.2,606.0L431.3,606.9L433.4,608.2L434.9,609.7L435.1,611.3L434.4,613.3L432.4,615.4L431.0,617.0L430.8,619.5L430.3,622.1L429.0,625.2L427.7,626.8L425.1,627.1L423.1,628.1L421.0,629.9L420.8,632.2L419.0,635.0L417.1,636.6L415.6,638.6L413.3,639.1L410.9,638.2L412.3,640.2L411.7,642.3L409.2,643.2L407.1,643.3L406.8,645.1L404.0,645.4L405.4,646.9L403.8,649.0L401.4,650.5L403.2,651.8L401.4,654.1L399.9,655.7L400.5,657.0L399.4,657.2L397.8,658.6L396.3,658.1L394.7,657.0L393.7,655.2L393.2,652.6L394.2,650.5L395.5,648.5L394.9,646.4L395.3,643.8L395.6,641.4L396.8,639.2L397.3,636.6L397.4,634.0L397.8,630.9L398.4,627.3L398.7,623.7L398.4,621.9L396.8,620.6L393.7,618.9L392.4,617.3L391.1,614.9L389.9,612.3L388.8,610.2L387.3,609.2L387.3,607.4L388.6,606.3L387.7,605.3L388.0,603.5L388.6,602.2L389.8,601.5L391.1,599.4L391.2,596.8L390.7,595.5L390.1,594.2L388.6,595.4L387.0,595.0L385.5,594.4L383.4,592.7L382.6,591.6L380.8,589.6L378.8,589.0L376.7,588.5L374.6,586.7L373.1,586.3L371.0,586.6L368.5,585.7L365.9,584.4L363.3,583.2L362.3,581.8L362.5,580.3L361.2,578.7L359.2,576.9L358.2,575.6L356.6,574.1L355.1,572.5L354.5,570.8L352.8,570.2L352.8,571.8L354.5,574.1L356.1,576.1L357.3,578.0L358.2,579.0L357.4,579.2L355.6,577.4L354.0,575.4L353.0,574.3L352.5,572.5L351.5,571.2L350.3,569.4L348.9,567.9L346.7,567.4L345.5,565.3L344.8,563.9L343.5,562.7L342.9,561.1L343.0,558.6L343.2,555.5L342.5,553.0L344.2,553.1L344.8,553.9L344.4,552.4L342.7,551.3L340.1,550.3L339.1,548.8L337.0,546.7L335.5,545.6L333.4,543.6L331.4,542.2L329.3,542.3L326.7,541.2L323.1,541.0L320.5,540.2L318.0,540.7L316.4,541.7L314.7,541.7L315.4,540.0L312.8,541.5L311.8,542.5L309.2,544.1L307.1,545.3L304.0,546.1L301.5,546.6L303.0,545.5L305.6,544.8L308.2,543.1L309.2,542.2L307.1,542.4L304.0,542.3L304.0,541.1L301.5,540.5L300.4,539.5L299.9,538.6L301.5,537.7L305.1,537.4L305.1,536.4L303.0,536.4L299.4,536.1ZM395.8,522.2L400.9,520.3L406.1,518.8L414.3,518.0L424.6,517.4L437.0,516.7L446.3,517.8L450.4,518.8L458.6,518.8L453.5,520.3L451.4,522.4L450.9,524.5L450.4,526.0L448.3,527.6L446.8,529.1L448.3,530.4L445.8,531.2L443.2,532.2L439.1,532.6L436.0,534.3L432.4,535.1L429.8,535.8L428.7,537.4L427.2,539.5L426.2,541.0L424.1,540.8L421.5,540.0L419.5,538.4L417.9,536.9L416.4,534.8L415.6,532.7L418.4,531.2L414.8,530.1L414.3,528.6L412.3,526.5L410.2,524.7L406.1,524.3L400.9,524.5L397.8,523.2ZM388.6,526.8L392.7,527.8L397.8,529.6L400.9,530.7L402.0,532.2L407.1,534.0L405.6,535.8L404.0,537.4L403.0,538.9L400.4,538.4L397.3,537.4L394.7,536.4L391.1,536.6L390.6,535.3L394.7,534.5L395.8,532.7L391.6,531.0L389.6,530.4L383.4,530.7L379.8,529.6L378.2,528.1L379.3,526.8L383.4,526.8ZM350.4,529.3L348.4,529.1L349.9,527.6L353.5,527.3L359.7,527.6L362.8,528.1L365.9,530.1L362.8,531.7L357.6,532.1L354.0,532.1L350.9,531.2L350.4,530.1ZM342.2,528.6L343.7,526.7L348.4,526.3L351.5,527.3L348.4,528.9L344.2,529.4ZM378.2,524.0L382.4,522.4L381.3,520.3L377.2,519.1L383.4,518.0L393.7,517.2L406.1,517.8L404.0,519.0L398.9,520.0L394.7,521.1L392.7,522.4L389.6,523.4L387.5,524.2ZM373.1,521.1L376.2,519.3L380.3,520.3L378.2,521.9ZM376.2,524.2L379.3,525.0L388.6,525.9L388.6,524.8L384.4,524.1L378.2,523.6ZM350.4,525.3L354.5,526.0L361.2,525.5L361.8,524.5L357.6,524.0L351.5,524.2ZM365.9,529.1L371.0,528.9L371.0,527.0L366.4,526.7ZM372.6,528.6L377.7,527.9L377.7,526.5L373.1,526.4ZM363.8,525.3L370.0,525.5L371.0,524.0L364.9,523.7ZM381.3,537.4L384.4,535.3L388.0,536.9L386.5,537.9L382.9,537.7ZM409.9,553.7L412.3,549.9L413.8,549.7L413.3,551.3L415.9,552.1L416.4,553.9L416.2,554.7L413.8,554.5L412.3,553.8ZM338.8,550.6L342.2,551.3L343.7,552.9L341.7,552.6L339.6,551.3ZM383.4,580.5L386.0,579.1L388.6,579.1L391.1,580.6L393.2,581.5L394.5,582.1L391.1,582.4L390.6,581.6L388.6,580.6L386.5,579.9L384.9,580.3ZM394.3,584.0L395.8,582.4L398.9,582.5L400.5,583.8L398.9,584.2L397.3,584.7L396.3,584.2ZM390.3,584.0L392.4,584.2L391.6,584.6L390.4,584.4ZM401.7,583.9L403.3,584.0L403.2,584.4L401.8,584.4ZM310.2,582.1L311.3,582.5L310.7,583.4L310.2,582.9ZM308.0,580.7L308.5,580.9L308.2,581.1ZM306.4,580.1L306.8,580.2L306.6,580.4ZM309.5,581.4L310.2,581.5L309.8,581.7ZM376.7,603.3L377.4,603.5L376.9,604.0ZM408.1,656.2L411.2,656.1L410.7,656.9L408.7,656.9ZM431.8,658.8L433.9,659.3L433.6,659.6L431.8,659.1ZM400.4,657.5L403.5,659.4L402.0,660.0L398.9,660.0L396.8,659.1L398.3,658.3ZM170.9,653.6L172.4,653.7L172.1,654.4L171.1,654.3ZM282.7,621.1L284.0,621.2L283.7,621.8L282.8,621.7ZM284.3,620.0L285.5,619.7L285.0,620.4ZM269.0,623.9L270.6,624.7L272.1,626.0L271.6,626.1L270.0,625.3L269.0,624.3ZM271.7,618.5L272.3,618.8L272.6,620.0L272.3,619.8ZM261.3,610.0L262.8,610.8L264.7,611.7L264.4,611.9L262.3,611.1ZM264.7,612.6L265.7,613.0L266.4,613.7L265.4,613.3ZM259.4,608.7L260.5,609.4L260.7,610.0L259.7,609.5ZM255.4,605.7L256.6,606.4L257.7,607.6L257.3,607.6L256.1,606.4ZM124.2,566.3L127.1,566.5L126.8,566.8L124.3,566.6ZM133.3,566.8L135.6,566.2L135.0,566.9L133.7,567.2ZM112.9,563.7L116.0,563.5L115.7,565.1L113.0,564.2ZM108.5,560.6L110.0,560.6L109.9,562.5L108.8,562.7ZM109.0,559.0L109.8,558.6L109.7,560.1L109.1,560.0ZM154.9,590.0L156.2,590.0L156.0,590.3L155.0,590.2ZM140.4,609.0L140.7,609.2L140.6,609.6ZM250.5,557.0L252.5,556.2L254.6,555.3L254.4,555.1L252.3,555.9ZM297.9,547.9L299.4,547.3L299.1,547.7ZM289.6,549.5L291.7,549.1L291.2,549.3ZM311.8,543.9L313.8,543.1L314.0,543.7L312.5,544.3ZM333.9,547.2L335.2,547.2L335.8,549.0L334.8,548.4ZM393.7,674.8L398.9,674.3L399.9,676.4L396.8,677.9L393.2,676.9ZM365.9,677.3L372.1,677.4L371.0,678.0L366.9,677.9ZM302.0,684.4L306.1,684.3L305.6,685.5L302.5,685.5ZM271.1,682.8L274.2,682.9L273.6,683.4L271.4,683.4ZM419.5,684.2L424.6,684.1L423.6,685.7L419.5,685.7ZM376.2,554.7L380.3,552.9L383.4,553.6L383.7,554.8L381.3,555.0L378.2,554.7ZM380.5,559.6L382.1,559.6L382.9,556.5L383.4,555.7L381.3,556.0L380.5,557.5ZM383.9,555.5L387.5,555.5L388.6,556.7L386.8,558.4L386.0,558.4L384.9,557.0ZM385.2,559.8L389.6,558.8L389.6,559.1L387.5,560.0L385.5,560.1ZM388.9,558.3L392.4,557.5L392.4,558.0L389.6,558.4ZM369.2,547.5L370.5,547.4L371.8,550.8L371.0,551.0L369.5,549.3ZM350.4,540.0L353.5,538.6L358.2,538.1L356.6,539.1L353.5,540.0ZM342.2,535.0L345.3,534.0L349.4,534.3L348.9,535.5L345.3,535.8ZM132.8,603.3L135.0,602.8L135.0,605.1L134.0,605.9L133.0,605.4ZM130.2,606.6L130.7,607.6L131.7,611.3L132.2,612.0L131.4,611.8L130.2,609.2L129.9,607.1ZM135.0,612.8L135.9,614.4L136.1,617.7L135.7,617.7L135.2,615.4L134.9,613.9ZM137.1,598.4L137.4,599.4L137.6,600.4L137.1,599.9ZM131.4,541.0L133.5,540.5L133.8,539.7L131.9,539.3L130.9,540.0ZM135.6,540.0L137.1,539.7L136.6,538.4L135.6,538.7ZM398.9,618.9L399.9,619.5L400.1,620.0L399.1,619.5ZM356.1,542.4L359.7,541.8L361.8,541.6L358.7,542.1ZM364.9,544.8L366.4,543.6L365.9,543.1L364.9,543.8ZM100.0,675.1L110.3,675.3L120.6,675.3L127.8,674.8L134.0,674.1L141.2,673.6L147.4,672.8L151.5,672.0L156.7,671.2L161.8,672.5L168.0,673.1L172.1,673.8L175.2,675.0L179.4,674.3L182.4,672.9L188.6,672.0L192.8,671.9L197.9,671.2L203.1,671.0L208.2,671.5L213.4,671.4L218.5,671.7L223.7,672.0L228.8,671.5L234.0,671.4L239.1,671.4L244.3,672.0L249.4,672.4L254.6,673.8L259.7,674.6L264.9,675.5L270.0,676.2L275.2,676.8L276.2,677.9L273.1,679.5L270.0,681.0L268.5,683.6L266.9,685.7L268.0,688.2L273.1,689.8L285.5,690.4L301.0,690.8L311.3,690.6L318.5,689.8L320.5,686.7L319.5,684.6L316.4,683.4L320.5,682.6L326.7,681.3L332.9,680.3L339.1,680.1L347.3,679.8L353.5,679.3L357.6,680.3L363.8,680.0L367.9,679.0L372.1,678.4L378.2,678.2L383.4,678.7L388.6,678.4L393.7,678.6L396.8,676.9L399.9,674.3L402.0,672.2L405.0,670.7L408.1,669.1L411.2,668.3L413.3,668.6L412.3,669.6L409.2,670.7L407.1,672.2L406.1,674.3L407.1,676.4L407.1,678.4L405.0,680.5L402.0,682.0L404.0,683.6L414.3,684.1L424.6,684.2L431.8,683.6L437.0,682.6L442.1,681.3L448.3,679.5L453.5,678.2L458.6,677.2L462.8,676.2L466.9,675.5L471.0,675.1" fill="none" stroke="#000" stroke-width="0.8" stroke-linejoin="round"/></g><rect x="100.5" y="510.5" width="370" height="185.0" fill="none" stroke="#000" stroke-opacity="0.62" stroke-width="1"/><text x="285.6" y="14.1" font-size="12.7" text-anchor="middle"  xml:space="preserve" style="white-space:pre">fmerra.2.1003.FCSD.f09.qfedcmip.56L.001 (yrs 2001-2014)</text><text x="100.4" y="31.7" font-size="10.2" text-anchor="start"  xml:space="preserve" style="white-space:pre">TOA clearsky upward LW</text><text x="285.5" y="33.8" font-size="10.1" text-anchor="middle"  xml:space="preserve" style="white-space:pre">mean= 260.30</text><text x="471" y="33.8" font-size="10.1" text-anchor="end">W/m<tspan font-size="6.5" dy="-4.3">2</tspan></text><text x="512.6" y="27.6" font-size="20.3" text-anchor="start" font-weight="bold" xml:space="preserve" style="white-space:pre">DJF</text><text x="485.4" y="63.6" font-size="9.1" text-anchor="start"  xml:space="preserve" style="white-space:pre">Min = 154.49 Max = 310.43</text><text x="285.6" y="247.8" font-size="12.7" text-anchor="middle"  xml:space="preserve" style="white-space:pre">CERES-EBAF</text><text x="100.4" y="265.2" font-size="10.2" text-anchor="start"  xml:space="preserve" style="white-space:pre">TOA clearsky upward LW</text><text x="285.5" y="267.3" font-size="10.1" text-anchor="middle"  xml:space="preserve" style="white-space:pre">mean= 262.58</text><text x="471" y="267.3" font-size="10.1" text-anchor="end">W/m<tspan font-size="6.5" dy="-4.3">2</tspan></text><text x="485.4" y="297.1" font-size="9.1" text-anchor="start"  xml:space="preserve" style="white-space:pre">Min = 161.09 Max = 334.68</text><text x="285.6" y="480.7" font-size="12.7" text-anchor="middle"  xml:space="preserve" style="white-space:pre">fmerra.2.1003.FCSD.f09.qfedcmip.56L.001 - CERES-EBAF</text><text x="99.8" y="500.3" font-size="10.25" text-anchor="start"  xml:space="preserve" style="white-space:pre">mean =  -2.28</text><text x="285.5" y="500.3" font-size="10.25" text-anchor="middle"  xml:space="preserve" style="white-space:pre">rmse =   4.59</text><text x="471" y="500.3" font-size="10.1" text-anchor="end">W/m<tspan font-size="6.5" dy="-4.3">2</tspan></text><text x="485.4" y="530.6" font-size="9.1" text-anchor="start"  xml:space="preserve" style="white-space:pre">Min = -39.23 Max =  22.79</text><rect x="523" y="79.00" width="17" height="9.18" fill="#8b0000"/><rect x="523" y="88.12" width="17" height="9.18" fill="#bb2200"/><rect x="523" y="97.25" width="17" height="9.18" fill="#e63200"/><rect x="523" y="106.38" width="17" height="9.18" fill="#ff501a"/><rect x="523" y="115.50" width="17" height="9.18" fill="#ff7840"/><rect x="523" y="124.62" width="17" height="9.18" fill="#ffa882"/><rect x="523" y="133.75" width="17" height="9.18" fill="#ffd0b8"/><rect x="523" y="142.88" width="17" height="9.18" fill="#ffebda"/><rect x="523" y="152.00" width="17" height="9.18" fill="#d7ebff"/><rect x="523" y="161.12" width="17" height="9.18" fill="#b4cdff"/><rect x="523" y="170.25" width="17" height="9.18" fill="#87aaff"/><rect x="523" y="179.38" width="17" height="9.18" fill="#4678ff"/><rect x="523" y="188.50" width="17" height="9.18" fill="#1e50ff"/><rect x="523" y="197.62" width="17" height="9.18" fill="#0a2de1"/><rect x="523" y="206.75" width="17" height="9.18" fill="#081eb4"/><rect x="523" y="215.88" width="17" height="9.18" fill="#000087"/><line x1="523" y1="88.12" x2="540" y2="88.12" stroke="#000" stroke-width="0.7"/><line x1="523" y1="97.25" x2="540" y2="97.25" stroke="#000" stroke-width="0.7"/><line x1="523" y1="106.38" x2="540" y2="106.38" stroke="#000" stroke-width="0.7"/><line x1="523" y1="115.50" x2="540" y2="115.50" stroke="#000" stroke-width="0.7"/><line x1="523" y1="124.62" x2="540" y2="124.62" stroke="#000" stroke-width="0.7"/><line x1="523" y1="133.75" x2="540" y2="133.75" stroke="#000" stroke-width="0.7"/><line x1="523" y1="142.88" x2="540" y2="142.88" stroke="#000" stroke-width="0.7"/><line x1="523" y1="152.00" x2="540" y2="152.00" stroke="#000" stroke-width="0.7"/><line x1="523" y1="161.12" x2="540" y2="161.12" stroke="#000" stroke-width="0.7"/><line x1="523" y1="170.25" x2="540" y2="170.25" stroke="#000" stroke-width="0.7"/><line x1="523" y1="179.38" x2="540" y2="179.38" stroke="#000" stroke-width="0.7"/><line x1="523" y1="188.50" x2="540" y2="188.50" stroke="#000" stroke-width="0.7"/><line x1="523" y1="197.62" x2="540" y2="197.62" stroke="#000" stroke-width="0.7"/><line x1="523" y1="206.75" x2="540" y2="206.75" stroke="#000" stroke-width="0.7"/><line x1="523" y1="215.88" x2="540" y2="215.88" stroke="#000" stroke-width="0.7"/><rect x="523" y="79" width="17" height="146.0" fill="none" stroke="#000" stroke-width="0.5"/><text x="552.5" y="90.72" font-size="8.0" text-anchor="middle">310</text><text x="552.5" y="99.85" font-size="8.0" text-anchor="middle">300</text><text x="552.5" y="108.97" font-size="8.0" text-anchor="middle">290</text><text x="552.5" y="118.10" font-size="8.0" text-anchor="middle">280</text><text x="552.5" y="127.22" font-size="8.0" text-anchor="middle">270</text><text x="552.5" y="136.35" font-size="8.0" text-anchor="middle">255</text><text x="552.5" y="145.47" font-size="8.0" text-anchor="middle">240</text><text x="552.5" y="154.60" font-size="8.0" text-anchor="middle">225</text><text x="552.5" y="163.72" font-size="8.0" text-anchor="middle">210</text><text x="552.5" y="172.85" font-size="8.0" text-anchor="middle">195</text><text x="552.5" y="181.97" font-size="8.0" text-anchor="middle">180</text><text x="552.5" y="191.10" font-size="8.0" text-anchor="middle">165</text><text x="552.5" y="200.22" font-size="8.0" text-anchor="middle">150</text><text x="552.5" y="209.35" font-size="8.0" text-anchor="middle">135</text><text x="552.5" y="218.47" font-size="8.0" text-anchor="middle">120</text><rect x="523" y="312.50" width="17" height="9.18" fill="#8b0000"/><rect x="523" y="321.62" width="17" height="9.18" fill="#bb2200"/><rect x="523" y="330.75" width="17" height="9.18" fill="#e63200"/><rect x="523" y="339.88" width="17" height="9.18" fill="#ff501a"/><rect x="523" y="349.00" width="17" height="9.18" fill="#ff7840"/><rect x="523" y="358.12" width="17" height="9.18" fill="#ffa882"/><rect x="523" y="367.25" width="17" height="9.18" fill="#ffd0b8"/><rect x="523" y="376.38" width="17" height="9.18" fill="#ffebda"/><rect x="523" y="385.50" width="17" height="9.18" fill="#d7ebff"/><rect x="523" y="394.62" width="17" height="9.18" fill="#b4cdff"/><rect x="523" y="403.75" width="17" height="9.18" fill="#87aaff"/><rect x="523" y="412.88" width="17" height="9.18" fill="#4678ff"/><rect x="523" y="422.00" width="17" height="9.18" fill="#1e50ff"/><rect x="523" y="431.12" width="17" height="9.18" fill="#0a2de1"/><rect x="523" y="440.25" width="17" height="9.18" fill="#081eb4"/><rect x="523" y="449.38" width="17" height="9.18" fill="#000087"/><line x1="523" y1="321.62" x2="540" y2="321.62" stroke="#000" stroke-width="0.7"/><line x1="523" y1="330.75" x2="540" y2="330.75" stroke="#000" stroke-width="0.7"/><line x1="523" y1="339.88" x2="540" y2="339.88" stroke="#000" stroke-width="0.7"/><line x1="523" y1="349.00" x2="540" y2="349.00" stroke="#000" stroke-width="0.7"/><line x1="523" y1="358.12" x2="540" y2="358.12" stroke="#000" stroke-width="0.7"/><line x1="523" y1="367.25" x2="540" y2="367.25" stroke="#000" stroke-width="0.7"/><line x1="523" y1="376.38" x2="540" y2="376.38" stroke="#000" stroke-width="0.7"/><line x1="523" y1="385.50" x2="540" y2="385.50" stroke="#000" stroke-width="0.7"/><line x1="523" y1="394.62" x2="540" y2="394.62" stroke="#000" stroke-width="0.7"/><line x1="523" y1="403.75" x2="540" y2="403.75" stroke="#000" stroke-width="0.7"/><line x1="523" y1="412.88" x2="540" y2="412.88" stroke="#000" stroke-width="0.7"/><line x1="523" y1="422.00" x2="540" y2="422.00" stroke="#000" stroke-width="0.7"/><line x1="523" y1="431.12" x2="540" y2="431.12" stroke="#000" stroke-width="0.7"/><line x1="523" y1="440.25" x2="540" y2="440.25" stroke="#000" stroke-width="0.7"/><line x1="523" y1="449.38" x2="540" y2="449.38" stroke="#000" stroke-width="0.7"/><rect x="523" y="312.5" width="17" height="146.0" fill="none" stroke="#000" stroke-width="0.5"/><text x="552.5" y="324.23" font-size="8.0" text-anchor="middle">310</text><text x="552.5" y="333.35" font-size="8.0" text-anchor="middle">300</text><text x="552.5" y="342.48" font-size="8.0" text-anchor="middle">290</text><text x="552.5" y="351.60" font-size="8.0" text-anchor="middle">280</text><text x="552.5" y="360.73" font-size="8.0" text-anchor="middle">270</text><text x="552.5" y="369.85" font-size="8.0" text-anchor="middle">255</text><text x="552.5" y="378.98" font-size="8.0" text-anchor="middle">240</text><text x="552.5" y="388.10" font-size="8.0" text-anchor="middle">225</text><text x="552.5" y="397.23" font-size="8.0" text-anchor="middle">210</text><text x="552.5" y="406.35" font-size="8.0" text-anchor="middle">195</text><text x="552.5" y="415.48" font-size="8.0" text-anchor="middle">180</text><text x="552.5" y="424.60" font-size="8.0" text-anchor="middle">165</text><text x="552.5" y="433.73" font-size="8.0" text-anchor="middle">150</text><text x="552.5" y="442.85" font-size="8.0" text-anchor="middle">135</text><text x="552.5" y="451.98" font-size="8.0" text-anchor="middle">120</text><rect x="522" y="546.00" width="16.5" height="9.18" fill="#8b0000"/><rect x="522" y="555.12" width="16.5" height="9.18" fill="#bb2200"/><rect x="522" y="564.25" width="16.5" height="9.18" fill="#e63200"/><rect x="522" y="573.38" width="16.5" height="9.18" fill="#ff501a"/><rect x="522" y="582.50" width="16.5" height="9.18" fill="#ff7840"/><rect x="522" y="591.62" width="16.5" height="9.18" fill="#ffa882"/><rect x="522" y="600.75" width="16.5" height="9.18" fill="#ffd0b8"/><rect x="522" y="609.88" width="16.5" height="9.18" fill="#ffebda"/><rect x="522" y="619.00" width="16.5" height="9.18" fill="#d7ebff"/><rect x="522" y="628.12" width="16.5" height="9.18" fill="#b4cdff"/><rect x="522" y="637.25" width="16.5" height="9.18" fill="#87aaff"/><rect x="522" y="646.38" width="16.5" height="9.18" fill="#4678ff"/><rect x="522" y="655.50" width="16.5" height="9.18" fill="#1e50ff"/><rect x="522" y="664.62" width="16.5" height="9.18" fill="#0a2de1"/><rect x="522" y="673.75" width="16.5" height="9.18" fill="#081eb4"/><rect x="522" y="682.88" width="16.5" height="9.18" fill="#000087"/><line x1="522" y1="555.12" x2="538.5" y2="555.12" stroke="#000" stroke-width="0.7"/><line x1="522" y1="564.25" x2="538.5" y2="564.25" stroke="#000" stroke-width="0.7"/><line x1="522" y1="573.38" x2="538.5" y2="573.38" stroke="#000" stroke-width="0.7"/><line x1="522" y1="582.50" x2="538.5" y2="582.50" stroke="#000" stroke-width="0.7"/><line x1="522" y1="591.62" x2="538.5" y2="591.62" stroke="#000" stroke-width="0.7"/><line x1="522" y1="600.75" x2="538.5" y2="600.75" stroke="#000" stroke-width="0.7"/><line x1="522" y1="609.88" x2="538.5" y2="609.88" stroke="#000" stroke-width="0.7"/><line x1="522" y1="619.00" x2="538.5" y2="619.00" stroke="#000" stroke-width="0.7"/><line x1="522" y1="628.12" x2="538.5" y2="628.12" stroke="#000" stroke-width="0.7"/><line x1="522" y1="637.25" x2="538.5" y2="637.25" stroke="#000" stroke-width="0.7"/><line x1="522" y1="646.38" x2="538.5" y2="646.38" stroke="#000" stroke-width="0.7"/><line x1="522" y1="655.50" x2="538.5" y2="655.50" stroke="#000" stroke-width="0.7"/><line x1="522" y1="664.62" x2="538.5" y2="664.62" stroke="#000" stroke-width="0.7"/><line x1="522" y1="673.75" x2="538.5" y2="673.75" stroke="#000" stroke-width="0.7"/><line x1="522" y1="682.88" x2="538.5" y2="682.88" stroke="#000" stroke-width="0.7"/><rect x="522" y="546" width="16.5" height="146.0" fill="none" stroke="#000" stroke-width="0.5"/><text x="550" y="557.73" font-size="7.7" text-anchor="middle">80</text><text x="550" y="566.85" font-size="7.7" text-anchor="middle">60</text><text x="550" y="575.98" font-size="7.7" text-anchor="middle">40</text><text x="550" y="585.10" font-size="7.7" text-anchor="middle">30</text><text x="550" y="594.23" font-size="7.7" text-anchor="middle">20</text><text x="550" y="603.35" font-size="7.7" text-anchor="middle">10</text><text x="550" y="612.48" font-size="7.7" text-anchor="middle">5</text><text x="550" y="621.60" font-size="7.7" text-anchor="middle">0</text><text x="550" y="630.73" font-size="7.7" text-anchor="middle">-5</text><text x="550" y="639.85" font-size="7.7" text-anchor="middle">-10</text><text x="550" y="648.98" font-size="7.7" text-anchor="middle">-20</text><text x="550" y="658.10" font-size="7.7" text-anchor="middle">-30</text><text x="550" y="667.23" font-size="7.7" text-anchor="middle">-40</text><text x="550" y="676.35" font-size="7.7" text-anchor="middle">-60</text><text x="550" y="685.48" font-size="7.7" text-anchor="middle">-80</text></svg></body></html>
